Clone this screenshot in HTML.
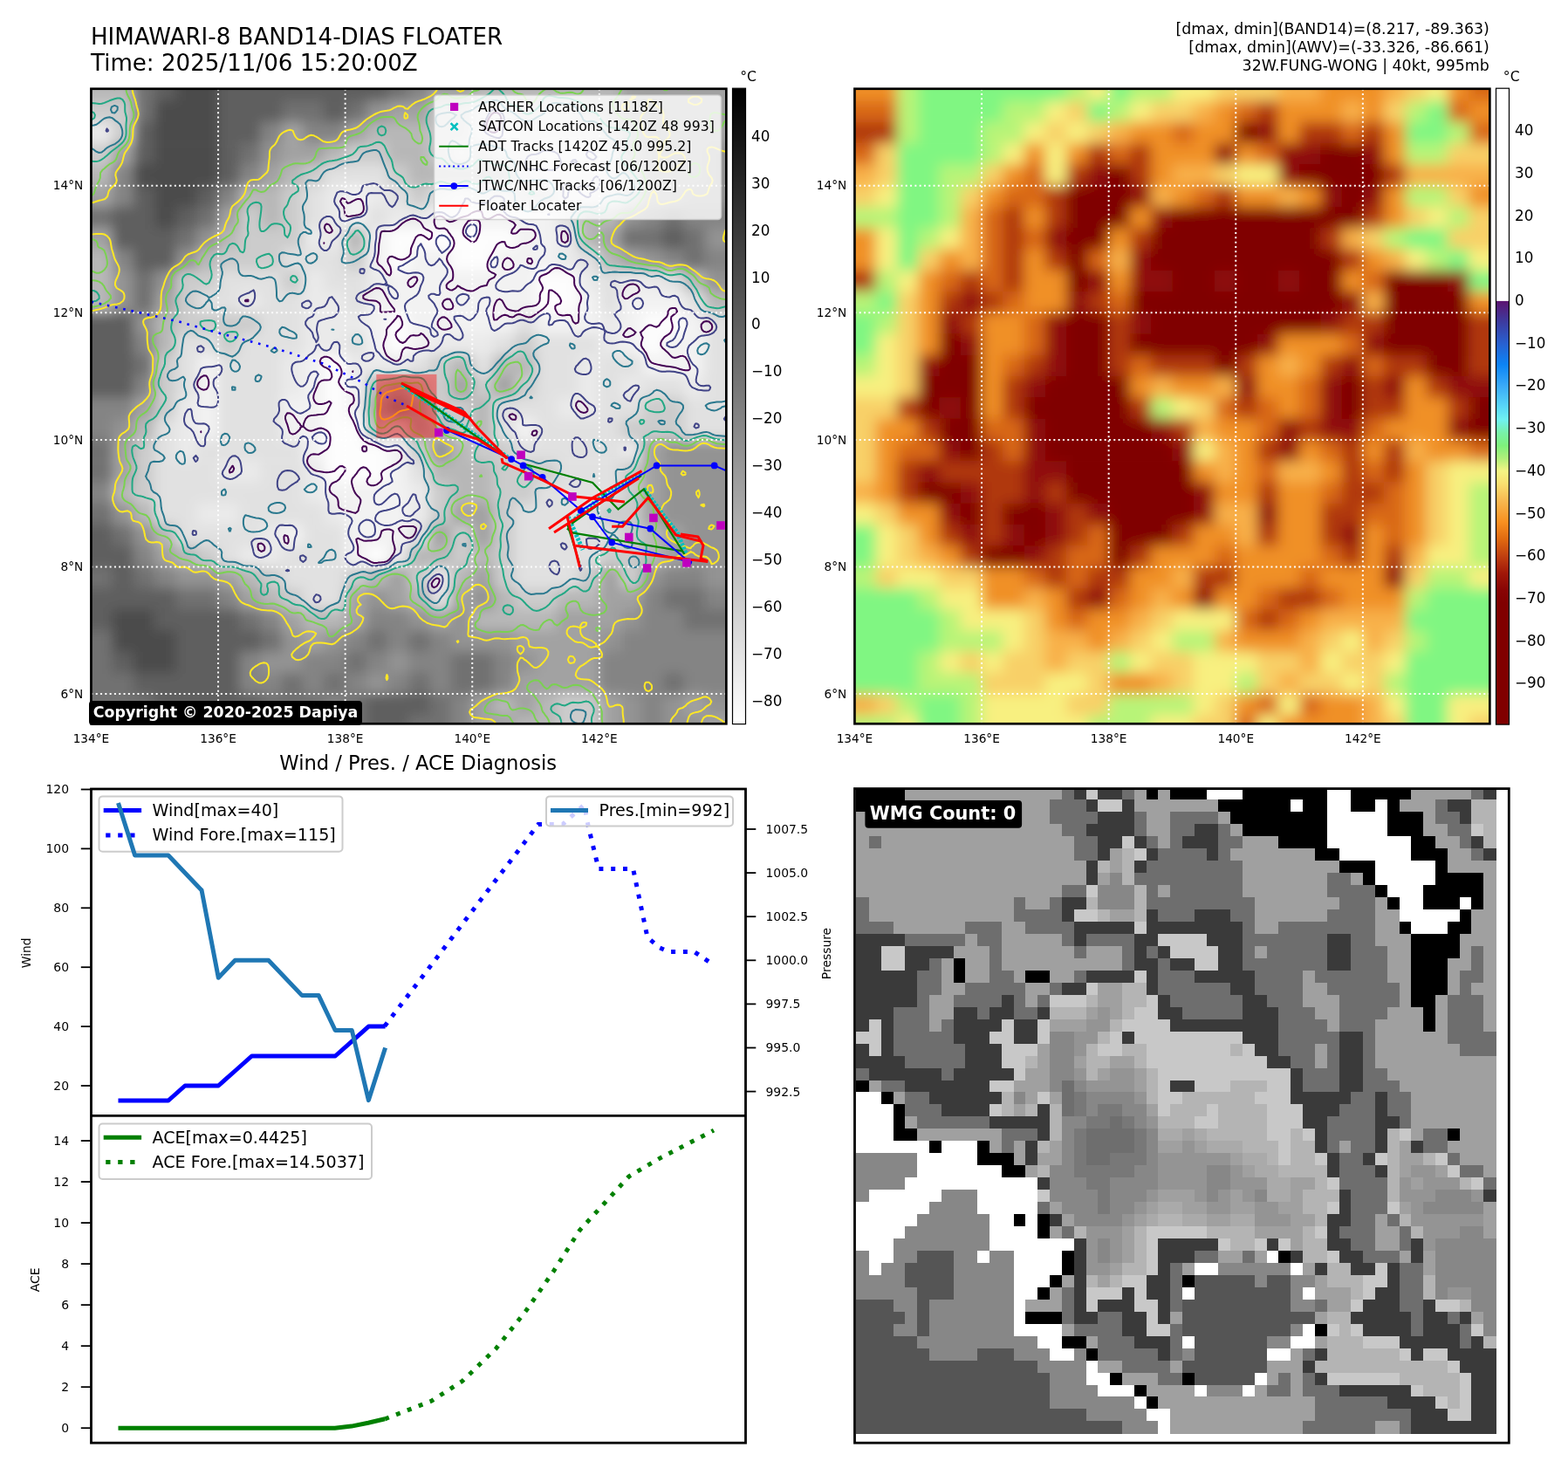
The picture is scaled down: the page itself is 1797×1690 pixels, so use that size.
<!DOCTYPE html><html><head><meta charset="utf-8"><style>html,body{margin:0;padding:0;background:#fff;overflow:hidden}</style></head><body><svg xmlns="http://www.w3.org/2000/svg" width="1797" height="1690" viewBox="0 0 1797 1690" style="font-family:'DejaVu Sans','Liberation Sans',sans-serif;display:block">
<rect width="100%" height="100%" fill="#fff"/>
<defs></defs>
<text x="104.00" y="50.90" font-size="26.1" text-anchor="start" font-weight="normal" fill="#000" >HIMAWARI-8 BAND14-DIAS FLOATER</text>
<text x="104.00" y="81.00" font-size="26.1" text-anchor="start" font-weight="normal" fill="#000" >Time: 2025/11/06 15:20:00Z</text>
<text x="1706.80" y="39.40" font-size="17.4" text-anchor="end" font-weight="normal" fill="#000" >[dmax, dmin](BAND14)=(8.217, -89.363)</text>
<text x="1706.80" y="60.25" font-size="17.4" text-anchor="end" font-weight="normal" fill="#000" >[dmax, dmin](AWV)=(-33.326, -86.661)</text>
<text x="1706.80" y="81.10" font-size="17.4" text-anchor="end" font-weight="normal" fill="#000" >32W.FUNG-WONG | 40kt, 995mb</text>
<clipPath id="cm1"><rect x="104.45" y="101.75" width="727.90" height="727.50"/></clipPath><filter id="bl1" x="-5%" y="-5%" width="110%" height="110%"><feGaussianBlur stdDeviation="7"/></filter><g clip-path="url(#cm1)"><g filter="url(#bl1)"><rect x="80.2" y="67.1" width="73.4" height="24.9" fill="#b7b7b7"/><rect x="153.0" y="67.1" width="24.9" height="24.9" fill="#717171"/><rect x="177.3" y="67.1" width="24.9" height="24.9" fill="#5e5e5e"/><rect x="201.5" y="67.1" width="49.1" height="24.9" fill="#4c4c4c"/><rect x="250.1" y="67.1" width="194.8" height="24.9" fill="#5e5e5e"/><rect x="444.2" y="67.1" width="24.9" height="24.9" fill="#717171"/><rect x="468.5" y="67.1" width="24.9" height="24.9" fill="#848484"/><rect x="492.8" y="67.1" width="49.1" height="24.9" fill="#a2a2a2"/><rect x="541.3" y="67.1" width="170.5" height="24.9" fill="#b7b7b7"/><rect x="711.2" y="67.1" width="146.2" height="24.9" fill="#a2a2a2"/><rect x="80.2" y="91.3" width="73.4" height="24.9" fill="#b7b7b7"/><rect x="153.0" y="91.3" width="24.9" height="24.9" fill="#717171"/><rect x="177.3" y="91.3" width="24.9" height="24.9" fill="#5e5e5e"/><rect x="201.5" y="91.3" width="49.1" height="24.9" fill="#4c4c4c"/><rect x="250.1" y="91.3" width="194.8" height="24.9" fill="#5e5e5e"/><rect x="444.2" y="91.3" width="24.9" height="24.9" fill="#717171"/><rect x="468.5" y="91.3" width="24.9" height="24.9" fill="#848484"/><rect x="492.8" y="91.3" width="49.1" height="24.9" fill="#a2a2a2"/><rect x="541.3" y="91.3" width="170.5" height="24.9" fill="#b7b7b7"/><rect x="711.2" y="91.3" width="146.2" height="24.9" fill="#a2a2a2"/><rect x="80.2" y="115.6" width="73.4" height="24.9" fill="#cccccc"/><rect x="153.0" y="115.6" width="24.9" height="24.9" fill="#717171"/><rect x="177.3" y="115.6" width="73.4" height="24.9" fill="#4c4c4c"/><rect x="250.1" y="115.6" width="73.4" height="24.9" fill="#5e5e5e"/><rect x="322.9" y="115.6" width="49.1" height="24.9" fill="#717171"/><rect x="371.4" y="115.6" width="24.9" height="24.9" fill="#5e5e5e"/><rect x="395.7" y="115.6" width="24.9" height="24.9" fill="#717171"/><rect x="420.0" y="115.6" width="24.9" height="24.9" fill="#939393"/><rect x="444.2" y="115.6" width="49.1" height="24.9" fill="#a2a2a2"/><rect x="492.8" y="115.6" width="49.1" height="24.9" fill="#cccccc"/><rect x="541.3" y="115.6" width="49.1" height="24.9" fill="#e1e1e1"/><rect x="589.9" y="115.6" width="24.9" height="24.9" fill="#cccccc"/><rect x="614.1" y="115.6" width="49.1" height="24.9" fill="#e1e1e1"/><rect x="662.7" y="115.6" width="24.9" height="24.9" fill="#cccccc"/><rect x="686.9" y="115.6" width="24.9" height="24.9" fill="#b7b7b7"/><rect x="711.2" y="115.6" width="24.9" height="24.9" fill="#a2a2a2"/><rect x="735.5" y="115.6" width="24.9" height="24.9" fill="#939393"/><rect x="759.7" y="115.6" width="97.7" height="24.9" fill="#a2a2a2"/><rect x="80.2" y="139.9" width="49.1" height="24.9" fill="#eaeaea"/><rect x="128.7" y="139.9" width="24.9" height="24.9" fill="#cccccc"/><rect x="153.0" y="139.9" width="24.9" height="24.9" fill="#5e5e5e"/><rect x="177.3" y="139.9" width="73.4" height="24.9" fill="#4c4c4c"/><rect x="250.1" y="139.9" width="49.1" height="24.9" fill="#5e5e5e"/><rect x="298.6" y="139.9" width="24.9" height="24.9" fill="#848484"/><rect x="322.9" y="139.9" width="24.9" height="24.9" fill="#a2a2a2"/><rect x="347.1" y="139.9" width="49.1" height="24.9" fill="#848484"/><rect x="395.7" y="139.9" width="24.9" height="24.9" fill="#a2a2a2"/><rect x="420.0" y="139.9" width="73.4" height="24.9" fill="#b7b7b7"/><rect x="492.8" y="139.9" width="49.1" height="24.9" fill="#cccccc"/><rect x="541.3" y="139.9" width="49.1" height="24.9" fill="#eaeaea"/><rect x="589.9" y="139.9" width="97.7" height="24.9" fill="#e1e1e1"/><rect x="686.9" y="139.9" width="24.9" height="24.9" fill="#cccccc"/><rect x="711.2" y="139.9" width="24.9" height="24.9" fill="#b7b7b7"/><rect x="735.5" y="139.9" width="24.9" height="24.9" fill="#939393"/><rect x="759.7" y="139.9" width="97.7" height="24.9" fill="#a2a2a2"/><rect x="80.2" y="164.2" width="49.1" height="24.9" fill="#cccccc"/><rect x="128.7" y="164.2" width="24.9" height="24.9" fill="#a2a2a2"/><rect x="153.0" y="164.2" width="24.9" height="24.9" fill="#5e5e5e"/><rect x="177.3" y="164.2" width="73.4" height="24.9" fill="#4c4c4c"/><rect x="250.1" y="164.2" width="24.9" height="24.9" fill="#5e5e5e"/><rect x="274.3" y="164.2" width="24.9" height="24.9" fill="#717171"/><rect x="298.6" y="164.2" width="24.9" height="24.9" fill="#939393"/><rect x="322.9" y="164.2" width="49.1" height="24.9" fill="#a2a2a2"/><rect x="371.4" y="164.2" width="24.9" height="24.9" fill="#b7b7b7"/><rect x="395.7" y="164.2" width="49.1" height="24.9" fill="#cccccc"/><rect x="444.2" y="164.2" width="49.1" height="24.9" fill="#b7b7b7"/><rect x="492.8" y="164.2" width="24.9" height="24.9" fill="#cccccc"/><rect x="517.0" y="164.2" width="24.9" height="24.9" fill="#e1e1e1"/><rect x="541.3" y="164.2" width="24.9" height="24.9" fill="#cccccc"/><rect x="565.6" y="164.2" width="49.1" height="24.9" fill="#e1e1e1"/><rect x="614.1" y="164.2" width="73.4" height="24.9" fill="#eaeaea"/><rect x="686.9" y="164.2" width="24.9" height="24.9" fill="#e1e1e1"/><rect x="711.2" y="164.2" width="24.9" height="24.9" fill="#b7b7b7"/><rect x="735.5" y="164.2" width="24.9" height="24.9" fill="#a2a2a2"/><rect x="759.7" y="164.2" width="24.9" height="24.9" fill="#939393"/><rect x="784.0" y="164.2" width="24.9" height="24.9" fill="#a2a2a2"/><rect x="808.3" y="164.2" width="49.1" height="24.9" fill="#939393"/><rect x="80.2" y="188.4" width="49.1" height="24.9" fill="#b7b7b7"/><rect x="128.7" y="188.4" width="24.9" height="24.9" fill="#848484"/><rect x="153.0" y="188.4" width="97.7" height="24.9" fill="#4c4c4c"/><rect x="250.1" y="188.4" width="24.9" height="24.9" fill="#5e5e5e"/><rect x="274.3" y="188.4" width="24.9" height="24.9" fill="#848484"/><rect x="298.6" y="188.4" width="24.9" height="24.9" fill="#a2a2a2"/><rect x="322.9" y="188.4" width="24.9" height="24.9" fill="#b7b7b7"/><rect x="347.1" y="188.4" width="24.9" height="24.9" fill="#cccccc"/><rect x="371.4" y="188.4" width="73.4" height="24.9" fill="#e1e1e1"/><rect x="444.2" y="188.4" width="24.9" height="24.9" fill="#cccccc"/><rect x="468.5" y="188.4" width="121.9" height="24.9" fill="#b7b7b7"/><rect x="589.9" y="188.4" width="24.9" height="24.9" fill="#e1e1e1"/><rect x="614.1" y="188.4" width="73.4" height="24.9" fill="#eaeaea"/><rect x="686.9" y="188.4" width="24.9" height="24.9" fill="#e1e1e1"/><rect x="711.2" y="188.4" width="24.9" height="24.9" fill="#cccccc"/><rect x="735.5" y="188.4" width="73.4" height="24.9" fill="#a2a2a2"/><rect x="808.3" y="188.4" width="49.1" height="24.9" fill="#939393"/><rect x="80.2" y="212.7" width="49.1" height="24.9" fill="#a2a2a2"/><rect x="128.7" y="212.7" width="24.9" height="24.9" fill="#848484"/><rect x="153.0" y="212.7" width="24.9" height="24.9" fill="#5e5e5e"/><rect x="177.3" y="212.7" width="49.1" height="24.9" fill="#4c4c4c"/><rect x="225.8" y="212.7" width="24.9" height="24.9" fill="#5e5e5e"/><rect x="250.1" y="212.7" width="24.9" height="24.9" fill="#848484"/><rect x="274.3" y="212.7" width="49.1" height="24.9" fill="#b7b7b7"/><rect x="322.9" y="212.7" width="24.9" height="24.9" fill="#cccccc"/><rect x="347.1" y="212.7" width="24.9" height="24.9" fill="#e1e1e1"/><rect x="371.4" y="212.7" width="24.9" height="24.9" fill="#eaeaea"/><rect x="395.7" y="212.7" width="24.9" height="24.9" fill="#f2f2f2"/><rect x="420.0" y="212.7" width="24.9" height="24.9" fill="#eaeaea"/><rect x="444.2" y="212.7" width="24.9" height="24.9" fill="#e1e1e1"/><rect x="468.5" y="212.7" width="24.9" height="24.9" fill="#cccccc"/><rect x="492.8" y="212.7" width="24.9" height="24.9" fill="#e1e1e1"/><rect x="517.0" y="212.7" width="24.9" height="24.9" fill="#eaeaea"/><rect x="541.3" y="212.7" width="49.1" height="24.9" fill="#e1e1e1"/><rect x="589.9" y="212.7" width="49.1" height="24.9" fill="#cccccc"/><rect x="638.4" y="212.7" width="49.1" height="24.9" fill="#eaeaea"/><rect x="686.9" y="212.7" width="24.9" height="24.9" fill="#e1e1e1"/><rect x="711.2" y="212.7" width="24.9" height="24.9" fill="#cccccc"/><rect x="735.5" y="212.7" width="49.1" height="24.9" fill="#a2a2a2"/><rect x="784.0" y="212.7" width="73.4" height="24.9" fill="#939393"/><rect x="80.2" y="237.0" width="49.1" height="24.9" fill="#717171"/><rect x="128.7" y="237.0" width="49.1" height="24.9" fill="#5e5e5e"/><rect x="177.3" y="237.0" width="24.9" height="24.9" fill="#4c4c4c"/><rect x="201.5" y="237.0" width="24.9" height="24.9" fill="#5e5e5e"/><rect x="225.8" y="237.0" width="24.9" height="24.9" fill="#717171"/><rect x="250.1" y="237.0" width="24.9" height="24.9" fill="#a2a2a2"/><rect x="274.3" y="237.0" width="24.9" height="24.9" fill="#cccccc"/><rect x="298.6" y="237.0" width="24.9" height="24.9" fill="#b7b7b7"/><rect x="322.9" y="237.0" width="24.9" height="24.9" fill="#cccccc"/><rect x="347.1" y="237.0" width="24.9" height="24.9" fill="#e1e1e1"/><rect x="371.4" y="237.0" width="24.9" height="24.9" fill="#eaeaea"/><rect x="395.7" y="237.0" width="24.9" height="24.9" fill="#f2f2f2"/><rect x="420.0" y="237.0" width="24.9" height="24.9" fill="#e1e1e1"/><rect x="444.2" y="237.0" width="49.1" height="24.9" fill="#eaeaea"/><rect x="492.8" y="237.0" width="146.2" height="24.9" fill="#f2f2f2"/><rect x="638.4" y="237.0" width="24.9" height="24.9" fill="#e1e1e1"/><rect x="662.7" y="237.0" width="49.1" height="24.9" fill="#b7b7b7"/><rect x="711.2" y="237.0" width="24.9" height="24.9" fill="#939393"/><rect x="735.5" y="237.0" width="24.9" height="24.9" fill="#848484"/><rect x="759.7" y="237.0" width="24.9" height="24.9" fill="#717171"/><rect x="784.0" y="237.0" width="73.4" height="24.9" fill="#848484"/><rect x="80.2" y="261.2" width="49.1" height="24.9" fill="#a2a2a2"/><rect x="128.7" y="261.2" width="73.4" height="24.9" fill="#5e5e5e"/><rect x="201.5" y="261.2" width="24.9" height="24.9" fill="#717171"/><rect x="225.8" y="261.2" width="24.9" height="24.9" fill="#939393"/><rect x="250.1" y="261.2" width="24.9" height="24.9" fill="#b7b7b7"/><rect x="274.3" y="261.2" width="73.4" height="24.9" fill="#cccccc"/><rect x="347.1" y="261.2" width="49.1" height="24.9" fill="#eaeaea"/><rect x="395.7" y="261.2" width="24.9" height="24.9" fill="#b7b7b7"/><rect x="420.0" y="261.2" width="24.9" height="24.9" fill="#f2f2f2"/><rect x="444.2" y="261.2" width="146.2" height="24.9" fill="#fdfdfd"/><rect x="589.9" y="261.2" width="49.1" height="24.9" fill="#f2f2f2"/><rect x="638.4" y="261.2" width="24.9" height="24.9" fill="#eaeaea"/><rect x="662.7" y="261.2" width="24.9" height="24.9" fill="#b7b7b7"/><rect x="686.9" y="261.2" width="24.9" height="24.9" fill="#a2a2a2"/><rect x="711.2" y="261.2" width="49.1" height="24.9" fill="#717171"/><rect x="759.7" y="261.2" width="24.9" height="24.9" fill="#5e5e5e"/><rect x="784.0" y="261.2" width="24.9" height="24.9" fill="#717171"/><rect x="808.3" y="261.2" width="49.1" height="24.9" fill="#939393"/><rect x="80.2" y="285.5" width="49.1" height="24.9" fill="#b7b7b7"/><rect x="128.7" y="285.5" width="24.9" height="24.9" fill="#848484"/><rect x="153.0" y="285.5" width="49.1" height="24.9" fill="#5e5e5e"/><rect x="201.5" y="285.5" width="24.9" height="24.9" fill="#939393"/><rect x="225.8" y="285.5" width="24.9" height="24.9" fill="#b7b7b7"/><rect x="250.1" y="285.5" width="73.4" height="24.9" fill="#cccccc"/><rect x="322.9" y="285.5" width="73.4" height="24.9" fill="#e1e1e1"/><rect x="395.7" y="285.5" width="24.9" height="24.9" fill="#cccccc"/><rect x="420.0" y="285.5" width="24.9" height="24.9" fill="#f2f2f2"/><rect x="444.2" y="285.5" width="24.9" height="24.9" fill="#fdfdfd"/><rect x="468.5" y="285.5" width="49.1" height="24.9" fill="#f2f2f2"/><rect x="517.0" y="285.5" width="49.1" height="24.9" fill="#fdfdfd"/><rect x="565.6" y="285.5" width="73.4" height="24.9" fill="#f2f2f2"/><rect x="638.4" y="285.5" width="24.9" height="24.9" fill="#eaeaea"/><rect x="662.7" y="285.5" width="24.9" height="24.9" fill="#e1e1e1"/><rect x="686.9" y="285.5" width="24.9" height="24.9" fill="#b7b7b7"/><rect x="711.2" y="285.5" width="24.9" height="24.9" fill="#a2a2a2"/><rect x="735.5" y="285.5" width="24.9" height="24.9" fill="#939393"/><rect x="759.7" y="285.5" width="24.9" height="24.9" fill="#848484"/><rect x="784.0" y="285.5" width="24.9" height="24.9" fill="#717171"/><rect x="808.3" y="285.5" width="49.1" height="24.9" fill="#848484"/><rect x="80.2" y="309.8" width="49.1" height="24.9" fill="#b7b7b7"/><rect x="128.7" y="309.8" width="24.9" height="24.9" fill="#939393"/><rect x="153.0" y="309.8" width="24.9" height="24.9" fill="#717171"/><rect x="177.3" y="309.8" width="24.9" height="24.9" fill="#939393"/><rect x="201.5" y="309.8" width="49.1" height="24.9" fill="#cccccc"/><rect x="250.1" y="309.8" width="73.4" height="24.9" fill="#e1e1e1"/><rect x="322.9" y="309.8" width="24.9" height="24.9" fill="#cccccc"/><rect x="347.1" y="309.8" width="24.9" height="24.9" fill="#eaeaea"/><rect x="371.4" y="309.8" width="49.1" height="24.9" fill="#e1e1e1"/><rect x="420.0" y="309.8" width="24.9" height="24.9" fill="#eaeaea"/><rect x="444.2" y="309.8" width="170.5" height="24.9" fill="#f2f2f2"/><rect x="614.1" y="309.8" width="49.1" height="24.9" fill="#fdfdfd"/><rect x="662.7" y="309.8" width="24.9" height="24.9" fill="#eaeaea"/><rect x="686.9" y="309.8" width="24.9" height="24.9" fill="#e1e1e1"/><rect x="711.2" y="309.8" width="49.1" height="24.9" fill="#eaeaea"/><rect x="759.7" y="309.8" width="24.9" height="24.9" fill="#e1e1e1"/><rect x="784.0" y="309.8" width="24.9" height="24.9" fill="#b7b7b7"/><rect x="808.3" y="309.8" width="49.1" height="24.9" fill="#939393"/><rect x="80.2" y="334.0" width="49.1" height="24.9" fill="#b7b7b7"/><rect x="128.7" y="334.0" width="24.9" height="24.9" fill="#939393"/><rect x="153.0" y="334.0" width="24.9" height="24.9" fill="#717171"/><rect x="177.3" y="334.0" width="24.9" height="24.9" fill="#a2a2a2"/><rect x="201.5" y="334.0" width="24.9" height="24.9" fill="#cccccc"/><rect x="225.8" y="334.0" width="49.1" height="24.9" fill="#e1e1e1"/><rect x="274.3" y="334.0" width="24.9" height="24.9" fill="#eaeaea"/><rect x="298.6" y="334.0" width="49.1" height="24.9" fill="#e1e1e1"/><rect x="347.1" y="334.0" width="49.1" height="24.9" fill="#eaeaea"/><rect x="395.7" y="334.0" width="24.9" height="24.9" fill="#e1e1e1"/><rect x="420.0" y="334.0" width="194.8" height="24.9" fill="#f2f2f2"/><rect x="614.1" y="334.0" width="49.1" height="24.9" fill="#fdfdfd"/><rect x="662.7" y="334.0" width="24.9" height="24.9" fill="#f2f2f2"/><rect x="686.9" y="334.0" width="24.9" height="24.9" fill="#e1e1e1"/><rect x="711.2" y="334.0" width="73.4" height="24.9" fill="#f2f2f2"/><rect x="784.0" y="334.0" width="24.9" height="24.9" fill="#e1e1e1"/><rect x="808.3" y="334.0" width="49.1" height="24.9" fill="#b7b7b7"/><rect x="80.2" y="358.3" width="73.4" height="24.9" fill="#5e5e5e"/><rect x="153.0" y="358.3" width="24.9" height="24.9" fill="#939393"/><rect x="177.3" y="358.3" width="24.9" height="24.9" fill="#b7b7b7"/><rect x="201.5" y="358.3" width="97.7" height="24.9" fill="#cccccc"/><rect x="298.6" y="358.3" width="49.1" height="24.9" fill="#e1e1e1"/><rect x="347.1" y="358.3" width="73.4" height="24.9" fill="#eaeaea"/><rect x="420.0" y="358.3" width="24.9" height="24.9" fill="#f2f2f2"/><rect x="444.2" y="358.3" width="24.9" height="24.9" fill="#fdfdfd"/><rect x="468.5" y="358.3" width="121.9" height="24.9" fill="#f2f2f2"/><rect x="589.9" y="358.3" width="24.9" height="24.9" fill="#e1e1e1"/><rect x="614.1" y="358.3" width="73.4" height="24.9" fill="#f2f2f2"/><rect x="686.9" y="358.3" width="24.9" height="24.9" fill="#eaeaea"/><rect x="711.2" y="358.3" width="24.9" height="24.9" fill="#f2f2f2"/><rect x="735.5" y="358.3" width="49.1" height="24.9" fill="#fdfdfd"/><rect x="784.0" y="358.3" width="24.9" height="24.9" fill="#f2f2f2"/><rect x="808.3" y="358.3" width="49.1" height="24.9" fill="#e1e1e1"/><rect x="80.2" y="382.6" width="73.4" height="24.9" fill="#5e5e5e"/><rect x="153.0" y="382.6" width="24.9" height="24.9" fill="#848484"/><rect x="177.3" y="382.6" width="24.9" height="24.9" fill="#b7b7b7"/><rect x="201.5" y="382.6" width="49.1" height="24.9" fill="#e1e1e1"/><rect x="250.1" y="382.6" width="24.9" height="24.9" fill="#cccccc"/><rect x="274.3" y="382.6" width="73.4" height="24.9" fill="#e1e1e1"/><rect x="347.1" y="382.6" width="49.1" height="24.9" fill="#eaeaea"/><rect x="395.7" y="382.6" width="24.9" height="24.9" fill="#e1e1e1"/><rect x="420.0" y="382.6" width="24.9" height="24.9" fill="#f2f2f2"/><rect x="444.2" y="382.6" width="24.9" height="24.9" fill="#fdfdfd"/><rect x="468.5" y="382.6" width="24.9" height="24.9" fill="#f2f2f2"/><rect x="492.8" y="382.6" width="73.4" height="24.9" fill="#eaeaea"/><rect x="565.6" y="382.6" width="24.9" height="24.9" fill="#e1e1e1"/><rect x="589.9" y="382.6" width="24.9" height="24.9" fill="#cccccc"/><rect x="614.1" y="382.6" width="73.4" height="24.9" fill="#e1e1e1"/><rect x="686.9" y="382.6" width="24.9" height="24.9" fill="#eaeaea"/><rect x="711.2" y="382.6" width="24.9" height="24.9" fill="#f2f2f2"/><rect x="735.5" y="382.6" width="24.9" height="24.9" fill="#fdfdfd"/><rect x="759.7" y="382.6" width="49.1" height="24.9" fill="#f2f2f2"/><rect x="808.3" y="382.6" width="49.1" height="24.9" fill="#e1e1e1"/><rect x="80.2" y="406.9" width="73.4" height="24.9" fill="#5e5e5e"/><rect x="153.0" y="406.9" width="24.9" height="24.9" fill="#717171"/><rect x="177.3" y="406.9" width="24.9" height="24.9" fill="#cccccc"/><rect x="201.5" y="406.9" width="24.9" height="24.9" fill="#e1e1e1"/><rect x="225.8" y="406.9" width="24.9" height="24.9" fill="#f2f2f2"/><rect x="250.1" y="406.9" width="73.4" height="24.9" fill="#e1e1e1"/><rect x="322.9" y="406.9" width="24.9" height="24.9" fill="#eaeaea"/><rect x="347.1" y="406.9" width="24.9" height="24.9" fill="#f2f2f2"/><rect x="371.4" y="406.9" width="24.9" height="24.9" fill="#fdfdfd"/><rect x="395.7" y="406.9" width="73.4" height="24.9" fill="#eaeaea"/><rect x="468.5" y="406.9" width="24.9" height="24.9" fill="#e1e1e1"/><rect x="492.8" y="406.9" width="24.9" height="24.9" fill="#cccccc"/><rect x="517.0" y="406.9" width="24.9" height="24.9" fill="#b7b7b7"/><rect x="541.3" y="406.9" width="24.9" height="24.9" fill="#e1e1e1"/><rect x="565.6" y="406.9" width="49.1" height="24.9" fill="#b7b7b7"/><rect x="614.1" y="406.9" width="49.1" height="24.9" fill="#e1e1e1"/><rect x="662.7" y="406.9" width="24.9" height="24.9" fill="#eaeaea"/><rect x="686.9" y="406.9" width="49.1" height="24.9" fill="#e1e1e1"/><rect x="735.5" y="406.9" width="73.4" height="24.9" fill="#f2f2f2"/><rect x="808.3" y="406.9" width="49.1" height="24.9" fill="#e1e1e1"/><rect x="80.2" y="431.1" width="73.4" height="24.9" fill="#5e5e5e"/><rect x="153.0" y="431.1" width="24.9" height="24.9" fill="#848484"/><rect x="177.3" y="431.1" width="24.9" height="24.9" fill="#cccccc"/><rect x="201.5" y="431.1" width="24.9" height="24.9" fill="#e1e1e1"/><rect x="225.8" y="431.1" width="24.9" height="24.9" fill="#f2f2f2"/><rect x="250.1" y="431.1" width="73.4" height="24.9" fill="#e1e1e1"/><rect x="322.9" y="431.1" width="24.9" height="24.9" fill="#eaeaea"/><rect x="347.1" y="431.1" width="24.9" height="24.9" fill="#f2f2f2"/><rect x="371.4" y="431.1" width="24.9" height="24.9" fill="#fdfdfd"/><rect x="395.7" y="431.1" width="24.9" height="24.9" fill="#f2f2f2"/><rect x="420.0" y="431.1" width="24.9" height="24.9" fill="#b7b7b7"/><rect x="444.2" y="431.1" width="24.9" height="24.9" fill="#a2a2a2"/><rect x="468.5" y="431.1" width="24.9" height="24.9" fill="#b7b7b7"/><rect x="492.8" y="431.1" width="24.9" height="24.9" fill="#cccccc"/><rect x="517.0" y="431.1" width="24.9" height="24.9" fill="#a2a2a2"/><rect x="541.3" y="431.1" width="24.9" height="24.9" fill="#cccccc"/><rect x="565.6" y="431.1" width="24.9" height="24.9" fill="#a2a2a2"/><rect x="589.9" y="431.1" width="24.9" height="24.9" fill="#cccccc"/><rect x="614.1" y="431.1" width="49.1" height="24.9" fill="#e1e1e1"/><rect x="662.7" y="431.1" width="24.9" height="24.9" fill="#eaeaea"/><rect x="686.9" y="431.1" width="24.9" height="24.9" fill="#e1e1e1"/><rect x="711.2" y="431.1" width="24.9" height="24.9" fill="#eaeaea"/><rect x="735.5" y="431.1" width="49.1" height="24.9" fill="#e1e1e1"/><rect x="784.0" y="431.1" width="24.9" height="24.9" fill="#eaeaea"/><rect x="808.3" y="431.1" width="49.1" height="24.9" fill="#e1e1e1"/><rect x="80.2" y="455.4" width="73.4" height="24.9" fill="#848484"/><rect x="153.0" y="455.4" width="24.9" height="24.9" fill="#a2a2a2"/><rect x="177.3" y="455.4" width="24.9" height="24.9" fill="#cccccc"/><rect x="201.5" y="455.4" width="24.9" height="24.9" fill="#eaeaea"/><rect x="225.8" y="455.4" width="24.9" height="24.9" fill="#f2f2f2"/><rect x="250.1" y="455.4" width="73.4" height="24.9" fill="#e1e1e1"/><rect x="322.9" y="455.4" width="49.1" height="24.9" fill="#f2f2f2"/><rect x="371.4" y="455.4" width="24.9" height="24.9" fill="#fdfdfd"/><rect x="395.7" y="455.4" width="24.9" height="24.9" fill="#f2f2f2"/><rect x="420.0" y="455.4" width="24.9" height="24.9" fill="#a2a2a2"/><rect x="444.2" y="455.4" width="24.9" height="24.9" fill="#848484"/><rect x="468.5" y="455.4" width="24.9" height="24.9" fill="#a2a2a2"/><rect x="492.8" y="455.4" width="49.1" height="24.9" fill="#cccccc"/><rect x="541.3" y="455.4" width="24.9" height="24.9" fill="#b7b7b7"/><rect x="565.6" y="455.4" width="73.4" height="24.9" fill="#e1e1e1"/><rect x="638.4" y="455.4" width="49.1" height="24.9" fill="#eaeaea"/><rect x="686.9" y="455.4" width="49.1" height="24.9" fill="#e1e1e1"/><rect x="735.5" y="455.4" width="49.1" height="24.9" fill="#cccccc"/><rect x="784.0" y="455.4" width="73.4" height="24.9" fill="#e1e1e1"/><rect x="80.2" y="479.7" width="49.1" height="24.9" fill="#848484"/><rect x="128.7" y="479.7" width="24.9" height="24.9" fill="#939393"/><rect x="153.0" y="479.7" width="24.9" height="24.9" fill="#b7b7b7"/><rect x="177.3" y="479.7" width="24.9" height="24.9" fill="#e1e1e1"/><rect x="201.5" y="479.7" width="24.9" height="24.9" fill="#eaeaea"/><rect x="225.8" y="479.7" width="24.9" height="24.9" fill="#f2f2f2"/><rect x="250.1" y="479.7" width="73.4" height="24.9" fill="#e1e1e1"/><rect x="322.9" y="479.7" width="49.1" height="24.9" fill="#f2f2f2"/><rect x="371.4" y="479.7" width="49.1" height="24.9" fill="#fdfdfd"/><rect x="420.0" y="479.7" width="24.9" height="24.9" fill="#b7b7b7"/><rect x="444.2" y="479.7" width="24.9" height="24.9" fill="#cccccc"/><rect x="468.5" y="479.7" width="24.9" height="24.9" fill="#a2a2a2"/><rect x="492.8" y="479.7" width="24.9" height="24.9" fill="#b7b7b7"/><rect x="517.0" y="479.7" width="24.9" height="24.9" fill="#cccccc"/><rect x="541.3" y="479.7" width="24.9" height="24.9" fill="#b7b7b7"/><rect x="565.6" y="479.7" width="24.9" height="24.9" fill="#e1e1e1"/><rect x="589.9" y="479.7" width="24.9" height="24.9" fill="#f2f2f2"/><rect x="614.1" y="479.7" width="97.7" height="24.9" fill="#e1e1e1"/><rect x="711.2" y="479.7" width="73.4" height="24.9" fill="#cccccc"/><rect x="784.0" y="479.7" width="73.4" height="24.9" fill="#e1e1e1"/><rect x="80.2" y="503.9" width="49.1" height="24.9" fill="#717171"/><rect x="128.7" y="503.9" width="24.9" height="24.9" fill="#a2a2a2"/><rect x="153.0" y="503.9" width="24.9" height="24.9" fill="#cccccc"/><rect x="177.3" y="503.9" width="24.9" height="24.9" fill="#e1e1e1"/><rect x="201.5" y="503.9" width="24.9" height="24.9" fill="#eaeaea"/><rect x="225.8" y="503.9" width="121.9" height="24.9" fill="#e1e1e1"/><rect x="347.1" y="503.9" width="24.9" height="24.9" fill="#f2f2f2"/><rect x="371.4" y="503.9" width="73.4" height="24.9" fill="#fdfdfd"/><rect x="444.2" y="503.9" width="24.9" height="24.9" fill="#f2f2f2"/><rect x="468.5" y="503.9" width="24.9" height="24.9" fill="#cccccc"/><rect x="492.8" y="503.9" width="24.9" height="24.9" fill="#939393"/><rect x="517.0" y="503.9" width="24.9" height="24.9" fill="#b7b7b7"/><rect x="541.3" y="503.9" width="49.1" height="24.9" fill="#cccccc"/><rect x="589.9" y="503.9" width="121.9" height="24.9" fill="#e1e1e1"/><rect x="711.2" y="503.9" width="24.9" height="24.9" fill="#eaeaea"/><rect x="735.5" y="503.9" width="24.9" height="24.9" fill="#a2a2a2"/><rect x="759.7" y="503.9" width="97.7" height="24.9" fill="#939393"/><rect x="80.2" y="528.2" width="49.1" height="24.9" fill="#717171"/><rect x="128.7" y="528.2" width="24.9" height="24.9" fill="#a2a2a2"/><rect x="153.0" y="528.2" width="24.9" height="24.9" fill="#cccccc"/><rect x="177.3" y="528.2" width="73.4" height="24.9" fill="#e1e1e1"/><rect x="250.1" y="528.2" width="49.1" height="24.9" fill="#eaeaea"/><rect x="298.6" y="528.2" width="49.1" height="24.9" fill="#e1e1e1"/><rect x="347.1" y="528.2" width="24.9" height="24.9" fill="#eaeaea"/><rect x="371.4" y="528.2" width="73.4" height="24.9" fill="#fdfdfd"/><rect x="444.2" y="528.2" width="24.9" height="24.9" fill="#f2f2f2"/><rect x="468.5" y="528.2" width="24.9" height="24.9" fill="#e1e1e1"/><rect x="492.8" y="528.2" width="73.4" height="24.9" fill="#b7b7b7"/><rect x="565.6" y="528.2" width="73.4" height="24.9" fill="#cccccc"/><rect x="638.4" y="528.2" width="73.4" height="24.9" fill="#e1e1e1"/><rect x="711.2" y="528.2" width="24.9" height="24.9" fill="#cccccc"/><rect x="735.5" y="528.2" width="24.9" height="24.9" fill="#a2a2a2"/><rect x="759.7" y="528.2" width="97.7" height="24.9" fill="#939393"/><rect x="80.2" y="552.5" width="49.1" height="24.9" fill="#848484"/><rect x="128.7" y="552.5" width="24.9" height="24.9" fill="#b7b7b7"/><rect x="153.0" y="552.5" width="24.9" height="24.9" fill="#cccccc"/><rect x="177.3" y="552.5" width="170.5" height="24.9" fill="#e1e1e1"/><rect x="347.1" y="552.5" width="24.9" height="24.9" fill="#eaeaea"/><rect x="371.4" y="552.5" width="97.7" height="24.9" fill="#f2f2f2"/><rect x="468.5" y="552.5" width="24.9" height="24.9" fill="#eaeaea"/><rect x="492.8" y="552.5" width="24.9" height="24.9" fill="#cccccc"/><rect x="517.0" y="552.5" width="49.1" height="24.9" fill="#b7b7b7"/><rect x="565.6" y="552.5" width="49.1" height="24.9" fill="#cccccc"/><rect x="614.1" y="552.5" width="97.7" height="24.9" fill="#e1e1e1"/><rect x="711.2" y="552.5" width="24.9" height="24.9" fill="#cccccc"/><rect x="735.5" y="552.5" width="24.9" height="24.9" fill="#a2a2a2"/><rect x="759.7" y="552.5" width="97.7" height="24.9" fill="#939393"/><rect x="80.2" y="576.8" width="49.1" height="24.9" fill="#717171"/><rect x="128.7" y="576.8" width="24.9" height="24.9" fill="#939393"/><rect x="153.0" y="576.8" width="24.9" height="24.9" fill="#b7b7b7"/><rect x="177.3" y="576.8" width="49.1" height="24.9" fill="#e1e1e1"/><rect x="225.8" y="576.8" width="49.1" height="24.9" fill="#eaeaea"/><rect x="274.3" y="576.8" width="97.7" height="24.9" fill="#e1e1e1"/><rect x="371.4" y="576.8" width="24.9" height="24.9" fill="#eaeaea"/><rect x="395.7" y="576.8" width="73.4" height="24.9" fill="#f2f2f2"/><rect x="468.5" y="576.8" width="24.9" height="24.9" fill="#eaeaea"/><rect x="492.8" y="576.8" width="24.9" height="24.9" fill="#cccccc"/><rect x="517.0" y="576.8" width="49.1" height="24.9" fill="#a2a2a2"/><rect x="565.6" y="576.8" width="24.9" height="24.9" fill="#cccccc"/><rect x="589.9" y="576.8" width="97.7" height="24.9" fill="#e1e1e1"/><rect x="686.9" y="576.8" width="49.1" height="24.9" fill="#cccccc"/><rect x="735.5" y="576.8" width="24.9" height="24.9" fill="#a2a2a2"/><rect x="759.7" y="576.8" width="97.7" height="24.9" fill="#939393"/><rect x="80.2" y="601.0" width="49.1" height="24.9" fill="#5e5e5e"/><rect x="128.7" y="601.0" width="24.9" height="24.9" fill="#717171"/><rect x="153.0" y="601.0" width="24.9" height="24.9" fill="#939393"/><rect x="177.3" y="601.0" width="24.9" height="24.9" fill="#b7b7b7"/><rect x="201.5" y="601.0" width="97.7" height="24.9" fill="#e1e1e1"/><rect x="298.6" y="601.0" width="24.9" height="24.9" fill="#eaeaea"/><rect x="322.9" y="601.0" width="24.9" height="24.9" fill="#f2f2f2"/><rect x="347.1" y="601.0" width="49.1" height="24.9" fill="#e1e1e1"/><rect x="395.7" y="601.0" width="73.4" height="24.9" fill="#f2f2f2"/><rect x="468.5" y="601.0" width="24.9" height="24.9" fill="#e1e1e1"/><rect x="492.8" y="601.0" width="24.9" height="24.9" fill="#a2a2a2"/><rect x="517.0" y="601.0" width="24.9" height="24.9" fill="#cccccc"/><rect x="541.3" y="601.0" width="24.9" height="24.9" fill="#a2a2a2"/><rect x="565.6" y="601.0" width="24.9" height="24.9" fill="#cccccc"/><rect x="589.9" y="601.0" width="121.9" height="24.9" fill="#e1e1e1"/><rect x="711.2" y="601.0" width="24.9" height="24.9" fill="#cccccc"/><rect x="735.5" y="601.0" width="24.9" height="24.9" fill="#b7b7b7"/><rect x="759.7" y="601.0" width="24.9" height="24.9" fill="#a2a2a2"/><rect x="784.0" y="601.0" width="73.4" height="24.9" fill="#939393"/><rect x="80.2" y="625.3" width="73.4" height="24.9" fill="#5e5e5e"/><rect x="153.0" y="625.3" width="24.9" height="24.9" fill="#848484"/><rect x="177.3" y="625.3" width="24.9" height="24.9" fill="#a2a2a2"/><rect x="201.5" y="625.3" width="24.9" height="24.9" fill="#b7b7b7"/><rect x="225.8" y="625.3" width="24.9" height="24.9" fill="#cccccc"/><rect x="250.1" y="625.3" width="24.9" height="24.9" fill="#e1e1e1"/><rect x="274.3" y="625.3" width="49.1" height="24.9" fill="#eaeaea"/><rect x="322.9" y="625.3" width="73.4" height="24.9" fill="#e1e1e1"/><rect x="395.7" y="625.3" width="24.9" height="24.9" fill="#f2f2f2"/><rect x="420.0" y="625.3" width="24.9" height="24.9" fill="#fdfdfd"/><rect x="444.2" y="625.3" width="24.9" height="24.9" fill="#eaeaea"/><rect x="468.5" y="625.3" width="49.1" height="24.9" fill="#b7b7b7"/><rect x="517.0" y="625.3" width="24.9" height="24.9" fill="#cccccc"/><rect x="541.3" y="625.3" width="24.9" height="24.9" fill="#b7b7b7"/><rect x="565.6" y="625.3" width="24.9" height="24.9" fill="#cccccc"/><rect x="589.9" y="625.3" width="97.7" height="24.9" fill="#e1e1e1"/><rect x="686.9" y="625.3" width="49.1" height="24.9" fill="#cccccc"/><rect x="735.5" y="625.3" width="24.9" height="24.9" fill="#b7b7b7"/><rect x="759.7" y="625.3" width="24.9" height="24.9" fill="#a2a2a2"/><rect x="784.0" y="625.3" width="73.4" height="24.9" fill="#939393"/><rect x="80.2" y="649.6" width="49.1" height="24.9" fill="#717171"/><rect x="128.7" y="649.6" width="24.9" height="24.9" fill="#5e5e5e"/><rect x="153.0" y="649.6" width="24.9" height="24.9" fill="#717171"/><rect x="177.3" y="649.6" width="24.9" height="24.9" fill="#848484"/><rect x="201.5" y="649.6" width="49.1" height="24.9" fill="#939393"/><rect x="250.1" y="649.6" width="24.9" height="24.9" fill="#a2a2a2"/><rect x="274.3" y="649.6" width="24.9" height="24.9" fill="#b7b7b7"/><rect x="298.6" y="649.6" width="24.9" height="24.9" fill="#cccccc"/><rect x="322.9" y="649.6" width="73.4" height="24.9" fill="#e1e1e1"/><rect x="395.7" y="649.6" width="24.9" height="24.9" fill="#cccccc"/><rect x="420.0" y="649.6" width="24.9" height="24.9" fill="#b7b7b7"/><rect x="444.2" y="649.6" width="24.9" height="24.9" fill="#a2a2a2"/><rect x="468.5" y="649.6" width="24.9" height="24.9" fill="#cccccc"/><rect x="492.8" y="649.6" width="24.9" height="24.9" fill="#eaeaea"/><rect x="517.0" y="649.6" width="24.9" height="24.9" fill="#b7b7b7"/><rect x="541.3" y="649.6" width="24.9" height="24.9" fill="#a2a2a2"/><rect x="565.6" y="649.6" width="24.9" height="24.9" fill="#cccccc"/><rect x="589.9" y="649.6" width="73.4" height="24.9" fill="#e1e1e1"/><rect x="662.7" y="649.6" width="24.9" height="24.9" fill="#cccccc"/><rect x="686.9" y="649.6" width="24.9" height="24.9" fill="#a2a2a2"/><rect x="711.2" y="649.6" width="24.9" height="24.9" fill="#cccccc"/><rect x="735.5" y="649.6" width="24.9" height="24.9" fill="#939393"/><rect x="759.7" y="649.6" width="49.1" height="24.9" fill="#848484"/><rect x="808.3" y="649.6" width="49.1" height="24.9" fill="#939393"/><rect x="80.2" y="673.8" width="121.9" height="24.9" fill="#5e5e5e"/><rect x="201.5" y="673.8" width="49.1" height="24.9" fill="#717171"/><rect x="250.1" y="673.8" width="24.9" height="24.9" fill="#848484"/><rect x="274.3" y="673.8" width="24.9" height="24.9" fill="#a2a2a2"/><rect x="298.6" y="673.8" width="24.9" height="24.9" fill="#b7b7b7"/><rect x="322.9" y="673.8" width="24.9" height="24.9" fill="#cccccc"/><rect x="347.1" y="673.8" width="49.1" height="24.9" fill="#e1e1e1"/><rect x="395.7" y="673.8" width="24.9" height="24.9" fill="#a2a2a2"/><rect x="420.0" y="673.8" width="24.9" height="24.9" fill="#939393"/><rect x="444.2" y="673.8" width="24.9" height="24.9" fill="#a2a2a2"/><rect x="468.5" y="673.8" width="24.9" height="24.9" fill="#b7b7b7"/><rect x="492.8" y="673.8" width="24.9" height="24.9" fill="#e1e1e1"/><rect x="517.0" y="673.8" width="24.9" height="24.9" fill="#a2a2a2"/><rect x="541.3" y="673.8" width="24.9" height="24.9" fill="#939393"/><rect x="565.6" y="673.8" width="24.9" height="24.9" fill="#b7b7b7"/><rect x="589.9" y="673.8" width="49.1" height="24.9" fill="#cccccc"/><rect x="638.4" y="673.8" width="49.1" height="24.9" fill="#b7b7b7"/><rect x="686.9" y="673.8" width="49.1" height="24.9" fill="#a2a2a2"/><rect x="735.5" y="673.8" width="24.9" height="24.9" fill="#848484"/><rect x="759.7" y="673.8" width="49.1" height="24.9" fill="#717171"/><rect x="808.3" y="673.8" width="49.1" height="24.9" fill="#848484"/><rect x="80.2" y="698.1" width="49.1" height="24.9" fill="#5e5e5e"/><rect x="128.7" y="698.1" width="49.1" height="24.9" fill="#4c4c4c"/><rect x="177.3" y="698.1" width="97.7" height="24.9" fill="#5e5e5e"/><rect x="274.3" y="698.1" width="24.9" height="24.9" fill="#717171"/><rect x="298.6" y="698.1" width="24.9" height="24.9" fill="#848484"/><rect x="322.9" y="698.1" width="24.9" height="24.9" fill="#a2a2a2"/><rect x="347.1" y="698.1" width="49.1" height="24.9" fill="#b7b7b7"/><rect x="395.7" y="698.1" width="24.9" height="24.9" fill="#a2a2a2"/><rect x="420.0" y="698.1" width="49.1" height="24.9" fill="#848484"/><rect x="468.5" y="698.1" width="24.9" height="24.9" fill="#939393"/><rect x="492.8" y="698.1" width="24.9" height="24.9" fill="#a2a2a2"/><rect x="517.0" y="698.1" width="24.9" height="24.9" fill="#939393"/><rect x="541.3" y="698.1" width="97.7" height="24.9" fill="#b7b7b7"/><rect x="638.4" y="698.1" width="73.4" height="24.9" fill="#a2a2a2"/><rect x="711.2" y="698.1" width="24.9" height="24.9" fill="#939393"/><rect x="735.5" y="698.1" width="49.1" height="24.9" fill="#848484"/><rect x="784.0" y="698.1" width="73.4" height="24.9" fill="#717171"/><rect x="80.2" y="722.4" width="49.1" height="24.9" fill="#717171"/><rect x="128.7" y="722.4" width="73.4" height="24.9" fill="#4c4c4c"/><rect x="201.5" y="722.4" width="97.7" height="24.9" fill="#5e5e5e"/><rect x="298.6" y="722.4" width="24.9" height="24.9" fill="#717171"/><rect x="322.9" y="722.4" width="24.9" height="24.9" fill="#939393"/><rect x="347.1" y="722.4" width="24.9" height="24.9" fill="#a2a2a2"/><rect x="371.4" y="722.4" width="24.9" height="24.9" fill="#939393"/><rect x="395.7" y="722.4" width="24.9" height="24.9" fill="#848484"/><rect x="420.0" y="722.4" width="24.9" height="24.9" fill="#717171"/><rect x="444.2" y="722.4" width="24.9" height="24.9" fill="#848484"/><rect x="468.5" y="722.4" width="24.9" height="24.9" fill="#717171"/><rect x="492.8" y="722.4" width="24.9" height="24.9" fill="#848484"/><rect x="517.0" y="722.4" width="73.4" height="24.9" fill="#939393"/><rect x="589.9" y="722.4" width="97.7" height="24.9" fill="#a2a2a2"/><rect x="686.9" y="722.4" width="24.9" height="24.9" fill="#939393"/><rect x="711.2" y="722.4" width="146.2" height="24.9" fill="#848484"/><rect x="80.2" y="746.6" width="49.1" height="24.9" fill="#717171"/><rect x="128.7" y="746.6" width="24.9" height="24.9" fill="#5e5e5e"/><rect x="153.0" y="746.6" width="49.1" height="24.9" fill="#4c4c4c"/><rect x="201.5" y="746.6" width="73.4" height="24.9" fill="#5e5e5e"/><rect x="274.3" y="746.6" width="24.9" height="24.9" fill="#848484"/><rect x="298.6" y="746.6" width="49.1" height="24.9" fill="#939393"/><rect x="347.1" y="746.6" width="49.1" height="24.9" fill="#848484"/><rect x="395.7" y="746.6" width="24.9" height="24.9" fill="#717171"/><rect x="420.0" y="746.6" width="24.9" height="24.9" fill="#848484"/><rect x="444.2" y="746.6" width="24.9" height="24.9" fill="#939393"/><rect x="468.5" y="746.6" width="49.1" height="24.9" fill="#848484"/><rect x="517.0" y="746.6" width="49.1" height="24.9" fill="#717171"/><rect x="565.6" y="746.6" width="24.9" height="24.9" fill="#848484"/><rect x="589.9" y="746.6" width="24.9" height="24.9" fill="#939393"/><rect x="614.1" y="746.6" width="73.4" height="24.9" fill="#a2a2a2"/><rect x="686.9" y="746.6" width="170.5" height="24.9" fill="#848484"/><rect x="80.2" y="770.9" width="73.4" height="24.9" fill="#717171"/><rect x="153.0" y="770.9" width="121.9" height="24.9" fill="#5e5e5e"/><rect x="274.3" y="770.9" width="49.1" height="24.9" fill="#848484"/><rect x="322.9" y="770.9" width="24.9" height="24.9" fill="#717171"/><rect x="347.1" y="770.9" width="24.9" height="24.9" fill="#848484"/><rect x="371.4" y="770.9" width="24.9" height="24.9" fill="#717171"/><rect x="395.7" y="770.9" width="24.9" height="24.9" fill="#848484"/><rect x="420.0" y="770.9" width="24.9" height="24.9" fill="#939393"/><rect x="444.2" y="770.9" width="24.9" height="24.9" fill="#848484"/><rect x="468.5" y="770.9" width="24.9" height="24.9" fill="#717171"/><rect x="492.8" y="770.9" width="24.9" height="24.9" fill="#848484"/><rect x="517.0" y="770.9" width="49.1" height="24.9" fill="#717171"/><rect x="565.6" y="770.9" width="24.9" height="24.9" fill="#848484"/><rect x="589.9" y="770.9" width="97.7" height="24.9" fill="#a2a2a2"/><rect x="686.9" y="770.9" width="73.4" height="24.9" fill="#848484"/><rect x="759.7" y="770.9" width="24.9" height="24.9" fill="#717171"/><rect x="784.0" y="770.9" width="73.4" height="24.9" fill="#848484"/><rect x="80.2" y="795.2" width="97.7" height="24.9" fill="#717171"/><rect x="177.3" y="795.2" width="121.9" height="24.9" fill="#5e5e5e"/><rect x="298.6" y="795.2" width="73.4" height="24.9" fill="#717171"/><rect x="371.4" y="795.2" width="24.9" height="24.9" fill="#848484"/><rect x="395.7" y="795.2" width="24.9" height="24.9" fill="#717171"/><rect x="420.0" y="795.2" width="73.4" height="24.9" fill="#5e5e5e"/><rect x="492.8" y="795.2" width="24.9" height="24.9" fill="#717171"/><rect x="517.0" y="795.2" width="24.9" height="24.9" fill="#848484"/><rect x="541.3" y="795.2" width="24.9" height="24.9" fill="#a2a2a2"/><rect x="565.6" y="795.2" width="24.9" height="24.9" fill="#b7b7b7"/><rect x="589.9" y="795.2" width="24.9" height="24.9" fill="#a2a2a2"/><rect x="614.1" y="795.2" width="24.9" height="24.9" fill="#b7b7b7"/><rect x="638.4" y="795.2" width="49.1" height="24.9" fill="#cccccc"/><rect x="686.9" y="795.2" width="24.9" height="24.9" fill="#a2a2a2"/><rect x="711.2" y="795.2" width="24.9" height="24.9" fill="#939393"/><rect x="735.5" y="795.2" width="24.9" height="24.9" fill="#848484"/><rect x="759.7" y="795.2" width="24.9" height="24.9" fill="#939393"/><rect x="784.0" y="795.2" width="24.9" height="24.9" fill="#a2a2a2"/><rect x="808.3" y="795.2" width="49.1" height="24.9" fill="#939393"/><rect x="80.2" y="819.5" width="340.4" height="24.9" fill="#717171"/><rect x="420.0" y="819.5" width="49.1" height="24.9" fill="#5e5e5e"/><rect x="468.5" y="819.5" width="49.1" height="24.9" fill="#717171"/><rect x="517.0" y="819.5" width="24.9" height="24.9" fill="#848484"/><rect x="541.3" y="819.5" width="49.1" height="24.9" fill="#a2a2a2"/><rect x="589.9" y="819.5" width="49.1" height="24.9" fill="#b7b7b7"/><rect x="638.4" y="819.5" width="49.1" height="24.9" fill="#cccccc"/><rect x="686.9" y="819.5" width="24.9" height="24.9" fill="#a2a2a2"/><rect x="711.2" y="819.5" width="24.9" height="24.9" fill="#939393"/><rect x="735.5" y="819.5" width="24.9" height="24.9" fill="#848484"/><rect x="759.7" y="819.5" width="49.1" height="24.9" fill="#939393"/><rect x="808.3" y="819.5" width="49.1" height="24.9" fill="#a2a2a2"/><rect x="80.2" y="843.7" width="340.4" height="24.9" fill="#717171"/><rect x="420.0" y="843.7" width="49.1" height="24.9" fill="#5e5e5e"/><rect x="468.5" y="843.7" width="49.1" height="24.9" fill="#717171"/><rect x="517.0" y="843.7" width="24.9" height="24.9" fill="#848484"/><rect x="541.3" y="843.7" width="49.1" height="24.9" fill="#a2a2a2"/><rect x="589.9" y="843.7" width="49.1" height="24.9" fill="#b7b7b7"/><rect x="638.4" y="843.7" width="49.1" height="24.9" fill="#cccccc"/><rect x="686.9" y="843.7" width="24.9" height="24.9" fill="#a2a2a2"/><rect x="711.2" y="843.7" width="24.9" height="24.9" fill="#939393"/><rect x="735.5" y="843.7" width="24.9" height="24.9" fill="#848484"/><rect x="759.7" y="843.7" width="49.1" height="24.9" fill="#939393"/><rect x="808.3" y="843.7" width="49.1" height="24.9" fill="#a2a2a2"/></g><path d="M104.5,232.6L107.5,231.8L110.4,230.8L110.5,230.7L113.5,229.8L116.5,229.1L119.5,228.3L120.5,227.8L122.5,225.7L123.2,224.8L123.9,221.8L124.7,218.8L125.5,217.7L126.9,215.8L128.4,214.4L130.3,212.8L131.4,211.5L132.9,209.8L133.8,206.8L133.1,203.8L132.3,200.8L132.7,197.8L134.4,194.9L134.5,194.8L136.8,191.8L137.4,190.9L138.7,188.8L140.1,185.8L140.4,184.5L140.9,182.8L141.6,179.8L142.4,176.8L143.4,174.7L143.9,173.8L146.2,170.8L146.4,170.4L148.2,167.8L149.4,165.6L149.9,164.8L151.0,161.8L151.8,158.8L152.2,155.8L152.3,152.8L152.4,149.8L152.4,148.9L152.7,146.8L153.5,143.8L155.0,140.8L155.4,139.9L156.6,137.8L157.9,134.8L158.4,132.5L158.6,131.8L158.6,128.8L158.4,128.2L157.9,125.8L157.0,122.8L156.2,119.8L155.6,116.8L155.4,116.1L154.8,113.8L153.7,110.8L152.7,107.8L152.4,106.9L151.9,104.8L151.5,101.8M501.8,101.8L500.4,103.4L499.6,104.8L497.4,107.1L496.8,107.8L494.4,109.5L492.2,110.8L491.4,111.1L488.4,112.6L485.8,113.8L485.4,113.9L482.4,115.0L479.4,115.9L477.3,116.8L476.4,117.1L473.4,119.2L472.6,119.8L470.4,121.9L469.0,122.8L467.4,124.8L464.4,124.3L463.3,122.8L461.4,122.0L458.4,121.4L455.4,121.8L453.3,122.8L452.4,123.2L449.4,124.9L447.5,125.8L446.4,126.2L443.4,126.8L440.4,127.2L437.4,127.7L434.4,128.6L434.2,128.8L431.4,130.0L428.4,131.5L428.0,131.8L425.4,133.3L423.1,134.8L422.4,135.2L419.4,137.3L419.0,137.8L416.4,139.9L415.5,140.8L413.4,142.7L412.2,143.8L410.4,145.1L407.5,146.8L407.4,146.8L404.4,147.8L401.4,148.5L398.4,149.0L395.4,149.7L395.3,149.8L392.4,151.4L391.1,152.8L389.4,155.5L389.3,155.8L387.6,158.8L386.4,160.1L383.7,161.8L383.4,161.8L380.4,162.6L377.4,162.9L374.4,163.0L371.4,162.3L370.2,161.8L368.4,160.7L365.8,158.8L365.4,158.5L362.4,156.6L360.6,155.8L359.4,155.2L356.4,154.7L353.4,155.7L353.4,155.8L350.4,157.7L349.0,158.8L347.4,159.7L344.4,160.3L341.4,159.5L340.6,158.8L338.4,156.3L338.1,155.8L336.8,152.8L335.6,149.8L335.4,149.6L332.4,148.7L329.4,149.4L328.7,149.8L326.4,150.7L323.4,152.5L323.1,152.8L320.4,155.4L320.2,155.8L318.6,158.8L317.4,161.7L317.4,161.8L315.6,164.8L314.4,166.2L312.5,167.8L311.4,168.9L309.9,170.8L309.0,173.8L308.9,176.8L308.9,179.8L308.6,182.8L308.4,183.6L308.2,185.8L307.8,188.8L307.6,191.8L307.3,194.8L305.8,197.8L305.4,198.0L302.4,200.7L302.4,200.8L299.4,203.6L299.2,203.8L296.4,205.7L293.4,206.1L290.4,205.9L287.4,206.4L286.9,206.8L284.4,208.9L284.0,209.8L282.8,212.8L282.0,215.8L281.4,218.5L281.4,218.8L280.4,221.8L278.6,224.8L278.4,225.0L276.1,227.8L275.4,228.4L273.1,230.8L272.4,231.4L269.4,233.7L269.4,233.8L266.4,236.2L266.0,236.8L264.6,239.8L264.0,242.8L263.5,245.8L263.4,245.9L262.6,248.8L261.0,251.8L260.4,252.6L259.3,254.8L258.2,257.8L257.5,260.8L257.4,261.0L256.5,263.8L254.4,266.2L253.7,266.8L251.4,268.1L248.4,269.5L247.9,269.8L245.4,270.8L242.4,272.3L241.8,272.8L239.4,274.2L237.2,275.8L236.4,276.3L233.5,278.8L233.4,278.8L230.9,281.8L230.4,282.4L228.8,284.8L227.4,286.2L225.4,287.8L224.4,288.2L221.4,289.3L218.4,290.3L217.3,290.8L215.4,291.5L212.4,293.7L212.4,293.8L210.3,296.8L209.4,298.0L208.2,299.8L206.4,301.5L204.8,302.8L203.4,303.6L200.4,305.3L199.7,305.8L197.4,307.5L196.2,308.8L194.4,311.0L193.9,311.8L192.3,314.8L191.4,316.4L190.8,317.8L189.5,320.8L188.5,323.8L188.4,324.0L187.6,326.8L186.6,329.8L185.6,332.8L185.4,333.2L185.0,335.8L184.7,338.8L184.6,341.8L184.6,344.8L184.6,347.8L184.4,350.8L183.9,353.8L182.8,356.8L182.4,357.4L180.7,359.8L179.4,361.1L176.8,362.8L176.4,362.9L173.4,363.7L170.4,364.1L167.4,364.7L165.4,365.8L164.4,367.3L164.1,368.8L164.4,370.4L164.8,371.8L166.4,374.8L167.4,376.8L167.9,377.8L168.8,380.8L168.8,383.8L168.7,386.8L168.8,389.8L169.1,392.8L169.5,395.8L169.9,398.8L170.4,400.1L171.1,401.8L173.0,404.8L173.4,405.4L174.6,407.8L175.3,410.8L175.3,413.8L175.2,416.8L175.1,419.8L175.1,422.8L174.8,425.8L174.1,428.8L173.4,430.6L173.1,431.8L172.1,434.8L171.4,437.8L171.3,440.8L171.6,443.8L172.0,446.8L171.9,449.8L170.9,452.8L170.4,453.5L168.7,455.8L167.4,457.4L166.0,458.8L164.4,460.5L162.9,461.8L161.4,462.8L158.6,464.8L158.4,464.8L155.4,467.1L154.9,467.8L152.4,470.0L151.7,470.8L149.4,473.3L149.1,473.8L147.7,476.8L147.7,479.8L148.0,482.8L148.2,485.8L148.1,488.8L147.0,491.8L146.4,492.3L143.5,494.8L143.4,494.8L140.4,496.6L139.0,497.8L137.4,499.5L136.6,500.8L135.7,503.8L135.6,506.8L135.5,509.8L135.4,512.8L135.4,515.8L135.6,518.8L136.0,521.8L136.4,524.8L137.0,527.8L137.4,529.1L138.1,530.8L139.6,533.8L140.4,536.7L140.5,536.8L140.4,536.8L139.9,539.8L138.3,542.8L137.4,544.3L136.6,545.8L134.8,548.8L134.4,549.5L133.2,551.8L132.2,554.8L131.9,557.8L131.7,560.8L131.4,561.7L131.0,563.8L129.9,566.8L129.1,569.8L129.2,572.8L130.0,575.8L131.2,578.8L131.4,579.4L133.0,581.8L134.4,583.7L135.7,584.8L137.4,585.9L140.4,586.5L143.4,585.8L146.4,585.3L149.4,587.1L149.9,587.8L150.7,590.8L150.8,593.8L152.4,596.5L152.8,596.8L155.4,597.4L158.4,598.0L161.2,599.8L161.4,600.0L163.1,602.8L164.3,605.8L164.4,606.2L165.2,608.8L165.7,611.8L166.3,614.8L167.3,617.8L167.4,618.0L170.4,620.7L170.7,620.8L173.4,621.4L176.4,621.4L179.4,621.1L182.4,621.4L185.4,623.7L185.5,623.8L185.9,626.8L186.0,629.8L186.1,632.8L186.4,635.8L187.0,638.8L188.4,641.1L189.3,641.8L191.4,642.8L194.4,643.6L197.4,644.5L197.9,644.8L200.4,647.2L201.2,647.8L203.4,649.5L206.4,649.9L209.4,649.6L212.4,649.7L215.1,650.8L215.4,650.9L218.4,653.2L219.4,653.8L221.4,655.3L224.4,655.7L227.4,655.3L230.4,654.6L233.4,654.4L236.4,655.1L238.9,656.8L239.4,657.3L241.5,659.8L242.4,660.8L244.9,662.8L245.4,663.1L248.4,664.3L251.4,665.0L254.4,665.5L255.7,665.8L257.4,666.2L260.4,667.2L262.7,668.8L263.4,669.2L265.3,671.8L266.4,673.4L267.0,674.8L268.4,677.8L269.4,679.9L269.9,680.8L271.6,683.8L272.4,685.0L273.8,686.8L275.4,688.7L276.6,689.8L278.4,691.0L281.4,692.3L282.6,692.8L284.4,693.3L287.4,694.5L290.3,695.8L290.4,695.8L293.4,697.1L296.4,698.0L299.4,698.7L300.0,698.8L302.4,699.1L305.4,699.3L308.4,699.4L311.4,699.6L314.4,700.2L317.4,701.4L318.2,701.8L320.4,703.1L322.7,704.8L323.4,705.6L325.2,707.8L326.4,709.9L327.0,710.8L328.6,713.8L329.4,714.9L330.6,716.8L332.4,719.8L332.4,719.9L333.8,722.8L334.7,725.8L335.4,728.0L336.4,728.8L338.4,729.6L341.4,728.8L341.6,728.8L344.4,727.2L346.4,725.8L347.4,725.1L350.4,723.8L353.4,723.3L356.4,723.4L359.4,724.0L362.2,725.8L360.6,728.8L359.4,730.0L357.7,731.8L356.4,733.2L353.5,734.8L353.4,734.8L350.4,736.0L347.4,737.6L347.3,737.8L344.4,739.7L343.1,740.8L341.4,742.1L339.2,743.8L338.4,744.7L336.1,746.8L335.4,748.1L334.1,749.8L334.9,752.8L335.4,753.1L338.4,755.5L339.1,755.8L341.4,756.2L344.4,755.8L344.5,755.8L347.4,754.3L350.1,752.8L350.4,752.5L353.1,749.8L353.4,749.1L354.5,746.8L355.3,743.8L356.2,740.8L356.4,740.2L358.8,737.8L359.4,737.3L362.4,736.6L365.4,736.4L368.4,736.5L371.4,736.7L374.4,737.2L377.1,737.8L377.4,737.8L380.4,738.2L381.7,737.8L383.4,737.3L386.3,734.8L386.4,734.7L389.4,731.8L389.4,731.7L392.4,729.3L393.7,728.8L395.4,727.8L398.4,726.8L401.1,725.8L401.4,725.6L404.4,723.8L405.8,722.8L407.4,721.7L409.9,719.8L410.4,719.2L412.7,716.8L413.4,715.4L414.5,713.8L415.8,710.8L416.4,707.8L413.4,705.4L412.1,704.8L410.4,704.0L408.8,701.8L408.6,698.8L410.2,695.8L410.4,695.1L413.4,693.0L413.6,692.8L413.4,692.7L410.7,689.8L410.4,689.3L410.0,686.8L410.4,685.5L411.3,683.8L413.4,682.2L416.1,680.8L416.4,680.6L419.4,680.2L422.4,680.2L425.4,680.7L425.6,680.8L428.4,681.8L431.4,683.6L431.7,683.8L434.4,686.1L435.2,686.8L437.4,689.1L438.1,689.8L440.4,692.3L440.9,692.8L443.4,695.0L444.6,695.8L446.4,696.7L449.4,697.3L452.4,696.8L455.4,695.8L455.5,695.8L458.4,694.9L461.4,694.6L464.4,694.8L467.4,695.3L469.0,695.8L470.4,696.3L473.4,698.2L474.2,698.8L476.4,701.2L477.0,701.8L479.1,704.8L479.4,705.4L481.3,707.8L482.4,708.8L484.7,710.8L485.4,711.2L488.4,713.0L489.7,713.8L491.4,714.4L494.4,715.4L497.4,716.0L500.4,716.4L502.4,716.8L503.4,717.0L506.4,717.8L509.4,718.5L512.5,716.8L512.5,716.8L514.5,713.8L515.5,712.7L517.2,710.8L518.5,709.8L521.5,708.1L522.1,707.8L524.5,706.7L527.5,705.1L528.0,704.8L530.5,702.2L530.8,701.8L531.7,698.8L531.3,695.8L530.5,692.8L530.5,692.6L529.7,689.8L529.3,686.8L529.6,683.8L530.5,681.7L531.3,680.8L533.5,678.6L535.3,677.8L536.5,676.9L539.5,674.8L539.5,674.8L542.3,671.8L542.5,671.6L545.5,670.0L548.5,669.8L551.5,670.8L552.9,671.8L554.5,672.7L556.3,674.8L557.5,676.3L558.2,677.8L559.2,680.8L559.7,683.8L559.4,686.8L557.6,689.8L557.5,689.9L554.5,691.7L552.3,692.8L551.5,693.1L548.5,694.6L546.9,695.8L545.5,697.5L544.4,698.8L542.8,701.8L542.5,702.5L540.7,704.8L539.5,706.3L538.5,707.8L537.4,710.8L537.0,713.8L536.9,716.8L536.9,719.8L536.7,722.8L536.5,725.2L536.3,725.8L536.5,727.0L536.9,728.8L539.5,729.6L542.5,730.0L545.5,730.4L548.5,731.1L550.3,731.8L551.5,732.1L554.5,733.2L557.5,733.7L560.5,733.3L563.5,732.4L565.7,731.8L566.5,731.5L569.5,731.2L572.5,731.5L573.8,731.8L575.5,732.1L578.5,732.3L581.5,732.0L584.0,731.8L584.5,731.7L587.5,731.7L590.4,731.8L590.5,731.8L590.5,731.8L593.5,731.5L596.5,730.5L599.5,729.9L602.5,730.6L604.1,731.8L605.5,734.0L605.7,734.8L605.9,737.8L607.0,740.8L608.5,741.3L611.5,742.0L614.5,742.2L617.5,742.1L620.5,742.1L623.5,742.4L626.5,743.7L626.5,743.8L628.4,746.8L628.3,749.8L627.1,752.8L626.5,753.8L625.2,755.8L623.5,757.9L622.7,758.8L620.5,761.1L619.9,761.8L617.5,763.7L615.2,764.8L614.5,765.1L612.5,764.8L611.5,764.6L608.5,762.0L608.3,761.8L605.5,759.0L605.1,758.8L602.5,756.5L601.0,755.8L599.5,754.1L596.5,753.5L595.1,755.8L593.5,758.6L593.4,758.8L592.8,761.8L592.8,764.8L593.0,767.8L593.4,770.8L593.5,770.8L594.3,773.8L595.2,776.8L595.3,779.8L594.3,782.8L593.5,784.4L592.8,785.8L591.0,788.8L590.5,789.4L587.5,791.6L587.2,791.8L584.5,792.7L581.5,793.6L578.5,794.3L575.5,794.6L572.5,794.7L572.0,794.8L569.5,795.1L566.5,796.1L563.5,797.3L562.5,797.8L560.5,798.7L557.5,800.1L556.0,800.8L554.5,801.6L551.5,803.4L551.0,803.8L548.5,806.0L547.6,806.8L545.5,808.7L544.0,809.8L542.5,811.0L539.5,812.7L539.4,812.8L538.1,815.8L539.3,818.8L539.5,818.9L542.5,821.6L542.8,821.8L545.5,822.2L548.5,822.6L551.5,823.1L554.5,823.6L557.5,823.8L560.5,824.0L563.5,824.6L563.9,824.8L566.5,826.5L567.5,827.8L569.1,830.8M532.3,101.8L530.5,104.0L528.0,104.8L527.5,104.9L527.0,104.8L524.5,103.6L522.6,101.8M728.5,110.8L725.5,113.3L724.2,110.8L725.5,109.8L728.5,110.6L728.5,110.8L728.5,110.8M797.5,120.0L794.5,119.8L794.5,119.7L791.5,118.4L788.9,116.8L789.0,113.8L791.5,112.1L793.8,110.8L794.5,110.5L797.5,110.3L799.9,110.8L800.5,111.0L803.5,113.1L804.3,113.8L803.9,116.8L803.5,117.1L800.5,119.2L798.6,119.8L797.5,120.0M722.5,114.5L722.2,113.8L722.5,113.3L724.1,113.8L722.5,114.5M770.5,195.1L767.5,196.3L764.5,196.7L761.5,196.5L758.5,195.9L755.5,194.8L755.4,194.8L753.8,191.8L753.9,188.8L754.4,185.8L754.8,182.8L755.1,179.8L755.0,176.8L754.2,173.8L753.6,170.8L753.8,167.8L754.9,164.8L755.5,162.9L756.2,161.8L755.5,159.8L755.2,158.8L752.5,157.1L749.5,156.7L746.5,156.9L743.5,157.2L740.5,156.6L739.7,155.8L737.5,152.9L737.4,152.8L736.5,149.8L735.9,146.8L735.3,143.8L734.5,140.8L734.5,140.3L734.0,137.8L734.2,134.8L734.5,133.9L735.7,131.8L737.5,129.7L738.4,128.8L740.3,125.8L740.5,125.2L741.3,122.8L741.9,119.8L742.5,116.8L743.4,113.8L743.5,113.7L743.7,113.8L746.5,114.1L748.0,116.8L749.5,118.2L750.6,119.8L752.5,121.3L754.2,122.8L755.5,123.5L758.2,125.8L758.5,126.0L760.1,128.8L760.6,131.8L760.3,134.8L760.0,137.8L760.2,140.8L761.3,143.8L761.5,144.0L763.5,146.8L764.5,147.9L766.3,149.8L767.5,152.2L767.7,152.8L767.5,154.7L767.3,155.8L764.9,158.8L764.5,159.2L761.9,161.8L761.5,162.8L760.5,164.8L759.9,167.8L759.1,170.8L758.5,172.8L757.6,173.8L756.2,176.8L757.0,179.8L758.5,180.1L761.5,180.8L764.5,180.2L765.3,179.8L767.5,178.7L770.5,176.9L770.7,176.8L773.5,175.6L776.5,175.2L779.5,175.4L782.5,176.7L782.5,176.8L784.9,179.8L784.9,182.8L783.1,185.8L782.5,186.4L779.5,188.6L779.1,188.8L776.5,190.5L774.9,191.8L773.5,192.9L771.2,194.8L770.5,195.1M716.5,126.2L714.9,125.8L713.5,124.5L712.8,122.8L713.5,120.4L714.0,119.8L716.5,118.1L719.5,116.8L720.8,119.8L720.3,122.8L719.5,124.0L717.7,125.8L716.5,126.2M464.4,136.0L463.5,134.8L463.5,131.8L464.4,129.1L467.2,131.8L467.2,134.8L464.4,136.0M833.5,333.9L830.5,333.6L828.5,332.8L827.5,332.0L825.7,329.8L824.5,327.8L823.9,326.8L821.5,323.8L821.5,323.7L818.5,321.5L816.7,320.8L815.5,320.3L812.5,319.6L809.5,319.2L806.5,318.4L805.2,317.8L803.5,316.7L801.3,314.8L800.5,314.0L797.8,311.8L797.5,311.5L794.5,309.4L793.4,308.8L791.5,307.3L789.3,305.8L788.5,305.2L785.5,303.9L782.5,303.4L779.5,303.3L776.5,303.5L773.5,304.1L770.5,304.7L767.5,304.8L764.5,303.9L762.0,302.8L761.5,302.5L758.5,301.1L755.5,300.3L752.5,300.0L750.3,299.8L749.5,299.7L746.5,299.2L743.5,298.5L740.5,297.6L737.5,296.8L736.9,296.8L734.5,296.2L731.5,295.7L728.5,294.9L725.7,293.8L725.5,293.6L722.5,291.8L720.7,290.8L719.5,290.0L716.5,288.2L715.8,287.8L713.5,286.2L711.0,284.8L710.5,284.4L707.5,283.0L704.5,281.8L704.5,281.7L701.5,279.2L701.1,278.8L700.4,275.8L700.9,272.8L701.5,271.1L701.9,269.8L703.1,266.8L704.5,263.8L704.5,263.8L706.8,260.8L707.5,260.1L710.2,257.8L710.5,257.5L713.0,254.8L713.5,254.3L715.9,251.8L716.5,251.4L719.5,250.1L722.5,249.0L723.0,248.8L725.5,247.7L728.5,246.0L728.9,245.8L731.5,244.0L733.8,242.8L734.5,242.3L737.5,240.7L738.9,239.8L740.5,238.3L741.8,236.8L742.9,233.8L743.5,230.9L743.5,230.8L744.4,227.8L745.5,224.8L746.4,221.8L746.5,221.7L749.3,218.8L749.5,218.6L749.5,218.8L751.7,221.8L752.5,223.4L752.8,224.8L753.2,227.8L753.7,230.8L755.5,233.2L757.0,233.8L758.5,234.0L760.2,233.8L761.5,233.6L764.5,232.7L767.5,231.8L770.5,231.2L773.4,230.8L773.5,230.7L776.5,229.7L779.5,227.8L779.5,227.8L782.0,224.8L782.5,223.9L784.0,221.8L785.5,219.3L786.0,218.8L788.5,217.2L791.5,216.8L793.2,218.8L793.8,221.8L794.5,222.3L797.5,224.0L800.5,224.5L803.5,224.5L806.5,224.0L809.5,222.7L810.6,221.8L811.7,218.8L812.5,215.9L812.5,215.8L813.7,212.8L815.5,210.2L815.8,209.8L816.7,206.8L815.6,203.8L815.5,203.6L813.2,200.8L812.5,199.9L811.5,197.8L810.7,194.8L810.5,191.8L811.2,188.8L812.2,185.8L812.5,184.8L813.0,182.8L813.0,179.8L812.5,177.9L812.0,176.8L810.6,173.8L810.6,170.8L812.5,168.9L815.5,168.4L818.5,169.1L821.5,170.3L822.5,170.8L824.5,171.6L827.5,172.7L830.5,173.6L831.4,173.8L833.5,174.1M833.5,260.3L833.1,260.8L831.4,263.8L830.5,266.1L830.3,266.8L829.4,269.8L828.8,272.8L829.3,275.8L830.5,276.7L833.5,277.4M104.5,355.9L107.5,355.7L110.5,355.1L113.5,354.4L115.8,353.8L116.5,353.6L119.5,352.6L122.5,351.4L124.0,350.8L125.5,350.1L128.4,349.2L131.4,348.8L134.4,348.4L136.9,347.8L137.4,347.5L140.4,345.3L141.0,344.8L142.4,341.8L142.6,338.8L141.8,335.8L140.4,334.1L138.5,332.8L137.4,332.2L134.4,330.5L133.6,329.8L132.0,326.8L132.0,323.8L132.9,320.8L134.4,317.8L134.4,317.7L135.6,314.8L136.5,311.8L136.8,308.8L136.3,305.8L134.9,302.8L134.4,302.0L133.1,299.8L131.6,296.8L131.4,296.3L130.6,293.8L129.8,290.8L128.9,287.8L128.4,286.2L128.0,284.8L127.4,281.8L127.0,278.8L126.4,275.8L125.5,273.6L124.9,272.8L122.5,270.1L121.9,269.8L119.5,268.5L116.5,267.9L113.5,267.9L110.5,268.1L107.5,268.3L104.5,268.4M443.4,480.0L440.4,480.7L437.6,479.8L437.4,479.7L435.8,476.8L435.4,473.8L435.6,470.8L436.2,467.8L436.5,464.8L436.6,461.8L436.9,458.8L437.4,456.6L437.7,455.8L439.5,452.8L440.4,451.6L442.9,449.8L443.4,449.4L446.4,448.5L449.4,447.8L452.4,446.9L452.8,446.8L455.4,445.9L458.4,445.0L461.4,444.4L464.4,444.6L467.4,445.6L470.3,446.8L470.4,446.9L473.2,449.8L473.4,451.2L473.6,452.8L473.4,453.7L473.1,455.8L472.6,458.8L472.1,461.8L471.5,464.8L470.4,466.9L469.7,467.8L467.4,469.0L464.4,469.7L461.4,470.3L459.9,470.8L458.4,471.1L455.4,472.8L454.5,473.8L452.4,475.2L450.5,476.8L449.4,477.3L446.4,478.8L444.0,479.8L443.4,480.0M509.4,521.8L506.4,523.0L503.4,523.4L500.4,521.9L500.3,521.8L498.6,518.8L497.4,516.2L497.3,515.8L496.5,512.8L496.4,509.8L496.9,506.8L497.4,504.6L498.0,503.8L500.4,501.9L503.4,503.2L504.2,503.8L506.4,505.2L508.6,506.8L509.4,507.3L512.5,509.0L514.5,509.8L515.5,510.3L518.5,512.1L519.1,512.8L518.6,515.8L518.5,515.9L515.5,518.3L514.9,518.8L512.5,520.1L509.6,521.8L509.4,521.8M714.6,830.8L714.8,827.8L714.7,824.8L714.2,821.8L713.8,818.8L713.6,815.8L713.7,812.8L713.5,811.4L713.0,809.8L710.5,807.8L707.5,807.5L704.5,808.3L701.5,809.6L699.1,809.8L698.5,809.8L698.4,809.8L696.6,806.8L695.9,803.8L695.5,800.9L695.4,800.8L694.7,797.8L693.5,794.8L692.5,792.6L691.9,791.8L689.5,788.9L689.3,788.8L686.5,786.5L685.6,785.8L683.5,784.2L681.6,782.8L680.5,781.8L677.5,779.8L677.3,779.8L674.5,778.8L671.5,778.5L668.5,778.3L665.5,778.0L662.5,777.1L661.7,776.8L659.7,773.8L660.2,770.8L661.7,767.8L662.5,766.5L664.0,764.8L665.5,763.3L668.2,761.8L668.5,761.6L671.5,759.6L672.5,758.8L674.5,757.2L676.6,755.8L677.5,755.2L680.5,754.1L683.5,753.9L686.5,753.8L689.5,752.9L689.6,752.8L690.0,749.8L689.5,748.0L688.9,746.8L687.0,743.8L686.5,742.2L683.8,740.8L686.5,739.3L688.3,737.8L689.5,737.5L692.5,735.6L693.3,734.8L695.5,732.3L696.0,731.8L698.3,728.8L698.5,728.6L700.8,725.8L701.5,724.0L702.0,722.8L702.5,719.8L703.2,716.8L704.5,714.1L704.7,713.8L707.5,711.8L710.0,710.8L710.5,710.7L713.5,710.0L716.5,709.4L719.5,709.1L722.5,709.2L725.5,709.3L728.5,709.0L731.0,707.8L731.5,707.5L733.9,704.8L734.5,703.7L735.4,701.8L735.7,698.8L735.0,695.8L734.5,694.6L733.5,692.8L731.9,689.8L731.5,688.7L730.6,686.8L731.2,683.8L731.5,683.5L734.5,681.2L735.0,680.8L737.5,679.2L739.0,677.8L740.5,676.1L741.5,674.8L743.5,672.1L743.7,671.8L745.8,668.8L746.5,667.6L747.4,665.8L748.5,662.8L749.5,659.9L749.5,659.8L750.3,656.8L751.3,653.8L752.5,651.0L752.6,650.8L754.4,647.8L755.5,646.4L757.9,644.8L758.5,644.5L761.5,643.7L764.5,643.3L767.5,642.7L770.4,641.8L770.5,641.7L773.5,639.7L775.2,638.8L776.5,637.5L779.5,636.7L782.5,636.5L785.5,636.0L786.2,635.8L788.5,634.1L790.9,632.8L791.5,631.9L792.9,632.8L794.5,633.2L797.2,635.8L797.5,635.9L800.5,637.4L803.5,637.5L806.5,637.5L809.5,638.1L810.5,638.8L812.5,640.6L813.5,641.8L815.0,644.8L815.5,646.2L818.5,645.6L819.2,644.8L821.5,643.2L822.6,641.8L823.8,638.8L823.7,635.8L822.8,632.8L821.5,630.4L820.7,629.8L818.5,628.3L815.5,627.2L814.6,626.8L812.5,625.7L809.5,623.9L809.2,623.8L806.5,622.3L803.5,621.4L800.5,621.2L797.5,622.3L795.4,623.8L794.5,625.2L792.3,626.8L791.5,628.2L788.5,627.5L787.2,626.8L785.5,626.3L782.5,625.3L779.5,623.9L779.2,623.8L776.5,622.7L773.5,621.5L772.2,620.8L770.5,620.1L767.5,618.0L767.3,617.8L764.9,614.8L764.5,613.5L764.0,611.8L764.2,608.8L764.5,608.2L765.9,605.8L767.5,603.6L769.1,602.8L769.3,599.8L767.5,599.0L764.7,596.8L764.5,596.6L761.5,593.8L761.4,593.8L759.3,590.8L758.5,588.9L758.1,587.8L757.8,584.8L758.4,581.8L758.5,581.7L760.2,578.8L761.5,576.9L763.3,575.8L764.5,574.8L766.9,572.8L767.5,572.1L768.4,569.8L769.1,566.8L769.2,563.8L768.2,560.8L767.5,559.5L766.1,557.8L764.6,554.8L764.5,553.9L764.1,551.8L763.7,548.8L762.5,545.8L761.5,544.4L759.7,542.8L758.5,541.2L757.3,539.8L756.6,536.8L756.4,533.8L755.9,530.8L755.5,530.0L754.0,527.8L752.5,526.0L751.7,524.8L750.4,521.8L749.9,518.8L750.0,515.8L750.9,512.8L752.5,510.7L753.8,509.8L755.5,509.0L758.5,509.1L759.7,509.8L761.5,510.8L764.2,512.8L764.5,513.0L767.5,514.6L770.5,515.2L773.5,515.4L776.5,515.5L778.5,515.8L779.5,515.9L782.5,516.3L785.5,516.4L788.5,516.3L791.2,515.8L791.5,515.7L794.5,514.7L797.4,512.8L797.5,512.7L800.5,510.2L801.1,509.8L803.5,508.4L806.5,507.7L809.5,508.2L812.5,509.4L813.1,509.8L815.5,511.3L818.5,512.5L819.7,512.8L821.5,513.2L824.5,513.4L827.5,513.6L830.5,513.7L833.5,513.8M785.9,542.8L785.5,541.6L782.9,539.8L782.5,539.7L782.3,539.8L780.6,542.8L782.5,544.5L785.5,543.7L785.9,542.8M746.5,564.9L743.5,564.0L743.2,563.8L741.8,560.8L742.3,557.8L743.5,556.1L746.5,555.8L747.5,557.8L748.5,560.8L748.3,563.8L746.5,564.9M800.8,569.8L801.7,566.8L801.5,563.8L800.5,561.5L798.0,563.8L798.3,566.8L800.3,569.8L800.5,570.1L800.8,569.8M539.5,590.8L536.5,591.0L535.7,590.8L533.5,589.9L530.9,587.8L530.5,587.1L529.2,584.8L528.9,581.8L530.5,579.2L530.9,578.8L533.5,577.4L536.5,576.6L539.5,576.4L542.5,577.0L545.5,578.5L545.8,578.8L546.2,581.8L545.5,583.3L544.9,584.8L543.3,587.8L542.5,588.9L539.6,590.8L539.5,590.8M807.8,578.8L806.5,577.8L803.5,578.4L803.4,578.8L803.5,578.8L806.5,580.3L807.8,578.8M554.5,606.3L551.6,605.8L551.5,605.6L551.1,602.8L551.5,601.6L554.5,600.1L557.2,602.8L555.1,605.8L554.5,606.3M816.6,605.8L818.5,602.9L818.5,602.8L818.5,602.6L815.5,601.4L813.2,602.8L812.5,604.7L812.2,605.8L812.5,606.0L815.5,606.4L816.6,605.8M671.5,716.9L668.5,718.6L665.5,719.2L665.1,716.8L665.5,716.4L667.1,713.8L668.5,713.2L671.5,713.2L672.2,713.8L671.6,716.8L671.5,716.9M680.5,741.2L677.5,741.7L674.5,741.0L674.2,740.8L671.5,738.7L669.8,737.8L668.5,736.7L665.5,736.0L662.5,735.9L659.5,735.3L658.5,734.8L656.5,733.3L654.5,731.8L653.5,730.8L651.2,728.8L650.5,727.6L649.6,725.8L649.7,722.8L650.5,721.1L651.4,719.8L653.5,718.3L656.5,717.6L659.5,717.8L662.5,718.4L665.4,719.8L665.0,722.8L665.5,725.4L665.5,725.8L667.2,728.8L668.5,730.1L671.5,731.7L671.6,731.8L674.5,732.9L677.5,734.0L679.2,734.8L680.5,735.9L683.3,737.8L683.0,740.8L680.5,741.2M526.0,734.8L524.5,734.3L523.7,734.8L524.5,736.1L526.0,734.8M833.5,736.8L833.0,737.8L833.5,738.0M599.5,746.8L600.5,743.8L599.5,741.8L598.3,740.8L596.5,739.9L593.5,740.7L593.4,740.8L592.7,743.8L593.5,746.5L593.6,746.8L596.5,749.5L599.5,746.8L599.5,746.8M656.5,759.6L653.5,759.9L652.0,758.8L650.9,755.8L652.1,752.8L653.5,751.8L656.5,752.2L657.1,752.8L659.0,755.8L657.9,758.8L656.5,759.6M304.7,779.8L305.4,778.7L306.8,776.8L307.8,773.8L308.1,770.8L308.1,767.8L307.9,764.8L307.1,761.8L305.4,759.9L302.4,759.2L299.4,759.9L296.4,761.2L295.6,761.8L293.4,763.1L291.0,764.8L290.4,765.2L288.0,767.8L287.4,768.8L286.7,770.8L287.1,773.8L287.4,774.2L289.5,776.8L290.4,777.6L292.6,779.8L293.4,780.5L296.4,782.2L299.4,782.6L302.4,781.5L304.7,779.8M444.6,776.8L443.8,773.8L443.4,773.1L443.1,773.8L442.5,776.8L443.4,779.1L444.6,776.8M743.8,791.8L746.5,790.0L747.1,788.8L747.0,785.8L746.5,784.7L744.8,782.8L743.5,781.8L740.5,781.8L739.4,782.8L738.6,785.8L739.1,788.8L740.5,791.1L742.6,791.8L743.5,791.9L743.8,791.8M787.0,830.8L787.6,827.8L788.3,824.8L788.5,824.2L789.2,821.8L791.1,818.8L791.5,818.4L794.5,816.9L797.5,816.1L799.5,815.8L800.5,815.5L803.5,814.5L805.8,812.8L806.5,812.2L809.1,809.8L809.5,809.4L812.5,807.6L813.9,806.8L815.3,803.8L813.4,800.8L812.5,799.9L809.5,798.3L806.5,798.4L803.5,799.7L800.5,800.8L800.5,800.8L797.5,801.7L794.5,802.6L791.5,803.8L791.5,803.8L788.5,805.9L787.2,806.8L785.5,808.9L783.9,809.8L782.5,811.1L779.5,811.7L777.4,812.8L776.5,814.0L776.1,815.8L774.1,818.8L773.5,819.4L771.2,821.8L770.5,822.7L769.2,824.8L768.5,827.8L768.4,830.8M832.0,830.8L830.5,828.5L830.0,827.8L827.5,825.7L826.1,824.8L824.5,823.8L821.5,822.1L820.6,821.8L818.5,820.9L815.5,820.3L812.5,820.1L809.5,820.3L807.1,821.8L806.5,822.2L805.0,824.8L804.0,827.8L803.7,830.8" fill="none" stroke="#fde725" stroke-width="2.0" stroke-linejoin="round"/><path d="M132.2,101.8L131.4,102.3L128.4,101.8L128.4,101.8M104.5,224.8L104.5,224.8L107.5,222.0L107.6,221.8L108.6,218.8L109.5,215.8L110.5,213.2L110.6,212.8L112.1,209.8L113.5,207.4L113.8,206.8L114.8,203.8L114.9,200.8L115.1,197.8L116.5,196.1L117.4,194.8L119.5,193.2L121.1,191.8L122.5,190.6L124.7,188.8L125.5,188.2L128.4,186.6L129.8,185.8L131.4,184.6L132.8,182.8L134.0,179.8L134.4,178.6L135.0,176.8L136.5,173.8L137.4,172.7L139.1,170.8L140.4,169.5L142.2,167.8L143.4,166.5L144.8,164.8L146.4,162.2L146.7,161.8L147.8,158.8L148.4,155.8L148.7,152.8L148.7,149.8L148.9,146.8L149.4,143.8L149.4,143.6L150.4,140.8L151.8,137.8L152.4,136.1L153.0,134.8L153.5,131.8L153.1,128.8L152.4,126.6L152.1,125.8L151.2,122.8L150.6,119.8L150.0,116.8L149.4,115.4L148.8,113.8L147.1,110.8L146.4,109.2L145.7,107.8L144.8,104.8L144.5,101.8M549.7,101.8L548.5,103.0L545.5,104.0L542.5,104.3L542.2,104.8L539.5,107.3L539.2,107.8L536.5,109.4L533.5,110.7L533.3,110.8L530.5,111.5L527.5,112.0L524.5,112.4L521.5,112.5L518.5,111.7L516.8,110.8L515.5,109.8L512.5,108.0L510.1,107.8L509.4,107.7L509.2,107.8L506.4,108.8L503.9,110.8L503.4,111.2L500.8,113.8L500.4,114.1L497.4,115.8L495.1,116.8L494.4,117.0L491.4,118.3L488.9,119.8L488.4,120.1L485.4,122.4L485.0,122.8L482.4,125.5L482.2,125.8L480.1,128.8L479.4,130.3L478.8,131.8L478.6,134.8L479.3,137.8L479.4,138.3L480.2,140.8L480.8,143.8L481.1,146.8L481.4,149.8L482.4,152.2L482.6,152.8L483.6,155.8L484.1,158.8L483.6,161.8L482.4,164.2L479.4,164.4L476.4,162.5L475.6,161.8L473.4,159.3L472.9,158.8L472.0,155.8L471.2,152.8L470.4,152.2L468.6,149.8L467.4,149.0L464.7,146.8L464.4,146.6L461.4,145.1L459.0,143.8L458.4,143.4L455.4,140.8L455.4,140.8L453.6,137.8L452.4,135.7L451.2,134.8L449.4,134.1L446.4,134.0L443.4,133.9L440.4,133.9L437.4,134.2L435.9,134.8L434.4,135.3L431.4,136.8L429.8,137.8L428.4,138.6L425.4,140.7L425.4,140.8L422.4,143.4L422.1,143.8L419.4,146.6L419.3,146.8L416.4,149.6L416.3,149.8L413.4,151.9L411.6,152.8L410.4,153.2L407.4,154.3L404.4,155.1L402.1,155.8L401.4,156.0L398.4,158.2L398.0,158.8L396.7,161.8L396.1,164.8L395.4,166.4L394.5,167.8L392.4,168.8L389.4,169.3L386.4,169.4L383.4,169.4L380.4,169.4L377.4,169.6L374.4,169.8L371.4,169.9L368.4,170.0L365.4,170.6L365.2,170.8L362.9,173.8L362.4,175.3L362.1,176.8L361.1,179.8L359.4,182.4L359.2,182.8L356.4,184.9L354.9,185.8L353.4,186.4L350.4,187.2L347.4,187.6L344.4,187.5L341.4,187.3L338.4,187.2L335.4,187.8L333.1,188.8L332.4,189.0L329.4,190.3L326.4,191.6L326.2,191.8L323.4,194.3L323.2,194.8L322.3,197.8L321.4,200.8L320.4,202.9L320.1,203.8L318.3,206.8L317.4,207.8L314.8,209.8L314.4,210.0L311.4,211.5L309.3,212.8L308.4,213.6L306.9,215.8L305.4,217.4L303.8,218.8L302.4,219.6L299.4,220.1L296.4,219.1L295.8,218.8L293.4,217.4L290.4,217.2L289.4,218.8L287.9,221.8L287.4,222.3L286.2,224.8L284.4,226.8L283.7,227.8L281.4,230.3L281.0,230.8L278.6,233.8L278.4,234.0L276.4,236.8L275.4,238.1L274.1,239.8L272.4,242.7L272.4,242.8L271.9,245.8L272.3,248.8L272.4,249.7L272.9,251.8L272.6,254.8L272.4,255.0L270.4,257.8L269.4,259.1L268.6,260.8L267.4,263.8L266.4,265.6L265.8,266.8L263.4,269.1L262.6,269.8L260.4,271.1L257.9,272.8L257.4,273.1L254.4,275.1L253.5,275.8L251.4,277.2L248.6,278.8L248.4,278.8L245.4,280.1L242.4,281.6L242.2,281.8L239.4,284.0L238.8,284.8L236.8,287.8L236.4,288.3L234.9,290.8L233.4,293.1L232.9,293.8L231.0,296.8L230.4,298.5L229.3,299.8L227.9,302.8L227.4,303.3L226.7,302.8L224.5,299.8L224.4,299.7L221.4,298.1L218.4,298.3L216.4,299.8L215.4,300.5L213.7,302.8L212.4,303.8L210.3,305.8L209.4,306.4L206.4,308.3L205.5,308.8L203.4,310.0L200.8,311.8L200.4,312.1L198.3,314.8L197.4,316.4L196.9,317.8L196.2,320.8L196.2,323.8L196.4,326.8L195.7,329.8L194.4,331.5L193.7,332.8L191.7,335.8L191.4,336.2L190.6,338.8L190.1,341.8L190.2,344.8L190.6,347.8L191.3,350.8L191.4,351.8L191.8,353.8L191.5,356.8L191.4,356.9L190.5,359.8L189.3,362.8L188.4,365.2L188.2,365.8L187.3,368.8L186.8,371.8L186.5,374.8L186.1,377.8L185.4,379.2L183.9,380.8L182.4,381.4L179.4,382.4L177.3,383.8L176.4,384.5L175.3,386.8L175.0,389.8L175.6,392.8L176.4,395.0L176.9,395.8L178.6,398.8L179.4,400.3L180.2,401.8L181.2,404.8L181.5,407.8L181.5,410.8L181.0,413.8L180.4,416.8L179.9,419.8L179.5,422.8L179.4,423.4L179.1,425.8L178.5,428.8L177.5,431.8L176.4,434.7L176.4,434.8L175.7,437.8L175.7,440.8L176.3,443.8L176.4,444.5L177.2,446.8L177.9,449.8L177.9,452.8L177.1,455.8L176.4,457.3L175.8,458.8L174.2,461.8L173.4,463.0L172.5,464.8L170.7,467.8L170.4,468.2L168.5,470.8L167.4,471.9L164.8,473.8L164.4,473.9L161.4,476.0L160.6,476.8L158.4,479.1L158.0,479.8L156.7,482.8L156.2,485.8L156.1,488.8L155.8,491.8L155.4,492.9L154.7,494.8L152.5,497.8L152.4,497.8L149.4,500.3L148.8,500.8L146.4,502.9L145.6,503.8L144.0,506.8L143.4,509.4L143.4,509.8L143.4,512.8L143.4,513.4L143.7,515.8L144.0,518.8L144.2,521.8L144.6,524.8L145.8,527.8L146.4,528.6L147.9,530.8L149.4,533.8L149.4,534.9L149.5,536.8L149.4,537.0L148.5,539.8L146.7,542.8L146.4,543.1L144.8,545.8L143.5,548.8L143.4,549.0L142.8,551.8L142.6,554.8L142.2,557.8L141.4,560.8L140.4,563.6L140.4,563.8L139.9,566.8L140.3,569.8L140.4,570.1L142.2,572.8L143.4,573.8L146.4,575.5L146.9,575.8L149.4,577.1L151.3,578.8L152.4,579.8L153.9,581.8L155.4,583.7L156.3,584.8L158.4,586.9L160.1,587.8L161.4,588.4L164.4,589.2L167.4,590.3L168.0,590.8L170.4,593.4L170.7,593.8L171.9,596.8L172.7,599.8L173.4,602.5L173.5,602.8L174.7,605.8L176.4,608.3L176.8,608.8L179.4,611.0L180.7,611.8L182.4,612.6L185.4,613.6L188.4,614.4L189.6,614.8L191.4,615.6L194.1,617.8L194.4,618.3L195.9,620.8L196.8,623.8L196.0,626.8L194.6,629.8L195.4,632.8L197.4,634.2L199.7,635.8L200.4,636.1L203.4,638.0L204.6,638.8L206.4,639.8L209.4,640.8L212.4,641.4L214.2,641.8L215.4,642.1L218.4,643.3L220.8,644.8L221.4,645.2L224.4,646.7L227.4,647.5L229.9,647.8L230.4,647.8L233.4,648.1L236.4,648.5L239.4,649.4L241.7,650.8L242.4,651.4L244.9,653.8L245.4,654.3L248.4,656.4L250.5,656.8L251.4,656.9L252.4,656.8L254.4,656.4L257.4,655.8L260.4,655.3L263.4,655.2L266.4,655.5L269.4,656.1L271.2,656.8L272.4,657.4L275.4,659.4L275.9,659.8L277.9,662.8L278.4,664.4L279.1,665.8L280.7,668.8L281.4,669.6L283.9,671.8L284.4,672.3L286.1,674.8L287.3,677.8L287.4,678.3L287.8,680.8L288.4,683.8L290.2,686.8L290.4,686.9L293.4,689.1L294.6,689.8L296.4,690.5L299.4,691.3L302.4,691.8L305.4,691.9L308.4,691.7L311.4,691.4L314.4,691.8L317.2,692.8L317.4,692.8L320.4,694.0L323.4,695.1L324.9,695.8L326.4,696.6L329.4,698.8L329.4,698.8L332.4,701.1L334.1,701.8L335.4,702.3L338.4,702.4L341.4,702.0L344.4,702.4L347.4,704.7L347.5,704.8L349.2,707.8L350.4,709.8L351.9,710.8L353.4,711.3L356.4,712.0L359.4,712.9L361.5,713.8L362.4,714.1L365.4,715.3L368.4,716.3L369.7,716.8L371.4,717.8L373.8,719.8L374.4,721.5L374.9,722.8L375.6,725.8L377.3,728.8L377.4,728.9L380.4,729.4L382.0,728.8L383.4,727.8L385.5,725.8L386.4,724.8L388.5,722.8L389.4,721.9L392.4,719.8L392.4,719.7L395.4,717.9L398.4,716.8L398.4,716.7L401.4,714.9L402.6,713.8L403.3,710.8L402.5,707.8L401.5,704.8L401.4,704.3L401.0,701.8L401.0,698.8L401.3,695.8L401.4,692.8L401.4,689.8L401.4,687.7L401.5,686.8L402.4,683.8L404.4,680.9L404.5,680.8L407.4,678.0L407.7,677.8L410.4,675.0L410.8,674.8L413.4,671.8L413.7,671.8L416.4,670.9L419.4,671.5L420.2,671.8L422.4,672.3L425.4,672.7L428.4,672.6L431.0,671.8L431.4,671.5L434.0,668.8L434.4,668.1L435.8,665.8L437.4,663.8L438.4,662.8L440.4,661.5L443.4,659.8L443.4,659.7L446.4,658.6L449.4,657.8L452.4,657.5L455.4,657.7L458.4,658.4L461.4,659.4L462.4,659.8L464.4,660.9L466.4,662.8L467.4,663.9L468.7,665.8L470.3,668.8L470.4,669.3L471.0,671.8L471.1,674.8L470.8,677.8L470.4,679.6L470.3,680.8L470.0,683.8L470.4,685.9L470.7,686.8L473.4,689.8L473.4,689.8L476.4,691.7L478.1,692.8L479.4,693.6L482.4,695.5L482.8,695.8L485.4,698.0L486.2,698.8L488.4,701.1L489.1,701.8L491.4,703.8L493.1,704.8L494.4,705.6L497.4,706.7L500.4,707.3L503.4,707.6L506.4,707.4L509.4,706.4L512.5,704.8L512.5,704.8L515.5,703.1L518.5,701.9L518.9,701.8L521.5,700.8L524.4,698.8L524.5,698.6L525.4,695.8L525.2,692.8L524.5,689.8L524.4,689.8L523.6,686.8L523.6,683.8L524.4,680.8L524.5,680.6L525.8,677.8L527.3,674.8L527.5,674.3L528.6,671.8L530.0,668.8L530.5,667.8L532.0,665.8L533.5,664.0L535.2,662.8L536.5,662.0L539.5,660.2L540.0,659.8L542.5,657.7L543.3,656.8L545.4,653.8L545.5,653.4L546.5,650.8L546.2,647.8L545.5,646.2L544.9,644.8L544.2,641.8L544.5,638.8L545.5,636.4L545.8,635.8L547.8,632.8L548.5,630.8L549.1,629.8L549.0,626.8L548.5,625.5L548.1,623.8L547.2,620.8L546.1,617.8L545.5,616.2L545.0,614.8L544.1,611.8L543.1,608.8L542.5,606.6L542.1,605.8L540.1,602.8L539.5,602.1L536.5,600.4L535.0,599.8L533.5,599.1L530.5,597.5L529.3,596.8L527.5,595.5L524.9,593.8L524.5,593.4L521.5,591.4L520.6,590.8L518.5,588.6L518.0,587.8L517.4,584.8L517.6,581.8L518.5,578.9L518.5,578.8L520.5,575.8L521.5,574.7L524.4,572.8L524.5,572.7L527.5,571.3L530.5,569.9L530.8,569.8L533.5,568.4L536.5,567.5L539.5,567.4L542.5,567.7L545.5,568.1L548.5,568.8L551.5,569.6L551.8,569.8L554.5,570.8L557.3,572.8L557.5,572.9L558.9,575.8L559.4,578.8L559.9,581.8L560.5,584.0L560.6,584.8L561.8,587.8L563.5,590.5L563.6,590.8L565.1,593.8L566.5,596.3L566.7,596.8L567.7,599.8L568.1,602.8L567.8,605.8L566.8,608.8L566.5,609.8L565.5,611.8L564.4,614.8L563.8,617.8L563.5,619.7L563.2,620.8L561.8,623.8L560.5,625.2L558.5,626.8L557.5,628.0L556.1,629.8L556.1,632.8L557.4,635.8L557.5,635.9L558.6,638.8L558.9,641.8L558.2,644.8L557.5,647.0L557.2,647.8L556.9,650.8L557.5,652.4L557.9,653.8L559.3,656.8L560.1,659.8L559.9,662.8L559.7,665.8L560.5,668.7L560.5,668.8L561.8,671.8L563.1,674.8L563.5,675.5L564.5,677.8L566.0,680.8L566.5,682.0L567.3,683.8L567.8,686.8L567.0,689.8L566.5,690.8L565.3,692.8L563.5,694.6L561.1,695.8L560.5,696.0L557.5,696.8L554.5,697.8L552.9,698.8L551.5,700.5L550.7,701.8L550.1,704.8L549.5,707.8L548.5,709.6L547.5,710.8L545.5,713.0L544.9,713.8L544.5,716.8L545.5,719.1L546.0,719.8L548.5,721.2L551.5,722.4L552.4,722.8L554.5,723.4L557.5,724.3L560.5,724.7L563.5,724.6L566.5,724.1L569.5,723.7L572.5,723.7L575.5,723.9L578.5,724.0L581.5,723.9L584.5,723.5L587.5,722.8L587.6,722.8L590.5,720.8L591.8,719.8L593.5,718.2L595.8,716.8L596.5,716.3L599.5,716.0L601.0,716.8L602.5,717.4L605.5,719.5L605.9,719.8L608.5,720.9L611.5,721.7L614.5,722.0L617.5,721.6L618.7,719.8L620.2,716.8L620.5,716.3L622.5,713.8L623.5,712.9L626.5,711.0L627.2,710.8L629.5,709.9L632.3,710.8L632.5,710.8L634.7,713.8L635.5,714.9L638.5,716.7L641.5,714.6L642.1,713.8L644.5,711.6L645.6,710.8L647.5,709.5L650.1,707.8L650.5,706.9L650.9,704.8L650.5,703.5L649.7,701.8L648.5,698.8L648.5,695.8L649.7,692.8L650.5,691.9L653.3,689.8L653.5,689.7L656.5,688.7L659.5,688.7L661.5,689.8L662.5,690.6L663.6,692.8L664.4,695.8L665.5,698.6L665.5,698.8L668.4,701.8L668.5,701.8L671.5,703.1L674.5,703.9L677.5,704.4L680.5,704.7L683.5,704.5L686.5,703.9L689.5,703.0L692.2,701.8L692.5,701.6L694.6,698.8L695.3,695.8L694.4,692.8L692.5,690.6L691.7,689.8L689.5,687.2L689.1,686.8L687.6,683.8L687.2,680.8L687.3,677.8L687.4,674.8L687.5,671.8L687.9,668.8L689.2,665.8L689.5,665.5L691.3,662.8L692.5,661.2L693.4,659.8L695.3,656.8L695.5,656.5L698.0,653.8L698.5,653.3L701.5,652.4L704.5,653.1L705.4,653.8L707.5,655.5L708.3,656.8L710.1,659.8L710.5,660.3L712.0,662.8L713.5,664.7L714.2,665.8L716.1,668.8L716.5,669.8L717.2,671.8L718.1,674.8L719.5,677.5L720.0,677.8L722.5,678.4L724.5,677.8L725.5,677.6L728.5,676.4L731.5,675.0L731.8,674.8L734.5,672.8L735.5,671.8L737.5,669.4L738.0,668.8L740.1,665.8L740.5,665.1L741.6,662.8L742.4,659.8L743.0,656.8L743.5,655.1L743.8,653.8L745.1,650.8L746.5,648.1L746.6,647.8L747.9,644.8L749.0,641.8L749.5,640.1L750.1,638.8L751.4,635.8L752.1,632.8L752.2,629.8L752.2,626.8L752.1,623.8L751.6,620.8L750.6,617.8L749.5,614.8L749.5,614.6L748.4,611.8L749.5,610.5L750.1,608.8L751.5,605.8L752.2,602.8L752.0,599.8L751.4,596.8L750.6,593.8L749.9,590.8L749.5,588.6L749.2,587.8L748.7,584.8L748.6,581.8L748.0,578.8L746.5,576.9L745.3,575.8L743.5,574.6L740.7,572.8L740.5,572.6L737.5,570.4L736.9,569.8L734.6,566.8L734.5,566.4L733.2,563.8L732.2,560.8L731.9,557.8L732.7,554.8L734.5,552.1L734.6,551.8L736.6,548.8L737.5,547.1L738.1,545.8L738.7,542.8L738.9,539.8L739.3,536.8L740.5,534.1L740.6,533.8L741.8,530.8L742.4,527.8L742.8,524.8L743.1,521.8L743.4,518.8L743.5,518.6L743.9,515.8L744.6,512.8L745.7,509.8L746.5,508.6L747.9,506.8L749.5,505.4L752.5,503.8L752.7,503.8L755.5,503.0L758.5,502.9L761.5,503.7L761.6,503.8L764.5,505.1L767.5,506.6L769.5,506.8L770.5,506.8L771.7,506.8L773.5,506.6L773.9,506.8L776.5,507.3L779.5,508.8L781.4,509.8L782.5,510.2L785.5,510.8L788.5,510.7L791.5,509.8L791.6,509.8L794.5,508.3L796.8,506.8L797.5,506.4L800.5,504.8L803.1,503.8L803.5,503.6L806.5,503.3L809.5,503.7L809.7,503.8L812.5,504.7L815.5,506.1L817.2,506.8L818.5,507.3L821.5,508.2L824.5,508.6L827.5,508.9L830.5,509.1L833.5,509.3M625.7,101.8L623.5,103.1L621.5,104.8L620.5,105.5L618.0,107.8L617.5,108.5L615.7,110.8L614.5,113.3L614.1,113.8L611.8,116.8L611.5,117.1L608.5,118.4L605.5,117.9L604.3,116.8L602.5,113.8L602.5,113.5L601.1,110.8L599.5,108.8L596.5,107.8L596.1,107.8L593.5,107.2L590.5,105.9L589.1,104.8L587.5,102.9L586.7,101.8M668.9,101.8L668.5,102.9L667.5,104.8L665.5,106.8L662.8,107.8L662.5,107.8L662.1,107.8L659.5,107.1L656.5,106.1L653.5,105.8L650.5,106.1L647.5,106.5L644.5,106.7L641.5,106.4L638.5,105.3L637.4,104.8L635.5,103.2L633.2,101.8M833.5,342.8L830.5,342.9L827.5,342.6L824.5,341.8L824.5,341.7L821.5,340.3L818.5,338.8L818.4,338.8L815.5,336.5L814.6,335.8L813.6,332.8L812.7,329.8L812.5,329.5L809.5,327.4L808.3,326.8L806.5,326.2L803.5,324.8L802.0,323.8L800.5,322.6L799.0,320.8L797.5,318.9L796.7,317.8L794.5,315.5L793.6,314.8L791.5,313.2L789.4,311.8L788.5,311.1L785.5,309.2L784.5,308.8L782.5,308.0L779.5,307.7L776.5,308.1L774.0,308.8L773.5,308.9L770.5,309.7L767.5,309.9L764.5,309.4L762.9,308.8L761.5,308.1L758.5,306.6L756.4,305.8L755.5,305.4L752.5,304.6L749.5,304.3L746.5,304.1L743.5,303.8L740.5,303.3L737.8,302.8L737.5,302.7L734.5,302.2L731.5,301.7L728.5,301.2L725.5,300.4L723.4,299.8L722.5,299.4L719.5,298.0L717.1,296.8L716.5,296.4L713.5,294.8L711.3,293.8L710.5,293.4L707.5,292.3L704.5,291.3L702.8,290.8L701.5,290.3L698.5,288.4L697.8,287.8L695.5,285.3L695.1,284.8L693.4,281.8L692.5,278.8L692.4,278.8L691.8,275.8L691.8,272.8L691.7,269.8L690.0,266.8L689.5,266.2L687.8,266.8L686.5,267.1L684.5,269.8L683.5,270.7L681.3,272.8L680.5,273.2L677.5,274.1L674.5,273.7L672.7,272.8L671.5,272.0L669.5,269.8L668.5,267.6L668.1,266.8L667.8,263.8L668.0,260.8L668.4,257.8L668.5,257.7L669.9,254.8L671.5,253.1L674.5,253.8L675.9,254.8L677.5,255.6L680.5,257.1L682.3,257.8L683.5,258.4L686.5,258.5L687.3,257.8L689.5,256.6L691.5,254.8L692.5,254.2L695.5,252.9L698.5,252.1L699.4,251.8L701.5,251.2L704.5,249.4L705.1,248.8L707.5,246.5L708.4,245.8L710.5,244.6L713.5,244.0L716.5,244.0L719.5,244.0L722.5,243.3L723.5,242.8L725.5,241.3L727.0,239.8L728.5,237.8L729.3,236.8L731.5,234.0L731.7,233.8L734.0,230.8L734.5,230.2L736.0,227.8L737.5,225.4L737.8,224.8L739.2,221.8L740.1,218.8L740.5,215.8L740.5,215.8L740.5,212.8L740.5,212.0L740.3,209.8L739.8,206.8L738.9,203.8L737.7,200.8L737.5,200.1L736.4,197.8L734.5,195.0L734.3,194.8L731.5,192.1L731.0,191.8L728.5,189.7L727.3,188.8L725.5,186.4L725.0,185.8L724.9,182.8L725.5,181.6L726.6,179.8L727.7,176.8L727.1,173.8L726.1,170.8L725.5,168.4L725.3,167.8L725.5,165.5L725.5,164.8L727.4,161.8L728.5,160.6L730.0,158.8L731.0,155.8L731.0,152.8L730.4,149.8L729.4,146.8L728.5,144.7L727.8,143.8L726.1,140.8L725.5,139.5L723.8,137.8L722.5,136.7L719.5,136.7L716.5,137.0L713.5,136.0L711.9,134.8L710.5,133.7L708.6,131.8L707.5,130.2L706.3,128.8L704.6,125.8L704.5,125.4L702.7,122.8L701.9,119.8L702.6,116.8L704.5,114.3L704.8,113.8L707.4,110.8L707.5,110.7L709.4,107.8L710.5,105.7L711.1,104.8L712.9,101.8M760.4,101.8L761.5,103.3L764.5,103.2L765.1,101.8M786.9,101.8L788.5,102.4L791.5,101.8L791.6,101.8M833.5,131.9L833.3,131.8L830.5,131.3L827.5,130.6L824.5,130.0L821.5,129.3L818.5,129.0L815.5,130.1L814.1,131.8L813.6,134.8L813.6,137.8L813.6,140.8L814.1,143.8L815.4,146.8L815.5,146.8L818.5,149.6L819.2,149.8L821.5,150.1L822.4,149.8L824.5,148.4L826.2,146.8L827.5,144.5L828.0,143.8L829.3,140.8L830.5,139.2L832.0,137.8L833.5,136.5M776.5,137.8L776.5,137.7L776.4,137.8L776.5,137.8L776.5,137.8M488.4,189.0L487.9,188.8L485.4,187.2L484.1,185.8L482.4,183.0L482.3,182.8L482.4,179.9L485.4,179.9L487.4,182.8L488.4,184.0L489.6,185.8L489.1,188.8L488.4,189.0M799.9,200.8L800.5,200.2L801.8,197.8L802.2,194.8L802.0,191.8L800.8,188.8L800.5,188.3L797.5,187.0L794.5,187.2L792.2,188.8L791.5,189.5L790.1,191.8L789.4,194.8L789.4,197.8L790.2,200.8L791.5,202.1L794.5,202.9L797.5,202.3L799.9,200.8M104.5,310.3L107.5,311.5L108.1,311.8L110.5,312.7L113.5,312.8L116.0,311.8L116.5,311.6L119.5,309.3L119.9,308.8L122.0,305.8L122.5,304.3L122.9,302.8L122.9,299.8L122.5,296.8L122.4,296.8L121.8,293.8L121.0,290.8L119.8,287.8L119.5,286.9L116.6,284.8L116.5,284.6L113.5,283.6L112.1,281.8L111.8,278.8L110.5,276.5L110.1,275.8L107.5,274.6L104.5,274.1M104.5,351.6L107.5,351.4L110.5,350.8L110.8,350.8L113.5,350.1L116.5,349.2L119.5,347.9L119.8,347.8L122.5,345.8L124.3,344.8L125.5,343.3L127.1,341.8L126.9,338.8L125.5,337.1L124.4,335.8L122.5,333.6L121.8,332.8L120.1,329.8L119.5,328.3L118.5,326.8L116.5,324.5L115.3,323.8L113.5,322.6L110.5,321.7L107.5,321.3L104.5,321.3M581.5,446.9L578.5,447.8L575.5,448.6L572.5,448.7L569.5,447.4L568.8,446.8L567.2,443.8L567.4,440.8L569.0,437.8L569.5,437.1L571.0,434.8L572.5,432.4L572.8,431.8L574.4,428.8L575.5,426.8L576.0,425.8L577.7,422.8L578.5,421.6L579.9,419.8L581.5,418.2L583.6,416.8L584.5,416.3L587.5,415.4L590.5,414.8L593.5,414.8L596.0,416.8L596.5,417.6L597.2,419.8L597.8,422.8L598.2,425.8L598.3,428.8L597.6,431.8L596.5,433.6L595.8,434.8L593.5,437.8L593.5,437.8L591.2,440.8L590.5,441.7L588.2,443.8L587.5,444.4L584.5,445.8L581.9,446.8L581.5,446.9M530.5,448.6L527.5,448.9L524.5,447.3L523.9,446.8L522.6,443.8L522.3,440.8L522.3,437.8L522.3,434.8L522.3,431.8L522.4,428.8L523.1,425.8L524.5,423.6L526.8,425.8L527.5,426.1L529.1,428.8L530.5,430.2L531.5,431.8L533.5,434.6L533.5,434.8L534.6,437.8L534.8,440.8L534.3,443.8L533.5,445.9L532.9,446.8L530.5,448.6M506.4,534.1L503.4,534.6L500.7,533.8L500.4,533.7L497.4,531.6L496.7,530.8L494.5,527.8L494.4,527.7L493.0,524.8L491.7,521.8L491.4,521.2L490.4,518.8L489.0,515.8L488.4,514.3L487.9,512.8L487.3,509.8L487.1,506.8L486.5,503.8L485.4,501.7L484.8,500.8L482.4,498.9L480.4,497.8L479.4,497.3L476.4,495.9L474.4,494.8L473.4,493.9L471.3,491.8L470.4,488.8L470.4,488.8L470.4,488.6L470.7,485.8L471.3,482.8L470.9,479.8L470.4,479.4L467.4,478.2L464.4,477.9L461.4,478.2L458.4,479.0L456.6,479.8L455.4,480.1L452.4,481.4L449.4,482.6L449.2,482.8L446.4,484.4L444.7,485.8L443.4,487.1L441.5,488.8L440.4,489.6L437.4,490.4L434.4,489.7L433.2,488.8L431.4,486.4L431.1,485.8L430.2,482.8L429.7,479.8L429.2,476.8L429.0,473.8L429.2,470.8L429.8,467.8L430.3,464.8L430.4,461.8L430.3,458.8L430.7,455.8L431.4,453.5L431.7,452.8L433.3,449.8L434.4,447.9L435.2,446.8L437.4,444.0L437.8,443.8L440.4,442.3L443.4,441.4L446.4,441.0L448.1,440.8L449.4,440.6L452.4,440.1L455.4,439.5L458.4,438.9L461.4,438.4L464.4,438.3L467.4,438.7L470.4,439.0L473.4,438.8L476.4,438.4L479.4,438.6L482.4,440.8L482.4,440.8L483.6,443.8L484.3,446.8L484.8,449.8L484.6,452.8L483.6,455.8L482.4,457.8L481.9,458.8L481.0,461.8L481.0,464.8L481.4,467.8L481.8,470.8L482.0,473.8L482.4,475.3L482.9,476.8L485.4,479.0L487.0,479.8L488.4,480.3L491.4,481.1L494.4,482.4L494.9,482.8L497.4,485.5L497.6,485.8L499.6,488.8L500.4,489.6L502.3,491.8L503.4,492.9L505.4,494.8L506.4,495.6L509.3,497.8L509.4,497.9L512.5,499.7L514.9,500.8L515.5,501.0L518.5,501.7L521.5,502.3L524.5,503.3L525.4,503.8L527.5,505.0L529.5,506.8L530.5,509.4L530.6,509.8L530.5,510.5L530.2,512.8L529.2,515.8L527.7,518.8L527.5,519.0L525.4,521.8L524.5,522.8L522.1,524.8L521.5,525.3L518.5,527.1L516.9,527.8L515.5,528.5L512.5,530.1L511.2,530.8L509.4,532.3L507.0,533.8L506.4,534.1M548.5,489.2L547.0,488.8L545.9,485.8L548.4,482.8L548.5,482.7L551.5,482.6L551.6,482.8L551.5,485.2L551.4,485.8L549.2,488.8L548.5,489.2M551.5,546.4L549.9,545.8L551.5,544.2L552.2,545.8L551.5,546.4M503.4,630.3L500.4,631.0L497.4,631.4L494.4,631.5L491.6,629.8L491.4,629.5L490.7,626.8L490.8,623.8L491.4,621.6L491.7,620.8L493.4,617.8L494.4,616.3L495.6,614.8L497.4,612.7L498.6,611.8L500.4,610.4L503.4,609.6L506.4,610.1L509.1,611.8L509.4,612.1L511.3,614.8L512.0,617.8L512.0,620.8L511.1,623.8L509.4,626.5L509.2,626.8L506.4,629.0L504.7,629.8L503.4,630.3M687.0,722.8L688.0,719.8L686.5,718.6L683.5,719.4L683.2,719.8L683.5,722.2L683.9,722.8L686.5,723.1L687.0,722.8M690.6,830.8L690.3,827.8L689.8,824.8L689.7,821.8L689.9,818.8L689.8,815.8L689.5,814.3L689.1,812.8L687.9,809.8L686.5,807.0L686.3,806.8L684.5,803.8L683.5,802.0L682.7,800.8L680.8,797.8L680.5,797.2L678.6,794.8L677.5,793.6L675.0,791.8L674.5,791.4L671.5,789.6L670.3,788.8L668.5,787.5L665.5,785.8L665.5,785.7L662.5,785.0L659.5,784.8L656.5,785.1L654.5,785.8L653.5,786.2L650.5,787.5L647.5,788.0L644.5,787.5L641.5,786.0L641.0,785.8L638.5,784.6L635.5,784.0L632.5,784.6L630.7,785.8L629.5,787.6L627.8,788.8L626.5,789.4L625.7,788.8L623.5,787.0L622.6,785.8L620.5,783.0L620.2,782.8L617.5,780.0L616.8,779.8L614.5,779.2L611.5,779.6L611.2,779.8L608.5,781.0L606.4,782.8L605.5,784.0L604.4,785.8L604.0,788.8L605.5,791.4L605.7,791.8L608.5,793.8L609.6,794.8L611.5,796.4L612.7,797.8L614.5,800.3L614.8,800.8L616.9,803.8L617.5,804.5L619.1,806.8L620.3,809.8L620.5,810.1L621.0,812.8L622.2,815.8L623.5,817.2L624.5,818.8L626.5,821.3L626.8,821.8L628.5,824.8L629.5,827.7L629.5,827.8L630.1,830.8M620.0,830.8L617.5,828.4L616.9,827.8L614.5,824.9L614.3,824.8L612.9,821.8L611.8,818.8L611.5,818.1L609.8,815.8L608.5,814.6L605.5,812.9L604.9,812.8L602.5,812.1L599.5,811.5L596.5,811.5L593.5,812.1L591.3,812.8L590.5,813.0L587.5,813.5L586.2,812.8L584.5,810.8L584.0,809.8L583.0,806.8L581.5,804.6L579.6,803.8L578.5,803.5L575.5,803.0L572.5,802.1L569.5,801.4L566.5,801.6L563.5,802.7L561.7,803.8L560.5,804.7L558.3,806.8L557.5,808.0L556.2,809.8L555.2,812.8L556.0,815.8L557.5,816.7L560.5,817.6L563.5,818.0L566.5,818.4L569.0,818.8L569.5,818.8L572.5,819.4L575.5,819.9L578.5,820.0L581.5,820.0L584.0,821.8L584.5,822.2L585.8,824.8L587.5,827.3L587.8,827.8L589.9,830.8" fill="none" stroke="#7ad151" stroke-width="2.0" stroke-linejoin="round"/><path d="M567.0,101.8L566.5,101.9L563.5,104.8L563.5,104.8L560.5,107.5L560.1,107.8L557.5,109.3L555.2,110.8L554.5,111.1L551.5,112.8L549.9,113.8L548.5,114.5L545.5,115.9L543.2,116.8L542.5,117.0L539.5,117.6L536.5,117.9L533.5,118.1L530.5,118.5L527.5,119.2L525.2,119.8L524.5,120.0L521.5,120.5L518.5,120.5L515.5,120.1L512.5,119.8L509.4,120.6L506.4,122.1L504.8,122.8L503.4,123.1L500.4,123.7L497.4,124.4L494.4,125.6L494.2,125.8L491.4,128.3L491.1,128.8L489.7,131.8L488.8,134.8L488.6,137.8L488.9,140.8L489.8,143.8L490.8,146.8L491.4,148.5L491.9,149.8L492.8,152.8L493.3,155.8L493.6,158.8L493.5,161.8L493.1,164.8L492.4,167.8L492.1,170.8L492.6,173.8L494.2,176.8L494.4,177.1L497.4,179.6L497.9,179.8L500.4,180.9L503.4,181.3L506.4,181.6L508.1,182.8L509.4,183.7L511.0,185.8L512.5,187.0L514.3,188.8L515.5,189.6L518.5,191.3L519.6,191.8L521.5,192.5L524.5,193.3L527.5,193.6L530.5,193.4L533.5,192.8L536.5,191.9L536.8,191.8L539.5,190.7L542.5,188.8L542.5,188.8L545.5,185.8L545.5,185.8L548.5,182.9L551.5,183.2L554.5,184.0L557.5,184.5L560.5,185.1L561.7,185.8L563.5,186.8L565.9,188.8L566.5,189.1L569.5,189.5L572.5,189.0L575.5,188.8L578.5,189.5L581.5,191.7L581.5,191.8L582.5,194.8L582.9,197.8L583.4,200.8L583.9,203.8L583.8,206.8L582.6,209.8L581.5,211.0L578.9,212.8L578.5,212.9L575.5,213.3L572.5,213.0L571.5,212.8L569.5,212.0L566.5,210.2L565.7,209.8L563.8,206.8L563.5,205.5L562.2,203.8L560.5,202.5L557.5,203.2L556.7,203.8L554.5,205.5L553.2,206.8L551.5,208.5L549.8,209.8L548.5,210.5L545.5,210.9L542.5,210.2L541.5,209.8L539.5,208.7L536.5,207.5L533.5,207.3L530.5,208.0L527.5,209.2L526.2,209.8L524.5,210.4L521.5,211.0L518.5,211.1L515.5,210.7L512.5,209.9L511.8,209.8L509.4,208.9L506.4,208.1L503.4,208.3L500.4,209.5L499.9,209.8L497.4,210.6L494.4,211.1L491.4,210.9L488.4,210.5L485.4,210.9L482.4,212.2L481.1,212.8L479.4,213.5L476.4,214.4L473.4,214.6L470.4,214.1L467.4,212.8L467.4,212.8L464.6,209.8L464.4,209.5L463.4,206.8L462.0,203.8L461.4,203.1L458.4,200.9L458.2,200.8L455.4,199.2L453.7,197.8L452.4,196.1L451.7,194.8L450.6,191.8L450.0,188.8L449.5,185.8L449.4,185.6L448.5,182.8L446.7,179.8L446.4,179.3L445.0,176.8L443.5,173.8L443.4,173.5L442.4,170.8L441.0,167.8L440.4,166.8L438.4,164.8L437.4,163.7L434.4,162.7L431.4,163.0L428.4,164.3L427.8,164.8L425.4,165.8L422.4,166.9L419.4,167.6L416.5,167.8L416.4,167.8L413.4,167.9L410.4,169.4L409.5,170.8L407.4,173.6L407.3,173.8L404.4,176.5L404.0,176.8L401.4,178.0L398.4,179.2L396.8,179.8L395.4,180.2L392.4,181.1L389.4,182.2L387.8,182.8L386.4,183.2L383.4,183.8L380.4,184.3L377.4,184.6L374.4,185.3L373.3,185.8L371.4,186.4L368.4,188.0L367.5,188.8L365.4,190.3L363.5,191.8L362.4,192.6L359.4,194.6L359.2,194.8L356.4,196.2L353.4,197.4L352.5,197.8L350.4,198.4L347.4,199.3L344.4,200.3L343.6,200.8L341.4,202.1L339.0,203.8L338.4,204.5L335.4,206.6L335.2,206.8L335.1,209.8L335.4,209.9L338.4,211.3L340.1,212.8L341.4,214.4L342.0,215.8L341.7,218.8L341.4,219.1L338.4,221.1L337.5,221.8L335.4,222.9L333.7,224.8L332.4,226.6L331.8,227.8L330.7,230.8L329.7,233.8L329.4,234.5L328.0,236.8L326.4,238.4L325.7,239.8L325.0,242.8L325.2,245.8L326.0,248.8L326.4,250.2L327.4,251.8L329.4,254.7L329.6,254.8L332.3,257.8L332.4,258.0L333.1,260.8L332.8,263.8L332.4,265.5L332.0,266.8L330.9,269.8L329.4,272.1L326.9,269.8L326.4,268.9L326.1,266.8L326.0,263.8L325.6,260.8L323.4,258.0L323.2,257.8L320.4,256.7L317.4,256.2L314.4,256.2L311.4,257.0L310.4,257.8L308.4,259.6L307.4,260.8L305.4,262.9L304.1,263.8L302.4,264.9L299.4,264.9L298.5,263.8L297.6,260.8L297.4,257.8L297.5,254.8L297.8,251.8L298.3,248.8L298.7,245.8L299.1,242.8L299.4,239.8L299.4,238.9L299.6,236.8L299.4,236.0L298.8,233.8L296.4,232.2L293.4,231.8L290.4,232.4L288.0,233.8L287.4,234.1L285.1,236.8L284.4,238.1L283.7,239.8L283.5,242.8L284.1,245.8L284.4,247.1L284.8,248.8L284.9,251.8L284.5,254.8L284.4,255.3L284.1,257.8L283.8,260.8L283.9,263.8L284.4,266.3L284.6,266.8L284.4,267.9L284.1,269.8L282.0,272.8L281.4,274.5L281.1,275.8L280.8,278.8L280.6,281.8L280.4,284.8L279.7,287.8L278.4,289.3L275.4,288.0L275.2,287.8L273.7,284.8L272.4,282.6L272.0,281.8L269.4,279.4L266.4,278.8L263.4,280.2L262.0,281.8L260.6,284.8L260.4,285.2L259.4,287.8L257.4,290.1L256.1,290.8L254.4,291.2L251.4,291.0L249.0,290.8L248.4,290.7L248.3,290.8L245.4,292.2L244.1,293.8L242.4,295.9L242.0,296.8L240.9,299.8L240.5,302.8L240.8,305.8L241.5,308.8L242.3,311.8L242.4,312.9L242.7,314.8L242.4,316.7L242.3,317.8L241.1,320.8L239.6,323.8L239.4,324.1L236.4,325.7L233.4,324.4L232.8,323.8L230.4,321.9L229.2,320.8L227.4,319.6L224.9,317.8L224.4,317.5L221.4,315.7L219.5,314.8L218.4,314.3L215.4,313.9L212.8,314.8L212.4,314.9L209.7,317.8L209.4,318.6L208.8,320.8L209.2,323.8L209.4,325.3L209.7,326.8L209.4,328.6L209.3,329.8L207.9,332.8L206.4,334.8L205.8,335.8L203.6,338.8L203.4,339.0L201.9,341.8L201.3,344.8L201.8,347.8L202.8,350.8L203.4,353.1L203.7,353.8L203.9,356.8L203.4,358.2L202.9,359.8L200.4,362.6L200.3,362.8L198.2,365.8L197.4,367.3L197.1,368.8L196.5,371.8L196.1,374.8L196.4,377.8L197.4,380.7L197.5,380.8L199.2,383.8L200.4,386.8L200.4,387.1L200.9,389.8L200.8,392.8L200.4,394.5L200.1,395.8L198.4,398.8L197.4,399.7L194.8,401.8L194.4,402.0L191.4,404.4L191.2,404.8L189.6,407.8L189.1,410.8L189.1,413.8L189.0,416.8L188.4,418.4L188.1,419.8L186.6,422.8L185.4,425.1L185.2,425.8L184.2,428.8L183.3,431.8L182.4,434.3L182.3,434.8L181.7,437.8L181.8,440.8L182.4,442.9L182.8,443.8L184.6,446.8L185.4,448.3L186.8,449.8L188.4,452.0L189.3,452.8L190.4,455.8L189.8,458.8L188.4,461.3L188.2,461.8L186.3,464.8L185.4,466.0L184.3,467.8L182.4,470.7L182.4,470.8L180.8,473.8L179.4,476.0L178.9,476.8L176.4,479.1L175.4,479.8L173.4,480.9L170.4,482.4L170.0,482.8L167.4,485.5L167.3,485.8L166.9,488.8L167.3,491.8L167.4,494.1L167.5,494.8L167.4,495.1L166.7,497.8L165.1,500.8L164.6,503.8L164.9,506.8L165.2,509.8L164.7,512.8L164.4,513.3L161.4,514.2L159.2,512.8L158.4,512.0L155.4,510.0L152.4,511.4L151.7,512.8L151.2,515.8L151.4,518.8L152.0,521.8L152.4,523.4L152.8,524.8L154.0,527.8L155.2,530.8L155.4,531.5L156.3,533.8L156.5,536.8L155.6,539.8L155.4,540.1L154.2,542.8L152.8,545.8L152.4,546.9L151.9,548.8L151.6,551.8L151.5,554.8L151.5,557.8L151.5,560.8L151.9,563.8L152.4,564.7L154.9,566.8L155.4,567.1L158.4,568.0L161.4,568.4L164.4,569.2L165.7,569.8L167.4,570.4L170.4,571.2L173.4,572.0L175.0,572.8L176.4,574.2L177.1,575.8L177.4,578.8L177.2,581.8L177.2,584.8L177.8,587.8L178.9,590.8L179.4,591.9L180.2,593.8L181.2,596.8L182.0,599.8L182.4,600.9L183.2,602.8L185.4,605.6L185.6,605.8L188.4,607.3L191.4,608.0L194.4,608.3L196.8,608.8L197.4,608.9L200.4,610.7L201.4,611.8L203.4,614.7L203.5,614.8L205.5,617.8L206.4,619.0L207.5,620.8L208.9,623.8L209.4,626.0L209.6,626.8L210.2,629.8L211.5,632.8L212.4,633.5L215.4,634.8L218.4,635.2L221.4,635.4L223.1,635.8L224.4,636.1L227.4,638.4L227.8,638.8L230.4,640.8L232.6,641.8L233.4,642.0L236.4,642.3L239.4,642.2L242.4,642.3L245.4,643.7L246.5,644.8L248.4,646.5L250.1,647.8L251.4,648.6L254.4,649.4L257.4,649.5L260.4,649.4L263.4,649.3L266.4,649.4L269.4,649.9L271.8,650.8L272.4,650.9L275.4,652.1L278.4,653.2L280.3,653.8L281.4,654.2L284.4,655.0L287.4,655.9L289.1,656.8L290.4,657.7L292.5,659.8L293.4,661.0L294.8,662.8L296.4,665.2L297.1,665.8L299.4,668.8L299.4,671.8L298.8,674.8L298.8,677.8L299.4,679.6L300.4,680.8L302.4,681.8L305.4,680.8L305.5,680.8L307.0,677.8L307.1,674.8L306.1,671.8L306.5,668.8L308.4,667.8L311.4,666.7L314.4,666.5L317.4,667.8L318.4,668.8L319.6,671.8L319.8,674.8L319.7,677.8L319.9,680.8L320.4,682.1L321.3,683.8L323.4,685.4L326.4,686.6L326.9,686.8L329.4,687.7L332.4,689.6L332.7,689.8L335.4,691.6L338.4,692.8L338.4,692.8L341.4,693.2L344.4,693.6L347.4,694.7L349.1,695.8L350.4,696.7L352.8,698.8L353.4,699.4L356.4,701.7L356.5,701.8L359.4,703.8L360.8,704.8L362.4,706.0L364.9,707.8L365.4,708.1L368.4,709.1L371.4,709.0L373.8,707.8L374.4,707.2L376.3,704.8L377.4,703.1L378.5,701.8L380.4,699.9L383.0,698.8L383.4,698.6L386.4,698.6L387.3,698.8L389.4,699.3L392.4,699.4L393.2,698.8L395.1,695.8L395.4,693.9L395.6,692.8L395.7,689.8L395.8,686.8L396.3,683.8L397.5,680.8L398.4,679.2L399.5,677.8L401.4,675.2L401.8,674.8L403.3,671.8L404.2,668.8L404.4,668.1L405.4,665.8L407.4,663.6L408.7,662.8L410.4,662.0L413.4,661.2L416.4,661.4L419.4,662.6L419.8,662.8L422.4,664.0L425.4,664.3L428.4,662.8L428.5,662.8L431.4,660.3L432.2,659.8L434.4,658.4L437.4,657.2L438.6,656.8L440.4,656.2L443.4,655.1L446.4,653.8L446.7,653.8L449.4,652.5L452.4,651.2L453.8,650.8L455.4,650.1L458.4,649.4L461.4,649.0L464.4,648.3L465.9,647.8L467.4,647.2L470.4,645.7L471.8,644.8L473.4,643.1L474.6,641.8L476.1,638.8L476.4,637.8L477.4,635.8L478.9,632.8L479.4,632.0L481.0,629.8L482.4,627.6L482.9,626.8L484.2,623.8L485.4,620.8L485.4,620.6L486.9,617.8L488.4,615.6L489.1,614.8L491.4,612.0L491.6,611.8L494.0,608.8L494.4,608.1L496.5,605.8L497.4,604.7L500.2,602.8L500.4,602.6L503.4,601.4L506.4,600.5L507.9,599.8L509.4,597.4L509.6,596.8L509.7,593.8L509.4,590.9L509.4,590.8L509.3,587.8L509.4,586.2L509.6,584.8L510.4,581.8L511.7,578.8L512.5,577.2L513.1,575.8L514.5,572.8L515.5,571.0L516.4,569.8L518.5,567.6L519.8,566.8L521.5,565.5L523.5,563.8L524.5,561.9L524.9,560.8L524.5,557.8L524.4,557.8L521.5,555.7L518.5,555.7L515.5,556.3L512.5,556.5L509.4,556.3L506.4,555.7L503.4,555.0L502.8,554.8L500.4,553.5L498.7,551.8L497.4,549.5L497.2,548.8L496.6,545.8L495.8,542.8L494.4,540.2L494.2,539.8L492.4,536.8L491.4,535.3L490.7,533.8L489.2,530.8L488.4,529.2L487.9,527.8L486.6,524.8L485.4,522.2L485.3,521.8L483.8,518.8L482.4,516.1L482.2,515.8L480.6,512.8L479.5,509.8L479.4,509.7L478.2,506.8L476.4,504.4L475.8,503.8L473.4,502.3L470.6,500.8L470.4,500.7L467.4,498.8L466.2,497.8L464.4,495.9L463.4,494.8L461.4,492.1L461.1,491.8L458.4,489.0L457.7,488.8L455.4,488.2L452.4,488.7L452.3,488.8L449.4,490.5L448.2,491.8L446.4,493.2L444.5,494.8L443.4,495.4L440.4,496.5L437.4,496.7L434.4,496.2L431.4,494.9L431.2,494.8L428.4,492.8L427.1,491.8L425.4,489.9L424.4,488.8L423.3,485.8L423.1,482.8L423.0,479.8L422.8,476.8L422.6,473.8L422.6,470.8L422.9,467.8L423.3,464.8L423.5,461.8L423.6,458.8L423.8,455.8L424.2,452.8L424.7,449.8L425.2,446.8L425.4,445.5L425.9,443.8L427.1,440.8L428.4,438.7L429.5,437.8L431.4,436.4L434.4,435.6L437.4,435.4L440.4,435.1L443.4,434.8L444.3,434.8L446.4,434.5L449.4,434.1L452.4,433.6L455.4,432.9L458.4,432.0L459.6,431.8L461.4,431.3L464.4,431.2L467.3,431.8L467.4,431.8L470.4,432.3L473.4,432.5L476.4,432.4L479.4,432.4L482.4,433.0L485.4,434.6L485.7,434.8L488.0,437.8L488.4,438.7L489.4,440.8L490.7,443.8L491.4,445.5L492.3,446.8L494.4,449.8L494.4,449.9L497.4,452.6L497.6,452.8L500.1,455.8L500.2,458.8L498.5,461.8L497.4,463.4L496.5,464.8L495.6,467.8L496.4,470.8L497.4,471.9L498.8,473.8L500.4,475.5L501.3,476.8L503.2,479.8L503.4,480.1L504.8,482.8L506.4,485.6L506.6,485.8L509.4,488.6L509.7,488.8L512.5,490.2L515.5,491.1L517.7,491.8L518.5,492.0L521.5,493.0L524.5,494.3L525.3,494.8L527.5,495.6L530.5,496.2L533.0,494.8L533.5,494.1L534.1,491.8L534.8,488.8L535.7,485.8L536.5,484.1L536.9,482.8L538.1,479.8L539.1,476.8L539.5,475.5L540.1,473.8L541.7,470.8L542.5,469.9L545.5,468.6L548.5,467.9L548.8,467.8L551.5,466.3L553.6,464.8L554.5,463.9L556.8,461.8L557.5,461.1L560.0,458.8L560.5,457.9L561.4,455.8L561.3,452.8L560.5,450.3L560.3,449.8L558.7,446.8L557.5,443.9L557.4,443.8L556.9,440.8L557.5,439.7L558.3,437.8L560.5,435.5L561.1,434.8L563.5,432.4L564.0,431.8L566.5,429.0L566.6,428.8L569.1,425.8L569.5,425.3L571.3,422.8L572.5,421.3L573.5,419.8L575.5,417.3L575.9,416.8L578.5,413.9L578.6,413.8L581.5,411.3L582.4,410.8L584.5,409.4L587.1,407.8L587.5,407.5L590.5,405.0L590.9,404.8L593.5,403.0L596.5,402.4L599.5,403.4L600.8,404.8L602.5,407.7L602.5,407.8L603.6,410.8L605.1,413.8L605.5,414.4L607.2,416.8L608.5,418.6L609.2,419.8L610.2,422.8L610.1,425.8L609.1,428.8L608.5,429.9L607.6,431.8L605.9,434.8L605.5,435.4L603.4,437.8L602.5,438.5L599.6,440.8L599.5,440.9L596.6,443.8L596.5,443.9L594.2,446.8L593.5,447.7L591.3,449.8L590.5,450.5L587.5,452.1L585.8,452.8L584.5,453.2L581.5,454.2L578.5,455.1L576.3,455.8L575.5,456.0L572.5,457.0L569.5,458.2L568.4,458.8L566.5,461.0L565.9,461.8L565.2,464.8L565.0,467.8L564.9,470.8L564.8,473.8L564.9,476.8L565.2,479.8L565.7,482.8L566.3,485.8L566.5,486.8L566.7,488.8L566.7,491.8L566.5,494.8L566.6,497.8L567.3,500.8L568.6,503.8L569.5,505.6L570.2,506.8L570.7,509.8L569.8,512.8L569.5,513.1L566.5,515.1L563.5,514.7L560.8,512.8L560.5,512.5L557.5,510.0L557.1,509.8L554.5,508.3L551.5,508.1L549.2,509.8L548.5,510.3L546.8,512.8L545.5,515.5L545.3,515.8L544.4,518.8L544.0,521.8L544.1,524.8L545.5,527.2L546.0,527.8L548.5,529.1L551.5,529.9L554.5,530.0L557.5,529.5L560.5,528.9L563.5,529.5L564.6,530.8L565.8,533.8L565.9,536.8L566.1,539.8L566.5,540.7L567.6,542.8L569.1,545.8L569.5,547.4L569.7,548.8L569.8,551.8L570.0,554.8L571.3,557.8L572.5,559.5L573.1,560.8L573.6,563.8L573.3,566.8L572.6,569.8L572.5,570.2L571.7,572.8L571.0,575.8L570.7,578.8L571.0,581.8L571.6,584.8L571.9,587.8L572.3,590.8L572.5,591.5L573.1,593.8L574.5,596.8L575.5,599.1L575.8,599.8L576.2,602.8L575.5,605.8L575.5,606.0L574.8,608.8L574.1,611.8L573.7,614.8L573.5,617.8L573.7,620.8L573.9,623.8L573.8,626.8L573.3,629.8L572.7,632.8L572.5,635.8L572.7,638.8L573.2,641.8L573.9,644.8L574.9,647.8L575.5,649.5L575.8,650.8L576.4,653.8L576.8,656.8L577.2,659.8L577.9,662.8L578.5,664.8L578.8,665.8L579.7,668.8L580.6,671.8L581.5,673.9L581.8,674.8L583.5,677.8L584.5,679.0L586.1,680.8L587.5,682.0L590.5,683.4L591.7,683.8L593.5,684.4L596.5,685.9L597.6,686.8L599.5,688.5L600.6,689.8L602.5,691.8L603.3,692.8L605.5,694.7L606.5,695.8L608.5,697.3L610.7,698.8L611.5,699.2L614.5,699.9L617.5,699.5L619.2,698.8L620.5,698.3L623.5,696.9L625.4,695.8L626.5,695.0L629.1,692.8L629.5,692.4L631.6,689.8L632.5,688.7L634.3,686.8L635.5,685.8L638.5,683.8L638.5,683.8L641.5,682.2L644.4,680.8L644.5,680.7L647.5,678.8L648.6,677.8L650.5,676.2L652.1,674.8L653.5,673.8L656.5,672.3L659.5,672.0L662.5,673.2L664.3,674.8L665.5,675.7L668.5,677.5L671.5,677.6L674.5,675.8L675.3,674.8L676.9,671.8L677.5,670.3L677.9,668.8L679.0,665.8L680.5,663.0L680.6,662.8L683.5,660.1L683.9,659.8L686.5,657.8L687.4,656.8L689.1,653.8L689.5,651.1L689.5,650.8L689.5,650.6L687.9,647.8L686.5,646.7L683.6,644.8L683.5,644.5L682.8,641.8L683.5,640.0L684.2,638.8L686.5,637.4L689.5,636.1L690.3,635.8L692.5,635.0L695.5,632.9L695.6,632.8L698.5,629.8L698.5,629.8L701.5,627.5L704.5,628.3L705.3,629.8L706.2,632.8L706.6,635.8L707.5,638.5L707.5,638.8L709.3,641.8L710.5,643.0L711.5,644.8L713.5,647.7L713.5,647.8L714.9,650.8L716.0,653.8L716.5,654.8L717.3,656.8L718.7,659.8L719.5,661.0L720.6,662.8L722.5,665.6L722.7,665.8L725.5,667.9L728.5,667.7L730.9,665.8L731.5,665.0L732.6,662.8L733.7,659.8L734.5,658.1L734.9,656.8L736.3,653.8L737.5,651.7L737.9,650.8L739.3,647.8L740.3,644.8L740.5,642.4L740.5,641.8L740.5,641.2L740.2,638.8L739.9,635.8L740.1,632.8L740.5,631.2L740.7,629.8L740.8,626.8L740.5,625.6L739.5,623.8L737.5,622.2L735.1,620.8L734.5,620.4L731.5,617.8L731.4,617.8L730.1,614.8L729.8,611.8L730.0,608.8L730.5,605.8L731.1,602.8L731.5,600.4L731.6,599.8L731.7,596.8L731.5,596.1L730.7,593.8L729.5,590.8L729.0,587.8L729.4,584.8L730.1,581.8L730.6,578.8L730.2,575.8L728.9,572.8L728.5,571.9L727.1,569.8L725.5,567.5L724.6,566.8L722.5,564.2L721.9,563.8L720.5,560.8L720.0,557.8L719.5,555.6L719.2,554.8L717.9,551.8L716.9,548.8L717.4,545.8L719.5,543.8L720.7,542.8L722.5,541.7L724.8,539.8L725.5,539.1L727.1,536.8L728.5,533.8L728.5,533.8L729.7,530.8L730.8,527.8L731.5,526.0L732.1,524.8L733.6,521.8L734.5,520.0L735.2,518.8L736.7,515.8L737.5,513.8L737.8,512.8L738.4,509.8L738.6,506.8L738.1,503.8L737.7,500.8L740.5,498.9L742.7,497.8L743.5,497.3L746.5,495.2L747.7,494.8L749.5,494.2L752.5,494.3L755.5,494.7L756.4,494.8L758.5,494.9L761.5,494.9L764.5,494.8L767.5,494.9L770.5,495.4L773.5,496.8L774.7,497.8L776.5,499.0L778.5,500.8L779.5,501.5L782.4,503.8L782.5,503.8L785.5,505.0L788.5,504.9L791.5,503.9L791.8,503.8L794.5,502.6L797.5,501.4L799.3,500.8L800.5,500.4L803.5,499.6L806.5,499.1L809.5,499.3L812.5,500.2L813.7,500.8L815.5,501.4L818.5,502.5L821.5,503.2L824.5,503.6L825.4,503.8L827.5,504.0L830.5,504.3L833.5,504.5M833.5,350.8L830.5,351.4L827.5,352.2L824.5,353.0L821.5,353.2L818.5,352.8L815.5,352.3L812.5,351.6L810.6,350.8L809.5,350.0L807.4,347.8L806.5,346.5L805.3,344.8L803.5,342.1L803.2,341.8L801.5,338.8L800.5,336.4L800.2,335.8L798.8,332.8L797.5,330.6L796.9,329.8L794.8,326.8L794.5,326.2L792.9,323.8L791.5,321.5L790.9,320.8L788.5,318.4L787.7,317.8L785.5,316.3L782.8,314.8L782.5,314.6L779.5,313.9L776.5,314.2L773.5,314.7L773.3,314.8L770.5,315.2L767.5,315.2L765.1,314.8L764.5,314.6L761.5,313.5L758.5,312.1L757.6,311.8L755.5,310.9L752.5,310.1L749.5,309.9L746.5,309.8L743.5,309.5L740.5,308.8L740.2,308.8L737.5,308.2L734.5,307.8L731.5,307.5L728.5,307.2L725.5,306.7L722.5,306.2L719.5,305.9L716.5,305.8L715.8,305.8L713.5,305.6L710.5,305.3L707.5,304.9L704.5,304.5L701.5,304.3L698.5,303.9L696.1,302.8L695.5,302.3L693.4,299.8L692.5,298.5L691.2,296.8L689.5,294.8L688.3,293.8L686.5,292.2L684.6,290.8L683.5,289.7L681.0,287.8L680.5,287.3L677.5,285.0L677.2,284.8L674.5,282.7L673.4,281.8L671.5,280.2L669.9,278.8L668.5,277.4L667.0,275.8L665.5,273.5L665.0,272.8L663.7,269.8L663.0,266.8L662.6,263.8L662.5,262.4L662.3,260.8L662.1,257.8L661.9,254.8L661.9,251.8L662.5,249.4L662.6,248.8L664.4,245.8L665.5,244.6L668.5,242.8L668.5,242.8L671.5,242.2L674.5,242.4L676.4,242.8L677.5,243.0L680.5,243.9L683.5,244.7L686.5,245.0L689.5,244.6L692.5,243.3L693.3,242.8L695.1,239.8L695.5,238.3L695.7,236.8L696.9,233.8L698.5,232.1L701.5,230.8L702.0,230.8L704.5,230.6L707.5,230.7L707.8,230.8L710.5,231.2L713.5,232.1L716.5,232.6L719.5,231.8L720.5,230.8L722.5,229.8L725.0,227.8L725.5,227.5L728.5,225.0L728.7,224.8L731.4,221.8L731.5,221.7L733.2,218.8L734.1,215.8L734.2,212.8L733.2,209.8L731.5,206.8L731.5,206.7L729.1,203.8L728.5,202.9L726.9,200.8L725.5,198.9L724.7,197.8L722.5,195.1L722.1,194.8L719.5,191.9L719.3,191.8L716.5,188.9L716.3,188.8L713.8,185.8L713.5,184.8L712.5,182.8L712.2,179.8L713.5,176.8L713.5,176.8L715.9,173.8L716.5,173.0L717.3,170.8L717.6,167.8L717.8,164.8L718.4,161.8L719.5,159.3L719.8,158.8L721.6,155.8L722.1,152.8L719.5,150.4L717.9,149.8L716.5,149.4L713.5,148.6L710.5,147.8L707.5,147.1L705.3,146.8L704.5,146.6L701.5,146.3L698.5,145.6L695.5,144.2L694.9,143.8L692.5,141.5L691.8,140.8L689.5,137.8L689.4,137.8L687.3,134.8L686.5,133.2L685.2,131.8L683.5,129.7L681.2,128.8L680.5,128.3L677.5,127.9L674.5,127.2L672.3,125.8L671.5,124.6L670.4,122.8L668.7,119.8L668.5,119.6L665.5,117.5L664.1,116.8L662.5,116.2L659.5,115.2L656.5,114.1L655.5,113.8L653.5,113.1L650.5,112.4L647.5,112.2L644.5,112.1L641.5,112.0L638.5,111.5L635.6,110.8L635.5,110.7L632.5,109.9L629.5,109.6L626.5,110.2L625.5,110.8L623.5,112.4L622.5,113.8L621.0,116.8L620.5,117.7L619.4,119.8L617.5,122.3L617.0,122.8L614.5,125.2L613.7,125.8L611.5,127.7L610.0,128.8L608.5,129.8L605.5,130.8L602.5,130.4L599.6,128.8L599.5,128.7L596.7,125.8L596.5,125.4L593.7,122.8L593.5,122.5L590.5,121.1L587.5,120.5L584.7,119.8L584.5,119.6L581.7,116.8L581.5,116.2L580.7,113.8L579.4,110.8L578.5,109.4L577.1,107.8L575.5,105.9L574.1,104.8L572.5,102.8L570.5,101.8M104.5,184.5L107.5,185.0L110.5,185.1L113.5,184.4L116.5,182.9L116.6,182.8L119.5,180.7L120.6,179.8L122.5,178.2L124.1,176.8L125.5,175.5L127.4,173.8L128.4,173.0L131.4,170.8L131.5,170.8L134.4,168.5L135.4,167.8L137.4,166.1L138.9,164.8L140.4,163.2L141.6,161.8L143.4,158.8L143.4,158.6L144.3,155.8L144.6,152.8L144.6,149.8L144.5,146.8L144.5,143.8L144.7,140.8L145.0,137.8L145.0,134.8L144.3,131.8L143.5,128.8L143.4,128.6L143.2,125.8L143.2,122.8L143.2,119.8L142.3,116.8L140.4,114.1L140.0,113.8L137.4,112.5L134.4,112.5L131.4,113.2L129.8,113.8L128.4,114.2L125.5,115.3L122.5,116.6L121.9,116.8L119.5,117.9L116.5,118.8L113.5,118.9L110.5,118.6L107.5,118.2L104.5,117.9M104.5,127.7L107.0,128.8L107.5,129.1L108.9,131.8L108.3,134.8L107.5,135.7L104.5,137.5M441.7,152.8L442.3,149.8L441.4,146.8L440.4,145.6L437.4,144.5L434.4,145.8L433.5,146.8L432.7,149.8L433.7,152.8L434.4,153.8L437.4,155.3L440.4,154.4L441.7,152.8M611.5,222.5L608.5,222.8L606.4,221.8L608.5,218.9L611.5,220.2L612.3,221.8L611.5,222.5M407.4,291.2L404.4,291.7L402.3,290.8L401.4,290.2L400.1,287.8L398.9,284.8L398.4,283.5L398.0,281.8L397.7,278.8L398.4,275.8L398.4,275.7L400.8,272.8L401.4,272.0L403.8,269.8L404.4,268.8L406.3,266.8L407.4,264.7L410.4,264.0L413.1,266.8L413.4,267.1L415.2,269.8L416.4,272.0L416.7,272.8L417.4,275.8L417.5,278.8L417.2,281.8L416.4,283.9L416.1,284.8L413.4,287.7L413.4,287.8L410.4,289.8L408.3,290.8L407.4,291.2M305.4,306.3L302.4,307.0L299.4,307.2L296.5,305.8L296.4,305.7L294.9,302.8L293.9,299.8L294.3,296.8L296.4,295.0L298.6,293.8L299.4,293.4L302.4,292.3L305.4,291.2L308.4,290.8L311.4,293.4L311.6,293.8L312.6,296.8L312.9,299.8L312.0,302.8L311.4,303.4L308.4,305.2L307.0,305.8L305.4,306.3M338.4,323.8L338.4,323.8L335.4,322.7L333.1,320.8L333.4,317.8L335.4,316.0L338.4,316.6L339.6,317.8L341.0,320.8L338.5,323.8L338.4,323.8M104.5,345.4L107.5,345.3L110.1,344.8L110.5,344.6L113.5,342.2L113.7,341.8L113.5,338.8L113.5,338.6L111.7,335.8L110.5,334.5L107.5,333.0L105.8,332.8L104.5,332.6M242.4,379.1L239.4,378.9L236.4,377.9L236.2,377.8L233.4,376.1L231.7,374.8L230.4,373.1L229.5,371.8L229.7,368.8L230.4,368.3L233.4,367.6L236.4,367.3L239.4,367.1L242.4,367.2L245.4,368.2L246.0,368.8L247.2,371.8L246.9,374.8L245.4,377.5L245.1,377.8L242.4,379.1M266.4,391.1L263.4,391.6L260.4,390.3L259.9,389.8L257.5,386.8L257.4,386.6L257.0,383.8L257.4,383.2L260.4,380.9L260.8,380.8L263.4,380.3L266.4,380.1L269.4,380.3L271.1,380.8L272.4,383.0L272.7,383.8L272.4,384.2L271.1,386.8L269.4,388.7L268.2,389.8L266.4,391.1M533.5,456.3L530.5,457.2L527.5,457.3L524.5,456.8L521.5,455.9L521.1,455.8L518.5,454.6L515.9,452.8L515.5,452.0L514.5,449.8L514.2,446.8L514.1,443.8L513.8,440.8L513.0,437.8L512.5,436.1L511.9,434.8L510.7,431.8L509.8,428.8L509.4,426.1L509.4,425.8L509.2,422.8L509.1,419.8L509.4,417.1L509.5,416.8L511.4,413.8L512.5,413.0L515.5,411.3L516.6,410.8L518.5,410.0L521.5,409.2L524.5,408.8L527.5,409.1L530.5,410.5L530.7,410.8L532.4,413.8L533.2,416.8L533.5,417.5L534.1,419.8L535.1,422.8L536.5,425.4L536.7,425.8L538.9,428.8L539.5,429.4L541.4,431.8L542.5,433.7L543.1,434.8L543.8,437.8L543.4,440.8L542.7,443.8L542.5,444.7L542.0,446.8L540.6,449.8L539.5,451.1L538.1,452.8L536.5,454.3L534.3,455.8L533.5,456.3M758.5,471.8L755.5,472.3L752.5,472.3L749.5,471.9L746.5,471.3L744.4,470.8L743.5,470.4L740.5,468.4L740.0,467.8L739.6,464.8L740.5,462.6L740.9,461.8L743.5,460.1L746.0,458.8L746.5,458.6L749.5,457.6L752.5,456.9L755.5,457.1L757.9,458.8L758.5,459.3L759.9,461.8L761.2,464.8L761.5,466.1L761.9,467.8L761.5,469.1L760.6,470.8L758.5,471.8M734.5,485.9L734.2,485.8L732.9,482.8L734.5,481.0L737.5,481.3L738.3,482.8L737.5,484.9L735.4,485.8L734.5,485.9M578.5,539.0L575.5,537.2L575.4,536.8L575.5,536.7L578.3,533.8L578.5,533.6L581.5,531.3L582.1,533.8L581.5,535.2L580.4,536.8L578.5,539.0M599.5,558.4L598.7,557.8L596.5,556.5L594.6,554.8L593.5,552.9L592.9,551.8L593.3,548.8L593.5,548.5L594.9,545.8L596.5,543.7L597.1,542.8L599.2,539.8L599.5,539.4L601.7,536.8L602.5,536.0L605.5,534.9L608.5,536.2L609.0,536.8L610.7,539.8L611.5,542.4L611.5,542.8L611.5,545.8L611.5,545.8L610.5,548.8L608.5,551.6L608.3,551.8L605.6,554.8L605.5,554.9L602.5,557.7L602.4,557.8L599.5,558.4M698.5,587.6L696.4,584.8L698.5,583.1L699.9,584.8L698.5,587.6M506.5,698.8L509.4,696.9L510.9,695.8L512.5,692.9L512.5,692.8L513.1,689.8L513.7,686.8L515.0,683.8L515.5,683.2L517.0,680.8L518.5,678.4L518.8,677.8L520.0,674.8L520.7,671.8L520.9,668.8L521.1,665.8L521.4,662.8L521.5,662.6L522.0,659.8L522.9,656.8L524.5,654.4L525.0,653.8L527.5,651.9L529.3,650.8L530.5,650.0L533.5,647.9L533.6,647.8L535.0,644.8L535.6,641.8L536.4,638.8L536.5,638.6L537.7,635.8L539.5,633.0L539.6,632.8L541.1,629.8L541.7,626.8L541.5,623.8L540.8,620.8L539.7,617.8L539.5,617.1L538.0,614.8L536.5,612.6L535.1,611.8L533.5,610.8L530.5,610.3L527.5,611.0L526.0,611.8L524.5,612.8L522.7,614.8L521.5,616.9L521.1,617.8L520.2,620.8L519.4,623.8L518.5,626.5L518.4,626.8L517.1,629.8L515.5,632.5L515.3,632.8L513.2,635.8L512.5,636.7L509.5,638.8L509.4,638.8L506.4,639.6L503.4,640.4L500.4,641.5L500.1,641.8L497.4,643.4L496.0,644.8L494.4,646.2L493.0,647.8L491.4,649.4L489.9,650.8L488.4,652.0L485.4,653.4L484.7,653.8L482.4,654.7L479.4,656.7L479.4,656.8L477.8,659.8L477.7,662.8L478.2,665.8L478.8,668.8L479.1,671.8L479.3,674.8L479.4,677.8L479.4,678.3L479.7,680.8L480.9,683.8L482.4,685.5L483.5,686.8L485.4,688.4L487.0,689.8L488.4,691.1L490.2,692.8L491.4,694.1L493.2,695.8L494.4,696.8L497.4,698.4L498.7,698.8L500.4,699.2L503.4,699.3L506.4,698.8L506.5,698.8M587.5,701.8L588.0,698.8L587.5,696.1L587.3,695.8L584.5,693.8L581.5,693.3L578.5,694.3L577.1,695.8L576.4,698.8L578.0,701.8L578.5,702.1L581.5,703.8L584.5,704.3L587.5,701.8L587.5,701.8M678.6,830.8L678.2,827.8L677.9,824.8L678.2,821.8L679.2,818.8L680.4,815.8L680.5,815.2L680.7,812.8L680.5,811.7L679.8,809.8L677.9,806.8L677.5,806.2L674.5,804.0L672.9,803.8L671.5,803.5L670.6,803.8L668.5,804.3L665.5,805.1L662.5,805.2L659.5,804.9L656.5,804.8L653.5,805.5L650.8,806.8L650.5,807.0L647.5,808.4L644.5,808.1L641.5,806.8L641.3,806.8L638.5,806.3L636.4,806.8L635.5,807.0L632.5,809.1L631.9,809.8L631.3,812.8L632.5,814.8L633.3,815.8L635.5,817.2L638.4,818.8L638.5,818.8L641.5,821.3L641.7,821.8L642.8,824.8L643.3,827.8L643.8,830.8" fill="none" stroke="#22a884" stroke-width="2.0" stroke-linejoin="round"/><path d="M833.5,360.5L830.5,362.2L828.8,362.8L827.5,363.1L824.5,362.8L824.4,362.8L821.5,361.5L818.5,359.8L818.3,359.8L815.5,358.5L812.5,357.7L809.5,357.3L806.8,356.8L806.5,356.6L803.5,354.6L802.7,353.8L800.8,350.8L800.5,350.1L799.0,347.8L797.5,345.1L797.3,344.8L796.0,341.8L795.0,338.8L794.5,337.1L793.9,335.8L792.2,332.8L791.5,331.6L789.7,329.8L788.5,328.3L786.4,326.8L785.5,325.9L782.5,324.1L781.5,323.8L779.5,323.0L776.5,322.7L773.5,322.7L770.5,322.6L767.5,322.0L765.0,320.8L764.5,320.6L761.5,319.0L759.5,317.8L758.5,317.2L755.5,316.1L752.5,315.9L749.5,316.5L746.5,316.9L743.5,316.1L741.2,314.8L740.5,314.4L737.5,313.3L734.5,312.9L731.5,312.9L728.5,312.9L725.5,312.6L722.5,312.1L719.5,312.0L716.5,312.0L713.5,312.0L710.5,311.9L708.2,311.8L707.5,311.7L704.5,311.6L701.5,311.7L701.1,311.8L698.5,312.1L695.5,312.6L692.5,312.7L690.7,311.8L689.5,310.0L689.1,308.8L688.4,305.8L687.6,302.8L686.5,300.6L686.0,299.8L683.5,297.2L683.0,296.8L680.5,294.8L679.0,293.8L677.5,292.7L674.6,290.8L674.5,290.6L671.5,288.6L670.1,287.8L668.5,286.5L666.2,284.8L665.5,284.0L663.6,281.8L662.5,279.6L662.1,278.8L661.1,275.8L660.3,272.8L659.6,269.8L659.5,268.9L659.1,266.8L658.6,263.8L658.0,260.8L657.2,257.8L656.5,255.4L656.1,254.8L654.5,251.8L654.6,248.8L656.5,246.5L656.8,245.8L659.2,242.8L659.5,242.4L661.8,239.8L662.5,239.1L665.5,237.6L668.5,237.2L671.5,237.2L674.5,237.3L677.5,237.4L680.5,237.2L682.4,236.8L683.5,236.5L686.5,234.9L687.6,233.8L689.5,231.1L689.7,230.8L691.8,227.8L692.5,227.1L695.5,225.3L697.7,224.8L698.5,224.5L701.5,223.9L704.5,223.1L707.5,222.5L710.5,222.5L713.5,223.2L716.5,223.9L719.5,223.9L722.5,222.8L723.9,221.8L725.5,219.8L726.2,218.8L727.0,215.8L726.6,212.8L725.5,210.7L724.9,209.8L722.6,206.8L722.5,206.5L720.7,203.8L719.5,201.7L718.6,200.8L716.5,198.6L713.5,198.0L710.5,200.1L709.8,200.8L707.5,202.8L705.6,203.8L704.5,204.4L701.5,204.0L701.1,203.8L698.5,201.8L697.6,200.8L695.8,197.8L695.5,196.7L694.9,194.8L695.1,191.8L695.5,191.1L696.8,188.8L698.5,186.5L699.0,185.8L700.6,182.8L701.3,179.8L701.5,178.7L701.7,176.8L702.5,173.8L703.9,170.8L704.5,169.5L705.6,167.8L706.4,164.8L705.2,161.8L704.5,161.1L701.5,159.1L700.6,158.8L698.5,157.4L696.6,155.8L695.5,154.9L694.1,152.8L692.5,151.0L691.8,149.8L689.5,146.8L689.5,146.6L687.1,143.8L686.5,143.0L683.8,140.8L683.5,140.4L680.5,139.0L677.5,138.7L674.5,139.0L671.5,139.2L669.1,137.8L668.5,137.1L667.5,134.8L665.9,131.8L665.5,131.2L663.8,128.8L662.5,126.9L661.6,125.8L659.5,122.8L659.4,122.8L656.5,120.7L654.0,119.8L653.5,119.6L650.5,119.2L647.5,118.9L644.5,118.6L641.5,118.2L638.5,117.9L635.5,117.9L632.5,118.5L630.2,119.8L629.5,120.3L627.5,122.8L626.5,124.7L625.8,125.8L624.3,128.8L623.5,129.9L620.8,131.8L620.5,131.9L617.5,133.2L614.6,134.8L614.5,134.8L611.5,136.8L609.2,137.8L608.5,138.1L605.5,138.7L602.5,138.6L599.7,137.8L599.5,137.7L596.5,136.0L595.0,134.8L593.5,133.5L591.5,131.8L590.5,130.9L587.5,128.8L587.5,128.7L584.5,127.4L581.5,125.8L581.4,125.8L578.5,123.8L577.2,122.8L575.5,120.6L574.6,119.8L572.6,116.8L572.5,116.5L569.5,114.8L566.5,115.0L563.5,115.7L560.5,116.4L558.8,116.8L557.5,117.1L554.5,118.2L551.5,119.4L550.6,119.8L548.5,121.0L545.5,122.7L545.4,122.8L542.5,125.0L540.8,125.8L539.5,126.8L536.5,127.7L533.5,128.5L532.8,128.8L530.5,130.5L528.5,131.8L528.9,134.8L530.5,136.1L531.5,137.8L533.5,139.3L535.2,140.8L536.5,141.6L539.1,143.8L539.5,144.2L540.8,146.8L540.9,149.8L540.2,152.8L539.5,154.8L539.1,155.8L538.2,158.8L537.7,161.8L537.7,164.8L536.5,167.1L533.5,167.7L530.5,167.4L527.5,166.3L525.0,164.8L524.5,164.3L521.5,162.2L519.9,161.8L518.5,161.1L517.2,161.8L515.5,163.6L515.0,164.8L514.2,167.8L513.8,170.8L513.9,173.8L514.4,176.8L515.1,179.8L515.5,180.5L516.4,182.8L518.5,185.2L519.1,185.8L521.5,187.1L524.5,188.0L527.5,188.1L530.5,187.4L533.5,186.3L534.6,185.8L536.5,184.3L537.8,182.8L538.9,179.8L539.3,176.8L539.3,173.8L539.0,170.8L539.4,167.8L539.5,167.7L542.5,166.8L545.5,166.1L548.5,165.6L551.5,165.3L554.5,165.3L557.5,165.6L560.5,166.1L563.5,166.9L565.7,167.8L566.5,168.0L569.5,168.9L572.5,169.6L575.5,170.4L576.4,170.8L578.5,172.2L579.8,173.8L580.6,176.8L581.5,179.6L581.5,179.8L584.5,182.3L585.0,182.8L587.5,184.3L588.8,185.8L590.2,188.8L590.5,191.6L590.5,191.8L590.6,194.8L591.1,197.8L592.4,200.8L593.5,202.5L594.4,203.8L596.5,206.0L598.0,206.8L599.5,207.3L602.5,207.5L605.5,207.2L608.5,206.8L609.7,206.8L611.5,206.6L614.5,206.6L617.5,206.6L620.5,206.4L623.5,206.3L626.5,206.6L626.8,206.8L629.5,208.0L631.2,209.8L632.5,211.2L633.4,212.8L634.8,215.8L635.2,218.8L634.1,221.8L632.5,223.7L631.0,224.8L629.5,225.7L626.5,226.8L623.5,227.8L623.5,227.8L620.5,229.6L619.1,230.8L617.5,232.5L616.1,233.8L614.5,235.8L613.6,236.8L611.5,239.6L611.3,239.8L608.5,241.7L605.5,242.4L602.5,242.0L599.5,240.5L598.5,239.8L596.5,237.4L595.8,236.8L593.5,234.6L592.4,233.8L590.5,231.1L590.3,230.8L590.1,227.8L590.0,224.8L589.5,221.8L587.5,219.1L585.0,218.8L584.5,218.7L583.0,218.8L581.5,218.8L580.0,218.8L578.5,218.7L575.5,218.5L572.5,218.1L569.5,217.6L566.5,217.2L563.5,217.3L560.5,218.3L559.6,218.8L557.5,220.1L554.5,221.6L551.5,221.4L548.5,219.9L546.7,218.8L545.5,218.1L542.5,216.7L540.3,215.8L539.5,215.4L536.5,214.6L533.5,214.5L530.5,215.1L528.1,215.8L527.5,215.9L524.5,216.6L521.5,217.1L518.5,217.3L515.5,217.2L512.5,217.0L509.4,216.6L506.4,216.4L503.4,216.6L500.4,217.4L497.4,218.6L497.0,218.8L494.4,220.6L493.0,221.8L491.9,224.8L491.4,227.1L491.3,227.8L490.5,230.8L489.2,233.8L488.4,235.3L487.6,236.8L485.4,238.9L482.4,239.4L479.4,238.4L476.4,237.1L475.5,236.8L473.4,236.0L470.4,235.3L467.4,234.1L467.2,233.8L466.6,230.8L466.9,227.8L467.0,224.8L466.4,221.8L464.4,219.2L464.1,218.8L461.4,216.7L460.3,215.8L458.4,213.9L457.3,212.8L455.4,210.1L455.1,209.8L452.4,207.3L451.4,206.8L449.4,205.6L446.6,203.8L446.4,203.6L444.8,200.8L444.0,197.8L443.4,196.2L443.0,194.8L441.7,191.8L440.5,188.8L440.4,188.7L439.3,185.8L438.2,182.8L437.4,180.7L437.1,179.8L435.9,176.8L434.4,173.9L434.3,173.8L431.4,172.0L428.4,171.9L425.4,172.5L422.4,173.2L420.2,173.8L419.4,174.0L416.4,175.7L415.3,176.8L413.4,179.6L413.4,179.8L411.7,182.8L410.4,184.2L407.4,185.1L404.4,185.4L401.4,185.7L401.2,185.8L398.4,186.2L395.4,186.9L392.4,187.7L390.0,188.8L389.4,189.0L386.4,190.8L384.6,191.8L383.4,192.5L380.4,193.5L377.4,194.1L375.2,194.8L374.4,195.0L371.4,197.1L370.8,197.8L368.7,200.8L368.4,201.3L367.0,203.8L365.4,206.0L364.1,206.8L362.4,207.4L359.4,207.0L358.3,206.8L356.4,206.4L353.4,206.5L352.8,206.8L350.4,209.4L350.3,209.8L350.4,211.4L350.5,212.8L351.2,215.8L351.7,218.8L352.0,221.8L352.0,224.8L351.5,227.8L350.4,230.1L350.1,230.8L348.1,233.8L347.4,235.2L346.9,236.8L347.0,239.8L347.4,241.4L347.8,242.8L348.5,245.8L348.8,248.8L348.8,251.8L348.6,254.8L348.9,257.8L350.4,260.8L350.4,260.9L353.4,262.4L355.7,263.8L356.4,264.8L356.9,266.8L356.4,267.8L353.4,267.7L351.3,266.8L350.4,265.9L347.4,266.0L346.8,266.8L344.4,268.5L343.7,269.8L342.3,272.8L341.7,275.8L341.8,278.8L342.5,281.8L343.4,284.8L344.3,287.8L344.4,288.8L344.9,290.8L344.4,291.9L341.4,292.5L338.4,291.8L335.4,291.3L332.4,290.9L331.5,290.8L329.4,290.4L326.4,289.6L323.4,289.2L320.8,290.8L320.4,291.3L319.9,293.8L320.0,296.8L320.4,299.3L320.6,299.8L322.1,302.8L323.4,304.4L326.4,305.6L329.4,305.4L332.4,304.2L335.4,303.0L336.2,302.8L338.4,301.9L341.4,301.5L343.9,302.8L344.4,303.2L346.0,305.8L347.1,308.8L347.4,309.4L348.6,311.8L349.7,314.8L350.2,317.8L350.3,320.8L350.1,323.8L349.7,326.8L349.0,329.8L348.0,332.8L347.4,333.7L345.4,335.8L344.4,336.4L341.4,336.9L338.4,336.3L335.8,335.8L335.4,335.7L334.2,335.8L332.4,335.9L329.4,337.4L327.9,338.8L326.4,340.7L325.5,341.8L323.4,344.6L322.8,344.8L320.4,345.4L319.8,344.8L317.6,341.8L317.4,341.4L317.0,338.8L317.0,335.8L316.9,332.8L316.7,329.8L316.4,326.8L316.0,323.8L315.1,320.8L314.4,319.8L311.5,317.8L311.4,317.7L308.4,317.4L307.1,317.8L305.4,318.1L302.4,319.1L299.4,319.7L296.4,319.2L293.4,318.0L292.8,317.8L290.4,316.7L287.4,315.9L284.4,315.9L281.4,316.2L278.4,316.0L276.2,314.8L275.4,314.1L274.0,311.8L273.3,308.8L273.2,305.8L272.9,302.8L272.4,301.6L271.6,299.8L269.4,297.6L267.8,296.8L266.4,296.2L263.4,296.6L263.1,296.8L260.4,297.9L257.4,299.4L256.8,299.8L254.4,301.8L253.5,302.8L253.2,305.8L254.2,308.8L254.4,310.0L254.9,311.8L254.7,314.8L254.4,315.4L253.9,317.8L253.1,320.8L252.6,323.8L252.4,326.8L252.0,329.8L251.4,331.2L250.8,332.8L248.4,335.6L248.3,335.8L245.4,337.8L243.4,338.8L242.4,339.9L239.4,341.0L237.0,338.8L236.4,338.6L233.4,337.1L230.9,335.8L230.4,335.5L227.4,334.3L224.4,333.5L221.4,333.7L218.4,335.3L217.9,335.8L215.4,338.2L215.0,338.8L213.2,341.8L212.9,344.8L214.8,347.8L215.4,348.4L218.4,350.3L219.3,350.8L221.4,351.9L224.4,353.0L227.4,353.3L230.4,352.7L233.2,350.8L233.4,350.5L235.7,347.8L236.4,346.5L238.4,344.8L239.4,342.8L241.0,344.8L242.4,346.9L242.7,347.8L242.9,350.8L243.2,353.8L245.4,355.4L248.4,355.4L251.4,354.1L252.0,353.8L254.4,352.4L257.4,352.2L258.5,353.8L258.0,356.8L257.4,358.6L257.0,359.8L256.3,362.8L256.1,365.8L256.5,368.8L257.4,370.7L258.2,371.8L260.4,373.0L263.4,373.6L266.4,373.4L269.4,372.5L271.0,371.8L272.4,370.5L274.1,368.8L275.4,365.8L275.4,365.7L278.1,362.8L278.4,362.5L281.4,362.6L282.3,362.8L284.4,363.2L287.4,364.3L290.0,365.8L290.4,366.0L293.4,368.2L294.3,368.8L296.4,370.6L297.7,371.8L298.9,374.8L298.0,377.8L296.4,379.8L295.7,380.8L293.4,383.2L292.9,383.8L290.4,386.4L290.1,386.8L287.4,388.6L285.2,389.8L284.4,390.0L281.4,391.2L278.9,392.8L278.4,393.1L276.6,395.8L275.4,398.6L275.4,398.8L274.1,401.8L272.4,404.1L271.7,404.8L269.4,407.0L267.5,407.8L266.4,408.8L263.4,407.8L263.4,407.8L260.4,406.5L257.4,405.3L254.9,404.8L254.4,404.7L251.4,404.1L248.4,402.8L247.4,401.8L245.4,399.4L245.1,398.8L243.6,395.8L242.4,393.8L241.8,392.8L239.4,390.0L239.2,389.8L236.4,387.9L233.5,386.8L233.4,386.7L230.4,385.8L227.4,384.6L226.3,383.8L224.4,382.0L222.9,380.8L221.4,379.4L218.4,378.8L215.4,380.1L214.7,380.8L212.4,382.9L211.8,383.8L210.5,386.8L209.9,389.8L209.5,392.8L209.4,393.1L209.0,395.8L208.6,398.8L208.3,401.8L208.1,404.8L207.3,407.8L206.4,408.9L204.1,410.8L203.4,412.0L202.8,413.8L203.4,416.8L203.4,417.1L203.7,419.8L203.4,420.4L200.4,422.7L200.3,422.8L197.4,423.6L194.4,425.4L194.1,425.8L192.2,428.8L191.9,431.8L193.6,434.8L194.4,435.5L197.4,436.3L200.4,436.1L203.4,435.2L204.6,434.8L206.4,433.5L209.4,431.8L209.4,431.7L210.3,431.8L212.2,434.8L211.2,437.8L210.9,440.8L211.3,443.8L212.3,446.8L212.4,447.2L213.2,449.8L213.4,452.8L212.4,455.2L212.0,455.8L209.4,457.2L206.4,458.2L205.3,458.8L203.4,459.9L201.8,461.8L200.4,464.6L200.4,464.8L198.6,467.8L197.4,468.7L194.4,470.7L194.4,470.8L191.4,473.3L191.1,473.8L189.4,476.8L188.8,479.8L189.3,482.8L191.0,485.8L191.4,486.3L193.3,488.8L194.4,491.4L194.6,491.8L194.4,492.5L193.9,494.8L191.4,496.9L189.4,497.8L188.4,498.1L185.4,499.1L182.7,500.8L182.4,500.9L179.9,503.8L179.4,504.4L177.9,506.8L176.5,509.8L176.4,510.4L176.2,512.8L176.4,513.8L177.5,515.8L179.4,516.7L182.4,518.4L182.9,518.8L185.4,520.5L187.1,521.8L188.4,524.1L188.8,524.8L188.4,525.3L186.5,527.8L185.4,528.3L182.4,529.0L179.4,528.9L176.4,528.7L173.4,529.6L172.3,530.8L171.0,533.8L170.4,536.7L170.4,536.8L169.6,539.8L168.2,542.8L167.4,545.1L166.9,545.8L167.4,546.3L168.5,548.8L170.4,550.9L170.9,551.8L172.2,554.8L172.9,557.8L173.4,560.5L173.5,560.8L176.0,563.8L176.4,564.0L179.4,565.6L180.8,566.8L182.4,568.6L183.1,569.8L183.9,572.8L184.3,575.8L184.5,578.8L184.8,581.8L185.4,584.8L185.4,584.8L186.5,587.8L187.6,590.8L188.4,593.8L188.4,593.8L189.1,596.8L190.4,599.8L191.4,600.7L194.4,601.7L197.4,601.9L200.4,602.2L202.1,602.8L203.4,603.3L206.3,605.8L206.4,605.9L208.3,608.8L209.4,611.1L209.7,611.8L211.1,614.8L212.4,617.8L212.4,617.8L213.6,620.8L214.5,623.8L215.4,626.3L215.8,626.8L218.4,628.4L221.4,628.0L223.8,626.8L224.4,626.4L227.4,624.0L227.8,623.8L230.4,621.9L232.2,620.8L233.4,620.0L236.4,619.0L239.4,619.6L241.0,620.8L242.4,621.8L244.4,623.8L245.4,624.6L248.4,626.8L248.4,626.8L251.4,628.8L253.0,629.8L254.3,632.8L254.0,635.8L254.2,638.8L254.4,639.4L256.0,641.8L257.4,642.7L260.4,643.5L263.4,643.7L266.4,643.7L269.4,644.0L271.7,644.8L272.4,645.0L275.4,646.3L278.4,647.7L278.6,647.8L281.4,648.3L284.4,648.6L287.4,648.6L290.4,649.0L293.4,650.0L294.8,650.8L296.4,652.1L297.9,653.8L299.4,655.9L300.1,656.8L302.4,658.6L305.4,659.6L308.4,659.5L311.4,658.9L314.4,658.9L317.2,659.8L317.4,659.8L320.4,661.0L323.4,662.7L323.5,662.8L326.2,665.8L326.4,666.7L326.9,668.8L327.0,671.8L327.3,674.8L328.8,677.8L329.4,678.4L332.4,680.2L334.3,680.8L335.4,681.2L338.4,681.9L341.4,683.4L341.9,683.8L344.4,685.6L345.6,686.8L347.4,687.8L349.9,689.8L350.4,690.1L353.2,692.8L353.4,692.9L356.4,695.8L356.4,695.8L359.4,697.6L362.3,698.8L362.4,698.8L365.4,699.9L368.4,700.5L371.4,699.1L371.8,698.8L374.4,696.6L375.4,695.8L377.4,694.6L380.4,693.2L381.6,692.8L383.4,692.0L386.4,690.8L388.0,689.8L389.4,687.6L389.7,686.8L390.5,683.8L391.3,680.8L392.4,677.8L392.4,677.6L393.5,674.8L394.6,671.8L395.4,669.5L395.7,668.8L397.0,665.8L398.4,663.1L398.6,662.8L401.4,659.9L401.6,659.8L404.4,658.5L407.4,657.5L409.8,656.8L410.4,656.5L413.4,655.5L416.4,655.1L419.4,655.6L422.4,656.6L424.3,656.8L425.4,656.8L425.6,656.8L428.4,655.8L431.4,654.7L434.4,653.8L434.6,653.8L437.4,653.1L440.4,652.4L443.4,651.4L444.8,650.8L446.4,649.9L449.4,647.9L449.6,647.8L452.4,645.5L454.0,644.8L455.4,644.0L458.4,643.7L461.4,643.6L464.4,643.0L467.0,641.8L467.4,641.4L469.4,638.8L470.2,635.8L470.4,634.1L470.7,632.8L471.9,629.8L473.4,628.3L475.4,626.8L476.4,626.0L478.9,623.8L479.4,623.1L480.8,620.8L482.3,617.8L482.4,617.4L483.9,614.8L485.4,612.7L486.3,611.8L488.4,609.2L488.8,608.8L490.8,605.8L491.4,604.5L492.4,602.8L494.2,599.8L494.4,599.4L497.4,596.8L497.6,596.8L500.4,594.8L501.6,593.8L502.8,590.8L502.4,587.8L500.4,585.4L499.0,584.8L497.4,584.2L494.4,582.4L494.0,581.8L491.9,578.8L491.4,578.0L490.3,575.8L488.9,572.8L488.4,569.8L488.4,569.8L488.4,569.7L489.4,566.8L490.8,563.8L491.4,560.9L491.5,560.8L491.4,560.6L491.0,557.8L489.8,554.8L488.4,552.2L488.2,551.8L486.7,548.8L485.9,545.8L485.9,542.8L485.9,539.8L485.6,536.8L485.4,535.9L485.0,533.8L484.1,530.8L483.1,527.8L482.4,526.1L481.9,524.8L480.3,521.8L479.4,520.3L478.1,518.8L476.4,516.8L475.2,515.8L473.4,514.1L471.6,512.8L470.4,511.6L468.5,509.8L467.4,508.6L466.1,506.8L464.4,504.7L463.7,503.8L461.4,501.1L461.1,500.8L458.4,498.3L457.3,497.8L455.4,497.0L452.4,497.4L451.8,497.8L449.4,498.9L446.4,500.4L445.3,500.8L443.4,501.4L440.4,501.9L437.4,501.8L434.4,501.0L433.8,500.8L431.4,499.8L428.4,498.1L427.8,497.8L425.4,496.3L422.7,494.8L422.4,494.6L419.4,492.3L418.9,491.8L417.3,488.8L416.8,485.8L416.9,482.8L416.9,479.8L416.8,476.8L416.9,473.8L417.3,470.8L417.9,467.8L418.3,464.8L418.5,461.8L418.7,458.8L419.0,455.8L419.3,452.8L419.4,450.6L419.5,449.8L419.6,446.8L419.7,443.8L420.1,440.8L421.2,437.8L422.4,435.4L422.8,434.8L424.5,431.8L425.4,429.8L426.1,428.8L428.0,425.8L428.4,425.2L431.4,424.0L434.4,424.5L437.4,425.5L438.5,425.8L440.4,426.2L443.4,426.4L446.4,426.4L449.4,426.2L452.4,425.8L452.8,425.8L455.4,425.3L458.4,424.6L461.4,424.1L464.4,424.0L467.4,424.7L470.1,425.8L470.4,425.9L473.4,426.8L476.4,427.2L479.4,427.2L482.4,427.0L485.4,426.6L488.4,425.9L488.9,425.8L491.4,424.6L494.4,424.5L497.4,424.6L500.4,422.9L500.5,422.8L502.0,419.8L503.1,416.8L503.4,415.9L504.1,413.8L506.1,410.8L506.4,410.4L509.4,408.5L511.3,407.8L512.5,407.3L515.5,405.9L518.4,404.8L518.5,404.7L521.5,403.7L524.5,403.5L527.5,403.6L530.5,403.8L533.5,404.4L534.4,404.8L536.5,406.3L537.4,407.8L538.0,410.8L538.5,413.8L539.2,416.8L539.5,417.4L540.9,419.8L542.5,421.8L543.6,422.8L545.5,424.3L547.9,425.8L548.5,426.1L551.5,427.5L554.5,428.0L557.5,427.1L559.7,425.8L560.5,425.3L563.5,422.9L563.6,422.8L566.3,419.8L566.5,419.6L568.7,416.8L569.5,416.0L571.6,413.8L572.5,413.0L574.4,410.8L575.5,409.5L576.9,407.8L578.5,406.1L579.9,404.8L581.5,403.4L583.3,401.8L584.5,400.8L586.6,398.8L587.5,398.0L590.5,396.1L591.4,395.8L593.5,394.9L596.5,394.2L599.5,393.7L602.5,393.0L602.9,392.8L605.5,390.4L605.9,389.8L608.5,387.2L609.0,386.8L611.5,385.4L614.5,384.1L616.8,383.8L617.5,383.7L618.0,383.8L620.5,384.2L623.5,385.2L626.5,386.5L626.9,386.8L629.2,389.8L628.2,392.8L626.5,393.7L623.5,394.7L621.2,395.8L620.5,396.1L617.5,398.0L616.3,398.8L614.5,400.3L612.6,401.8L611.5,404.1L611.2,404.8L611.5,407.4L611.5,407.8L613.1,410.8L614.5,412.4L615.4,413.8L617.2,416.8L617.5,417.4L618.2,419.8L618.5,422.8L618.1,425.8L617.5,427.6L617.0,428.8L615.3,431.8L614.5,433.1L613.5,434.8L611.7,437.8L611.5,438.2L609.9,440.8L608.5,442.9L607.6,443.8L605.5,446.3L604.9,446.8L603.1,449.8L602.5,451.0L601.5,452.8L599.5,453.8L596.5,455.7L596.4,455.8L593.5,457.2L590.5,458.1L587.5,458.7L587.3,458.8L584.5,459.3L581.5,459.9L578.5,460.7L575.6,461.8L575.5,461.8L572.5,464.2L572.0,464.8L570.7,467.8L570.0,470.8L569.7,473.8L569.7,476.8L570.2,479.8L571.2,482.8L572.5,485.3L572.7,485.8L574.3,488.8L575.5,491.4L575.6,491.8L576.8,494.8L578.5,497.7L578.5,497.8L580.7,500.8L581.5,501.7L583.4,503.8L584.5,505.3L585.4,506.8L586.4,509.8L586.9,512.8L587.5,514.9L587.7,515.8L590.0,518.8L590.5,519.1L593.5,521.6L593.6,521.8L596.5,523.9L597.8,524.8L599.5,525.6L602.5,526.6L605.5,527.2L607.6,527.8L608.5,528.0L611.5,529.0L614.5,530.3L616.3,530.8L617.5,531.1L619.7,530.8L620.5,530.6L623.5,529.3L626.5,528.3L629.5,527.9L632.5,527.8L632.7,527.8L635.5,527.6L638.1,527.8L638.5,527.8L641.5,529.4L642.3,530.8L643.1,533.8L643.0,536.8L642.2,539.8L641.5,541.2L640.7,542.8L638.8,545.8L638.5,546.3L636.9,548.8L635.5,551.2L635.0,551.8L633.0,554.8L632.5,555.5L629.8,557.8L629.5,558.0L626.5,559.0L623.5,559.2L620.5,559.1L617.5,559.2L614.5,560.5L614.2,560.8L613.4,563.8L613.7,566.8L614.0,569.8L614.2,572.8L614.3,575.8L614.4,578.8L614.3,581.8L612.4,584.8L611.5,585.4L608.5,586.6L605.5,586.8L602.5,586.0L599.9,584.8L599.5,583.3L599.0,581.8L597.5,578.8L596.5,577.7L594.7,575.8L593.5,574.5L591.6,572.8L590.5,571.5L587.5,570.4L585.1,572.8L584.5,573.9L584.0,575.8L583.6,578.8L582.9,581.8L581.7,584.8L581.5,585.9L581.2,587.8L581.5,588.6L582.3,590.8L584.5,592.7L585.8,593.8L587.5,595.5L588.3,596.8L588.3,599.8L587.5,601.5L586.8,602.8L584.5,605.4L584.2,605.8L582.1,608.8L581.5,610.4L581.0,611.8L580.8,614.8L581.1,617.8L581.5,619.6L581.7,620.8L582.4,623.8L582.7,626.8L582.5,629.8L582.0,632.8L581.7,635.8L582.2,638.8L583.6,641.8L584.5,643.1L585.6,644.8L587.3,647.8L587.5,648.2L588.1,650.8L587.7,653.8L587.5,654.4L586.5,656.8L585.9,659.8L586.9,662.8L587.5,663.5L589.9,665.8L590.5,666.1L593.5,668.0L594.4,668.8L596.5,670.8L597.1,671.8L599.3,674.8L599.5,674.9L602.1,677.8L602.5,678.1L605.5,680.0L608.0,680.8L608.5,680.9L611.5,680.8L611.8,680.8L614.5,680.3L617.5,680.2L620.5,680.3L623.5,679.9L626.5,678.6L627.7,677.8L629.5,676.2L631.4,674.8L632.5,674.0L635.5,673.5L638.5,673.1L641.5,672.4L642.7,671.8L644.5,670.9L647.5,668.8L647.5,668.8L650.5,666.2L651.1,665.8L653.5,663.9L656.5,663.1L659.5,663.3L662.5,663.9L665.5,664.9L668.5,665.6L671.5,664.7L673.2,662.8L674.5,660.7L674.9,659.8L675.9,656.8L676.2,653.8L676.0,650.8L675.6,647.8L675.4,644.8L675.5,641.8L676.4,638.8L677.5,637.5L679.1,635.8L680.5,634.8L683.5,632.9L683.8,632.8L686.5,631.4L689.5,629.8L689.6,629.8L692.5,627.5L693.2,626.8L695.2,623.8L695.5,623.1L696.6,620.8L697.8,617.8L698.5,615.8L699.8,614.8L701.5,612.4L704.5,613.3L705.5,614.8L707.5,616.2L708.5,617.8L710.4,620.8L710.5,620.8L712.4,623.8L713.5,624.9L715.9,626.8L716.5,627.1L719.5,628.0L722.5,627.7L723.5,626.8L724.6,623.8L724.2,620.8L723.3,617.8L722.7,614.8L722.9,611.8L723.8,608.8L724.6,605.8L724.7,602.8L723.6,599.8L722.5,598.5L719.5,597.5L716.5,597.5L713.5,597.7L710.5,598.9L709.6,599.8L708.4,602.8L707.5,605.5L707.3,605.8L704.8,608.8L704.5,609.4L701.5,611.1L698.5,610.4L695.5,609.0L695.1,608.8L692.5,606.4L692.1,605.8L691.4,602.8L691.1,599.8L690.3,596.8L689.5,595.1L688.7,593.8L687.0,590.8L686.5,589.6L685.6,587.8L684.7,584.8L684.6,581.8L685.7,578.8L686.5,577.9L688.2,575.8L689.5,574.9L692.5,573.5L695.5,573.0L696.8,572.8L698.5,572.4L701.5,570.7L702.1,569.8L703.7,566.8L704.5,564.5L704.8,563.8L705.7,560.8L706.3,557.8L706.6,554.8L706.4,551.8L706.1,548.8L705.9,545.8L705.7,542.8L705.8,539.8L707.5,537.8L710.5,537.9L713.5,537.9L716.5,537.4L718.3,536.8L719.5,536.3L722.5,534.4L723.0,533.8L725.0,530.8L725.5,529.8L726.2,527.8L727.1,524.8L728.1,521.8L728.5,520.6L729.1,518.8L730.1,515.8L730.9,512.8L731.0,509.8L729.4,506.8L728.5,505.7L726.1,503.8L725.5,503.1L722.7,500.8L722.5,500.4L721.0,497.8L720.4,494.8L720.0,491.8L719.5,489.1L719.3,488.8L717.6,485.8L717.9,482.8L719.5,481.4L721.0,479.8L722.5,479.1L725.5,477.0L725.7,476.8L728.5,474.5L729.2,473.8L730.8,470.8L731.5,468.1L731.5,467.8L731.9,464.8L732.3,461.8L733.3,458.8L734.5,457.1L736.2,455.8L737.5,455.1L740.5,454.1L743.5,453.1L744.3,452.8L746.5,451.2L748.4,449.8L749.5,448.1L752.4,446.8L752.5,446.7L752.5,446.8L755.5,447.4L758.5,448.9L759.6,449.8L761.5,451.1L763.1,452.8L764.5,454.5L765.4,455.8L767.5,458.2L768.2,458.8L770.5,459.9L773.5,460.4L776.5,460.7L779.5,461.5L780.1,461.8L782.5,463.9L782.9,464.8L783.0,467.8L782.5,468.8L781.6,470.8L779.5,473.6L779.3,473.8L777.4,476.8L776.5,478.4L775.7,479.8L774.6,482.8L775.2,485.8L776.5,487.0L778.5,488.8L779.5,490.0L780.4,491.8L782.0,494.8L782.5,495.3L785.3,497.8L785.5,497.9L788.5,498.3L791.5,498.2L794.5,498.0L796.1,497.8L797.5,497.6L800.5,496.9L803.5,496.0L806.5,495.2L809.5,494.9L812.5,495.6L815.5,497.2L816.7,497.8L818.5,498.4L821.5,499.1L824.5,499.3L827.5,499.5L830.5,499.8L833.5,500.1M132.2,128.8L134.4,126.2L134.6,125.8L134.8,122.8L134.4,122.1L131.4,120.9L128.4,122.2L127.8,122.8L127.0,125.8L128.4,128.8L128.4,128.9L131.4,129.5L132.2,128.8M510.1,143.8L512.5,141.7L513.2,140.8L515.5,138.4L516.2,137.8L518.5,135.8L520.5,134.8L521.5,133.1L523.0,131.8L521.5,131.1L518.5,129.6L515.5,128.8L512.5,128.9L509.4,129.4L506.4,130.0L503.4,130.9L501.4,131.8L500.4,132.9L499.4,134.8L499.3,137.8L500.0,140.8L500.4,141.6L502.3,143.8L503.4,144.7L506.4,145.3L509.4,144.4L510.1,143.8M104.5,169.6L106.3,170.8L107.5,171.4L110.3,173.8L110.5,173.8L113.5,175.0L116.5,174.4L117.4,173.8L119.5,172.2L120.9,170.8L122.5,169.4L125.2,167.8L125.5,167.6L128.4,166.4L131.4,165.1L132.0,164.8L134.4,163.0L136.0,161.8L137.4,160.1L138.5,158.8L139.9,155.8L140.4,152.8L140.2,149.8L139.5,146.8L138.3,143.8L137.4,142.3L135.7,140.8L134.4,139.6L131.7,137.8L131.4,137.4L128.4,135.0L127.2,134.8L125.5,134.2L122.7,134.8L122.5,134.8L119.5,135.8L116.7,137.8L116.5,137.9L113.5,140.6L113.2,140.8L110.5,142.7L107.5,143.5L104.5,143.7M404.4,300.2L401.4,300.9L398.4,301.3L395.4,301.4L392.4,300.4L391.8,299.8L391.6,296.8L392.4,294.7L392.7,293.8L393.7,290.8L393.9,287.8L393.4,284.8L392.7,281.8L392.4,280.2L392.2,278.8L392.4,277.2L392.6,275.8L394.2,272.8L395.4,271.0L396.5,269.8L398.4,266.8L398.5,266.8L399.8,263.8L401.0,260.8L401.4,260.1L403.4,257.8L404.4,257.0L407.4,255.6L410.4,255.3L413.4,256.0L416.4,257.7L416.5,257.8L419.3,260.8L419.4,260.9L421.7,263.8L422.4,265.0L423.3,266.8L424.0,269.8L424.0,272.8L423.6,275.8L423.2,278.8L423.0,281.8L422.6,284.8L422.4,285.7L421.9,287.8L420.1,290.8L419.4,291.4L416.4,293.4L415.8,293.8L413.4,295.1L411.0,296.8L410.4,297.1L407.4,298.9L405.4,299.8L404.4,300.2M359.4,300.5L356.4,301.7L353.4,301.2L351.8,299.8L350.5,296.8L351.3,293.8L353.4,292.7L356.4,290.8L356.4,290.7L359.4,290.1L361.1,290.8L362.4,291.8L363.4,293.8L363.1,296.8L362.4,297.8L360.4,299.8L359.4,300.5M647.5,296.9L644.5,297.0L643.6,296.8L641.5,295.5L640.0,293.8L641.3,290.8L641.5,290.7L644.5,290.5L645.0,290.8L647.5,292.5L648.6,293.8L647.8,296.8L647.5,296.9M683.5,321.1L680.7,320.8L680.5,320.6L679.0,317.8L680.5,316.7L683.5,316.8L685.2,317.8L684.3,320.8L683.5,321.1M338.4,387.8L335.4,387.8L332.4,387.1L330.9,386.8L329.4,386.3L326.4,385.7L323.4,384.9L321.8,383.8L320.4,381.2L320.3,380.8L320.4,379.4L320.6,377.8L323.4,374.8L323.4,374.7L323.7,374.8L326.4,375.4L329.4,377.1L330.6,377.8L332.4,378.9L335.4,380.2L336.7,380.8L338.4,382.3L339.8,383.8L339.9,386.8L338.4,387.8M380.4,378.0L380.3,377.8L380.4,377.5L382.4,377.8L380.4,378.0M413.4,394.5L410.4,394.7L407.4,394.3L404.4,392.8L404.4,392.8L403.7,389.8L404.3,386.8L404.4,386.6L406.9,383.8L407.4,383.3L410.4,383.0L411.5,383.8L413.4,385.7L414.0,386.8L415.0,389.8L415.3,392.8L413.4,394.5M833.5,393.3L832.0,392.8L830.5,390.6L830.1,389.8L830.5,389.3L833.5,387.3M656.5,399.8L654.9,398.8L653.5,397.0L652.9,395.8L653.5,393.4L656.5,394.2L658.5,395.8L658.7,398.8L656.5,399.8M806.5,405.7L803.5,406.2L800.5,405.1L800.0,404.8L799.2,401.8L800.1,398.8L800.5,398.4L803.0,395.8L803.5,395.4L806.5,393.8L809.5,393.2L812.5,395.2L812.7,395.8L812.5,396.5L811.8,398.8L810.4,401.8L809.5,403.1L807.9,404.8L806.5,405.7M317.4,402.2L314.4,404.1L311.4,402.6L310.6,401.8L311.4,400.9L313.8,398.8L314.4,398.4L315.6,398.8L317.4,400.7L317.6,401.8L317.4,402.2M719.5,419.8L716.5,420.1L714.2,419.8L713.5,419.6L710.5,417.9L709.0,416.8L707.5,415.5L705.8,413.8L704.5,412.1L703.4,410.8L702.2,407.8L702.5,404.8L704.5,402.9L707.5,401.9L710.5,402.1L713.5,404.0L714.1,404.8L716.4,407.8L716.5,407.8L719.5,410.5L719.8,410.8L722.5,412.4L724.6,413.8L724.4,416.8L722.5,418.3L719.7,419.8L719.5,419.8M269.4,425.9L269.2,425.8L266.4,424.4L265.2,422.8L264.1,419.8L264.3,416.8L265.8,413.8L266.4,412.4L269.4,412.8L270.4,413.8L272.4,415.2L273.8,416.8L275.1,419.8L274.4,422.8L272.4,425.1L270.1,425.8L269.4,425.9M296.4,437.3L293.4,436.8L292.5,434.8L293.1,431.8L293.4,431.2L296.4,429.3L299.4,430.9L299.6,431.8L299.4,432.3L298.5,434.8L296.4,437.3M698.5,442.2L695.5,443.4L692.5,441.8L691.8,440.8L691.9,437.8L692.5,436.4L694.2,434.8L695.5,434.2L696.7,434.8L698.5,436.3L699.3,437.8L699.3,440.8L698.5,442.2M269.4,446.8L266.4,446.8L266.3,446.8L265.9,443.8L266.4,443.2L269.4,443.7L269.5,443.8L269.5,446.8L269.4,446.8M608.5,456.6L607.4,455.8L608.5,454.4L609.8,455.8L608.5,456.6M707.5,468.1L705.9,467.8L704.5,466.9L701.5,465.3L700.5,464.8L701.5,462.8L703.2,461.8L704.5,461.6L704.9,461.8L707.5,462.6L710.5,464.7L710.5,464.8L710.5,466.5L710.2,467.8L707.5,468.1M833.5,465.3L830.5,465.5L827.5,466.3L825.9,467.8L824.5,468.4L821.5,469.9L818.5,470.6L815.5,470.1L812.5,468.9L810.4,467.8L809.5,465.8L808.6,464.8L809.5,463.8L812.5,462.2L814.1,461.8L815.5,461.5L818.5,461.0L821.5,460.6L824.5,460.5L827.5,460.4L830.5,459.7L833.5,458.9M528.6,482.8L530.5,481.1L531.2,479.8L532.0,476.8L531.8,473.8L531.1,470.8L530.5,469.1L529.1,467.8L527.5,466.9L524.5,466.9L521.5,467.6L520.4,467.8L518.5,468.1L515.5,468.1L512.5,467.8L509.4,468.2L507.7,470.8L507.7,473.8L508.6,476.8L509.4,478.7L510.1,479.8L512.5,481.9L514.4,482.8L515.5,483.1L518.5,483.4L521.5,483.6L524.5,483.8L527.5,483.5L528.6,482.8M761.9,485.8L761.7,482.8L761.5,482.6L758.5,481.7L755.5,482.0L754.4,482.8L755.5,484.3L756.9,485.8L758.5,486.2L761.5,485.9L761.9,485.8M257.4,510.3L254.4,509.8L254.4,509.8L253.1,506.8L253.1,503.8L253.7,500.8L254.4,499.0L255.7,497.8L257.4,496.8L260.4,497.3L261.1,497.8L263.2,500.8L262.9,503.8L261.3,506.8L260.4,508.0L258.1,509.8L257.4,510.3M689.5,518.8L689.2,518.8L686.5,518.1L683.5,516.4L682.8,515.8L681.1,512.8L680.5,510.8L680.2,509.8L679.6,506.8L680.4,503.8L680.5,503.7L680.6,503.8L683.5,504.2L686.5,505.3L689.3,506.8L689.5,506.8L692.5,509.2L692.9,509.8L694.6,512.8L694.8,515.8L692.5,518.2L689.7,518.8L689.5,518.8M287.4,519.0L284.8,518.8L284.4,518.7L281.4,516.1L281.2,515.8L280.4,512.8L280.8,509.8L281.4,508.5L284.4,507.4L287.4,508.4L289.5,509.8L290.4,510.6L292.2,512.8L292.6,515.8L290.4,518.0L288.5,518.8L287.4,519.0M209.4,532.0L206.4,530.9L206.3,530.8L203.5,527.8L203.4,527.7L201.8,524.8L201.9,521.8L203.4,519.0L203.7,518.8L206.4,516.8L209.4,517.6L210.2,518.8L211.3,521.8L211.8,524.8L212.1,527.8L211.5,530.8L209.4,532.0M680.5,547.0L679.9,545.8L680.5,543.1L681.3,545.8L680.5,547.0M356.4,564.2L353.4,564.0L352.3,563.8L350.4,562.6L348.8,560.8L350.4,559.1L351.4,557.8L353.4,556.4L356.2,554.8L356.4,554.6L359.4,554.4L360.3,554.8L362.4,556.9L362.9,557.8L362.4,560.5L362.4,560.8L359.4,563.4L358.4,563.8L356.4,564.2M257.4,567.6L254.4,567.2L254.1,566.8L253.9,563.8L254.4,562.5L256.7,560.8L257.4,560.5L257.9,560.8L259.1,563.8L258.3,566.8L257.4,567.6M650.5,576.3L647.5,578.7L644.5,578.0L643.6,575.8L644.0,572.8L644.5,571.8L647.5,570.8L650.5,572.7L650.5,572.8L650.9,575.8L650.5,576.3M317.4,587.9L314.4,587.8L313.7,587.8L311.4,587.3L308.4,585.4L308.0,584.8L307.6,581.8L308.4,580.3L309.6,578.8L311.4,577.7L314.4,576.6L317.4,576.0L320.4,576.0L323.4,576.8L326.2,578.8L326.4,579.3L327.1,581.8L326.4,583.5L325.9,584.8L323.4,586.5L320.4,587.5L318.6,587.8L317.4,587.9M296.4,609.0L293.4,609.3L290.4,609.4L287.4,609.2L285.2,608.8L284.4,608.5L281.4,606.6L280.7,605.8L279.4,602.8L278.9,599.8L278.9,596.8L279.3,593.8L280.8,590.8L281.4,590.2L283.1,590.8L284.4,591.0L287.4,592.0L290.4,592.8L293.4,593.4L296.2,593.8L296.4,593.8L299.4,594.4L302.4,595.7L303.7,596.8L305.4,599.1L305.8,599.8L306.3,602.8L305.4,604.3L304.3,605.8L302.4,606.8L299.4,608.1L297.6,608.8L296.4,609.0M263.4,609.1L263.1,608.8L261.9,605.8L263.4,604.7L264.7,605.8L263.8,608.8L263.4,609.1M356.4,626.9L353.4,627.0L352.9,626.8L353.1,623.8L353.4,623.6L354.9,623.8L356.4,625.4L356.7,626.8L356.4,626.9M533.8,623.8L533.5,622.9L530.5,623.3L530.2,623.8L530.5,625.1L533.5,625.9L533.8,623.8M368.4,644.8L365.4,645.0L365.1,644.8L365.4,644.3L368.1,641.8L368.4,641.6L371.3,638.8L371.4,638.5L372.8,635.8L374.4,632.8L374.4,632.6L377.4,630.2L380.0,629.8L380.4,629.6L380.6,629.8L383.4,631.6L384.0,632.8L384.7,635.8L384.5,638.8L383.4,640.6L380.4,641.6L377.4,641.7L377.0,641.8L374.4,642.0L371.4,642.5L368.5,644.8L368.4,644.8M731.7,647.8L732.6,644.8L732.1,641.8L731.5,640.4L729.7,638.8L728.5,637.8L725.5,637.4L722.5,638.7L722.4,638.8L720.7,641.8L721.0,644.8L722.2,647.8L722.5,648.1L725.5,650.3L728.5,650.1L731.5,648.0L731.7,647.8M502.1,689.8L503.4,688.3L504.2,686.8L506.2,683.8L506.4,683.5L508.8,680.8L509.4,679.9L511.3,677.8L512.5,675.9L513.1,674.8L513.9,671.8L514.2,668.8L514.3,665.8L514.3,662.8L514.2,659.8L513.7,656.8L512.7,653.8L512.5,653.4L510.3,650.8L509.4,650.1L506.4,648.8L503.4,648.6L500.4,649.5L498.5,650.8L497.4,651.5L495.3,653.8L494.4,654.6L492.4,656.8L491.4,657.7L488.7,659.8L488.4,660.0L485.4,662.7L485.4,662.8L484.3,665.8L484.0,668.8L484.0,671.8L484.3,674.8L484.8,677.8L485.4,679.6L485.9,680.8L487.9,683.8L488.4,684.3L491.1,686.8L491.4,687.1L494.4,689.3L495.4,689.8L497.4,690.9L500.4,691.0L502.1,689.8M668.0,827.8L668.5,827.4L669.6,824.8L670.6,821.8L671.4,818.8L671.1,815.8L668.5,814.1L665.5,813.6L662.5,813.2L659.5,813.1L656.5,814.5L655.3,815.8L654.1,818.8L653.9,821.8L654.9,824.8L656.5,826.5L658.7,827.8L659.5,828.2L662.5,829.3L665.5,829.5L668.0,827.8" fill="none" stroke="#2a788e" stroke-width="2.0" stroke-linejoin="round"/><path d="M575.3,155.8L575.5,155.2L575.9,152.8L576.2,149.8L576.6,146.8L577.0,143.8L577.4,140.8L577.7,137.8L577.7,134.8L576.8,131.8L575.5,129.9L574.4,128.8L572.5,127.1L569.7,125.8L569.5,125.6L566.5,125.3L565.1,125.8L563.5,126.4L561.3,128.8L560.5,130.0L559.5,131.8L558.0,134.8L557.5,135.7L556.4,137.8L555.2,140.8L554.5,143.5L554.4,143.8L554.1,146.8L554.5,148.4L554.8,149.8L557.4,152.8L557.5,152.8L560.5,154.6L563.0,155.8L563.5,155.9L566.5,157.1L569.5,158.0L572.5,158.1L575.3,155.8M124.5,149.8L122.5,147.4L121.6,149.8L122.5,150.8L124.5,149.8M633.4,194.8L635.5,194.2L638.5,192.4L639.4,191.8L641.5,189.6L642.5,188.8L643.2,185.8L642.1,182.8L641.5,181.1L641.0,179.8L639.6,176.8L638.5,175.8L635.5,174.0L634.7,173.8L632.5,173.2L629.5,172.6L626.5,172.2L623.5,172.5L620.6,173.8L620.5,173.8L617.5,175.8L614.5,176.8L614.5,176.8L611.5,177.0L608.5,177.3L605.5,178.8L604.6,179.8L603.1,182.8L602.5,184.8L602.2,185.8L601.8,188.8L602.0,191.8L602.5,192.4L605.5,193.5L608.5,193.8L611.5,193.9L614.5,194.0L617.5,194.0L620.5,194.0L623.5,194.1L626.5,194.4L628.7,194.8L629.5,194.8L632.5,195.0L633.4,194.8M681.0,182.8L683.5,179.9L683.5,179.8L683.5,179.7L681.1,176.8L680.5,176.3L677.5,174.0L676.6,173.8L674.5,173.1L673.4,173.8L671.9,176.8L673.2,179.8L674.5,180.9L677.5,182.6L678.2,182.8L680.5,182.9L681.0,182.8M661.4,185.8L659.5,183.0L656.5,183.4L654.4,185.8L656.5,186.3L659.5,186.3L661.4,185.8M676.9,224.8L676.2,221.8L677.5,220.8L680.5,219.6L681.3,218.8L683.5,217.7L685.2,215.8L686.5,213.9L687.0,212.8L687.6,209.8L687.5,206.8L686.5,203.8L686.5,203.7L683.5,202.0L681.0,203.8L680.5,204.4L679.4,206.8L677.6,209.8L677.5,210.0L674.6,212.8L674.5,213.0L671.5,213.7L668.5,213.2L665.5,213.1L662.5,215.0L662.1,215.8L662.5,216.7L663.0,218.8L665.5,221.5L665.8,221.8L668.5,223.7L670.5,224.8L671.5,225.4L674.5,225.9L676.9,224.8M400.4,251.8L401.4,251.4L404.4,250.2L407.4,249.5L410.4,249.1L412.5,248.8L413.4,248.6L416.4,247.2L418.2,245.8L419.4,243.7L420.0,242.8L420.6,239.8L420.5,236.8L420.1,233.8L420.0,230.8L420.0,227.8L420.2,224.8L422.4,221.8L422.4,221.7L425.4,221.1L428.4,221.2L431.4,221.3L434.4,221.2L437.4,221.3L437.9,221.8L440.4,224.2L440.7,224.8L442.1,227.8L443.4,230.8L443.4,230.8L445.4,233.8L446.4,235.1L449.0,236.8L449.4,237.2L450.0,236.8L452.4,234.6L452.7,233.8L454.3,230.8L455.4,228.6L455.8,227.8L455.8,224.8L455.4,224.2L453.5,221.8L452.4,221.0L449.4,218.9L449.1,218.8L446.4,218.0L443.4,217.9L440.4,218.0L437.4,216.0L437.3,215.8L434.4,212.9L434.3,212.8L431.4,210.9L428.4,210.1L425.4,210.5L422.4,211.2L419.4,211.8L416.4,212.6L416.2,212.8L414.7,215.8L414.2,218.8L413.4,219.6L411.3,221.8L410.4,222.1L407.4,223.0L404.4,223.1L401.4,222.1L400.9,221.8L398.4,220.6L395.4,219.7L392.4,219.3L389.4,219.3L386.4,220.7L385.9,221.8L384.6,224.8L383.5,227.8L383.4,228.3L383.1,230.8L383.4,231.6L384.2,233.8L386.4,236.8L386.4,236.9L388.2,239.8L389.1,242.8L389.1,245.8L389.2,248.8L389.4,249.3L390.6,251.8L392.4,253.1L395.4,253.4L398.4,252.6L400.4,251.8M650.8,224.8L651.1,221.8L651.7,218.8L653.2,215.8L653.4,212.8L650.5,211.7L647.5,211.7L645.2,212.8L645.0,215.8L645.7,218.8L645.5,221.8L645.3,224.8L647.5,227.7L650.5,225.7L650.8,224.8M813.1,446.8L814.2,443.8L812.5,441.7L809.5,441.7L806.5,442.2L803.5,442.1L800.6,440.8L800.5,440.7L797.9,437.8L797.7,434.8L798.2,431.8L799.0,428.8L799.5,425.8L799.3,422.8L797.5,420.2L797.0,419.8L794.5,417.8L793.7,416.8L791.6,413.8L791.5,413.4L790.2,410.8L788.9,407.8L788.5,405.9L788.0,404.8L787.8,401.8L788.5,399.1L788.5,398.8L790.0,395.8L791.5,394.6L793.5,392.8L794.5,392.1L797.1,389.8L797.5,389.3L800.0,386.8L800.5,386.2L803.5,384.8L806.5,384.4L809.5,384.1L811.6,383.8L812.5,383.6L815.5,382.4L818.0,380.8L818.5,380.2L820.5,377.8L821.3,374.8L820.5,371.8L818.5,369.0L818.2,368.8L815.5,366.1L814.8,365.8L812.5,364.6L809.5,364.1L806.5,364.4L803.5,364.6L800.5,363.9L798.9,362.8L797.5,361.4L796.0,359.8L794.5,357.6L793.5,356.8L791.5,355.1L788.5,354.4L785.5,354.0L785.1,353.8L782.5,352.1L781.3,350.8L779.5,347.8L779.5,347.7L778.3,344.8L777.4,341.8L776.5,340.4L773.5,338.8L773.5,338.7L773.4,338.8L770.5,339.1L767.5,340.5L764.5,340.3L761.5,339.6L759.4,338.8L758.5,338.2L756.9,335.8L755.8,332.8L755.5,332.1L753.9,329.8L752.5,328.7L749.5,328.6L746.5,329.3L743.5,329.7L740.5,329.1L737.5,326.8L737.5,326.7L734.7,323.8L734.5,323.5L731.5,321.9L728.5,321.3L725.5,321.1L722.5,321.3L719.5,322.0L716.5,322.9L713.5,323.8L713.5,323.8L710.5,324.1L709.8,323.8L707.5,322.9L704.5,321.8L701.5,322.7L700.4,323.8L699.8,326.8L701.5,328.8L704.5,329.4L705.1,329.8L707.1,332.8L707.4,335.8L707.5,336.4L707.6,338.8L708.3,341.8L709.3,344.8L710.5,347.5L710.6,347.8L711.6,350.8L711.5,353.8L710.5,355.1L707.7,356.8L707.5,356.9L704.5,359.4L704.2,359.8L704.5,360.2L705.8,362.8L707.5,364.6L708.2,365.8L710.1,368.8L710.5,369.7L711.3,371.8L711.5,374.8L710.5,377.3L710.2,377.8L707.5,380.4L706.7,380.8L704.5,381.7L701.5,381.9L698.5,381.3L696.5,380.8L695.5,380.3L692.5,377.8L692.5,377.6L691.8,374.8L690.2,371.8L689.5,371.1L686.5,370.3L683.5,370.7L680.5,371.1L677.5,370.9L674.5,370.0L672.7,368.8L671.5,367.6L670.4,365.8L670.1,362.8L671.1,359.8L671.5,359.0L672.7,356.8L673.6,353.8L673.3,350.8L672.9,347.8L673.2,344.8L673.9,341.8L674.4,338.8L673.0,335.8L671.5,334.4L669.7,332.8L668.5,331.5L666.9,329.8L665.5,327.5L665.1,326.8L664.5,323.8L664.5,320.8L664.7,317.8L665.2,314.8L665.5,314.3L666.6,311.8L668.5,309.8L669.5,308.8L671.5,306.7L672.6,305.8L673.7,302.8L671.7,299.8L671.5,299.6L668.5,297.9L665.5,297.5L662.5,298.5L661.1,299.8L659.5,302.0L659.0,302.8L657.6,305.8L656.5,307.6L653.8,308.8L653.5,308.8L653.1,308.8L650.5,308.2L647.5,306.6L646.0,305.8L644.5,305.1L641.5,304.0L638.5,303.4L635.5,303.0L632.5,303.0L629.5,304.3L628.2,305.8L626.5,307.7L625.1,308.8L623.5,309.5L620.5,310.1L617.5,310.7L616.1,311.8L614.5,313.5L613.9,314.8L612.3,317.8L611.5,319.7L610.8,320.8L608.5,323.2L607.6,323.8L605.5,325.0L603.2,326.8L602.5,327.4L600.4,329.8L599.5,331.0L597.2,332.8L596.5,333.3L593.5,333.7L590.5,333.4L587.5,333.3L584.5,333.7L581.5,334.2L578.5,334.3L575.5,333.8L572.5,332.9L572.0,332.8L569.5,331.1L568.5,329.8L568.2,326.8L569.5,323.8L569.5,323.8L572.1,320.8L572.5,320.4L575.5,317.9L575.6,317.8L578.5,316.1L581.5,315.0L582.1,314.8L584.5,313.9L587.5,312.7L589.2,311.8L590.5,310.9L593.0,308.8L593.5,308.0L595.4,305.8L596.5,303.8L599.5,304.5L601.5,305.8L602.5,306.1L605.5,307.2L608.5,307.9L611.5,308.0L614.5,306.6L614.9,305.8L616.3,302.8L617.3,299.8L617.5,299.2L619.0,296.8L620.5,294.9L621.8,293.8L623.5,291.8L623.9,290.8L624.7,287.8L624.6,284.8L623.5,282.4L622.4,281.8L620.5,279.4L620.1,278.8L619.9,275.8L619.5,272.8L619.0,269.8L618.2,266.8L617.5,264.6L617.1,263.8L615.7,260.8L614.5,258.7L612.5,257.8L611.5,257.3L608.5,257.0L605.5,256.8L602.5,255.7L601.0,254.8L599.5,253.8L596.5,251.8L596.4,251.8L593.5,250.3L590.5,249.3L587.5,248.8L587.4,248.8L584.5,248.0L581.5,246.4L580.6,245.8L578.5,243.4L577.8,242.8L576.2,239.8L576.1,236.8L576.9,233.8L577.8,230.8L577.7,227.8L575.5,225.7L572.8,224.8L572.5,224.7L569.5,224.5L566.5,224.8L566.5,224.8L563.5,226.8L562.4,227.8L560.5,230.3L559.9,230.8L557.5,232.4L554.5,232.9L551.5,233.1L548.5,233.1L545.5,232.8L542.5,231.9L539.9,230.8L539.5,230.3L536.7,227.8L536.5,227.6L533.5,227.5L532.9,227.8L532.3,230.8L530.5,233.4L530.4,233.8L528.8,236.8L527.5,239.3L527.3,239.8L526.1,242.8L524.5,245.0L523.9,245.8L521.5,247.7L518.8,248.8L518.5,248.9L517.5,248.8L515.5,248.5L512.5,246.6L511.2,245.8L509.4,244.4L506.4,243.2L503.4,243.0L500.4,243.2L497.4,244.1L495.0,245.8L494.4,246.2L491.4,248.6L491.2,248.8L488.4,250.1L485.4,250.1L482.4,249.5L480.6,248.8L479.4,248.4L476.4,247.2L473.4,246.5L470.4,246.9L467.4,248.1L466.1,248.8L464.4,249.5L461.4,250.9L459.9,251.8L458.4,252.6L455.8,254.8L455.4,255.1L452.4,257.2L450.7,257.8L449.4,258.1L446.4,258.3L443.4,258.3L440.4,258.3L437.4,258.7L434.4,259.8L433.3,260.8L431.7,263.8L431.4,265.4L431.3,266.8L431.3,269.8L431.2,272.8L430.7,275.8L430.2,278.8L429.9,281.8L429.8,284.8L429.8,287.8L429.5,290.8L428.9,293.8L428.4,295.0L427.8,296.8L426.5,299.8L425.4,302.1L425.0,302.8L424.4,305.8L425.4,306.6L428.4,308.3L429.5,308.8L431.4,309.3L434.4,310.7L435.6,311.8L437.4,313.8L438.1,314.8L439.8,317.8L440.4,319.1L441.5,320.8L443.0,323.8L440.4,326.2L437.4,325.7L434.4,325.3L431.4,325.2L428.4,325.9L427.4,326.8L425.4,328.1L423.8,329.8L422.4,330.7L419.4,332.5L418.9,332.8L416.4,333.8L413.4,335.1L412.2,335.8L410.4,337.3L409.1,338.8L408.1,341.8L409.5,344.8L410.4,345.3L413.4,346.5L416.4,347.4L418.4,347.8L419.4,348.0L422.4,348.4L425.4,348.9L428.4,350.6L428.6,350.8L428.8,353.8L428.4,354.8L427.5,356.8L425.4,359.0L424.1,359.8L422.4,360.4L419.4,360.8L416.4,360.9L413.4,361.1L410.8,362.8L411.9,365.8L413.4,367.6L414.4,368.8L416.4,370.3L418.5,371.8L419.4,372.3L422.4,374.4L422.8,374.8L424.8,377.8L425.4,379.9L425.7,380.8L426.3,383.8L427.1,386.8L428.0,389.8L428.4,391.6L428.8,392.8L429.5,395.8L430.1,398.8L431.4,401.8L431.4,401.9L434.4,404.5L434.6,404.8L436.7,407.8L437.4,408.4L439.7,410.8L440.4,411.2L443.4,412.8L445.2,413.8L446.4,414.3L449.4,416.0L451.0,416.8L452.4,417.3L455.4,417.7L458.4,417.2L459.6,416.8L461.4,415.5L464.2,413.8L464.4,413.3L467.4,411.7L470.2,413.8L470.4,413.8L472.3,413.8L473.4,413.1L473.6,410.8L474.0,407.8L476.4,405.5L477.1,404.8L479.4,403.5L482.4,402.4L485.1,401.8L485.4,401.7L488.4,401.4L491.4,401.6L492.4,401.8L494.4,402.3L497.4,401.8L497.5,401.8L500.4,399.3L501.1,398.8L503.4,396.7L504.2,395.8L506.2,392.8L506.4,392.2L507.3,389.8L507.8,386.8L509.4,384.3L510.0,383.8L512.5,382.9L515.5,383.2L516.2,383.8L518.5,385.5L519.7,386.8L521.5,388.0L524.5,389.4L527.5,389.4L530.2,386.8L530.5,384.4L530.5,383.8L530.5,383.6L529.7,380.8L528.3,377.8L527.5,376.3L526.6,374.8L524.6,371.8L524.5,371.5L522.5,368.8L521.5,367.0L520.6,365.8L520.6,362.8L521.5,362.4L524.5,361.9L527.5,361.7L530.5,362.4L531.0,362.8L533.5,364.5L535.3,365.8L536.5,366.5L539.5,366.7L540.5,365.8L542.5,364.3L543.6,362.8L545.5,360.1L545.8,359.8L547.4,356.8L548.0,353.8L548.1,350.8L548.4,347.8L548.5,347.5L549.7,344.8L551.5,342.5L552.9,341.8L554.5,341.3L557.5,340.6L560.5,340.8L561.2,341.8L561.6,344.8L561.0,347.8L560.5,349.7L559.8,350.8L557.8,353.8L557.5,355.2L557.0,356.8L557.5,357.5L558.1,359.8L559.4,362.8L560.2,365.8L560.5,367.0L560.9,368.8L561.7,371.8L562.7,374.8L563.5,376.9L564.7,377.8L566.5,379.0L569.4,377.8L569.5,377.7L572.5,375.8L573.8,374.8L575.5,373.3L577.5,371.8L578.5,371.1L581.5,370.6L584.5,370.6L587.5,370.2L590.5,369.2L591.3,368.8L593.5,367.7L596.5,366.8L599.5,366.8L602.5,367.7L605.0,368.8L605.5,369.0L608.5,369.6L611.4,368.8L611.5,368.7L614.5,366.0L614.7,365.8L617.5,363.1L617.8,362.8L620.5,361.2L623.3,359.8L623.5,359.7L626.5,359.0L629.2,359.8L629.5,360.0L630.5,362.8L630.2,365.8L629.5,367.2L628.9,368.8L628.7,371.8L629.5,372.6L632.5,372.1L632.8,371.8L635.1,368.8L635.5,368.5L638.5,367.4L641.5,367.1L644.5,367.0L647.5,367.3L649.7,368.8L650.5,369.4L652.0,371.8L653.5,374.2L653.8,374.8L655.3,377.8L656.5,380.7L656.5,380.8L658.5,383.8L659.5,384.6L662.5,385.9L665.5,384.7L666.1,383.8L668.0,380.8L668.5,380.1L671.5,377.9L671.9,377.8L674.5,376.6L677.5,375.6L680.5,375.1L683.5,375.2L686.5,375.9L689.5,377.1L692.3,377.8L692.5,378.0L693.5,380.8L692.6,383.8L692.5,385.3L692.3,386.8L692.5,387.9L692.7,389.8L695.5,392.3L696.3,392.8L698.5,393.3L701.5,393.5L704.5,393.2L706.4,392.8L707.5,392.4L710.5,391.8L713.5,391.6L716.5,391.8L719.5,392.2L722.0,392.8L722.5,392.9L725.5,394.5L726.7,395.8L728.5,397.8L729.1,398.8L731.5,400.7L732.6,401.8L734.5,403.0L736.3,404.8L737.5,406.1L738.4,407.8L739.6,410.8L740.3,413.8L740.5,414.7L740.9,416.8L742.5,419.8L743.5,420.6L746.5,421.8L749.3,422.8L749.5,422.8L752.5,424.1L755.5,425.3L758.3,425.8L758.5,425.8L761.5,425.8L761.8,425.8L764.5,425.6L767.5,425.5L770.5,425.7L771.3,425.8L773.5,426.1L776.5,426.7L779.5,427.3L782.5,428.1L784.0,428.8L785.5,429.9L787.0,431.8L788.3,434.8L788.5,435.4L789.4,437.8L790.7,440.8L791.5,441.8L793.3,443.8L794.5,444.4L797.5,445.7L800.3,446.8L800.5,446.8L803.5,447.1L806.5,447.4L809.5,447.6L812.5,447.2L813.1,446.8M563.5,240.6L562.7,239.8L563.5,237.7L565.7,239.8L563.5,240.6M629.9,245.8L629.5,245.3L628.1,245.8L629.5,246.1L629.9,245.8M377.2,284.8L377.4,284.3L378.6,281.8L379.6,278.8L380.4,277.0L381.3,275.8L383.4,274.0L384.8,272.8L386.4,271.3L387.8,269.8L389.4,267.5L389.9,266.8L390.6,263.8L389.6,260.8L389.4,260.4L386.4,257.9L386.3,257.8L384.0,254.8L383.4,253.8L382.6,251.8L380.4,249.2L379.7,248.8L377.4,247.9L374.4,248.0L372.6,248.8L371.4,249.3L368.6,251.8L368.4,251.9L366.8,254.8L366.1,257.8L366.2,260.8L366.9,263.8L367.5,266.8L367.5,269.8L366.8,272.8L365.9,275.8L365.7,278.8L366.6,281.8L368.4,284.7L368.5,284.8L371.4,287.0L374.4,287.1L377.2,284.8M542.5,271.2L539.5,271.6L536.5,270.2L536.0,269.8L534.0,266.8L534.0,263.8L535.4,260.8L536.5,259.4L538.8,257.8L539.5,257.3L542.5,257.0L544.1,257.8L545.5,259.1L546.1,260.8L546.3,263.8L545.6,266.8L545.5,267.2L543.9,269.8L542.5,271.2M651.4,281.8L653.5,279.2L653.6,278.8L654.3,275.8L654.3,272.8L654.0,269.8L653.5,266.8L653.5,266.6L652.3,263.8L650.5,260.9L650.3,260.8L647.5,259.2L644.5,258.6L641.5,258.5L638.5,259.7L637.6,260.8L637.4,263.8L638.0,266.8L638.4,269.8L638.5,271.2L638.5,272.8L638.5,275.8L639.5,278.8L641.5,280.3L644.1,281.8L644.5,281.9L647.5,282.6L650.5,282.4L651.4,281.8M509.4,287.9L506.4,290.0L504.9,287.8L503.4,286.3L502.7,284.8L500.9,281.8L500.4,280.6L499.8,278.8L499.7,275.8L500.4,273.5L500.8,272.8L503.4,270.1L505.2,269.8L506.4,269.5L507.4,269.8L509.4,270.2L512.5,272.2L513.0,272.8L515.3,275.8L515.5,276.2L516.0,278.8L515.5,281.3L515.3,281.8L512.9,284.8L512.5,285.3L509.6,287.8L509.4,287.9M500.4,385.1L497.4,385.9L494.4,383.8L494.4,383.8L493.6,380.8L493.3,377.8L491.4,375.8L489.2,374.8L488.4,374.6L485.4,373.8L482.4,372.9L479.4,372.2L477.6,371.8L476.4,371.5L473.4,370.7L470.4,369.1L470.1,368.8L468.5,365.8L467.4,362.9L467.4,362.8L466.3,359.8L465.2,356.8L464.4,354.1L464.3,353.8L463.9,350.8L464.4,348.9L464.8,347.8L467.4,344.9L467.6,344.8L470.4,342.7L472.3,341.8L473.4,341.0L476.4,338.9L476.8,338.8L479.4,335.8L479.4,335.5L480.8,332.8L481.5,329.8L482.4,326.9L482.5,326.8L483.9,323.8L485.1,320.8L485.4,317.8L484.1,314.8L482.4,313.6L479.4,312.5L476.4,312.2L473.4,312.5L470.4,313.0L467.4,313.2L464.4,312.5L462.3,311.8L461.4,311.2L458.4,310.0L456.4,308.8L456.8,305.8L458.4,305.1L461.4,304.1L463.3,302.8L464.4,302.2L467.4,300.3L468.2,299.8L470.4,298.4L473.4,296.9L473.8,296.8L476.4,294.8L477.7,293.8L478.2,290.8L478.3,287.8L478.9,284.8L479.4,282.5L480.2,281.8L482.4,279.2L483.5,281.8L485.3,284.8L485.4,284.9L486.6,287.8L487.3,290.8L487.4,293.8L487.9,296.8L488.4,297.9L489.2,299.8L491.2,302.8L491.4,303.0L494.4,304.3L497.4,303.2L498.0,302.8L500.4,300.1L500.9,299.8L503.2,296.8L503.4,296.3L504.0,296.8L506.4,299.1L506.6,299.8L508.3,302.8L509.4,304.0L510.8,305.8L512.5,308.5L512.6,308.8L512.9,311.8L512.5,313.3L512.0,314.8L510.2,317.8L509.4,318.6L507.8,320.8L506.4,322.7L505.7,323.8L504.4,326.8L503.9,329.8L504.1,332.8L504.5,335.8L503.4,337.9L500.4,338.0L497.4,336.8L494.4,336.7L491.4,338.5L491.2,338.8L491.4,340.1L491.7,341.8L494.4,344.4L494.8,344.8L497.4,347.6L497.5,347.8L499.0,350.8L500.4,353.4L500.6,353.8L501.5,356.8L500.6,359.8L500.4,360.0L498.7,362.8L497.4,365.0L497.1,365.8L495.8,368.8L494.9,371.8L494.8,374.8L497.4,377.1L498.1,377.8L500.4,380.0L501.2,380.8L501.9,383.8L500.4,385.1M614.5,286.0L611.5,285.7L611.0,284.8L611.5,284.2L614.2,281.8L614.5,281.6L615.7,281.8L615.7,284.8L614.5,286.0M566.5,306.5L563.5,305.9L563.3,305.8L562.3,302.8L563.0,299.8L563.5,298.9L565.4,296.8L566.5,295.3L569.5,294.2L570.5,296.8L570.4,299.8L569.8,302.8L569.5,303.7L567.8,305.8L566.5,306.5M417.6,311.8L417.6,308.8L416.4,308.0L413.4,308.2L412.7,308.8L412.4,311.8L413.4,312.9L416.4,313.3L417.6,311.8M443.4,327.4L442.4,326.8L443.4,325.5L444.7,326.8L443.4,327.4M452.4,342.4L451.6,341.8L449.4,340.1L448.5,338.8L446.4,335.9L446.4,335.8L445.4,332.8L444.7,329.8L446.4,327.4L449.4,329.0L450.2,329.8L452.4,331.6L453.6,332.8L455.4,335.5L455.6,335.8L456.2,338.8L455.4,341.6L455.2,341.8L452.4,342.4M284.8,350.8L287.4,349.6L289.4,347.8L290.4,346.0L291.1,344.8L292.0,341.8L292.2,338.8L292.0,335.8L290.9,332.8L290.4,332.4L290.0,332.8L287.4,334.1L284.9,335.8L284.4,335.8L281.4,336.9L278.4,338.1L277.0,338.8L275.4,339.9L273.8,341.8L274.1,344.8L275.4,346.5L276.2,347.8L278.4,349.5L281.2,350.8L281.4,350.8L284.4,350.9L284.8,350.8M530.5,349.5L527.5,349.5L525.1,347.8L524.5,347.1L523.3,344.8L523.2,341.8L524.5,340.0L525.7,338.8L527.5,337.7L530.5,336.8L533.5,337.2L536.5,338.5L536.9,338.8L537.6,341.8L536.5,343.1L535.4,344.8L533.5,347.1L532.7,347.8L530.5,349.5M364.2,389.8L364.8,386.8L364.3,383.8L363.4,380.8L363.0,377.8L363.2,374.8L363.7,371.8L364.7,368.8L365.4,368.0L368.4,366.8L371.4,365.9L371.9,365.8L374.4,364.9L377.4,364.3L380.4,363.7L382.9,362.8L383.4,362.5L386.1,359.8L386.4,359.3L387.6,356.8L388.2,353.8L387.7,350.8L386.4,348.4L386.0,347.8L383.8,344.8L383.4,344.0L381.6,341.8L380.4,340.1L377.4,341.2L377.1,341.8L375.6,344.8L374.5,347.8L374.4,347.8L372.1,350.8L371.4,351.2L368.4,352.2L365.4,352.8L362.5,353.8L362.4,353.8L360.0,356.8L359.7,359.8L359.4,360.6L357.9,362.8L356.4,363.3L353.4,364.6L352.3,365.8L350.4,368.3L350.2,368.8L350.2,371.8L350.4,372.1L352.2,374.8L353.4,375.9L355.3,377.8L356.4,379.2L357.8,380.8L358.7,383.8L359.4,386.7L359.5,386.8L361.6,389.8L362.4,392.2L364.2,389.8M731.5,354.3L728.7,353.8L728.5,353.7L725.7,350.8L725.5,349.9L724.9,347.8L725.5,345.6L725.7,344.8L728.5,342.1L729.8,341.8L731.5,341.4L733.0,341.8L734.5,342.3L736.4,344.8L737.1,347.8L736.2,350.8L734.5,352.9L732.5,353.8L731.5,354.3M356.3,350.8L356.4,349.8L356.7,347.8L356.4,347.2L354.4,344.8L353.4,344.5L351.6,344.8L350.4,345.0L347.4,346.8L346.1,347.8L346.2,350.8L347.4,351.9L350.4,353.2L353.4,352.9L356.3,350.8M440.4,366.0L440.3,365.8L440.4,365.7L442.3,365.8L440.4,366.0M773.5,397.6L770.5,398.0L767.5,397.5L764.5,395.9L764.3,395.8L764.5,393.2L764.5,392.8L767.5,391.3L770.5,390.1L771.0,389.8L773.5,387.1L773.6,386.8L775.0,383.8L776.3,380.8L776.5,380.3L777.8,377.8L778.4,374.8L778.0,371.8L777.7,368.8L779.1,365.8L779.5,365.4L782.5,364.3L785.5,365.2L786.0,365.8L787.4,368.8L787.5,371.8L786.6,374.8L785.6,377.8L785.5,378.2L784.5,380.8L783.7,383.8L782.9,386.8L782.5,388.0L781.3,389.8L779.5,392.4L779.0,392.8L776.5,395.7L776.4,395.8L773.5,397.6M434.6,647.8L437.4,647.4L440.4,647.0L443.4,646.0L445.4,644.8L446.4,644.0L448.6,641.8L449.4,640.8L451.5,638.8L452.4,637.7L455.4,635.8L455.8,635.8L458.4,633.8L459.2,632.8L459.8,629.8L460.0,626.8L461.1,623.8L461.4,623.4L464.4,622.1L467.4,621.4L470.2,620.8L470.4,620.7L473.4,619.3L475.2,617.8L476.4,616.3L477.3,614.8L479.0,611.8L479.4,611.0L480.7,608.8L482.3,605.8L482.4,604.9L482.9,602.8L482.4,601.2L481.8,599.8L479.4,597.5L477.9,596.8L476.4,595.7L473.4,595.0L470.4,596.5L470.2,596.8L467.4,597.3L464.4,597.0L462.8,596.8L461.4,596.1L458.4,596.7L458.4,596.8L455.4,598.1L452.8,599.8L452.4,599.9L449.4,601.2L446.4,601.8L443.4,602.0L440.4,601.9L437.4,601.1L434.6,599.8L434.4,599.7L431.4,597.4L430.5,596.8L430.0,593.8L431.0,590.8L431.4,590.1L433.4,587.8L434.4,586.9L437.4,585.7L440.4,585.1L442.5,584.8L443.4,584.5L446.4,583.7L449.4,582.8L452.3,581.8L452.4,581.7L455.4,580.2L457.7,578.8L458.2,575.8L458.0,572.8L457.3,569.8L455.6,566.8L455.4,566.5L452.4,565.6L449.7,566.8L449.4,566.9L446.4,569.1L445.8,569.8L443.4,572.1L442.8,572.8L440.4,575.1L439.6,575.8L437.4,577.5L434.4,578.4L431.4,577.8L429.4,575.8L428.7,572.8L428.6,569.8L429.1,566.8L431.4,563.8L431.5,563.8L434.4,561.3L435.1,560.8L437.4,558.9L439.0,557.8L440.4,556.8L443.4,555.4L445.4,554.8L446.4,554.2L449.4,552.0L449.7,551.8L449.4,550.6L449.2,548.8L447.9,545.8L447.8,542.8L449.4,540.6L450.3,539.8L452.4,538.6L455.4,537.1L455.9,536.8L458.4,535.2L459.9,533.8L461.4,532.6L464.3,530.8L464.4,530.6L467.4,529.7L470.2,530.8L470.4,530.8L473.4,531.4L474.3,530.8L473.8,527.8L473.4,527.4L470.4,525.2L470.1,524.8L467.4,522.2L467.2,521.8L464.9,518.8L464.4,518.3L462.3,515.8L461.4,514.8L459.3,512.8L458.4,511.8L455.4,510.2L452.4,510.3L449.4,511.2L446.4,511.9L443.4,512.0L440.4,511.2L437.4,509.8L437.4,509.8L434.4,508.4L431.4,506.9L431.1,506.8L428.4,505.4L425.8,503.8L425.4,503.5L422.4,502.1L419.9,500.8L419.4,500.5L416.4,498.7L415.5,497.8L413.4,495.3L413.1,494.8L411.6,491.8L410.7,488.8L410.4,487.2L410.1,485.8L409.3,482.8L408.4,479.8L407.4,476.9L407.4,476.8L406.8,473.8L407.4,470.8L407.4,470.6L409.2,467.8L410.4,465.9L410.9,464.8L411.4,461.8L411.4,458.8L411.3,455.8L411.2,452.8L411.1,449.8L410.6,446.8L410.4,446.4L407.9,443.8L407.4,443.4L404.4,443.2L401.4,443.6L398.4,442.8L396.4,440.8L395.8,437.8L398.4,435.0L399.9,434.8L401.4,434.6L404.4,434.4L407.4,433.6L410.4,431.9L410.7,431.8L413.4,429.1L413.7,428.8L414.3,425.8L413.7,422.8L413.4,422.2L412.2,419.8L410.4,417.5L408.4,416.8L407.4,416.5L404.4,416.6L403.2,416.8L401.4,417.0L398.4,416.8L398.4,416.8L395.4,414.5L394.8,413.8L392.4,410.9L392.3,410.8L390.0,407.8L389.4,406.0L389.0,404.8L389.0,401.8L389.3,398.8L389.3,395.8L387.8,392.8L386.4,391.8L383.4,391.9L382.1,392.8L380.4,395.1L380.1,395.8L379.0,398.8L377.4,400.6L374.5,401.8L374.4,401.8L374.4,401.8L371.4,401.3L368.4,399.3L367.8,398.8L365.8,395.8L365.4,394.6L363.1,395.8L362.4,396.0L361.7,398.8L360.2,401.8L359.4,402.7L357.3,404.8L356.4,405.3L353.4,407.4L353.1,407.8L350.5,410.8L350.4,410.8L347.4,413.2L346.0,413.8L344.4,414.2L341.4,414.5L338.4,415.1L335.9,416.8L335.4,417.4L334.5,419.8L334.2,422.8L334.6,425.8L335.4,428.5L335.5,428.8L336.6,431.8L337.8,434.8L338.4,436.0L339.4,437.8L341.4,440.5L341.7,440.8L344.4,442.7L347.4,442.6L349.5,440.8L350.4,439.8L351.7,437.8L352.7,434.8L353.4,431.8L353.5,431.8L355.2,428.8L356.4,427.2L359.0,425.8L359.4,425.5L362.4,425.7L362.6,425.8L364.9,428.8L363.4,431.8L362.4,433.3L361.8,434.8L360.9,437.8L360.3,440.8L359.5,443.8L359.4,443.9L357.7,446.8L356.4,448.8L355.4,449.8L353.5,452.8L353.4,453.0L353.2,455.8L353.4,456.5L354.0,458.8L354.9,461.8L355.5,464.8L354.9,467.8L353.4,469.0L350.9,470.8L350.4,471.0L347.4,472.7L344.5,473.8L344.4,473.8L344.3,473.8L341.4,473.1L338.4,471.1L338.0,470.8L335.4,469.0L334.0,467.8L332.4,465.8L331.8,464.8L330.5,461.8L329.4,459.9L328.1,458.8L326.4,457.9L323.4,458.0L321.8,458.8L320.4,460.1L319.6,461.8L319.6,464.8L320.0,467.8L320.0,470.8L319.0,473.8L317.4,476.3L317.0,476.8L314.4,479.6L314.2,479.8L313.5,482.8L314.4,483.6L316.7,485.8L317.4,486.2L320.4,488.4L320.8,488.8L323.2,491.8L323.4,492.6L323.9,494.8L323.7,497.8L323.4,498.7L323.1,500.8L323.2,503.8L323.4,504.6L324.9,506.8L326.4,508.0L329.4,509.1L330.8,509.8L332.4,510.5L335.4,511.7L338.4,511.5L341.0,509.8L341.4,509.1L342.6,506.8L343.4,503.8L344.4,501.5L345.3,500.8L347.4,499.7L350.4,500.6L350.8,500.8L352.9,503.8L352.9,506.8L352.7,509.8L352.2,512.8L351.0,515.8L350.4,516.7L349.4,518.8L348.2,521.8L347.7,524.8L347.6,527.8L348.2,530.8L349.7,533.8L350.4,534.8L351.9,536.8L353.4,539.0L354.1,539.8L356.4,542.6L356.7,542.8L359.4,544.1L362.4,544.9L365.1,545.8L365.4,545.9L368.4,547.2L370.9,548.8L371.4,549.4L372.9,551.8L373.3,554.8L373.2,557.8L373.1,560.8L373.1,563.8L373.5,566.8L374.2,569.8L374.4,570.5L375.3,572.8L376.3,575.8L376.5,578.8L376.4,581.8L376.4,584.8L377.4,587.7L377.5,587.8L380.4,588.8L383.4,588.7L386.4,588.2L389.4,588.0L392.4,588.5L395.4,589.5L398.4,590.7L398.6,590.8L401.4,592.9L402.5,593.8L403.7,596.8L402.9,599.8L401.4,602.0L401.1,602.8L399.9,605.8L399.3,608.8L399.2,611.8L399.9,614.8L401.4,617.8L401.4,617.8L403.0,620.8L404.4,623.6L404.5,623.8L405.4,626.8L405.1,629.8L404.4,630.8L402.4,632.8L401.4,633.3L398.4,634.5L396.7,635.8L395.4,638.6L395.4,638.8L395.4,638.8L396.6,641.8L398.4,644.0L399.4,644.8L401.4,646.3L404.4,647.4L407.4,646.8L410.4,644.8L410.6,644.8L413.4,643.5L416.4,643.6L419.4,644.7L419.6,644.8L422.4,646.4L425.2,647.8L425.4,647.9L428.4,648.4L431.4,648.2L434.4,647.8L434.6,647.8M233.3,401.8L233.4,399.8L233.5,398.8L233.4,398.7L230.4,396.3L227.4,396.9L226.0,398.8L226.6,401.8L227.4,402.8L230.4,403.5L233.3,401.8M420.4,413.8L422.4,413.6L425.4,411.9L426.9,410.8L428.4,407.8L428.5,407.8L428.4,407.7L427.9,404.8L425.4,404.0L422.4,404.3L420.6,404.8L419.4,405.1L416.4,406.7L415.1,407.8L414.7,410.8L416.4,412.7L419.1,413.8L419.4,413.8L420.4,413.8M672.2,428.8L674.5,428.1L676.5,425.8L677.5,422.9L677.5,422.8L677.5,420.9L677.4,419.8L676.7,416.8L675.5,413.8L674.5,412.3L671.7,410.8L671.5,410.6L670.8,410.8L668.5,411.3L665.7,413.8L665.5,414.0L662.9,416.8L662.5,417.5L660.1,419.8L659.5,421.5L658.8,422.8L659.5,424.8L659.8,425.8L662.5,427.5L665.5,428.6L666.7,428.8L668.5,429.0L671.5,429.0L672.2,428.8M833.5,413.9L833.1,416.8L833.0,419.8L833.5,421.5M248.5,464.8L249.6,461.8L250.0,458.8L250.0,455.8L249.8,452.8L249.1,449.8L248.4,448.1L247.6,446.8L245.7,443.8L245.4,443.3L244.7,440.8L244.6,437.8L245.3,434.8L245.4,434.5L248.4,431.9L248.7,431.8L251.4,429.6L252.2,428.8L253.9,425.8L254.4,422.8L253.5,419.8L251.4,418.3L248.4,418.9L245.6,419.8L245.4,419.8L242.4,420.2L239.4,420.2L236.4,420.4L233.4,420.9L230.4,422.3L230.1,422.8L228.9,425.8L227.6,428.8L227.4,429.0L226.1,431.8L224.4,434.4L224.2,434.8L222.8,437.8L222.2,440.8L222.7,443.8L224.2,446.8L224.4,447.3L226.2,449.8L227.4,452.8L227.4,453.7L227.7,455.8L227.4,457.0L227.2,458.8L226.5,461.8L227.4,464.5L227.6,464.8L230.4,465.7L233.4,466.1L236.4,466.3L239.4,466.6L242.4,466.7L245.4,466.5L248.4,464.8L248.5,464.8M723.1,458.8L724.3,455.8L725.5,453.7L725.9,452.8L728.3,449.8L728.5,449.6L731.1,446.8L731.5,446.0L732.4,443.8L731.5,442.0L728.5,441.5L725.5,442.4L723.9,443.8L722.5,444.9L720.6,446.8L719.5,447.7L716.5,449.6L716.3,449.8L714.6,452.8L715.9,455.8L716.5,456.3L719.3,458.8L719.5,458.9L722.5,459.7L723.1,458.8M675.4,476.8L677.5,475.7L680.3,473.8L680.5,473.5L682.1,470.8L681.9,467.8L680.5,465.3L679.9,464.8L677.5,463.3L674.8,461.8L674.5,461.6L671.5,458.9L671.4,458.8L668.6,455.8L668.5,455.6L665.5,452.8L665.5,452.7L662.5,451.0L659.5,451.1L657.5,452.8L656.5,454.5L656.0,455.8L655.1,458.8L654.5,461.8L654.4,464.8L655.4,467.8L656.5,469.2L657.5,470.8L659.5,473.1L660.0,473.8L662.4,476.8L662.5,476.8L665.5,479.5L668.5,479.5L671.5,478.4L674.5,477.2L675.4,476.8M611.9,515.8L612.2,512.8L612.6,509.8L614.0,506.8L614.5,506.3L616.1,503.8L617.5,502.3L618.4,500.8L620.2,497.8L620.5,497.2L621.2,494.8L621.1,491.8L620.5,490.6L618.8,488.8L617.5,487.9L614.5,487.1L611.5,487.0L608.5,487.1L605.5,487.2L602.5,487.4L599.5,486.9L599.1,485.8L599.1,482.8L598.7,479.8L597.8,476.8L596.5,474.1L596.3,473.8L593.6,470.8L593.5,470.7L590.5,468.8L587.5,467.8L586.5,467.8L584.5,467.6L583.3,467.8L581.5,468.0L578.5,469.6L577.5,470.8L576.4,473.8L576.3,476.8L577.3,479.8L578.5,481.8L579.3,482.8L581.5,485.4L581.8,485.8L584.0,488.8L584.5,489.7L586.4,491.8L587.5,493.1L589.8,494.8L590.5,495.6L591.3,497.8L592.3,500.8L593.3,503.8L593.5,504.3L594.4,506.8L595.8,509.8L596.5,510.9L598.2,512.8L599.5,514.0L602.0,515.8L602.5,516.0L605.5,517.3L608.5,517.9L611.5,516.5L611.9,515.8M234.9,509.8L235.2,506.8L235.0,503.8L235.4,500.8L236.4,498.4L236.8,497.8L238.7,494.8L239.4,492.5L239.8,491.8L239.4,489.7L239.3,488.8L236.4,486.2L235.2,485.8L233.4,485.3L230.4,485.4L227.4,485.6L224.4,485.1L222.3,482.8L221.4,481.0L221.0,479.8L220.3,476.8L219.9,473.8L219.6,470.8L218.4,468.6L215.4,469.3L214.3,470.8L212.4,473.7L212.4,473.8L211.6,476.8L211.0,479.8L211.1,482.8L212.0,485.8L212.4,486.5L214.5,488.8L215.4,489.5L218.4,491.5L218.8,491.8L221.3,494.8L221.4,494.9L222.7,497.8L223.8,500.8L224.4,502.4L225.0,503.8L226.4,506.8L227.4,508.6L228.7,509.8L230.4,511.1L233.4,511.2L234.9,509.8M833.5,476.2L832.0,476.8L830.5,478.8L829.8,479.8L830.5,481.0L832.6,482.8L833.5,483.0M701.1,482.8L701.5,481.6L701.6,479.8L701.5,479.6L698.5,479.2L697.4,479.8L697.0,482.8L698.5,483.8L701.1,482.8M801.2,488.8L800.5,486.6L799.5,485.8L797.5,485.2L796.7,485.8L795.4,488.8L797.5,490.6L800.5,489.5L801.2,488.8M371.4,508.2L368.4,508.6L365.4,508.0L363.1,506.8L362.4,506.4L359.4,504.0L358.9,503.8L357.8,500.8L359.4,499.1L360.4,497.8L362.4,496.6L365.4,495.4L368.4,495.3L371.4,496.7L372.5,497.8L374.2,500.8L374.4,503.8L373.1,506.8L371.4,508.2M671.3,521.8L671.5,521.5L672.4,518.8L672.3,515.8L671.6,512.8L671.5,512.4L670.1,509.8L668.5,507.0L668.2,506.8L665.7,503.8L665.5,503.5L662.5,501.3L659.5,501.2L656.9,503.8L656.5,504.7L655.8,506.8L655.6,509.8L655.7,512.8L655.9,515.8L656.5,518.4L656.5,518.8L658.7,521.8L659.5,522.2L662.5,523.5L665.5,524.1L668.5,523.8L671.3,521.8M717.0,515.8L716.9,512.8L716.5,512.5L715.4,512.8L715.6,515.8L716.5,516.0L717.0,515.8M226.1,527.8L226.8,524.8L224.4,521.9L221.7,524.8L223.4,527.8L224.4,529.0L226.1,527.8M265.5,548.8L266.4,548.7L269.4,547.3L271.8,545.8L272.4,545.2L275.4,543.0L275.8,542.8L277.0,539.8L276.8,536.8L276.4,533.8L275.9,530.8L275.4,529.0L275.0,527.8L273.1,524.8L272.4,524.0L269.4,522.2L266.4,522.4L263.5,524.8L263.4,524.8L261.6,527.8L260.4,530.2L260.2,530.8L259.0,533.8L257.4,536.7L257.4,536.8L255.4,539.8L254.7,542.8L256.3,545.8L257.4,546.6L260.4,548.3L262.6,548.8L263.4,548.9L265.5,548.8M327.6,560.8L329.4,559.6L331.5,557.8L332.4,557.0L335.4,554.9L335.6,554.8L338.4,553.0L340.6,551.8L341.4,550.7L343.1,548.8L342.0,545.8L341.4,545.2L339.4,542.8L338.4,541.9L335.4,540.0L334.8,539.8L332.4,539.2L329.4,539.0L326.4,539.4L325.6,539.8L323.4,541.0L321.9,542.8L320.4,544.7L319.8,545.8L318.5,548.8L317.9,551.8L317.8,554.8L318.1,557.8L319.5,560.8L320.4,561.3L323.4,561.8L326.4,561.3L327.6,560.8M661.1,557.8L662.5,557.3L664.5,554.8L665.3,551.8L663.2,548.8L662.5,548.4L660.6,548.8L659.5,549.0L656.5,550.8L654.7,551.8L653.5,553.8L652.7,554.8L653.5,555.3L656.5,557.4L657.4,557.8L659.5,558.1L661.1,557.8M471.4,590.8L473.4,589.4L474.5,587.8L476.4,586.0L478.1,584.8L479.4,583.6L481.0,581.8L480.6,578.8L479.4,576.4L479.0,575.8L477.5,572.8L476.8,569.8L476.4,567.3L475.7,566.8L473.4,566.2L473.0,566.8L471.1,569.8L470.4,570.9L469.7,572.8L467.9,575.8L467.4,576.4L464.7,578.8L464.4,579.0L461.6,581.8L461.4,583.2L461.3,584.8L461.4,585.5L462.0,587.8L464.4,590.6L465.1,590.8L467.4,591.3L470.4,591.5L471.4,590.8M632.2,578.8L632.5,578.2L632.8,575.8L632.5,574.4L630.6,572.8L629.5,572.4L628.5,572.8L626.5,575.6L626.4,575.8L626.5,575.9L627.7,578.8L629.5,580.7L632.2,578.8M425.4,615.1L422.4,615.6L419.4,615.3L418.1,614.8L416.4,614.0L413.8,611.8L413.4,611.3L411.8,608.8L411.2,605.8L411.5,602.8L413.1,599.8L413.4,599.4L416.4,596.9L416.7,596.8L419.4,595.6L422.4,595.8L425.1,596.8L425.4,596.9L428.4,599.8L428.4,599.8L429.5,602.8L429.9,605.8L430.0,608.8L429.4,611.8L428.4,613.1L426.2,614.8L425.4,615.1M336.1,629.8L336.8,626.8L337.0,623.8L337.3,620.8L337.8,617.8L338.4,615.4L338.8,614.8L339.9,611.8L340.2,608.8L339.2,605.8L338.4,604.9L336.2,602.8L335.4,602.3L332.4,601.8L329.4,602.0L326.4,601.9L323.4,601.5L320.4,601.8L319.3,602.8L317.4,604.7L316.9,605.8L315.7,608.8L315.2,611.8L316.3,614.8L317.4,616.2L318.4,617.8L319.9,620.8L320.4,621.8L321.3,623.8L323.3,626.8L323.4,626.9L326.4,629.1L328.0,629.8L329.4,630.3L332.4,630.8L335.4,630.3L336.1,629.8M225.1,611.8L224.6,608.8L224.4,608.6L221.4,608.1L220.9,608.8L220.6,611.8L221.4,613.1L224.4,612.8L225.1,611.8M300.0,638.8L302.4,638.2L305.4,636.8L307.2,635.8L308.4,634.5L309.9,632.8L310.7,629.8L310.5,626.8L309.5,623.8L308.4,621.7L307.9,620.8L305.4,618.6L303.7,617.8L302.4,617.4L299.4,616.9L296.4,616.9L293.4,617.2L291.5,617.8L290.4,618.5L288.3,620.8L288.4,623.8L289.2,626.8L290.0,629.8L290.4,632.0L290.6,632.8L291.7,635.8L293.4,637.3L296.4,638.7L297.1,638.8L299.4,638.9L300.0,638.8M682.7,626.8L683.5,626.2L686.4,623.8L686.5,623.6L687.1,620.8L686.5,619.4L684.6,617.8L683.5,617.2L680.5,616.8L677.5,616.7L674.5,616.6L672.0,617.8L672.2,620.8L672.6,623.8L673.2,626.8L674.5,628.5L677.5,628.9L680.5,627.9L682.7,626.8M647.5,629.8L649.7,626.8L648.2,623.8L647.5,623.2L644.5,622.2L642.7,623.8L643.6,626.8L644.5,627.9L647.4,629.8L647.5,629.8L647.5,629.8M350.3,641.8L350.4,641.3L350.7,638.8L350.4,638.4L347.4,636.2L344.4,637.0L343.8,638.8L344.4,641.8L344.4,641.8L347.4,643.9L350.3,641.8M639.9,656.8L641.0,653.8L641.1,650.8L640.6,647.8L639.4,644.8L638.5,643.6L635.5,642.5L632.5,643.2L630.8,644.8L629.6,647.8L629.9,650.8L631.3,653.8L632.5,655.1L634.6,656.8L635.5,657.4L638.5,658.2L639.9,656.8M665.8,653.8L666.7,650.8L665.5,647.8L663.8,650.8L665.2,653.8L665.5,653.9L665.8,653.8M331.9,653.8L329.4,652.7L327.8,653.8L329.4,654.4L331.9,653.8M501.2,677.8L503.4,675.6L504.1,674.8L505.8,671.8L506.4,670.2L506.9,668.8L507.5,665.8L507.5,662.8L506.6,659.8L506.4,659.6L503.4,657.8L500.4,658.2L497.9,659.8L497.4,660.0L494.4,662.7L494.4,662.8L491.7,665.8L491.4,666.3L490.5,668.8L490.3,671.8L490.9,674.8L491.4,676.4L492.3,677.8L494.4,679.6L497.4,679.8L500.4,678.4L501.2,677.8M365.1,689.8L365.4,689.6L367.6,686.8L367.2,683.8L365.4,682.0L362.4,681.1L360.1,683.8L359.4,686.0L359.3,686.8L359.4,687.1L361.3,689.8L362.4,690.3L365.1,689.8" fill="none" stroke="#414487" stroke-width="2.0" stroke-linejoin="round"/><path d="M570.2,149.8L571.7,146.8L572.5,144.8L572.8,143.8L573.7,140.8L574.3,137.8L574.3,134.8L573.1,131.8L572.5,131.0L569.5,129.0L566.5,128.9L563.5,130.9L562.8,131.8L560.8,134.8L560.5,135.3L559.2,137.8L557.9,140.8L557.5,143.1L557.3,143.8L557.5,144.8L557.8,146.8L560.0,149.8L560.5,150.1L563.5,151.6L566.5,152.0L569.5,150.8L570.2,149.8M412.3,245.8L413.4,245.2L416.0,242.8L416.4,241.5L416.9,239.8L416.8,236.8L416.4,234.9L416.2,233.8L415.3,230.8L413.4,228.3L410.4,227.9L407.4,228.8L404.4,230.3L403.6,230.8L401.4,232.2L398.4,232.9L396.8,230.8L395.4,228.5L394.5,227.8L392.4,227.1L391.5,227.8L389.9,230.8L391.5,233.8L392.4,235.1L394.0,236.8L394.7,239.8L394.9,242.8L395.4,245.8L395.4,245.8L398.4,248.0L401.4,247.8L404.4,247.2L407.4,246.8L410.4,246.3L412.3,245.8M543.2,332.8L545.5,331.6L548.4,329.8L548.5,329.7L551.5,328.2L554.5,327.5L557.5,327.0L557.8,326.8L558.9,323.8L560.5,320.9L560.5,320.8L563.5,319.1L566.3,317.8L566.5,317.6L568.2,314.8L566.5,313.4L563.5,312.3L562.8,311.8L560.5,310.2L559.7,308.8L558.6,305.8L558.5,302.8L559.1,299.8L560.3,296.8L560.5,296.5L562.0,293.8L563.5,291.3L563.8,290.8L565.5,287.8L566.5,285.6L567.0,284.8L568.6,281.8L569.5,280.2L571.4,278.8L572.5,278.1L575.5,277.0L578.5,277.3L578.9,278.8L580.3,281.8L581.5,282.6L584.5,283.7L587.5,283.9L590.5,283.4L593.5,282.3L594.4,281.8L596.5,279.9L599.5,278.9L600.7,278.8L602.5,278.7L605.5,277.9L608.5,276.4L609.3,275.8L611.5,274.1L612.8,272.8L613.9,269.8L613.4,266.8L611.5,264.0L610.9,263.8L608.5,262.9L605.5,262.8L602.5,262.8L599.5,262.7L596.5,262.8L595.0,263.8L593.5,265.5L592.3,266.8L590.5,267.6L587.5,267.7L586.0,266.8L586.7,263.8L587.5,262.4L589.2,260.8L590.5,258.5L590.9,257.8L590.5,257.4L588.5,254.8L587.5,254.3L584.5,252.8L582.9,251.8L581.5,251.0L578.5,249.0L578.0,248.8L575.5,246.9L572.5,245.8L569.5,246.1L566.5,247.6L564.4,248.8L563.5,249.4L560.5,250.8L557.5,250.9L554.5,249.5L553.7,248.8L553.0,245.8L552.1,242.8L551.5,242.1L548.5,241.6L545.5,242.1L543.4,242.8L542.5,243.2L539.5,244.9L538.0,245.8L536.5,246.9L533.5,247.8L530.5,248.4L529.7,248.8L527.5,249.5L524.5,250.9L522.9,251.8L521.5,252.5L518.5,253.8L515.5,254.3L512.5,252.9L511.6,251.8L509.4,249.9L507.9,248.8L506.4,248.0L503.4,247.6L500.4,248.3L499.8,248.8L497.7,251.8L497.6,254.8L498.3,257.8L499.8,260.8L500.4,261.3L503.4,262.0L506.4,261.8L509.4,261.6L512.5,263.6L512.5,263.8L514.4,266.8L515.5,267.9L516.7,269.8L518.5,272.1L518.9,272.8L520.2,275.8L520.6,278.8L520.1,281.8L518.8,284.8L518.5,285.3L516.5,287.8L515.5,289.0L514.0,290.8L512.5,293.8L512.5,294.3L512.0,296.8L512.5,298.7L512.7,299.8L514.5,302.8L515.5,303.9L516.8,305.8L518.3,308.8L518.5,309.2L519.1,311.8L519.3,314.8L519.2,317.8L518.5,320.6L518.4,320.8L515.5,322.6L514.0,323.8L512.5,325.3L511.6,326.8L511.9,329.8L512.5,330.4L515.5,332.2L518.5,332.4L521.5,330.6L522.6,329.8L524.5,327.4L527.5,329.0L528.2,329.8L530.5,330.7L533.5,332.1L535.3,332.8L536.5,333.1L539.5,333.6L542.5,333.2L543.2,332.8M447.6,314.8L448.3,311.8L448.0,308.8L447.3,305.8L446.4,303.9L445.7,302.8L444.3,299.8L444.5,296.8L446.4,294.3L449.4,293.8L449.4,293.7L449.5,293.8L452.4,295.0L455.4,296.5L456.1,296.8L458.4,297.4L461.4,297.4L463.7,296.8L464.4,296.5L467.4,294.7L468.7,293.8L470.4,291.0L470.6,290.8L470.8,287.8L471.0,284.8L472.1,281.8L473.4,278.9L473.5,278.8L474.7,275.8L476.1,272.8L476.4,272.1L479.1,269.8L479.4,269.4L482.4,268.9L484.5,269.8L485.4,270.1L488.4,272.2L489.3,272.8L491.4,274.6L494.2,272.8L494.4,272.4L495.1,269.8L495.1,266.8L494.4,265.9L491.4,264.0L490.9,263.8L488.4,262.8L485.7,260.8L485.4,260.4L484.0,257.8L482.4,255.3L482.1,254.8L479.4,252.8L477.9,251.8L476.4,251.1L473.4,250.5L470.4,251.0L468.5,251.8L467.4,252.2L464.4,253.7L462.8,254.8L461.4,255.6L459.1,257.8L458.4,258.4L456.1,260.8L455.4,261.4L452.4,263.4L451.4,263.8L449.4,264.5L446.4,265.0L443.4,265.1L440.4,264.7L437.4,265.3L436.5,266.8L435.9,269.8L435.5,272.8L435.0,275.8L434.5,278.8L434.4,279.1L434.2,281.8L434.1,284.8L433.9,287.8L433.6,290.8L433.0,293.8L432.4,296.8L432.2,299.8L433.7,302.8L434.4,303.4L437.4,305.7L437.5,305.8L439.8,308.8L440.4,309.6L442.0,311.8L443.4,313.9L445.0,314.8L446.4,315.6L447.6,314.8M542.5,277.8L539.5,276.6L538.6,275.8L536.5,274.3L534.6,272.8L533.5,271.7L531.7,269.8L530.6,266.8L530.7,263.8L531.6,260.8L533.2,257.8L533.5,257.3L535.4,254.8L536.5,253.2L539.5,252.0L542.5,251.8L545.5,251.9L548.5,252.9L549.8,254.8L550.3,257.8L550.2,260.8L549.9,263.8L549.4,266.8L548.5,269.4L548.3,269.8L547.0,272.8L545.5,275.6L545.3,275.8L542.5,277.8M378.3,266.8L380.4,265.4L380.9,263.8L380.4,262.9L379.4,260.8L377.5,257.8L377.4,257.6L374.4,256.4L372.7,257.8L371.8,260.8L373.1,263.8L374.4,265.6L377.1,266.8L377.4,266.9L378.3,266.8M650.6,275.8L651.0,272.8L650.7,269.8L650.5,269.0L649.1,266.8L647.5,264.8L644.5,265.0L643.6,266.8L643.2,269.8L643.2,272.8L643.8,275.8L644.5,276.6L647.5,278.2L650.5,276.2L650.6,275.8M371.6,278.8L371.4,278.3L371.4,278.8L371.4,278.9L371.6,278.8M583.4,308.8L584.5,308.6L587.5,306.7L588.3,305.8L588.7,302.8L587.5,299.8L587.5,299.6L584.8,296.8L584.5,296.4L581.5,295.4L579.1,296.8L578.5,297.2L576.9,299.8L575.9,302.8L576.1,305.8L578.5,308.5L579.4,308.8L581.5,309.0L583.4,308.8M610.4,299.8L609.0,296.8L608.5,296.3L605.5,296.1L604.6,296.8L604.1,299.8L605.5,301.5L608.5,302.4L610.4,299.8M662.8,368.8L663.3,365.8L663.2,362.8L663.2,359.8L663.3,356.8L663.3,353.8L663.6,350.8L664.4,347.8L665.5,345.3L665.6,344.8L666.2,341.8L665.7,338.8L665.5,338.3L664.1,335.8L662.5,333.5L661.9,332.8L659.9,329.8L659.5,328.7L658.5,326.8L658.1,323.8L658.2,320.8L657.7,317.8L656.5,316.4L654.0,314.8L653.5,314.6L650.5,313.1L648.4,311.8L647.5,311.2L644.5,309.1L643.9,308.8L641.5,307.6L638.5,307.0L635.5,307.3L632.8,308.8L632.5,309.0L629.5,311.8L629.5,311.8L626.5,313.7L623.5,314.7L623.2,314.8L620.5,316.0L618.6,317.8L618.0,320.8L619.3,323.8L620.5,325.9L621.1,326.8L622.2,329.8L621.4,332.8L620.5,333.8L619.4,335.8L618.7,338.8L618.8,341.8L618.5,344.8L617.5,346.8L616.9,347.8L614.5,349.7L611.5,350.6L610.1,350.8L608.5,350.9L605.5,351.2L602.5,351.7L599.5,352.6L597.0,353.8L596.5,354.3L593.5,356.3L590.5,356.5L587.5,355.9L584.5,355.3L581.5,353.9L581.3,353.8L578.9,350.8L578.5,350.0L577.3,347.8L575.7,344.8L575.5,344.4L572.5,342.5L569.5,344.2L569.2,344.8L567.5,347.8L566.5,350.6L566.4,350.8L565.9,353.8L565.6,356.8L565.4,359.8L565.5,362.8L566.1,365.8L566.5,366.5L569.5,366.3L569.9,365.8L572.5,363.6L573.6,362.8L575.5,361.6L578.5,360.8L581.5,361.4L583.5,362.8L584.5,363.1L587.5,363.4L589.2,362.8L590.5,361.6L593.5,360.0L596.5,360.3L599.5,361.4L602.5,362.6L602.9,362.8L605.5,363.4L608.5,363.3L609.5,362.8L611.5,361.7L614.2,359.8L614.5,359.5L617.5,357.4L618.6,356.8L620.5,355.3L622.6,353.8L623.5,352.9L625.7,350.8L626.5,349.5L627.8,347.8L628.4,344.8L628.6,341.8L628.7,338.8L628.8,335.8L629.3,332.8L629.5,332.6L632.5,332.4L632.8,332.8L635.5,334.5L636.9,335.8L638.5,336.9L640.1,338.8L641.5,340.7L642.1,341.8L643.2,344.8L642.1,347.8L641.5,348.1L638.5,349.1L636.3,350.8L636.3,353.8L637.5,356.8L638.5,358.3L639.7,359.8L641.5,360.8L644.5,361.4L647.5,361.2L650.5,360.7L653.5,361.1L654.9,362.8L655.8,365.8L656.5,367.7L657.1,368.8L659.5,370.8L662.5,369.5L662.8,368.8M474.3,326.8L476.4,324.4L476.9,323.8L478.4,320.8L477.5,317.8L476.4,317.3L473.4,317.6L473.0,317.8L470.4,319.6L468.8,320.8L467.4,323.5L467.3,323.8L467.4,324.8L467.8,326.8L470.4,329.1L473.4,327.8L474.3,326.8M719.6,341.8L722.5,339.7L723.8,338.8L725.5,337.7L728.5,336.3L730.0,335.8L731.5,334.6L732.9,332.8L732.1,329.8L731.5,328.8L729.5,326.8L728.5,326.2L725.5,325.4L722.5,325.7L719.6,326.8L719.5,326.8L716.5,329.5L716.2,329.8L714.5,332.8L713.5,335.8L713.5,338.8L715.8,341.8L716.5,342.2L719.5,341.9L719.6,341.8M452.6,356.8L452.4,356.5L451.7,353.8L449.4,351.2L449.2,350.8L447.0,347.8L446.4,347.0L445.0,344.8L443.5,341.8L443.4,341.7L441.8,338.8L440.4,336.0L440.3,335.8L438.4,332.8L437.4,331.8L434.4,330.2L431.4,330.0L428.4,331.1L425.8,332.8L425.4,333.0L422.4,334.9L420.6,335.8L419.4,336.6L416.4,338.6L416.3,338.8L416.3,341.8L416.4,341.8L419.4,343.3L422.4,344.0L425.4,344.2L428.4,344.4L430.4,344.8L431.4,345.0L434.4,347.1L435.1,347.8L436.0,350.8L435.8,353.8L435.9,356.8L437.4,357.7L440.4,357.6L443.4,357.4L446.4,357.3L449.4,357.2L452.4,356.9L452.6,356.8M285.0,344.8L284.4,343.6L281.4,343.8L280.9,344.8L281.4,345.3L284.4,345.3L285.0,344.8M518.2,353.8L518.5,353.5L519.4,350.8L518.6,347.8L518.5,347.5L516.8,344.8L515.5,342.8L512.5,342.4L509.4,344.0L508.6,344.8L507.0,347.8L507.7,350.8L509.4,353.0L510.6,353.8L512.5,354.6L515.5,354.6L518.2,353.8M791.0,422.8L790.5,419.8L789.6,416.8L788.5,413.8L788.4,413.8L786.5,410.8L785.5,409.2L782.6,407.8L782.5,407.7L781.9,407.8L779.5,408.1L776.5,409.3L773.5,410.0L770.5,409.3L768.9,407.8L767.5,406.4L766.2,404.8L764.5,403.3L762.8,401.8L761.5,400.6L759.3,398.8L758.5,397.5L757.3,395.8L757.2,392.8L758.5,390.0L758.6,389.8L760.9,386.8L761.5,386.1L764.5,384.1L765.1,383.8L767.5,382.1L768.6,380.8L770.2,377.8L770.5,376.6L770.8,374.8L770.5,371.8L770.5,371.7L769.7,368.8L769.0,365.8L769.4,362.8L770.5,361.9L773.2,359.8L773.5,359.6L776.1,356.8L774.9,353.8L773.5,352.9L770.5,353.0L767.8,353.8L767.5,354.0L765.6,356.8L765.5,359.8L764.5,362.1L764.3,362.8L761.5,365.4L761.1,365.8L758.5,368.4L758.1,368.8L756.0,371.8L755.5,372.8L752.5,374.7L749.5,373.9L746.5,372.6L743.5,372.6L740.5,374.6L740.3,374.8L737.5,377.8L737.5,377.8L734.5,380.6L733.8,380.8L734.5,381.7L734.9,383.8L736.7,386.8L735.8,389.8L734.8,392.8L734.8,395.8L736.3,398.8L737.5,400.1L738.6,401.8L740.5,404.4L740.7,404.8L742.0,407.8L743.2,410.8L743.5,411.4L745.0,413.8L746.5,415.3L749.5,416.6L750.1,416.8L752.5,417.4L755.5,418.1L758.5,418.7L761.5,419.3L764.2,419.8L764.5,419.8L767.5,420.1L770.5,420.4L773.5,421.0L776.5,421.9L778.7,422.8L779.5,423.0L782.5,423.7L785.5,424.2L788.5,424.3L791.0,422.8M455.5,413.8L458.4,411.2L458.7,410.8L459.6,407.8L460.2,404.8L461.2,401.8L461.4,401.1L463.9,398.8L464.4,398.2L467.4,398.2L469.3,398.8L470.4,399.0L473.4,399.7L476.4,400.0L479.4,399.6L482.4,399.1L483.9,398.8L485.4,398.3L488.4,397.1L490.4,395.8L491.4,392.8L490.3,389.8L488.4,387.1L488.0,386.8L485.5,383.8L485.4,383.7L482.4,381.8L480.8,383.8L479.4,384.3L476.4,384.6L473.4,384.1L470.4,384.8L468.5,386.8L467.4,387.7L465.8,389.8L464.4,391.5L461.9,392.8L461.4,393.0L461.1,392.8L458.4,391.7L456.5,389.8L455.4,388.4L454.4,386.8L453.4,383.8L454.2,380.8L455.4,379.5L457.2,377.8L458.4,376.6L460.1,374.8L461.2,371.8L461.0,368.8L459.9,365.8L458.5,362.8L458.4,362.7L455.4,361.7L455.2,362.8L453.0,365.8L452.4,366.1L450.5,368.8L449.4,369.8L447.6,371.8L446.4,373.2L444.7,374.8L443.4,377.1L442.9,377.8L443.0,380.8L442.8,383.8L441.8,386.8L440.7,389.8L440.4,390.5L439.7,392.8L439.3,395.8L439.8,398.8L440.4,400.6L440.8,401.8L441.8,404.8L443.4,407.6L443.6,407.8L446.4,410.0L447.5,410.8L449.4,411.9L452.4,413.4L455.4,413.8L455.4,413.8L455.5,413.8M509.6,377.8L512.5,377.3L515.5,376.3L517.6,374.8L517.3,371.8L515.6,368.8L515.5,368.6L513.0,365.8L512.5,365.2L509.4,363.3L506.4,363.6L503.4,365.7L503.4,365.8L501.7,368.8L501.5,371.8L503.1,374.8L503.4,375.1L506.4,377.3L509.3,377.8L509.4,377.8L509.6,377.8M815.3,377.8L815.5,377.4L816.3,374.8L815.7,371.8L815.5,371.5L812.8,368.8L812.5,368.5L809.5,368.0L806.5,368.8L806.5,368.8L803.7,371.8L803.6,374.8L804.5,377.8L806.5,379.7L809.5,380.6L812.5,379.8L815.3,377.8M726.0,383.8L728.5,380.8L728.7,380.8L728.5,380.7L725.5,378.3L724.9,377.8L722.5,376.1L719.5,376.6L718.6,377.8L716.5,379.8L715.8,380.8L714.1,383.8L716.5,386.1L719.5,386.2L722.5,385.2L725.5,383.9L726.0,383.8M407.9,587.8L410.4,585.3L410.6,584.8L411.2,581.8L412.2,578.8L413.2,575.8L413.4,572.8L411.6,569.8L410.4,568.9L408.6,566.8L407.4,565.4L406.5,563.8L405.2,560.8L404.4,558.4L404.2,557.8L403.4,554.8L402.9,551.8L403.6,548.8L404.4,547.5L405.9,545.8L407.4,543.9L408.5,542.8L410.3,539.8L410.4,539.6L413.1,536.8L413.4,536.5L416.4,535.3L419.4,536.0L420.2,536.8L422.4,539.2L422.9,539.8L424.5,542.8L423.8,545.8L422.4,547.1L421.1,548.8L420.4,551.8L422.0,554.8L422.4,555.1L425.4,556.2L428.4,556.3L431.4,555.4L432.4,554.8L434.4,553.2L436.2,551.8L437.4,549.7L437.9,548.8L437.5,545.8L437.4,545.5L436.7,542.8L437.4,541.6L438.4,539.8L440.4,538.4L443.2,536.8L443.4,536.6L446.4,535.1L449.1,533.8L449.4,533.5L452.4,531.9L454.5,530.8L455.4,530.1L458.3,527.8L458.4,527.6L460.3,524.8L460.5,521.8L459.1,518.8L458.4,518.0L455.4,516.0L452.4,515.8L449.4,516.3L446.4,516.8L443.4,516.7L440.4,515.8L440.4,515.8L437.4,514.3L435.0,512.8L434.4,512.5L431.4,511.1L428.4,509.9L427.7,509.8L425.4,509.0L422.4,508.2L420.2,506.8L419.4,506.5L416.4,504.5L416.0,503.8L413.4,501.0L413.3,500.8L411.4,497.8L410.4,496.0L409.8,494.8L408.5,491.8L407.5,488.8L407.4,488.5L406.3,485.8L405.0,482.8L404.4,481.5L403.3,479.8L401.7,476.8L401.4,476.1L400.5,473.8L399.8,470.8L399.9,467.8L401.2,464.8L401.4,464.5L404.4,462.1L404.8,461.8L405.8,458.8L405.5,455.8L404.5,452.8L404.4,452.7L401.4,450.7L399.1,449.8L398.4,449.6L395.4,447.9L394.2,446.8L392.4,445.0L391.3,443.8L389.4,440.9L389.3,440.8L388.1,437.8L388.7,434.8L389.4,433.5L390.3,431.8L391.4,428.8L391.6,425.8L390.9,422.8L389.5,419.8L389.4,419.7L386.6,416.8L386.4,416.7L383.4,414.7L382.3,413.8L380.4,412.0L379.2,410.8L377.4,409.6L374.4,408.7L371.4,408.8L368.4,410.3L368.0,410.8L366.6,413.8L367.4,416.8L368.4,417.9L370.5,419.8L371.4,420.3L374.4,421.7L376.3,422.8L377.4,423.6L379.1,425.8L380.1,428.8L380.4,431.8L378.6,434.8L377.4,435.2L374.4,435.6L371.4,435.6L368.4,436.2L366.4,437.8L365.4,438.7L364.3,440.8L363.1,443.8L362.4,445.2L361.8,446.8L360.5,449.8L359.5,452.8L359.4,453.5L359.2,455.8L359.4,456.7L360.0,458.8L362.2,461.8L362.4,462.0L365.4,463.1L368.4,463.1L371.4,462.5L373.2,461.8L374.4,461.3L377.4,459.7L379.6,461.8L378.2,464.8L377.4,466.2L376.6,467.8L375.3,470.8L374.4,472.3L372.7,473.8L371.4,474.4L368.4,474.7L365.4,474.9L362.4,475.4L359.4,475.8L356.4,476.1L353.6,476.8L353.4,476.8L350.4,479.7L350.4,479.8L349.0,482.8L347.9,485.8L347.7,488.8L350.4,491.2L350.9,491.8L353.4,493.2L356.4,493.7L359.4,493.0L362.4,491.8L362.8,491.8L365.4,490.8L368.4,490.6L371.4,491.5L371.9,491.8L374.4,493.2L376.2,494.8L377.4,496.8L377.9,497.8L378.6,500.8L378.6,503.8L378.3,506.8L377.8,509.8L377.4,510.9L376.4,512.8L374.4,515.1L373.1,515.8L371.4,516.9L368.5,518.8L368.4,518.8L365.4,520.7L362.4,520.5L359.4,520.2L356.4,520.9L355.4,521.8L353.4,523.5L352.8,524.8L352.0,527.8L352.5,530.8L353.4,532.4L354.4,533.8L356.4,536.0L357.5,536.8L359.4,538.3L362.4,539.5L364.0,539.8L365.4,540.0L368.4,540.4L371.4,541.0L374.4,541.2L377.4,541.0L380.4,540.5L383.3,539.8L383.4,539.7L386.4,536.8L386.5,536.8L389.4,534.3L392.4,534.0L395.4,536.1L395.8,536.8L395.5,539.8L395.4,539.8L393.5,542.8L392.4,544.0L391.0,545.8L389.4,548.1L389.1,548.8L386.4,551.0L385.1,551.8L383.4,552.4L380.4,554.0L379.8,554.8L378.0,557.8L377.6,560.8L378.7,563.8L380.4,565.7L382.0,566.8L383.4,567.7L385.8,569.8L386.4,570.7L387.3,572.8L387.7,575.8L387.7,578.8L388.8,581.8L389.4,582.2L392.4,583.9L395.1,584.8L395.4,584.8L398.4,585.5L401.4,586.2L404.4,587.1L407.0,587.8L407.4,587.9L407.9,587.8M405.0,425.8L404.4,425.3L404.1,425.8L404.4,426.0L405.0,425.8M238.3,443.8L239.2,440.8L239.3,437.8L238.8,434.8L237.4,431.8L236.4,430.6L233.4,430.3L230.9,431.8L230.4,432.0L227.9,434.8L227.4,435.4L226.3,437.8L226.1,440.8L227.4,443.6L227.6,443.8L230.4,445.8L233.4,446.7L236.4,446.1L238.3,443.8M673.7,470.8L673.1,467.8L671.5,465.9L670.7,464.8L668.5,462.3L667.8,461.8L665.5,460.0L662.5,459.6L660.5,461.8L660.0,464.8L661.2,467.8L662.5,469.5L663.9,470.8L665.5,472.0L668.5,472.9L671.5,472.4L673.7,470.8M340.9,494.8L341.4,494.2L343.8,491.8L344.4,489.9L346.6,488.8L344.4,487.4L343.8,485.8L341.4,483.5L340.9,482.8L339.0,479.8L338.4,479.0L336.9,476.8L335.4,475.2L333.0,473.8L332.4,473.4L329.4,473.3L328.9,473.8L327.1,476.8L327.0,479.8L327.9,482.8L329.1,485.8L329.4,486.8L330.0,488.8L330.8,491.8L331.7,494.8L332.4,496.1L335.4,497.6L338.4,496.7L340.9,494.8M591.4,479.8L591.3,476.8L590.5,475.8L587.5,474.3L584.5,475.0L583.4,476.8L584.5,478.3L585.7,479.8L587.5,480.8L590.5,480.7L591.4,479.8M230.6,494.8L230.4,494.4L230.2,494.8L230.4,495.1L230.6,494.8M614.8,497.8L615.6,494.8L614.5,493.3L611.5,493.8L610.3,494.8L609.5,497.8L611.5,499.2L614.5,498.2L614.8,497.8M419.4,517.2L416.4,517.2L415.3,515.8L415.1,512.8L416.4,511.2L419.4,511.6L420.1,512.8L420.2,515.8L419.4,517.2M267.1,539.8L268.2,536.8L266.7,533.8L266.4,533.7L266.4,533.8L264.3,536.8L263.4,537.9L262.8,539.8L263.4,541.6L266.4,540.5L267.1,539.8M473.1,614.8L473.4,614.4L475.3,611.8L476.4,609.2L476.7,608.8L477.0,605.8L476.4,604.6L473.4,602.9L470.4,603.0L467.4,603.1L464.4,603.0L461.4,603.1L458.4,604.4L456.8,605.8L458.2,608.8L458.4,608.9L460.8,611.8L461.4,612.4L463.7,614.8L464.4,615.3L467.4,616.5L470.4,616.2L473.1,614.8M433.0,644.8L434.4,644.5L437.4,644.3L440.4,644.0L443.4,643.1L445.2,641.8L446.4,640.6L448.0,638.8L449.4,636.6L450.2,635.8L451.9,632.8L452.4,630.5L452.7,629.8L452.4,628.3L452.3,626.8L451.4,623.8L450.5,620.8L450.0,617.8L449.9,614.8L450.3,611.8L450.7,608.8L449.4,607.6L446.4,606.5L443.4,606.4L440.4,606.9L437.4,608.5L437.3,608.8L436.5,611.8L435.6,614.8L434.4,616.4L433.0,617.8L431.4,618.6L428.4,619.1L425.4,619.4L422.4,619.6L419.4,619.8L416.4,619.4L413.4,618.1L412.7,617.8L410.4,616.7L408.3,617.8L408.7,620.8L409.6,623.8L410.2,626.8L410.2,629.8L410.1,632.8L410.4,635.1L410.6,635.8L413.4,637.7L415.5,638.8L416.4,639.1L419.4,640.4L421.8,641.8L422.4,642.2L425.4,643.9L427.9,644.8L428.4,644.9L431.4,644.9L433.0,644.8M330.7,620.8L330.6,617.8L329.7,614.8L329.4,614.2L326.4,613.1L325.4,614.8L325.5,617.8L326.1,620.8L326.4,621.3L329.4,623.0L330.7,620.8M303.3,629.8L303.4,626.8L302.4,624.9L301.5,623.8L299.4,622.5L296.4,622.9L295.7,623.8L295.5,626.8L296.4,629.8L296.4,629.9L299.4,632.0L302.4,630.8L303.3,629.8M500.5,671.8L502.5,668.8L503.4,666.7L503.7,665.8L503.4,663.9L502.5,662.8L500.4,662.4L499.8,662.8L497.4,664.5L496.3,665.8L494.6,668.8L495.3,671.8L497.4,673.2L500.4,671.8L500.5,671.8" fill="none" stroke="#440154" stroke-width="2.0" stroke-linejoin="round"/></g>
<clipPath id="cm2"><rect x="979.45" y="101.75" width="727.90" height="727.50"/></clipPath><filter id="bl2" x="-5%" y="-5%" width="110%" height="110%"><feGaussianBlur stdDeviation="8"/></filter><g clip-path="url(#cm2)"><g filter="url(#bl2)"><rect x="955.2" y="67.1" width="73.4" height="24.9" fill="#f09028"/><rect x="1028.0" y="67.1" width="24.9" height="24.9" fill="#b8f478"/><rect x="1052.3" y="67.1" width="170.5" height="24.9" fill="#80f682"/><rect x="1222.2" y="67.1" width="24.9" height="24.9" fill="#b8f478"/><rect x="1246.4" y="67.1" width="24.9" height="24.9" fill="#f8f080"/><rect x="1270.7" y="67.1" width="24.9" height="24.9" fill="#80f682"/><rect x="1295.0" y="67.1" width="49.1" height="24.9" fill="#b8f478"/><rect x="1343.5" y="67.1" width="49.1" height="24.9" fill="#f8f080"/><rect x="1392.0" y="67.1" width="73.4" height="24.9" fill="#f8d068"/><rect x="1464.8" y="67.1" width="49.1" height="24.9" fill="#f8b048"/><rect x="1513.4" y="67.1" width="73.4" height="24.9" fill="#f09028"/><rect x="1586.2" y="67.1" width="24.9" height="24.9" fill="#f8b048"/><rect x="1610.5" y="67.1" width="24.9" height="24.9" fill="#f8d068"/><rect x="1634.7" y="67.1" width="24.9" height="24.9" fill="#f8f080"/><rect x="1659.0" y="67.1" width="24.9" height="24.9" fill="#f09028"/><rect x="1683.3" y="67.1" width="49.1" height="24.9" fill="#d86818"/><rect x="955.2" y="91.3" width="73.4" height="24.9" fill="#f09028"/><rect x="1028.0" y="91.3" width="24.9" height="24.9" fill="#b8f478"/><rect x="1052.3" y="91.3" width="170.5" height="24.9" fill="#80f682"/><rect x="1222.2" y="91.3" width="24.9" height="24.9" fill="#b8f478"/><rect x="1246.4" y="91.3" width="24.9" height="24.9" fill="#f8f080"/><rect x="1270.7" y="91.3" width="24.9" height="24.9" fill="#80f682"/><rect x="1295.0" y="91.3" width="49.1" height="24.9" fill="#b8f478"/><rect x="1343.5" y="91.3" width="49.1" height="24.9" fill="#f8f080"/><rect x="1392.0" y="91.3" width="73.4" height="24.9" fill="#f8d068"/><rect x="1464.8" y="91.3" width="49.1" height="24.9" fill="#f8b048"/><rect x="1513.4" y="91.3" width="73.4" height="24.9" fill="#f09028"/><rect x="1586.2" y="91.3" width="24.9" height="24.9" fill="#f8b048"/><rect x="1610.5" y="91.3" width="24.9" height="24.9" fill="#f8d068"/><rect x="1634.7" y="91.3" width="24.9" height="24.9" fill="#f8f080"/><rect x="1659.0" y="91.3" width="24.9" height="24.9" fill="#f09028"/><rect x="1683.3" y="91.3" width="49.1" height="24.9" fill="#d86818"/><rect x="955.2" y="115.6" width="73.4" height="24.9" fill="#d86818"/><rect x="1028.0" y="115.6" width="24.9" height="24.9" fill="#b8f478"/><rect x="1052.3" y="115.6" width="97.7" height="24.9" fill="#80f682"/><rect x="1149.3" y="115.6" width="49.1" height="24.9" fill="#b8f478"/><rect x="1197.9" y="115.6" width="24.9" height="24.9" fill="#f8f080"/><rect x="1222.2" y="115.6" width="24.9" height="24.9" fill="#f8d068"/><rect x="1246.4" y="115.6" width="24.9" height="24.9" fill="#80f682"/><rect x="1270.7" y="115.6" width="24.9" height="24.9" fill="#b8f478"/><rect x="1295.0" y="115.6" width="24.9" height="24.9" fill="#f8f080"/><rect x="1319.2" y="115.6" width="49.1" height="24.9" fill="#f8d068"/><rect x="1367.8" y="115.6" width="24.9" height="24.9" fill="#f8b048"/><rect x="1392.0" y="115.6" width="24.9" height="24.9" fill="#f09028"/><rect x="1416.3" y="115.6" width="24.9" height="24.9" fill="#d86818"/><rect x="1440.6" y="115.6" width="24.9" height="24.9" fill="#b03810"/><rect x="1464.8" y="115.6" width="73.4" height="24.9" fill="#f09028"/><rect x="1537.7" y="115.6" width="24.9" height="24.9" fill="#f8b048"/><rect x="1561.9" y="115.6" width="24.9" height="24.9" fill="#f09028"/><rect x="1586.2" y="115.6" width="24.9" height="24.9" fill="#f8d068"/><rect x="1610.5" y="115.6" width="24.9" height="24.9" fill="#b8f478"/><rect x="1634.7" y="115.6" width="24.9" height="24.9" fill="#80f682"/><rect x="1659.0" y="115.6" width="24.9" height="24.9" fill="#d86818"/><rect x="1683.3" y="115.6" width="49.1" height="24.9" fill="#f09028"/><rect x="955.2" y="139.9" width="73.4" height="24.9" fill="#b03810"/><rect x="1028.0" y="139.9" width="24.9" height="24.9" fill="#b8f478"/><rect x="1052.3" y="139.9" width="73.4" height="24.9" fill="#80f682"/><rect x="1125.1" y="139.9" width="49.1" height="24.9" fill="#b8f478"/><rect x="1173.6" y="139.9" width="24.9" height="24.9" fill="#f8f080"/><rect x="1197.9" y="139.9" width="24.9" height="24.9" fill="#f8d068"/><rect x="1222.2" y="139.9" width="24.9" height="24.9" fill="#f8f080"/><rect x="1246.4" y="139.9" width="24.9" height="24.9" fill="#f8d068"/><rect x="1270.7" y="139.9" width="24.9" height="24.9" fill="#f8b048"/><rect x="1295.0" y="139.9" width="49.1" height="24.9" fill="#f09028"/><rect x="1343.5" y="139.9" width="24.9" height="24.9" fill="#d86818"/><rect x="1367.8" y="139.9" width="49.1" height="24.9" fill="#f09028"/><rect x="1416.3" y="139.9" width="24.9" height="24.9" fill="#800000"/><rect x="1440.6" y="139.9" width="24.9" height="24.9" fill="#901008"/><rect x="1464.8" y="139.9" width="24.9" height="24.9" fill="#f09028"/><rect x="1489.1" y="139.9" width="49.1" height="24.9" fill="#b03810"/><rect x="1537.7" y="139.9" width="24.9" height="24.9" fill="#d86818"/><rect x="1561.9" y="139.9" width="24.9" height="24.9" fill="#b03810"/><rect x="1586.2" y="139.9" width="24.9" height="24.9" fill="#f09028"/><rect x="1610.5" y="139.9" width="49.1" height="24.9" fill="#80f682"/><rect x="1659.0" y="139.9" width="24.9" height="24.9" fill="#b8f478"/><rect x="1683.3" y="139.9" width="49.1" height="24.9" fill="#d86818"/><rect x="955.2" y="164.2" width="49.1" height="24.9" fill="#d86818"/><rect x="1003.7" y="164.2" width="24.9" height="24.9" fill="#f8d068"/><rect x="1028.0" y="164.2" width="97.7" height="24.9" fill="#80f682"/><rect x="1125.1" y="164.2" width="24.9" height="24.9" fill="#b8f478"/><rect x="1149.3" y="164.2" width="24.9" height="24.9" fill="#f8f080"/><rect x="1173.6" y="164.2" width="24.9" height="24.9" fill="#f09028"/><rect x="1197.9" y="164.2" width="24.9" height="24.9" fill="#f8f080"/><rect x="1222.2" y="164.2" width="24.9" height="24.9" fill="#f09028"/><rect x="1246.4" y="164.2" width="24.9" height="24.9" fill="#b03810"/><rect x="1270.7" y="164.2" width="24.9" height="24.9" fill="#d86818"/><rect x="1295.0" y="164.2" width="24.9" height="24.9" fill="#b03810"/><rect x="1319.2" y="164.2" width="73.4" height="24.9" fill="#f09028"/><rect x="1392.0" y="164.2" width="24.9" height="24.9" fill="#901008"/><rect x="1416.3" y="164.2" width="24.9" height="24.9" fill="#f09028"/><rect x="1440.6" y="164.2" width="24.9" height="24.9" fill="#d86818"/><rect x="1464.8" y="164.2" width="49.1" height="24.9" fill="#901008"/><rect x="1513.4" y="164.2" width="49.1" height="24.9" fill="#800000"/><rect x="1561.9" y="164.2" width="24.9" height="24.9" fill="#901008"/><rect x="1586.2" y="164.2" width="24.9" height="24.9" fill="#f09028"/><rect x="1610.5" y="164.2" width="49.1" height="24.9" fill="#b8f478"/><rect x="1659.0" y="164.2" width="73.4" height="24.9" fill="#f8d068"/><rect x="955.2" y="188.4" width="49.1" height="24.9" fill="#f8b048"/><rect x="1003.7" y="188.4" width="24.9" height="24.9" fill="#f8d068"/><rect x="1028.0" y="188.4" width="49.1" height="24.9" fill="#80f682"/><rect x="1076.5" y="188.4" width="49.1" height="24.9" fill="#b8f478"/><rect x="1125.1" y="188.4" width="24.9" height="24.9" fill="#f8d068"/><rect x="1149.3" y="188.4" width="24.9" height="24.9" fill="#f09028"/><rect x="1173.6" y="188.4" width="24.9" height="24.9" fill="#d86818"/><rect x="1197.9" y="188.4" width="24.9" height="24.9" fill="#f8f080"/><rect x="1222.2" y="188.4" width="24.9" height="24.9" fill="#b03810"/><rect x="1246.4" y="188.4" width="24.9" height="24.9" fill="#901008"/><rect x="1270.7" y="188.4" width="24.9" height="24.9" fill="#800000"/><rect x="1295.0" y="188.4" width="24.9" height="24.9" fill="#b03810"/><rect x="1319.2" y="188.4" width="24.9" height="24.9" fill="#f09028"/><rect x="1343.5" y="188.4" width="49.1" height="24.9" fill="#f8b048"/><rect x="1392.0" y="188.4" width="24.9" height="24.9" fill="#f8d068"/><rect x="1416.3" y="188.4" width="49.1" height="24.9" fill="#f8f080"/><rect x="1464.8" y="188.4" width="24.9" height="24.9" fill="#901008"/><rect x="1489.1" y="188.4" width="97.7" height="24.9" fill="#800000"/><rect x="1586.2" y="188.4" width="24.9" height="24.9" fill="#b03810"/><rect x="1610.5" y="188.4" width="121.9" height="24.9" fill="#f8b048"/><rect x="955.2" y="212.7" width="49.1" height="24.9" fill="#f8d068"/><rect x="1003.7" y="212.7" width="24.9" height="24.9" fill="#f8f080"/><rect x="1028.0" y="212.7" width="49.1" height="24.9" fill="#80f682"/><rect x="1076.5" y="212.7" width="24.9" height="24.9" fill="#b8f478"/><rect x="1100.8" y="212.7" width="24.9" height="24.9" fill="#f8d068"/><rect x="1125.1" y="212.7" width="24.9" height="24.9" fill="#f09028"/><rect x="1149.3" y="212.7" width="49.1" height="24.9" fill="#d86818"/><rect x="1197.9" y="212.7" width="24.9" height="24.9" fill="#b03810"/><rect x="1222.2" y="212.7" width="73.4" height="24.9" fill="#800000"/><rect x="1295.0" y="212.7" width="24.9" height="24.9" fill="#901008"/><rect x="1319.2" y="212.7" width="24.9" height="24.9" fill="#f8b048"/><rect x="1343.5" y="212.7" width="24.9" height="24.9" fill="#f09028"/><rect x="1367.8" y="212.7" width="24.9" height="24.9" fill="#d86818"/><rect x="1392.0" y="212.7" width="24.9" height="24.9" fill="#b03810"/><rect x="1416.3" y="212.7" width="49.1" height="24.9" fill="#f09028"/><rect x="1464.8" y="212.7" width="24.9" height="24.9" fill="#f8b048"/><rect x="1489.1" y="212.7" width="24.9" height="24.9" fill="#f09028"/><rect x="1513.4" y="212.7" width="24.9" height="24.9" fill="#901008"/><rect x="1537.7" y="212.7" width="24.9" height="24.9" fill="#800000"/><rect x="1561.9" y="212.7" width="24.9" height="24.9" fill="#901008"/><rect x="1586.2" y="212.7" width="24.9" height="24.9" fill="#f09028"/><rect x="1610.5" y="212.7" width="49.1" height="24.9" fill="#b8f478"/><rect x="1659.0" y="212.7" width="24.9" height="24.9" fill="#f8d068"/><rect x="1683.3" y="212.7" width="49.1" height="24.9" fill="#f09028"/><rect x="955.2" y="237.0" width="73.4" height="24.9" fill="#b8f478"/><rect x="1028.0" y="237.0" width="49.1" height="24.9" fill="#80f682"/><rect x="1076.5" y="237.0" width="24.9" height="24.9" fill="#b8f478"/><rect x="1100.8" y="237.0" width="24.9" height="24.9" fill="#f8b048"/><rect x="1125.1" y="237.0" width="24.9" height="24.9" fill="#d86818"/><rect x="1149.3" y="237.0" width="24.9" height="24.9" fill="#b03810"/><rect x="1173.6" y="237.0" width="24.9" height="24.9" fill="#f09028"/><rect x="1197.9" y="237.0" width="24.9" height="24.9" fill="#b03810"/><rect x="1222.2" y="237.0" width="73.4" height="24.9" fill="#800000"/><rect x="1295.0" y="237.0" width="24.9" height="24.9" fill="#f09028"/><rect x="1319.2" y="237.0" width="24.9" height="24.9" fill="#901008"/><rect x="1343.5" y="237.0" width="219.0" height="24.9" fill="#800000"/><rect x="1561.9" y="237.0" width="24.9" height="24.9" fill="#b03810"/><rect x="1586.2" y="237.0" width="24.9" height="24.9" fill="#f09028"/><rect x="1610.5" y="237.0" width="24.9" height="24.9" fill="#f8d068"/><rect x="1634.7" y="237.0" width="24.9" height="24.9" fill="#f8f080"/><rect x="1659.0" y="237.0" width="24.9" height="24.9" fill="#b8f478"/><rect x="1683.3" y="237.0" width="49.1" height="24.9" fill="#f8d068"/><rect x="955.2" y="261.2" width="49.1" height="24.9" fill="#f09028"/><rect x="1003.7" y="261.2" width="24.9" height="24.9" fill="#f8f080"/><rect x="1028.0" y="261.2" width="24.9" height="24.9" fill="#80f682"/><rect x="1052.3" y="261.2" width="24.9" height="24.9" fill="#b8f478"/><rect x="1076.5" y="261.2" width="24.9" height="24.9" fill="#f8f080"/><rect x="1100.8" y="261.2" width="24.9" height="24.9" fill="#f8b048"/><rect x="1125.1" y="261.2" width="24.9" height="24.9" fill="#d86818"/><rect x="1149.3" y="261.2" width="24.9" height="24.9" fill="#b03810"/><rect x="1173.6" y="261.2" width="24.9" height="24.9" fill="#d86818"/><rect x="1197.9" y="261.2" width="24.9" height="24.9" fill="#901008"/><rect x="1222.2" y="261.2" width="49.1" height="24.9" fill="#800000"/><rect x="1270.7" y="261.2" width="24.9" height="24.9" fill="#f09028"/><rect x="1295.0" y="261.2" width="24.9" height="24.9" fill="#b03810"/><rect x="1319.2" y="261.2" width="194.8" height="24.9" fill="#800000"/><rect x="1513.4" y="261.2" width="24.9" height="24.9" fill="#b03810"/><rect x="1537.7" y="261.2" width="24.9" height="24.9" fill="#f8b048"/><rect x="1561.9" y="261.2" width="24.9" height="24.9" fill="#f8d068"/><rect x="1586.2" y="261.2" width="24.9" height="24.9" fill="#b8f478"/><rect x="1610.5" y="261.2" width="49.1" height="24.9" fill="#80f682"/><rect x="1659.0" y="261.2" width="73.4" height="24.9" fill="#f8d068"/><rect x="955.2" y="285.5" width="49.1" height="24.9" fill="#f09028"/><rect x="1003.7" y="285.5" width="24.9" height="24.9" fill="#f8f080"/><rect x="1028.0" y="285.5" width="24.9" height="24.9" fill="#80f682"/><rect x="1052.3" y="285.5" width="24.9" height="24.9" fill="#f8d068"/><rect x="1076.5" y="285.5" width="24.9" height="24.9" fill="#f09028"/><rect x="1100.8" y="285.5" width="24.9" height="24.9" fill="#f8b048"/><rect x="1125.1" y="285.5" width="24.9" height="24.9" fill="#d86818"/><rect x="1149.3" y="285.5" width="24.9" height="24.9" fill="#b03810"/><rect x="1173.6" y="285.5" width="24.9" height="24.9" fill="#f09028"/><rect x="1197.9" y="285.5" width="24.9" height="24.9" fill="#b03810"/><rect x="1222.2" y="285.5" width="24.9" height="24.9" fill="#800000"/><rect x="1246.4" y="285.5" width="24.9" height="24.9" fill="#d86818"/><rect x="1270.7" y="285.5" width="24.9" height="24.9" fill="#f8b048"/><rect x="1295.0" y="285.5" width="24.9" height="24.9" fill="#901008"/><rect x="1319.2" y="285.5" width="219.0" height="24.9" fill="#800000"/><rect x="1537.7" y="285.5" width="24.9" height="24.9" fill="#b03810"/><rect x="1561.9" y="285.5" width="24.9" height="24.9" fill="#f09028"/><rect x="1586.2" y="285.5" width="24.9" height="24.9" fill="#f8b048"/><rect x="1610.5" y="285.5" width="24.9" height="24.9" fill="#f8f080"/><rect x="1634.7" y="285.5" width="24.9" height="24.9" fill="#b8f478"/><rect x="1659.0" y="285.5" width="24.9" height="24.9" fill="#80f682"/><rect x="1683.3" y="285.5" width="49.1" height="24.9" fill="#f8f080"/><rect x="955.2" y="309.8" width="49.1" height="24.9" fill="#b03810"/><rect x="1003.7" y="309.8" width="24.9" height="24.9" fill="#b8f478"/><rect x="1028.0" y="309.8" width="24.9" height="24.9" fill="#f8f080"/><rect x="1052.3" y="309.8" width="24.9" height="24.9" fill="#f09028"/><rect x="1076.5" y="309.8" width="24.9" height="24.9" fill="#d86818"/><rect x="1100.8" y="309.8" width="24.9" height="24.9" fill="#b03810"/><rect x="1125.1" y="309.8" width="24.9" height="24.9" fill="#d86818"/><rect x="1149.3" y="309.8" width="24.9" height="24.9" fill="#b03810"/><rect x="1173.6" y="309.8" width="49.1" height="24.9" fill="#f09028"/><rect x="1222.2" y="309.8" width="24.9" height="24.9" fill="#800000"/><rect x="1246.4" y="309.8" width="24.9" height="24.9" fill="#901008"/><rect x="1270.7" y="309.8" width="24.9" height="24.9" fill="#f09028"/><rect x="1295.0" y="309.8" width="49.1" height="24.9" fill="#901008"/><rect x="1343.5" y="309.8" width="49.1" height="24.9" fill="#800000"/><rect x="1392.0" y="309.8" width="24.9" height="24.9" fill="#901008"/><rect x="1416.3" y="309.8" width="49.1" height="24.9" fill="#800000"/><rect x="1464.8" y="309.8" width="24.9" height="24.9" fill="#901008"/><rect x="1489.1" y="309.8" width="49.1" height="24.9" fill="#800000"/><rect x="1537.7" y="309.8" width="24.9" height="24.9" fill="#f09028"/><rect x="1561.9" y="309.8" width="24.9" height="24.9" fill="#d86818"/><rect x="1586.2" y="309.8" width="73.4" height="24.9" fill="#800000"/><rect x="1659.0" y="309.8" width="24.9" height="24.9" fill="#901008"/><rect x="1683.3" y="309.8" width="49.1" height="24.9" fill="#80f682"/><rect x="955.2" y="334.0" width="49.1" height="24.9" fill="#b8f478"/><rect x="1003.7" y="334.0" width="24.9" height="24.9" fill="#80f682"/><rect x="1028.0" y="334.0" width="24.9" height="24.9" fill="#f8d068"/><rect x="1052.3" y="334.0" width="24.9" height="24.9" fill="#f09028"/><rect x="1076.5" y="334.0" width="24.9" height="24.9" fill="#b03810"/><rect x="1100.8" y="334.0" width="24.9" height="24.9" fill="#901008"/><rect x="1125.1" y="334.0" width="24.9" height="24.9" fill="#b03810"/><rect x="1149.3" y="334.0" width="24.9" height="24.9" fill="#d86818"/><rect x="1173.6" y="334.0" width="49.1" height="24.9" fill="#f09028"/><rect x="1222.2" y="334.0" width="24.9" height="24.9" fill="#901008"/><rect x="1246.4" y="334.0" width="24.9" height="24.9" fill="#b03810"/><rect x="1270.7" y="334.0" width="24.9" height="24.9" fill="#d86818"/><rect x="1295.0" y="334.0" width="243.3" height="24.9" fill="#800000"/><rect x="1537.7" y="334.0" width="24.9" height="24.9" fill="#901008"/><rect x="1561.9" y="334.0" width="24.9" height="24.9" fill="#f8b048"/><rect x="1586.2" y="334.0" width="97.7" height="24.9" fill="#800000"/><rect x="1683.3" y="334.0" width="49.1" height="24.9" fill="#f09028"/><rect x="955.2" y="358.3" width="49.1" height="24.9" fill="#80f682"/><rect x="1003.7" y="358.3" width="24.9" height="24.9" fill="#b8f478"/><rect x="1028.0" y="358.3" width="24.9" height="24.9" fill="#f8d068"/><rect x="1052.3" y="358.3" width="24.9" height="24.9" fill="#f09028"/><rect x="1076.5" y="358.3" width="24.9" height="24.9" fill="#901008"/><rect x="1100.8" y="358.3" width="24.9" height="24.9" fill="#b03810"/><rect x="1125.1" y="358.3" width="49.1" height="24.9" fill="#f09028"/><rect x="1173.6" y="358.3" width="24.9" height="24.9" fill="#d86818"/><rect x="1197.9" y="358.3" width="24.9" height="24.9" fill="#901008"/><rect x="1222.2" y="358.3" width="49.1" height="24.9" fill="#800000"/><rect x="1270.7" y="358.3" width="24.9" height="24.9" fill="#b03810"/><rect x="1295.0" y="358.3" width="24.9" height="24.9" fill="#901008"/><rect x="1319.2" y="358.3" width="194.8" height="24.9" fill="#800000"/><rect x="1513.4" y="358.3" width="24.9" height="24.9" fill="#901008"/><rect x="1537.7" y="358.3" width="49.1" height="24.9" fill="#b03810"/><rect x="1586.2" y="358.3" width="97.7" height="24.9" fill="#800000"/><rect x="1683.3" y="358.3" width="49.1" height="24.9" fill="#b03810"/><rect x="955.2" y="382.6" width="49.1" height="24.9" fill="#80f682"/><rect x="1003.7" y="382.6" width="24.9" height="24.9" fill="#f8f080"/><rect x="1028.0" y="382.6" width="24.9" height="24.9" fill="#f8d068"/><rect x="1052.3" y="382.6" width="24.9" height="24.9" fill="#f09028"/><rect x="1076.5" y="382.6" width="24.9" height="24.9" fill="#800000"/><rect x="1100.8" y="382.6" width="24.9" height="24.9" fill="#901008"/><rect x="1125.1" y="382.6" width="49.1" height="24.9" fill="#f09028"/><rect x="1173.6" y="382.6" width="24.9" height="24.9" fill="#d86818"/><rect x="1197.9" y="382.6" width="24.9" height="24.9" fill="#901008"/><rect x="1222.2" y="382.6" width="49.1" height="24.9" fill="#800000"/><rect x="1270.7" y="382.6" width="24.9" height="24.9" fill="#b03810"/><rect x="1295.0" y="382.6" width="146.2" height="24.9" fill="#800000"/><rect x="1440.6" y="382.6" width="24.9" height="24.9" fill="#901008"/><rect x="1464.8" y="382.6" width="73.4" height="24.9" fill="#f09028"/><rect x="1537.7" y="382.6" width="24.9" height="24.9" fill="#d86818"/><rect x="1561.9" y="382.6" width="24.9" height="24.9" fill="#901008"/><rect x="1586.2" y="382.6" width="97.7" height="24.9" fill="#800000"/><rect x="1683.3" y="382.6" width="49.1" height="24.9" fill="#b03810"/><rect x="955.2" y="406.9" width="49.1" height="24.9" fill="#b8f478"/><rect x="1003.7" y="406.9" width="24.9" height="24.9" fill="#f8f080"/><rect x="1028.0" y="406.9" width="24.9" height="24.9" fill="#f8d068"/><rect x="1052.3" y="406.9" width="24.9" height="24.9" fill="#901008"/><rect x="1076.5" y="406.9" width="49.1" height="24.9" fill="#800000"/><rect x="1125.1" y="406.9" width="24.9" height="24.9" fill="#f09028"/><rect x="1149.3" y="406.9" width="24.9" height="24.9" fill="#d86818"/><rect x="1173.6" y="406.9" width="24.9" height="24.9" fill="#b03810"/><rect x="1197.9" y="406.9" width="24.9" height="24.9" fill="#901008"/><rect x="1222.2" y="406.9" width="49.1" height="24.9" fill="#800000"/><rect x="1270.7" y="406.9" width="24.9" height="24.9" fill="#b03810"/><rect x="1295.0" y="406.9" width="24.9" height="24.9" fill="#d86818"/><rect x="1319.2" y="406.9" width="73.4" height="24.9" fill="#b03810"/><rect x="1392.0" y="406.9" width="24.9" height="24.9" fill="#800000"/><rect x="1416.3" y="406.9" width="24.9" height="24.9" fill="#b03810"/><rect x="1440.6" y="406.9" width="24.9" height="24.9" fill="#f09028"/><rect x="1464.8" y="406.9" width="24.9" height="24.9" fill="#f8b048"/><rect x="1489.1" y="406.9" width="24.9" height="24.9" fill="#f09028"/><rect x="1513.4" y="406.9" width="24.9" height="24.9" fill="#b03810"/><rect x="1537.7" y="406.9" width="24.9" height="24.9" fill="#901008"/><rect x="1561.9" y="406.9" width="24.9" height="24.9" fill="#d86818"/><rect x="1586.2" y="406.9" width="49.1" height="24.9" fill="#b03810"/><rect x="1634.7" y="406.9" width="49.1" height="24.9" fill="#800000"/><rect x="1683.3" y="406.9" width="49.1" height="24.9" fill="#b03810"/><rect x="955.2" y="431.1" width="73.4" height="24.9" fill="#f8f080"/><rect x="1028.0" y="431.1" width="24.9" height="24.9" fill="#f8d068"/><rect x="1052.3" y="431.1" width="73.4" height="24.9" fill="#800000"/><rect x="1125.1" y="431.1" width="24.9" height="24.9" fill="#f09028"/><rect x="1149.3" y="431.1" width="24.9" height="24.9" fill="#b03810"/><rect x="1173.6" y="431.1" width="24.9" height="24.9" fill="#901008"/><rect x="1197.9" y="431.1" width="97.7" height="24.9" fill="#800000"/><rect x="1295.0" y="431.1" width="24.9" height="24.9" fill="#f09028"/><rect x="1319.2" y="431.1" width="24.9" height="24.9" fill="#f8b048"/><rect x="1343.5" y="431.1" width="49.1" height="24.9" fill="#f09028"/><rect x="1392.0" y="431.1" width="24.9" height="24.9" fill="#f8b048"/><rect x="1416.3" y="431.1" width="24.9" height="24.9" fill="#901008"/><rect x="1440.6" y="431.1" width="49.1" height="24.9" fill="#f09028"/><rect x="1489.1" y="431.1" width="24.9" height="24.9" fill="#d86818"/><rect x="1513.4" y="431.1" width="24.9" height="24.9" fill="#901008"/><rect x="1537.7" y="431.1" width="24.9" height="24.9" fill="#800000"/><rect x="1561.9" y="431.1" width="24.9" height="24.9" fill="#b03810"/><rect x="1586.2" y="431.1" width="24.9" height="24.9" fill="#901008"/><rect x="1610.5" y="431.1" width="24.9" height="24.9" fill="#f09028"/><rect x="1634.7" y="431.1" width="24.9" height="24.9" fill="#b03810"/><rect x="1659.0" y="431.1" width="73.4" height="24.9" fill="#901008"/><rect x="955.2" y="455.4" width="73.4" height="24.9" fill="#f8d068"/><rect x="1028.0" y="455.4" width="24.9" height="24.9" fill="#b03810"/><rect x="1052.3" y="455.4" width="24.9" height="24.9" fill="#800000"/><rect x="1076.5" y="455.4" width="24.9" height="24.9" fill="#901008"/><rect x="1100.8" y="455.4" width="24.9" height="24.9" fill="#800000"/><rect x="1125.1" y="455.4" width="24.9" height="24.9" fill="#f09028"/><rect x="1149.3" y="455.4" width="24.9" height="24.9" fill="#b03810"/><rect x="1173.6" y="455.4" width="121.9" height="24.9" fill="#800000"/><rect x="1295.0" y="455.4" width="24.9" height="24.9" fill="#b03810"/><rect x="1319.2" y="455.4" width="24.9" height="24.9" fill="#b8f478"/><rect x="1343.5" y="455.4" width="24.9" height="24.9" fill="#f8f080"/><rect x="1367.8" y="455.4" width="24.9" height="24.9" fill="#f8d068"/><rect x="1392.0" y="455.4" width="24.9" height="24.9" fill="#d86818"/><rect x="1416.3" y="455.4" width="24.9" height="24.9" fill="#b03810"/><rect x="1440.6" y="455.4" width="24.9" height="24.9" fill="#d86818"/><rect x="1464.8" y="455.4" width="24.9" height="24.9" fill="#f09028"/><rect x="1489.1" y="455.4" width="24.9" height="24.9" fill="#d86818"/><rect x="1513.4" y="455.4" width="24.9" height="24.9" fill="#901008"/><rect x="1537.7" y="455.4" width="24.9" height="24.9" fill="#800000"/><rect x="1561.9" y="455.4" width="49.1" height="24.9" fill="#b03810"/><rect x="1610.5" y="455.4" width="49.1" height="24.9" fill="#f09028"/><rect x="1659.0" y="455.4" width="24.9" height="24.9" fill="#b03810"/><rect x="1683.3" y="455.4" width="49.1" height="24.9" fill="#800000"/><rect x="955.2" y="479.7" width="49.1" height="24.9" fill="#f8d068"/><rect x="1003.7" y="479.7" width="49.1" height="24.9" fill="#f09028"/><rect x="1052.3" y="479.7" width="24.9" height="24.9" fill="#b03810"/><rect x="1076.5" y="479.7" width="49.1" height="24.9" fill="#800000"/><rect x="1125.1" y="479.7" width="49.1" height="24.9" fill="#d86818"/><rect x="1173.6" y="479.7" width="24.9" height="24.9" fill="#901008"/><rect x="1197.9" y="479.7" width="121.9" height="24.9" fill="#800000"/><rect x="1319.2" y="479.7" width="24.9" height="24.9" fill="#901008"/><rect x="1343.5" y="479.7" width="24.9" height="24.9" fill="#b03810"/><rect x="1367.8" y="479.7" width="24.9" height="24.9" fill="#f8b048"/><rect x="1392.0" y="479.7" width="49.1" height="24.9" fill="#f09028"/><rect x="1440.6" y="479.7" width="24.9" height="24.9" fill="#d86818"/><rect x="1464.8" y="479.7" width="24.9" height="24.9" fill="#901008"/><rect x="1489.1" y="479.7" width="24.9" height="24.9" fill="#b03810"/><rect x="1513.4" y="479.7" width="49.1" height="24.9" fill="#901008"/><rect x="1561.9" y="479.7" width="24.9" height="24.9" fill="#d86818"/><rect x="1586.2" y="479.7" width="73.4" height="24.9" fill="#f09028"/><rect x="1659.0" y="479.7" width="24.9" height="24.9" fill="#901008"/><rect x="1683.3" y="479.7" width="49.1" height="24.9" fill="#800000"/><rect x="955.2" y="503.9" width="49.1" height="24.9" fill="#f8d068"/><rect x="1003.7" y="503.9" width="24.9" height="24.9" fill="#f09028"/><rect x="1028.0" y="503.9" width="49.1" height="24.9" fill="#d86818"/><rect x="1076.5" y="503.9" width="24.9" height="24.9" fill="#901008"/><rect x="1100.8" y="503.9" width="24.9" height="24.9" fill="#800000"/><rect x="1125.1" y="503.9" width="24.9" height="24.9" fill="#b03810"/><rect x="1149.3" y="503.9" width="24.9" height="24.9" fill="#d86818"/><rect x="1173.6" y="503.9" width="24.9" height="24.9" fill="#901008"/><rect x="1197.9" y="503.9" width="146.2" height="24.9" fill="#800000"/><rect x="1343.5" y="503.9" width="24.9" height="24.9" fill="#901008"/><rect x="1367.8" y="503.9" width="24.9" height="24.9" fill="#f8f080"/><rect x="1392.0" y="503.9" width="24.9" height="24.9" fill="#f8b048"/><rect x="1416.3" y="503.9" width="24.9" height="24.9" fill="#f09028"/><rect x="1440.6" y="503.9" width="24.9" height="24.9" fill="#b03810"/><rect x="1464.8" y="503.9" width="24.9" height="24.9" fill="#901008"/><rect x="1489.1" y="503.9" width="24.9" height="24.9" fill="#f09028"/><rect x="1513.4" y="503.9" width="24.9" height="24.9" fill="#d86818"/><rect x="1537.7" y="503.9" width="24.9" height="24.9" fill="#b03810"/><rect x="1561.9" y="503.9" width="24.9" height="24.9" fill="#f09028"/><rect x="1586.2" y="503.9" width="24.9" height="24.9" fill="#b03810"/><rect x="1610.5" y="503.9" width="24.9" height="24.9" fill="#f8b048"/><rect x="1634.7" y="503.9" width="49.1" height="24.9" fill="#f09028"/><rect x="1683.3" y="503.9" width="49.1" height="24.9" fill="#d86818"/><rect x="955.2" y="528.2" width="49.1" height="24.9" fill="#f8d068"/><rect x="1003.7" y="528.2" width="24.9" height="24.9" fill="#f09028"/><rect x="1028.0" y="528.2" width="24.9" height="24.9" fill="#b03810"/><rect x="1052.3" y="528.2" width="24.9" height="24.9" fill="#901008"/><rect x="1076.5" y="528.2" width="97.7" height="24.9" fill="#b03810"/><rect x="1173.6" y="528.2" width="49.1" height="24.9" fill="#901008"/><rect x="1222.2" y="528.2" width="146.2" height="24.9" fill="#800000"/><rect x="1367.8" y="528.2" width="24.9" height="24.9" fill="#f09028"/><rect x="1392.0" y="528.2" width="24.9" height="24.9" fill="#f8b048"/><rect x="1416.3" y="528.2" width="24.9" height="24.9" fill="#f09028"/><rect x="1440.6" y="528.2" width="24.9" height="24.9" fill="#d86818"/><rect x="1464.8" y="528.2" width="49.1" height="24.9" fill="#f8b048"/><rect x="1513.4" y="528.2" width="24.9" height="24.9" fill="#f09028"/><rect x="1537.7" y="528.2" width="24.9" height="24.9" fill="#b03810"/><rect x="1561.9" y="528.2" width="24.9" height="24.9" fill="#d86818"/><rect x="1586.2" y="528.2" width="24.9" height="24.9" fill="#b03810"/><rect x="1610.5" y="528.2" width="24.9" height="24.9" fill="#f09028"/><rect x="1634.7" y="528.2" width="24.9" height="24.9" fill="#f8d068"/><rect x="1659.0" y="528.2" width="73.4" height="24.9" fill="#f8f080"/><rect x="955.2" y="552.5" width="49.1" height="24.9" fill="#f8b048"/><rect x="1003.7" y="552.5" width="24.9" height="24.9" fill="#f09028"/><rect x="1028.0" y="552.5" width="24.9" height="24.9" fill="#b03810"/><rect x="1052.3" y="552.5" width="49.1" height="24.9" fill="#800000"/><rect x="1100.8" y="552.5" width="24.9" height="24.9" fill="#901008"/><rect x="1125.1" y="552.5" width="49.1" height="24.9" fill="#b03810"/><rect x="1173.6" y="552.5" width="24.9" height="24.9" fill="#901008"/><rect x="1197.9" y="552.5" width="24.9" height="24.9" fill="#b03810"/><rect x="1222.2" y="552.5" width="146.2" height="24.9" fill="#800000"/><rect x="1367.8" y="552.5" width="24.9" height="24.9" fill="#901008"/><rect x="1392.0" y="552.5" width="49.1" height="24.9" fill="#f09028"/><rect x="1440.6" y="552.5" width="24.9" height="24.9" fill="#b03810"/><rect x="1464.8" y="552.5" width="49.1" height="24.9" fill="#f09028"/><rect x="1513.4" y="552.5" width="24.9" height="24.9" fill="#d86818"/><rect x="1537.7" y="552.5" width="49.1" height="24.9" fill="#b03810"/><rect x="1586.2" y="552.5" width="24.9" height="24.9" fill="#d86818"/><rect x="1610.5" y="552.5" width="24.9" height="24.9" fill="#f09028"/><rect x="1634.7" y="552.5" width="24.9" height="24.9" fill="#f8d068"/><rect x="1659.0" y="552.5" width="24.9" height="24.9" fill="#f8f080"/><rect x="1683.3" y="552.5" width="49.1" height="24.9" fill="#b8f478"/><rect x="955.2" y="576.8" width="49.1" height="24.9" fill="#f8f080"/><rect x="1003.7" y="576.8" width="24.9" height="24.9" fill="#f8d068"/><rect x="1028.0" y="576.8" width="49.1" height="24.9" fill="#f09028"/><rect x="1076.5" y="576.8" width="24.9" height="24.9" fill="#901008"/><rect x="1100.8" y="576.8" width="24.9" height="24.9" fill="#800000"/><rect x="1125.1" y="576.8" width="24.9" height="24.9" fill="#b03810"/><rect x="1149.3" y="576.8" width="49.1" height="24.9" fill="#800000"/><rect x="1197.9" y="576.8" width="24.9" height="24.9" fill="#901008"/><rect x="1222.2" y="576.8" width="24.9" height="24.9" fill="#b03810"/><rect x="1246.4" y="576.8" width="24.9" height="24.9" fill="#901008"/><rect x="1270.7" y="576.8" width="97.7" height="24.9" fill="#800000"/><rect x="1367.8" y="576.8" width="24.9" height="24.9" fill="#901008"/><rect x="1392.0" y="576.8" width="49.1" height="24.9" fill="#f8b048"/><rect x="1440.6" y="576.8" width="24.9" height="24.9" fill="#901008"/><rect x="1464.8" y="576.8" width="49.1" height="24.9" fill="#f09028"/><rect x="1513.4" y="576.8" width="49.1" height="24.9" fill="#b03810"/><rect x="1561.9" y="576.8" width="49.1" height="24.9" fill="#d86818"/><rect x="1610.5" y="576.8" width="24.9" height="24.9" fill="#f09028"/><rect x="1634.7" y="576.8" width="24.9" height="24.9" fill="#f8d068"/><rect x="1659.0" y="576.8" width="24.9" height="24.9" fill="#f8f080"/><rect x="1683.3" y="576.8" width="49.1" height="24.9" fill="#b8f478"/><rect x="955.2" y="601.0" width="49.1" height="24.9" fill="#80f682"/><rect x="1003.7" y="601.0" width="24.9" height="24.9" fill="#f8f080"/><rect x="1028.0" y="601.0" width="24.9" height="24.9" fill="#f8d068"/><rect x="1052.3" y="601.0" width="24.9" height="24.9" fill="#f09028"/><rect x="1076.5" y="601.0" width="24.9" height="24.9" fill="#b03810"/><rect x="1100.8" y="601.0" width="24.9" height="24.9" fill="#901008"/><rect x="1125.1" y="601.0" width="24.9" height="24.9" fill="#b03810"/><rect x="1149.3" y="601.0" width="24.9" height="24.9" fill="#901008"/><rect x="1173.6" y="601.0" width="24.9" height="24.9" fill="#800000"/><rect x="1197.9" y="601.0" width="24.9" height="24.9" fill="#901008"/><rect x="1222.2" y="601.0" width="24.9" height="24.9" fill="#b03810"/><rect x="1246.4" y="601.0" width="24.9" height="24.9" fill="#d86818"/><rect x="1270.7" y="601.0" width="73.4" height="24.9" fill="#800000"/><rect x="1343.5" y="601.0" width="24.9" height="24.9" fill="#b03810"/><rect x="1367.8" y="601.0" width="49.1" height="24.9" fill="#f09028"/><rect x="1416.3" y="601.0" width="24.9" height="24.9" fill="#f8b048"/><rect x="1440.6" y="601.0" width="24.9" height="24.9" fill="#b03810"/><rect x="1464.8" y="601.0" width="49.1" height="24.9" fill="#f09028"/><rect x="1513.4" y="601.0" width="24.9" height="24.9" fill="#b03810"/><rect x="1537.7" y="601.0" width="24.9" height="24.9" fill="#901008"/><rect x="1561.9" y="601.0" width="24.9" height="24.9" fill="#f09028"/><rect x="1586.2" y="601.0" width="24.9" height="24.9" fill="#d86818"/><rect x="1610.5" y="601.0" width="24.9" height="24.9" fill="#f09028"/><rect x="1634.7" y="601.0" width="24.9" height="24.9" fill="#f8d068"/><rect x="1659.0" y="601.0" width="24.9" height="24.9" fill="#f8f080"/><rect x="1683.3" y="601.0" width="49.1" height="24.9" fill="#b8f478"/><rect x="955.2" y="625.3" width="49.1" height="24.9" fill="#80f682"/><rect x="1003.7" y="625.3" width="24.9" height="24.9" fill="#f8f080"/><rect x="1028.0" y="625.3" width="24.9" height="24.9" fill="#f8d068"/><rect x="1052.3" y="625.3" width="24.9" height="24.9" fill="#f8b048"/><rect x="1076.5" y="625.3" width="24.9" height="24.9" fill="#f09028"/><rect x="1100.8" y="625.3" width="24.9" height="24.9" fill="#b03810"/><rect x="1125.1" y="625.3" width="49.1" height="24.9" fill="#800000"/><rect x="1173.6" y="625.3" width="24.9" height="24.9" fill="#901008"/><rect x="1197.9" y="625.3" width="24.9" height="24.9" fill="#b03810"/><rect x="1222.2" y="625.3" width="49.1" height="24.9" fill="#d86818"/><rect x="1270.7" y="625.3" width="24.9" height="24.9" fill="#800000"/><rect x="1295.0" y="625.3" width="24.9" height="24.9" fill="#b03810"/><rect x="1319.2" y="625.3" width="73.4" height="24.9" fill="#f09028"/><rect x="1392.0" y="625.3" width="24.9" height="24.9" fill="#d86818"/><rect x="1416.3" y="625.3" width="97.7" height="24.9" fill="#f09028"/><rect x="1513.4" y="625.3" width="24.9" height="24.9" fill="#d86818"/><rect x="1537.7" y="625.3" width="24.9" height="24.9" fill="#b03810"/><rect x="1561.9" y="625.3" width="24.9" height="24.9" fill="#f09028"/><rect x="1586.2" y="625.3" width="24.9" height="24.9" fill="#b03810"/><rect x="1610.5" y="625.3" width="24.9" height="24.9" fill="#f8b048"/><rect x="1634.7" y="625.3" width="49.1" height="24.9" fill="#f8f080"/><rect x="1683.3" y="625.3" width="49.1" height="24.9" fill="#b8f478"/><rect x="955.2" y="649.6" width="49.1" height="24.9" fill="#b8f478"/><rect x="1003.7" y="649.6" width="24.9" height="24.9" fill="#f8d068"/><rect x="1028.0" y="649.6" width="49.1" height="24.9" fill="#f8f080"/><rect x="1076.5" y="649.6" width="49.1" height="24.9" fill="#f8d068"/><rect x="1125.1" y="649.6" width="49.1" height="24.9" fill="#f09028"/><rect x="1173.6" y="649.6" width="24.9" height="24.9" fill="#d86818"/><rect x="1197.9" y="649.6" width="24.9" height="24.9" fill="#b03810"/><rect x="1222.2" y="649.6" width="24.9" height="24.9" fill="#d86818"/><rect x="1246.4" y="649.6" width="49.1" height="24.9" fill="#b03810"/><rect x="1295.0" y="649.6" width="49.1" height="24.9" fill="#f09028"/><rect x="1343.5" y="649.6" width="24.9" height="24.9" fill="#f8b048"/><rect x="1367.8" y="649.6" width="49.1" height="24.9" fill="#b03810"/><rect x="1416.3" y="649.6" width="73.4" height="24.9" fill="#f09028"/><rect x="1489.1" y="649.6" width="24.9" height="24.9" fill="#d86818"/><rect x="1513.4" y="649.6" width="73.4" height="24.9" fill="#f09028"/><rect x="1586.2" y="649.6" width="24.9" height="24.9" fill="#901008"/><rect x="1610.5" y="649.6" width="24.9" height="24.9" fill="#f8d068"/><rect x="1634.7" y="649.6" width="49.1" height="24.9" fill="#b8f478"/><rect x="1683.3" y="649.6" width="49.1" height="24.9" fill="#f8f080"/><rect x="955.2" y="673.8" width="97.7" height="24.9" fill="#80f682"/><rect x="1052.3" y="673.8" width="24.9" height="24.9" fill="#b8f478"/><rect x="1076.5" y="673.8" width="49.1" height="24.9" fill="#f8f080"/><rect x="1125.1" y="673.8" width="49.1" height="24.9" fill="#f09028"/><rect x="1173.6" y="673.8" width="24.9" height="24.9" fill="#f8b048"/><rect x="1197.9" y="673.8" width="24.9" height="24.9" fill="#f09028"/><rect x="1222.2" y="673.8" width="24.9" height="24.9" fill="#b03810"/><rect x="1246.4" y="673.8" width="24.9" height="24.9" fill="#901008"/><rect x="1270.7" y="673.8" width="24.9" height="24.9" fill="#d86818"/><rect x="1295.0" y="673.8" width="24.9" height="24.9" fill="#f09028"/><rect x="1319.2" y="673.8" width="24.9" height="24.9" fill="#f8b048"/><rect x="1343.5" y="673.8" width="24.9" height="24.9" fill="#f09028"/><rect x="1367.8" y="673.8" width="24.9" height="24.9" fill="#901008"/><rect x="1392.0" y="673.8" width="49.1" height="24.9" fill="#f09028"/><rect x="1440.6" y="673.8" width="24.9" height="24.9" fill="#d86818"/><rect x="1464.8" y="673.8" width="49.1" height="24.9" fill="#b03810"/><rect x="1513.4" y="673.8" width="24.9" height="24.9" fill="#d86818"/><rect x="1537.7" y="673.8" width="73.4" height="24.9" fill="#f09028"/><rect x="1610.5" y="673.8" width="24.9" height="24.9" fill="#b8f478"/><rect x="1634.7" y="673.8" width="97.7" height="24.9" fill="#80f682"/><rect x="955.2" y="698.1" width="121.9" height="24.9" fill="#80f682"/><rect x="1076.5" y="698.1" width="24.9" height="24.9" fill="#b8f478"/><rect x="1100.8" y="698.1" width="73.4" height="24.9" fill="#f8f080"/><rect x="1173.6" y="698.1" width="24.9" height="24.9" fill="#f8d068"/><rect x="1197.9" y="698.1" width="24.9" height="24.9" fill="#f09028"/><rect x="1222.2" y="698.1" width="24.9" height="24.9" fill="#d86818"/><rect x="1246.4" y="698.1" width="49.1" height="24.9" fill="#f09028"/><rect x="1295.0" y="698.1" width="24.9" height="24.9" fill="#f8b048"/><rect x="1319.2" y="698.1" width="24.9" height="24.9" fill="#f8d068"/><rect x="1343.5" y="698.1" width="73.4" height="24.9" fill="#f8f080"/><rect x="1416.3" y="698.1" width="24.9" height="24.9" fill="#d86818"/><rect x="1440.6" y="698.1" width="24.9" height="24.9" fill="#b03810"/><rect x="1464.8" y="698.1" width="24.9" height="24.9" fill="#d86818"/><rect x="1489.1" y="698.1" width="24.9" height="24.9" fill="#f09028"/><rect x="1513.4" y="698.1" width="97.7" height="24.9" fill="#f8b048"/><rect x="1610.5" y="698.1" width="121.9" height="24.9" fill="#80f682"/><rect x="955.2" y="722.4" width="121.9" height="24.9" fill="#80f682"/><rect x="1076.5" y="722.4" width="73.4" height="24.9" fill="#b8f478"/><rect x="1149.3" y="722.4" width="24.9" height="24.9" fill="#f8f080"/><rect x="1173.6" y="722.4" width="24.9" height="24.9" fill="#f8d068"/><rect x="1197.9" y="722.4" width="49.1" height="24.9" fill="#f8b048"/><rect x="1246.4" y="722.4" width="24.9" height="24.9" fill="#f09028"/><rect x="1270.7" y="722.4" width="24.9" height="24.9" fill="#f8b048"/><rect x="1295.0" y="722.4" width="24.9" height="24.9" fill="#f8d068"/><rect x="1319.2" y="722.4" width="24.9" height="24.9" fill="#f8f080"/><rect x="1343.5" y="722.4" width="49.1" height="24.9" fill="#b8f478"/><rect x="1392.0" y="722.4" width="24.9" height="24.9" fill="#f8b048"/><rect x="1416.3" y="722.4" width="73.4" height="24.9" fill="#f09028"/><rect x="1489.1" y="722.4" width="24.9" height="24.9" fill="#f8b048"/><rect x="1513.4" y="722.4" width="24.9" height="24.9" fill="#f8d068"/><rect x="1537.7" y="722.4" width="24.9" height="24.9" fill="#f8f080"/><rect x="1561.9" y="722.4" width="24.9" height="24.9" fill="#f8b048"/><rect x="1586.2" y="722.4" width="24.9" height="24.9" fill="#f8d068"/><rect x="1610.5" y="722.4" width="24.9" height="24.9" fill="#b8f478"/><rect x="1634.7" y="722.4" width="97.7" height="24.9" fill="#80f682"/><rect x="955.2" y="746.6" width="97.7" height="24.9" fill="#80f682"/><rect x="1052.3" y="746.6" width="24.9" height="24.9" fill="#b8f478"/><rect x="1076.5" y="746.6" width="24.9" height="24.9" fill="#f8f080"/><rect x="1100.8" y="746.6" width="24.9" height="24.9" fill="#f8d068"/><rect x="1125.1" y="746.6" width="24.9" height="24.9" fill="#f8f080"/><rect x="1149.3" y="746.6" width="49.1" height="24.9" fill="#f8d068"/><rect x="1197.9" y="746.6" width="24.9" height="24.9" fill="#f8b048"/><rect x="1222.2" y="746.6" width="49.1" height="24.9" fill="#f8d068"/><rect x="1270.7" y="746.6" width="24.9" height="24.9" fill="#b8f478"/><rect x="1295.0" y="746.6" width="24.9" height="24.9" fill="#f8f080"/><rect x="1319.2" y="746.6" width="49.1" height="24.9" fill="#f8d068"/><rect x="1367.8" y="746.6" width="73.4" height="24.9" fill="#f8f080"/><rect x="1440.6" y="746.6" width="49.1" height="24.9" fill="#f8d068"/><rect x="1489.1" y="746.6" width="24.9" height="24.9" fill="#f8b048"/><rect x="1513.4" y="746.6" width="24.9" height="24.9" fill="#f8f080"/><rect x="1537.7" y="746.6" width="49.1" height="24.9" fill="#f8d068"/><rect x="1586.2" y="746.6" width="24.9" height="24.9" fill="#f8f080"/><rect x="1610.5" y="746.6" width="121.9" height="24.9" fill="#80f682"/><rect x="955.2" y="770.9" width="97.7" height="24.9" fill="#80f682"/><rect x="1052.3" y="770.9" width="73.4" height="24.9" fill="#b8f478"/><rect x="1125.1" y="770.9" width="73.4" height="24.9" fill="#f8d068"/><rect x="1197.9" y="770.9" width="49.1" height="24.9" fill="#f8f080"/><rect x="1246.4" y="770.9" width="24.9" height="24.9" fill="#f8d068"/><rect x="1270.7" y="770.9" width="49.1" height="24.9" fill="#f09028"/><rect x="1319.2" y="770.9" width="24.9" height="24.9" fill="#f8b048"/><rect x="1343.5" y="770.9" width="24.9" height="24.9" fill="#f8d068"/><rect x="1367.8" y="770.9" width="49.1" height="24.9" fill="#f8f080"/><rect x="1416.3" y="770.9" width="24.9" height="24.9" fill="#b8f478"/><rect x="1440.6" y="770.9" width="24.9" height="24.9" fill="#f8d068"/><rect x="1464.8" y="770.9" width="24.9" height="24.9" fill="#f8b048"/><rect x="1489.1" y="770.9" width="49.1" height="24.9" fill="#f8d068"/><rect x="1537.7" y="770.9" width="24.9" height="24.9" fill="#f8f080"/><rect x="1561.9" y="770.9" width="24.9" height="24.9" fill="#f8d068"/><rect x="1586.2" y="770.9" width="24.9" height="24.9" fill="#b8f478"/><rect x="1610.5" y="770.9" width="121.9" height="24.9" fill="#80f682"/><rect x="955.2" y="795.2" width="49.1" height="24.9" fill="#f8b048"/><rect x="1003.7" y="795.2" width="24.9" height="24.9" fill="#f8d068"/><rect x="1028.0" y="795.2" width="24.9" height="24.9" fill="#b8f478"/><rect x="1052.3" y="795.2" width="49.1" height="24.9" fill="#80f682"/><rect x="1100.8" y="795.2" width="24.9" height="24.9" fill="#b8f478"/><rect x="1125.1" y="795.2" width="97.7" height="24.9" fill="#f8f080"/><rect x="1222.2" y="795.2" width="49.1" height="24.9" fill="#f8d068"/><rect x="1270.7" y="795.2" width="97.7" height="24.9" fill="#b8f478"/><rect x="1367.8" y="795.2" width="24.9" height="24.9" fill="#f8f080"/><rect x="1392.0" y="795.2" width="24.9" height="24.9" fill="#f8d068"/><rect x="1416.3" y="795.2" width="24.9" height="24.9" fill="#f09028"/><rect x="1440.6" y="795.2" width="24.9" height="24.9" fill="#d86818"/><rect x="1464.8" y="795.2" width="24.9" height="24.9" fill="#f8f080"/><rect x="1489.1" y="795.2" width="24.9" height="24.9" fill="#d86818"/><rect x="1513.4" y="795.2" width="49.1" height="24.9" fill="#f09028"/><rect x="1561.9" y="795.2" width="24.9" height="24.9" fill="#f8b048"/><rect x="1586.2" y="795.2" width="24.9" height="24.9" fill="#f8f080"/><rect x="1610.5" y="795.2" width="49.1" height="24.9" fill="#80f682"/><rect x="1659.0" y="795.2" width="73.4" height="24.9" fill="#f8f080"/><rect x="955.2" y="819.5" width="73.4" height="24.9" fill="#b8f478"/><rect x="1028.0" y="819.5" width="24.9" height="24.9" fill="#f8f080"/><rect x="1052.3" y="819.5" width="49.1" height="24.9" fill="#80f682"/><rect x="1100.8" y="819.5" width="24.9" height="24.9" fill="#b8f478"/><rect x="1125.1" y="819.5" width="121.9" height="24.9" fill="#f8f080"/><rect x="1246.4" y="819.5" width="73.4" height="24.9" fill="#b8f478"/><rect x="1319.2" y="819.5" width="49.1" height="24.9" fill="#f8f080"/><rect x="1367.8" y="819.5" width="49.1" height="24.9" fill="#f8d068"/><rect x="1416.3" y="819.5" width="24.9" height="24.9" fill="#d86818"/><rect x="1440.6" y="819.5" width="24.9" height="24.9" fill="#f8f080"/><rect x="1464.8" y="819.5" width="97.7" height="24.9" fill="#f09028"/><rect x="1561.9" y="819.5" width="24.9" height="24.9" fill="#f8b048"/><rect x="1586.2" y="819.5" width="24.9" height="24.9" fill="#f8d068"/><rect x="1610.5" y="819.5" width="49.1" height="24.9" fill="#80f682"/><rect x="1659.0" y="819.5" width="24.9" height="24.9" fill="#f8f080"/><rect x="1683.3" y="819.5" width="49.1" height="24.9" fill="#f8d068"/><rect x="955.2" y="843.7" width="73.4" height="24.9" fill="#b8f478"/><rect x="1028.0" y="843.7" width="24.9" height="24.9" fill="#f8f080"/><rect x="1052.3" y="843.7" width="49.1" height="24.9" fill="#80f682"/><rect x="1100.8" y="843.7" width="24.9" height="24.9" fill="#b8f478"/><rect x="1125.1" y="843.7" width="121.9" height="24.9" fill="#f8f080"/><rect x="1246.4" y="843.7" width="73.4" height="24.9" fill="#b8f478"/><rect x="1319.2" y="843.7" width="49.1" height="24.9" fill="#f8f080"/><rect x="1367.8" y="843.7" width="49.1" height="24.9" fill="#f8d068"/><rect x="1416.3" y="843.7" width="24.9" height="24.9" fill="#d86818"/><rect x="1440.6" y="843.7" width="24.9" height="24.9" fill="#f8f080"/><rect x="1464.8" y="843.7" width="97.7" height="24.9" fill="#f09028"/><rect x="1561.9" y="843.7" width="24.9" height="24.9" fill="#f8b048"/><rect x="1586.2" y="843.7" width="24.9" height="24.9" fill="#f8d068"/><rect x="1610.5" y="843.7" width="49.1" height="24.9" fill="#80f682"/><rect x="1659.0" y="843.7" width="24.9" height="24.9" fill="#f8f080"/><rect x="1683.3" y="843.7" width="49.1" height="24.9" fill="#f8d068"/></g></g>
<g shape-rendering="crispEdges"><rect x="981.0" y="905.4" width="56.6" height="11.3" fill="#000000"/><rect x="1037.3" y="905.4" width="179.8" height="11.3" fill="#a0a0a0"/><rect x="1216.9" y="905.4" width="14.1" height="11.3" fill="#6e6e6e"/><rect x="1230.7" y="905.4" width="14.1" height="11.3" fill="#3a3a3a"/><rect x="1244.5" y="905.4" width="14.1" height="11.3" fill="#c8c8c8"/><rect x="1258.3" y="905.4" width="27.9" height="11.3" fill="#3a3a3a"/><rect x="1285.9" y="905.4" width="14.1" height="11.3" fill="#6e6e6e"/><rect x="1299.7" y="905.4" width="14.1" height="11.3" fill="#a0a0a0"/><rect x="1313.5" y="905.4" width="14.1" height="11.3" fill="#000000"/><rect x="1327.3" y="905.4" width="14.1" height="11.3" fill="#a0a0a0"/><rect x="1341.2" y="905.4" width="41.7" height="11.3" fill="#000000"/><rect x="1382.6" y="905.4" width="41.7" height="11.3" fill="#ffffff"/><rect x="1424.0" y="905.4" width="97.0" height="11.3" fill="#000000"/><rect x="1520.7" y="905.4" width="27.9" height="11.3" fill="#ffffff"/><rect x="1548.3" y="905.4" width="69.3" height="11.3" fill="#000000"/><rect x="1617.3" y="905.4" width="69.4" height="11.3" fill="#a0a0a0"/><rect x="1686.4" y="905.4" width="14.1" height="11.3" fill="#6e6e6e"/><rect x="1700.2" y="905.4" width="14.4" height="11.3" fill="#3a3a3a"/><rect x="981.0" y="916.4" width="56.6" height="14.3" fill="#000000"/><rect x="1037.3" y="916.4" width="166.0" height="14.3" fill="#a0a0a0"/><rect x="1203.0" y="916.4" width="41.7" height="14.3" fill="#6e6e6e"/><rect x="1244.5" y="916.4" width="14.1" height="14.3" fill="#3a3a3a"/><rect x="1258.3" y="916.4" width="27.9" height="14.3" fill="#c8c8c8"/><rect x="1285.9" y="916.4" width="14.1" height="14.3" fill="#3a3a3a"/><rect x="1299.7" y="916.4" width="97.0" height="14.3" fill="#a0a0a0"/><rect x="1396.4" y="916.4" width="83.2" height="14.3" fill="#000000"/><rect x="1479.2" y="916.4" width="14.1" height="14.3" fill="#ffffff"/><rect x="1493.1" y="916.4" width="27.9" height="14.3" fill="#000000"/><rect x="1520.7" y="916.4" width="27.9" height="14.3" fill="#ffffff"/><rect x="1548.3" y="916.4" width="27.9" height="14.3" fill="#000000"/><rect x="1575.9" y="916.4" width="14.1" height="14.3" fill="#ffffff"/><rect x="1589.7" y="916.4" width="14.1" height="14.3" fill="#000000"/><rect x="1603.5" y="916.4" width="41.7" height="14.3" fill="#a0a0a0"/><rect x="1645.0" y="916.4" width="14.1" height="14.3" fill="#6e6e6e"/><rect x="1658.8" y="916.4" width="27.9" height="14.3" fill="#3a3a3a"/><rect x="1686.4" y="916.4" width="28.2" height="14.3" fill="#b4b4b4"/><rect x="981.0" y="930.4" width="222.3" height="14.3" fill="#a0a0a0"/><rect x="1203.0" y="930.4" width="55.5" height="14.3" fill="#6e6e6e"/><rect x="1258.3" y="930.4" width="41.7" height="14.3" fill="#3a3a3a"/><rect x="1299.7" y="930.4" width="14.1" height="14.3" fill="#6e6e6e"/><rect x="1313.5" y="930.4" width="27.9" height="14.3" fill="#a0a0a0"/><rect x="1341.2" y="930.4" width="55.5" height="14.3" fill="#6e6e6e"/><rect x="1396.4" y="930.4" width="14.1" height="14.3" fill="#a0a0a0"/><rect x="1410.2" y="930.4" width="110.8" height="14.3" fill="#000000"/><rect x="1520.7" y="930.4" width="69.4" height="14.3" fill="#ffffff"/><rect x="1589.7" y="930.4" width="41.7" height="14.3" fill="#000000"/><rect x="1631.2" y="930.4" width="14.1" height="14.3" fill="#a0a0a0"/><rect x="1645.0" y="930.4" width="27.9" height="14.3" fill="#6e6e6e"/><rect x="1672.6" y="930.4" width="14.1" height="14.3" fill="#3a3a3a"/><rect x="1686.4" y="930.4" width="28.2" height="14.3" fill="#b4b4b4"/><rect x="981.0" y="944.3" width="236.2" height="14.3" fill="#a0a0a0"/><rect x="1216.9" y="944.3" width="27.9" height="14.3" fill="#6e6e6e"/><rect x="1244.5" y="944.3" width="55.5" height="14.3" fill="#3a3a3a"/><rect x="1299.7" y="944.3" width="14.1" height="14.3" fill="#6e6e6e"/><rect x="1313.5" y="944.3" width="27.9" height="14.3" fill="#a0a0a0"/><rect x="1341.2" y="944.3" width="27.9" height="14.3" fill="#6e6e6e"/><rect x="1368.8" y="944.3" width="27.9" height="14.3" fill="#3a3a3a"/><rect x="1396.4" y="944.3" width="14.1" height="14.3" fill="#6e6e6e"/><rect x="1410.2" y="944.3" width="14.1" height="14.3" fill="#a0a0a0"/><rect x="1424.0" y="944.3" width="97.0" height="14.3" fill="#000000"/><rect x="1520.7" y="944.3" width="69.4" height="14.3" fill="#ffffff"/><rect x="1589.7" y="944.3" width="41.7" height="14.3" fill="#000000"/><rect x="1631.2" y="944.3" width="27.9" height="14.3" fill="#a0a0a0"/><rect x="1658.8" y="944.3" width="27.9" height="14.3" fill="#6e6e6e"/><rect x="1686.4" y="944.3" width="14.1" height="14.3" fill="#c8c8c8"/><rect x="1700.2" y="944.3" width="14.4" height="14.3" fill="#b4b4b4"/><rect x="981.0" y="958.3" width="15.2" height="14.3" fill="#a0a0a0"/><rect x="995.9" y="958.3" width="14.1" height="14.3" fill="#6e6e6e"/><rect x="1009.7" y="958.3" width="221.3" height="14.3" fill="#a0a0a0"/><rect x="1230.7" y="958.3" width="27.9" height="14.3" fill="#6e6e6e"/><rect x="1258.3" y="958.3" width="27.9" height="14.3" fill="#3a3a3a"/><rect x="1285.9" y="958.3" width="14.1" height="14.3" fill="#c8c8c8"/><rect x="1299.7" y="958.3" width="14.1" height="14.3" fill="#3a3a3a"/><rect x="1313.5" y="958.3" width="14.1" height="14.3" fill="#6e6e6e"/><rect x="1327.3" y="958.3" width="14.1" height="14.3" fill="#a0a0a0"/><rect x="1341.2" y="958.3" width="14.1" height="14.3" fill="#6e6e6e"/><rect x="1355.0" y="958.3" width="41.7" height="14.3" fill="#3a3a3a"/><rect x="1396.4" y="958.3" width="27.9" height="14.3" fill="#6e6e6e"/><rect x="1424.0" y="958.3" width="41.7" height="14.3" fill="#a0a0a0"/><rect x="1465.4" y="958.3" width="55.5" height="14.3" fill="#000000"/><rect x="1520.7" y="958.3" width="97.0" height="14.3" fill="#ffffff"/><rect x="1617.3" y="958.3" width="27.9" height="14.3" fill="#000000"/><rect x="1645.0" y="958.3" width="27.9" height="14.3" fill="#a0a0a0"/><rect x="1672.6" y="958.3" width="14.1" height="14.3" fill="#6e6e6e"/><rect x="1686.4" y="958.3" width="14.1" height="14.3" fill="#3a3a3a"/><rect x="1700.2" y="958.3" width="14.4" height="14.3" fill="#b4b4b4"/><rect x="981.0" y="972.2" width="250.0" height="14.3" fill="#a0a0a0"/><rect x="1230.7" y="972.2" width="27.9" height="14.3" fill="#6e6e6e"/><rect x="1258.3" y="972.2" width="14.1" height="14.3" fill="#3a3a3a"/><rect x="1272.1" y="972.2" width="14.1" height="14.3" fill="#a0a0a0"/><rect x="1285.9" y="972.2" width="14.1" height="14.3" fill="#b4b4b4"/><rect x="1299.7" y="972.2" width="14.1" height="14.3" fill="#c8c8c8"/><rect x="1313.5" y="972.2" width="14.1" height="14.3" fill="#3a3a3a"/><rect x="1327.3" y="972.2" width="55.5" height="14.3" fill="#6e6e6e"/><rect x="1382.6" y="972.2" width="14.1" height="14.3" fill="#3a3a3a"/><rect x="1396.4" y="972.2" width="14.1" height="14.3" fill="#6e6e6e"/><rect x="1410.2" y="972.2" width="97.0" height="14.3" fill="#a0a0a0"/><rect x="1506.9" y="972.2" width="27.9" height="14.3" fill="#000000"/><rect x="1534.5" y="972.2" width="83.2" height="14.3" fill="#ffffff"/><rect x="1617.3" y="972.2" width="41.7" height="14.3" fill="#000000"/><rect x="1658.8" y="972.2" width="27.9" height="14.3" fill="#a0a0a0"/><rect x="1686.4" y="972.2" width="14.1" height="14.3" fill="#6e6e6e"/><rect x="1700.2" y="972.2" width="14.4" height="14.3" fill="#3a3a3a"/><rect x="981.0" y="986.2" width="263.8" height="14.3" fill="#a0a0a0"/><rect x="1244.5" y="986.2" width="14.1" height="14.3" fill="#3a3a3a"/><rect x="1258.3" y="986.2" width="14.1" height="14.3" fill="#b4b4b4"/><rect x="1272.1" y="986.2" width="14.1" height="14.3" fill="#a0a0a0"/><rect x="1285.9" y="986.2" width="14.1" height="14.3" fill="#b4b4b4"/><rect x="1299.7" y="986.2" width="14.1" height="14.3" fill="#3a3a3a"/><rect x="1313.5" y="986.2" width="110.8" height="14.3" fill="#6e6e6e"/><rect x="1424.0" y="986.2" width="110.8" height="14.3" fill="#a0a0a0"/><rect x="1534.5" y="986.2" width="41.7" height="14.3" fill="#000000"/><rect x="1575.9" y="986.2" width="69.3" height="14.3" fill="#ffffff"/><rect x="1645.0" y="986.2" width="14.1" height="14.3" fill="#000000"/><rect x="1658.8" y="986.2" width="55.8" height="14.3" fill="#a0a0a0"/><rect x="981.0" y="1000.2" width="263.8" height="14.3" fill="#a0a0a0"/><rect x="1244.5" y="1000.2" width="14.1" height="14.3" fill="#3a3a3a"/><rect x="1258.3" y="1000.2" width="14.1" height="14.3" fill="#a0a0a0"/><rect x="1272.1" y="1000.2" width="14.1" height="14.3" fill="#878787"/><rect x="1285.9" y="1000.2" width="14.1" height="14.3" fill="#b4b4b4"/><rect x="1299.7" y="1000.2" width="124.6" height="14.3" fill="#6e6e6e"/><rect x="1424.0" y="1000.2" width="97.0" height="14.3" fill="#a0a0a0"/><rect x="1520.7" y="1000.2" width="27.9" height="14.3" fill="#6e6e6e"/><rect x="1548.3" y="1000.2" width="14.1" height="14.3" fill="#a0a0a0"/><rect x="1562.1" y="1000.2" width="14.1" height="14.3" fill="#000000"/><rect x="1575.9" y="1000.2" width="69.3" height="14.3" fill="#ffffff"/><rect x="1645.0" y="1000.2" width="55.5" height="14.3" fill="#000000"/><rect x="1700.2" y="1000.2" width="14.4" height="14.3" fill="#a0a0a0"/><rect x="981.0" y="1014.1" width="236.2" height="14.3" fill="#a0a0a0"/><rect x="1216.9" y="1014.1" width="27.9" height="14.3" fill="#6e6e6e"/><rect x="1244.5" y="1014.1" width="14.1" height="14.3" fill="#c8c8c8"/><rect x="1258.3" y="1014.1" width="41.7" height="14.3" fill="#878787"/><rect x="1299.7" y="1014.1" width="14.1" height="14.3" fill="#b4b4b4"/><rect x="1313.5" y="1014.1" width="14.1" height="14.3" fill="#6e6e6e"/><rect x="1327.3" y="1014.1" width="14.1" height="14.3" fill="#a0a0a0"/><rect x="1341.2" y="1014.1" width="83.2" height="14.3" fill="#6e6e6e"/><rect x="1424.0" y="1014.1" width="97.0" height="14.3" fill="#a0a0a0"/><rect x="1520.7" y="1014.1" width="55.5" height="14.3" fill="#6e6e6e"/><rect x="1575.9" y="1014.1" width="14.1" height="14.3" fill="#000000"/><rect x="1589.7" y="1014.1" width="41.7" height="14.3" fill="#ffffff"/><rect x="1631.2" y="1014.1" width="69.4" height="14.3" fill="#000000"/><rect x="1700.2" y="1014.1" width="14.4" height="14.3" fill="#a0a0a0"/><rect x="981.0" y="1028.1" width="15.2" height="14.3" fill="#6e6e6e"/><rect x="995.9" y="1028.1" width="166.0" height="14.3" fill="#a0a0a0"/><rect x="1161.6" y="1028.1" width="14.1" height="14.3" fill="#6e6e6e"/><rect x="1175.4" y="1028.1" width="27.9" height="14.3" fill="#a0a0a0"/><rect x="1203.0" y="1028.1" width="14.1" height="14.3" fill="#6e6e6e"/><rect x="1216.9" y="1028.1" width="27.9" height="14.3" fill="#3a3a3a"/><rect x="1244.5" y="1028.1" width="14.1" height="14.3" fill="#b4b4b4"/><rect x="1258.3" y="1028.1" width="41.7" height="14.3" fill="#878787"/><rect x="1299.7" y="1028.1" width="14.1" height="14.3" fill="#b4b4b4"/><rect x="1313.5" y="1028.1" width="124.6" height="14.3" fill="#6e6e6e"/><rect x="1437.8" y="1028.1" width="97.0" height="14.3" fill="#a0a0a0"/><rect x="1534.5" y="1028.1" width="41.7" height="14.3" fill="#6e6e6e"/><rect x="1575.9" y="1028.1" width="14.1" height="14.3" fill="#a0a0a0"/><rect x="1589.7" y="1028.1" width="14.1" height="14.3" fill="#000000"/><rect x="1603.5" y="1028.1" width="27.9" height="14.3" fill="#ffffff"/><rect x="1631.2" y="1028.1" width="41.7" height="14.3" fill="#000000"/><rect x="1672.6" y="1028.1" width="14.1" height="14.3" fill="#ffffff"/><rect x="1686.4" y="1028.1" width="14.1" height="14.3" fill="#000000"/><rect x="1700.2" y="1028.1" width="14.4" height="14.3" fill="#a0a0a0"/><rect x="981.0" y="1042.0" width="15.2" height="14.3" fill="#6e6e6e"/><rect x="995.9" y="1042.0" width="166.0" height="14.3" fill="#a0a0a0"/><rect x="1161.6" y="1042.0" width="55.5" height="14.3" fill="#6e6e6e"/><rect x="1216.9" y="1042.0" width="14.1" height="14.3" fill="#3a3a3a"/><rect x="1230.7" y="1042.0" width="27.9" height="14.3" fill="#c8c8c8"/><rect x="1258.3" y="1042.0" width="14.1" height="14.3" fill="#b4b4b4"/><rect x="1272.1" y="1042.0" width="27.9" height="14.3" fill="#a0a0a0"/><rect x="1299.7" y="1042.0" width="14.1" height="14.3" fill="#b4b4b4"/><rect x="1313.5" y="1042.0" width="14.1" height="14.3" fill="#3a3a3a"/><rect x="1327.3" y="1042.0" width="41.7" height="14.3" fill="#6e6e6e"/><rect x="1368.8" y="1042.0" width="41.7" height="14.3" fill="#3a3a3a"/><rect x="1410.2" y="1042.0" width="27.9" height="14.3" fill="#6e6e6e"/><rect x="1437.8" y="1042.0" width="83.2" height="14.3" fill="#a0a0a0"/><rect x="1520.7" y="1042.0" width="55.5" height="14.3" fill="#6e6e6e"/><rect x="1575.9" y="1042.0" width="27.9" height="14.3" fill="#a0a0a0"/><rect x="1603.5" y="1042.0" width="69.4" height="14.3" fill="#ffffff"/><rect x="1672.6" y="1042.0" width="14.1" height="14.3" fill="#000000"/><rect x="1686.4" y="1042.0" width="28.2" height="14.3" fill="#a0a0a0"/><rect x="981.0" y="1056.0" width="42.8" height="14.3" fill="#6e6e6e"/><rect x="1023.5" y="1056.0" width="83.2" height="14.3" fill="#a0a0a0"/><rect x="1106.4" y="1056.0" width="41.7" height="14.3" fill="#6e6e6e"/><rect x="1147.8" y="1056.0" width="27.9" height="14.3" fill="#a0a0a0"/><rect x="1175.4" y="1056.0" width="55.5" height="14.3" fill="#6e6e6e"/><rect x="1230.7" y="1056.0" width="69.3" height="14.3" fill="#3a3a3a"/><rect x="1299.7" y="1056.0" width="14.1" height="14.3" fill="#c8c8c8"/><rect x="1313.5" y="1056.0" width="110.8" height="14.3" fill="#3a3a3a"/><rect x="1424.0" y="1056.0" width="14.1" height="14.3" fill="#6e6e6e"/><rect x="1437.8" y="1056.0" width="27.9" height="14.3" fill="#a0a0a0"/><rect x="1465.4" y="1056.0" width="110.8" height="14.3" fill="#6e6e6e"/><rect x="1575.9" y="1056.0" width="27.9" height="14.3" fill="#a0a0a0"/><rect x="1603.5" y="1056.0" width="14.1" height="14.3" fill="#000000"/><rect x="1617.3" y="1056.0" width="41.7" height="14.3" fill="#ffffff"/><rect x="1658.8" y="1056.0" width="27.9" height="14.3" fill="#000000"/><rect x="1686.4" y="1056.0" width="28.2" height="14.3" fill="#a0a0a0"/><rect x="981.0" y="1070.0" width="56.6" height="14.3" fill="#3a3a3a"/><rect x="1037.3" y="1070.0" width="69.3" height="14.3" fill="#6e6e6e"/><rect x="1106.4" y="1070.0" width="14.1" height="14.3" fill="#a0a0a0"/><rect x="1120.2" y="1070.0" width="27.9" height="14.3" fill="#6e6e6e"/><rect x="1147.8" y="1070.0" width="69.3" height="14.3" fill="#a0a0a0"/><rect x="1216.9" y="1070.0" width="14.1" height="14.3" fill="#6e6e6e"/><rect x="1230.7" y="1070.0" width="14.1" height="14.3" fill="#3a3a3a"/><rect x="1244.5" y="1070.0" width="55.5" height="14.3" fill="#6e6e6e"/><rect x="1299.7" y="1070.0" width="27.9" height="14.3" fill="#3a3a3a"/><rect x="1327.3" y="1070.0" width="55.5" height="14.3" fill="#c8c8c8"/><rect x="1382.6" y="1070.0" width="41.7" height="14.3" fill="#3a3a3a"/><rect x="1424.0" y="1070.0" width="97.0" height="14.3" fill="#6e6e6e"/><rect x="1520.7" y="1070.0" width="27.9" height="14.3" fill="#3a3a3a"/><rect x="1548.3" y="1070.0" width="27.9" height="14.3" fill="#6e6e6e"/><rect x="1575.9" y="1070.0" width="41.7" height="14.3" fill="#a0a0a0"/><rect x="1617.3" y="1070.0" width="55.5" height="14.3" fill="#000000"/><rect x="1672.6" y="1070.0" width="42.0" height="14.3" fill="#a0a0a0"/><rect x="981.0" y="1083.9" width="29.0" height="14.3" fill="#3a3a3a"/><rect x="1009.7" y="1083.9" width="27.9" height="14.3" fill="#c8c8c8"/><rect x="1037.3" y="1083.9" width="55.5" height="14.3" fill="#3a3a3a"/><rect x="1092.6" y="1083.9" width="41.7" height="14.3" fill="#a0a0a0"/><rect x="1134.0" y="1083.9" width="14.1" height="14.3" fill="#6e6e6e"/><rect x="1147.8" y="1083.9" width="83.2" height="14.3" fill="#a0a0a0"/><rect x="1230.7" y="1083.9" width="14.1" height="14.3" fill="#6e6e6e"/><rect x="1244.5" y="1083.9" width="41.7" height="14.3" fill="#a0a0a0"/><rect x="1285.9" y="1083.9" width="14.1" height="14.3" fill="#6e6e6e"/><rect x="1299.7" y="1083.9" width="14.1" height="14.3" fill="#3a3a3a"/><rect x="1313.5" y="1083.9" width="14.1" height="14.3" fill="#6e6e6e"/><rect x="1327.3" y="1083.9" width="14.1" height="14.3" fill="#3a3a3a"/><rect x="1341.2" y="1083.9" width="55.5" height="14.3" fill="#c8c8c8"/><rect x="1396.4" y="1083.9" width="27.9" height="14.3" fill="#3a3a3a"/><rect x="1424.0" y="1083.9" width="14.1" height="14.3" fill="#6e6e6e"/><rect x="1437.8" y="1083.9" width="14.1" height="14.3" fill="#a0a0a0"/><rect x="1451.6" y="1083.9" width="69.3" height="14.3" fill="#6e6e6e"/><rect x="1520.7" y="1083.9" width="27.9" height="14.3" fill="#3a3a3a"/><rect x="1548.3" y="1083.9" width="41.7" height="14.3" fill="#6e6e6e"/><rect x="1589.7" y="1083.9" width="27.9" height="14.3" fill="#a0a0a0"/><rect x="1617.3" y="1083.9" width="55.5" height="14.3" fill="#000000"/><rect x="1672.6" y="1083.9" width="14.1" height="14.3" fill="#a0a0a0"/><rect x="1686.4" y="1083.9" width="14.1" height="14.3" fill="#6e6e6e"/><rect x="1700.2" y="1083.9" width="14.4" height="14.3" fill="#a0a0a0"/><rect x="981.0" y="1097.9" width="29.0" height="14.3" fill="#3a3a3a"/><rect x="1009.7" y="1097.9" width="27.9" height="14.3" fill="#c8c8c8"/><rect x="1037.3" y="1097.9" width="27.9" height="14.3" fill="#3a3a3a"/><rect x="1065.0" y="1097.9" width="14.1" height="14.3" fill="#6e6e6e"/><rect x="1078.8" y="1097.9" width="14.1" height="14.3" fill="#a0a0a0"/><rect x="1092.6" y="1097.9" width="14.1" height="14.3" fill="#000000"/><rect x="1106.4" y="1097.9" width="27.9" height="14.3" fill="#a0a0a0"/><rect x="1134.0" y="1097.9" width="14.1" height="14.3" fill="#6e6e6e"/><rect x="1147.8" y="1097.9" width="138.4" height="14.3" fill="#a0a0a0"/><rect x="1285.9" y="1097.9" width="14.1" height="14.3" fill="#6e6e6e"/><rect x="1299.7" y="1097.9" width="27.9" height="14.3" fill="#3a3a3a"/><rect x="1327.3" y="1097.9" width="14.1" height="14.3" fill="#6e6e6e"/><rect x="1341.2" y="1097.9" width="27.9" height="14.3" fill="#3a3a3a"/><rect x="1368.8" y="1097.9" width="27.9" height="14.3" fill="#c8c8c8"/><rect x="1396.4" y="1097.9" width="27.9" height="14.3" fill="#3a3a3a"/><rect x="1424.0" y="1097.9" width="97.0" height="14.3" fill="#6e6e6e"/><rect x="1520.7" y="1097.9" width="27.9" height="14.3" fill="#3a3a3a"/><rect x="1548.3" y="1097.9" width="41.7" height="14.3" fill="#6e6e6e"/><rect x="1589.7" y="1097.9" width="27.9" height="14.3" fill="#a0a0a0"/><rect x="1617.3" y="1097.9" width="41.7" height="14.3" fill="#000000"/><rect x="1658.8" y="1097.9" width="27.9" height="14.3" fill="#a0a0a0"/><rect x="1686.4" y="1097.9" width="14.1" height="14.3" fill="#6e6e6e"/><rect x="1700.2" y="1097.9" width="14.4" height="14.3" fill="#a0a0a0"/><rect x="981.0" y="1111.8" width="70.4" height="14.3" fill="#3a3a3a"/><rect x="1051.1" y="1111.8" width="27.9" height="14.3" fill="#6e6e6e"/><rect x="1078.8" y="1111.8" width="14.1" height="14.3" fill="#a0a0a0"/><rect x="1092.6" y="1111.8" width="14.1" height="14.3" fill="#000000"/><rect x="1106.4" y="1111.8" width="27.9" height="14.3" fill="#a0a0a0"/><rect x="1134.0" y="1111.8" width="27.9" height="14.3" fill="#6e6e6e"/><rect x="1161.6" y="1111.8" width="14.1" height="14.3" fill="#a0a0a0"/><rect x="1175.4" y="1111.8" width="27.9" height="14.3" fill="#000000"/><rect x="1203.0" y="1111.8" width="27.9" height="14.3" fill="#a0a0a0"/><rect x="1230.7" y="1111.8" width="14.1" height="14.3" fill="#6e6e6e"/><rect x="1244.5" y="1111.8" width="55.5" height="14.3" fill="#3a3a3a"/><rect x="1299.7" y="1111.8" width="14.1" height="14.3" fill="#c8c8c8"/><rect x="1313.5" y="1111.8" width="14.1" height="14.3" fill="#3a3a3a"/><rect x="1327.3" y="1111.8" width="41.7" height="14.3" fill="#6e6e6e"/><rect x="1368.8" y="1111.8" width="69.3" height="14.3" fill="#3a3a3a"/><rect x="1437.8" y="1111.8" width="55.5" height="14.3" fill="#6e6e6e"/><rect x="1493.1" y="1111.8" width="14.1" height="14.3" fill="#a0a0a0"/><rect x="1506.9" y="1111.8" width="83.2" height="14.3" fill="#6e6e6e"/><rect x="1589.7" y="1111.8" width="27.9" height="14.3" fill="#a0a0a0"/><rect x="1617.3" y="1111.8" width="41.7" height="14.3" fill="#000000"/><rect x="1658.8" y="1111.8" width="14.1" height="14.3" fill="#a0a0a0"/><rect x="1672.6" y="1111.8" width="27.9" height="14.3" fill="#6e6e6e"/><rect x="1700.2" y="1111.8" width="14.4" height="14.3" fill="#a0a0a0"/><rect x="981.0" y="1125.8" width="70.4" height="14.3" fill="#3a3a3a"/><rect x="1051.1" y="1125.8" width="27.9" height="14.3" fill="#6e6e6e"/><rect x="1078.8" y="1125.8" width="27.9" height="14.3" fill="#a0a0a0"/><rect x="1106.4" y="1125.8" width="69.4" height="14.3" fill="#6e6e6e"/><rect x="1175.4" y="1125.8" width="27.9" height="14.3" fill="#a0a0a0"/><rect x="1203.0" y="1125.8" width="14.1" height="14.3" fill="#6e6e6e"/><rect x="1216.9" y="1125.8" width="27.9" height="14.3" fill="#3a3a3a"/><rect x="1244.5" y="1125.8" width="14.1" height="14.3" fill="#c8c8c8"/><rect x="1258.3" y="1125.8" width="27.9" height="14.3" fill="#a0a0a0"/><rect x="1285.9" y="1125.8" width="27.9" height="14.3" fill="#b4b4b4"/><rect x="1313.5" y="1125.8" width="14.1" height="14.3" fill="#3a3a3a"/><rect x="1327.3" y="1125.8" width="83.2" height="14.3" fill="#6e6e6e"/><rect x="1410.2" y="1125.8" width="27.9" height="14.3" fill="#3a3a3a"/><rect x="1437.8" y="1125.8" width="55.5" height="14.3" fill="#6e6e6e"/><rect x="1493.1" y="1125.8" width="27.9" height="14.3" fill="#a0a0a0"/><rect x="1520.7" y="1125.8" width="83.2" height="14.3" fill="#6e6e6e"/><rect x="1603.5" y="1125.8" width="14.1" height="14.3" fill="#a0a0a0"/><rect x="1617.3" y="1125.8" width="41.7" height="14.3" fill="#000000"/><rect x="1658.8" y="1125.8" width="14.1" height="14.3" fill="#a0a0a0"/><rect x="1672.6" y="1125.8" width="14.1" height="14.3" fill="#6e6e6e"/><rect x="1686.4" y="1125.8" width="28.2" height="14.3" fill="#a0a0a0"/><rect x="981.0" y="1139.8" width="70.4" height="14.3" fill="#3a3a3a"/><rect x="1051.1" y="1139.8" width="14.1" height="14.3" fill="#6e6e6e"/><rect x="1065.0" y="1139.8" width="27.9" height="14.3" fill="#a0a0a0"/><rect x="1092.6" y="1139.8" width="55.5" height="14.3" fill="#6e6e6e"/><rect x="1147.8" y="1139.8" width="14.1" height="14.3" fill="#3a3a3a"/><rect x="1161.6" y="1139.8" width="14.1" height="14.3" fill="#6e6e6e"/><rect x="1175.4" y="1139.8" width="14.1" height="14.3" fill="#a0a0a0"/><rect x="1189.2" y="1139.8" width="14.1" height="14.3" fill="#6e6e6e"/><rect x="1203.0" y="1139.8" width="41.7" height="14.3" fill="#c8c8c8"/><rect x="1244.5" y="1139.8" width="14.1" height="14.3" fill="#b4b4b4"/><rect x="1258.3" y="1139.8" width="27.9" height="14.3" fill="#a0a0a0"/><rect x="1285.9" y="1139.8" width="27.9" height="14.3" fill="#b4b4b4"/><rect x="1313.5" y="1139.8" width="14.1" height="14.3" fill="#c8c8c8"/><rect x="1327.3" y="1139.8" width="14.1" height="14.3" fill="#3a3a3a"/><rect x="1341.2" y="1139.8" width="83.2" height="14.3" fill="#6e6e6e"/><rect x="1424.0" y="1139.8" width="27.9" height="14.3" fill="#3a3a3a"/><rect x="1451.6" y="1139.8" width="41.7" height="14.3" fill="#6e6e6e"/><rect x="1493.1" y="1139.8" width="41.7" height="14.3" fill="#a0a0a0"/><rect x="1534.5" y="1139.8" width="69.3" height="14.3" fill="#6e6e6e"/><rect x="1603.5" y="1139.8" width="14.1" height="14.3" fill="#a0a0a0"/><rect x="1617.3" y="1139.8" width="27.9" height="14.3" fill="#000000"/><rect x="1645.0" y="1139.8" width="14.1" height="14.3" fill="#a0a0a0"/><rect x="1658.8" y="1139.8" width="41.7" height="14.3" fill="#6e6e6e"/><rect x="1700.2" y="1139.8" width="14.4" height="14.3" fill="#a0a0a0"/><rect x="981.0" y="1153.7" width="42.8" height="14.3" fill="#3a3a3a"/><rect x="1023.5" y="1153.7" width="41.7" height="14.3" fill="#6e6e6e"/><rect x="1065.0" y="1153.7" width="27.9" height="14.3" fill="#a0a0a0"/><rect x="1092.6" y="1153.7" width="27.9" height="14.3" fill="#3a3a3a"/><rect x="1120.2" y="1153.7" width="14.1" height="14.3" fill="#6e6e6e"/><rect x="1134.0" y="1153.7" width="27.9" height="14.3" fill="#3a3a3a"/><rect x="1161.6" y="1153.7" width="27.9" height="14.3" fill="#6e6e6e"/><rect x="1189.2" y="1153.7" width="14.1" height="14.3" fill="#3a3a3a"/><rect x="1203.0" y="1153.7" width="41.7" height="14.3" fill="#b4b4b4"/><rect x="1244.5" y="1153.7" width="14.1" height="14.3" fill="#a0a0a0"/><rect x="1258.3" y="1153.7" width="14.1" height="14.3" fill="#949494"/><rect x="1272.1" y="1153.7" width="14.1" height="14.3" fill="#a0a0a0"/><rect x="1285.9" y="1153.7" width="14.1" height="14.3" fill="#b4b4b4"/><rect x="1299.7" y="1153.7" width="27.9" height="14.3" fill="#c8c8c8"/><rect x="1327.3" y="1153.7" width="27.9" height="14.3" fill="#3a3a3a"/><rect x="1355.0" y="1153.7" width="69.3" height="14.3" fill="#6e6e6e"/><rect x="1424.0" y="1153.7" width="41.7" height="14.3" fill="#3a3a3a"/><rect x="1465.4" y="1153.7" width="41.7" height="14.3" fill="#6e6e6e"/><rect x="1506.9" y="1153.7" width="27.9" height="14.3" fill="#a0a0a0"/><rect x="1534.5" y="1153.7" width="55.5" height="14.3" fill="#6e6e6e"/><rect x="1589.7" y="1153.7" width="41.7" height="14.3" fill="#a0a0a0"/><rect x="1631.2" y="1153.7" width="14.1" height="14.3" fill="#000000"/><rect x="1645.0" y="1153.7" width="14.1" height="14.3" fill="#a0a0a0"/><rect x="1658.8" y="1153.7" width="41.7" height="14.3" fill="#6e6e6e"/><rect x="1700.2" y="1153.7" width="14.4" height="14.3" fill="#a0a0a0"/><rect x="981.0" y="1167.7" width="15.2" height="14.3" fill="#3a3a3a"/><rect x="995.9" y="1167.7" width="14.1" height="14.3" fill="#c8c8c8"/><rect x="1009.7" y="1167.7" width="14.1" height="14.3" fill="#3a3a3a"/><rect x="1023.5" y="1167.7" width="41.7" height="14.3" fill="#6e6e6e"/><rect x="1065.0" y="1167.7" width="14.1" height="14.3" fill="#a0a0a0"/><rect x="1078.8" y="1167.7" width="14.1" height="14.3" fill="#6e6e6e"/><rect x="1092.6" y="1167.7" width="55.5" height="14.3" fill="#3a3a3a"/><rect x="1147.8" y="1167.7" width="14.1" height="14.3" fill="#c8c8c8"/><rect x="1161.6" y="1167.7" width="27.9" height="14.3" fill="#3a3a3a"/><rect x="1189.2" y="1167.7" width="14.1" height="14.3" fill="#c8c8c8"/><rect x="1203.0" y="1167.7" width="41.7" height="14.3" fill="#a0a0a0"/><rect x="1244.5" y="1167.7" width="27.9" height="14.3" fill="#949494"/><rect x="1272.1" y="1167.7" width="14.1" height="14.3" fill="#b4b4b4"/><rect x="1285.9" y="1167.7" width="55.5" height="14.3" fill="#c8c8c8"/><rect x="1341.2" y="1167.7" width="124.6" height="14.3" fill="#3a3a3a"/><rect x="1465.4" y="1167.7" width="55.5" height="14.3" fill="#6e6e6e"/><rect x="1520.7" y="1167.7" width="14.1" height="14.3" fill="#a0a0a0"/><rect x="1534.5" y="1167.7" width="41.7" height="14.3" fill="#6e6e6e"/><rect x="1575.9" y="1167.7" width="55.5" height="14.3" fill="#a0a0a0"/><rect x="1631.2" y="1167.7" width="14.1" height="14.3" fill="#000000"/><rect x="1645.0" y="1167.7" width="14.1" height="14.3" fill="#a0a0a0"/><rect x="1658.8" y="1167.7" width="41.7" height="14.3" fill="#6e6e6e"/><rect x="1700.2" y="1167.7" width="14.4" height="14.3" fill="#a0a0a0"/><rect x="981.0" y="1181.6" width="29.0" height="14.3" fill="#c8c8c8"/><rect x="1009.7" y="1181.6" width="14.1" height="14.3" fill="#3a3a3a"/><rect x="1023.5" y="1181.6" width="69.3" height="14.3" fill="#6e6e6e"/><rect x="1092.6" y="1181.6" width="41.7" height="14.3" fill="#3a3a3a"/><rect x="1134.0" y="1181.6" width="27.9" height="14.3" fill="#c8c8c8"/><rect x="1161.6" y="1181.6" width="27.9" height="14.3" fill="#3a3a3a"/><rect x="1189.2" y="1181.6" width="14.1" height="14.3" fill="#c8c8c8"/><rect x="1203.0" y="1181.6" width="27.9" height="14.3" fill="#878787"/><rect x="1230.7" y="1181.6" width="27.9" height="14.3" fill="#949494"/><rect x="1258.3" y="1181.6" width="14.1" height="14.3" fill="#b4b4b4"/><rect x="1272.1" y="1181.6" width="14.1" height="14.3" fill="#c8c8c8"/><rect x="1285.9" y="1181.6" width="14.1" height="14.3" fill="#3a3a3a"/><rect x="1299.7" y="1181.6" width="124.6" height="14.3" fill="#c8c8c8"/><rect x="1424.0" y="1181.6" width="41.7" height="14.3" fill="#3a3a3a"/><rect x="1465.4" y="1181.6" width="69.3" height="14.3" fill="#6e6e6e"/><rect x="1534.5" y="1181.6" width="27.9" height="14.3" fill="#3a3a3a"/><rect x="1562.1" y="1181.6" width="14.1" height="14.3" fill="#6e6e6e"/><rect x="1575.9" y="1181.6" width="83.2" height="14.3" fill="#a0a0a0"/><rect x="1658.8" y="1181.6" width="55.8" height="14.3" fill="#6e6e6e"/><rect x="981.0" y="1195.6" width="15.2" height="14.3" fill="#3a3a3a"/><rect x="995.9" y="1195.6" width="14.1" height="14.3" fill="#c8c8c8"/><rect x="1009.7" y="1195.6" width="14.1" height="14.3" fill="#3a3a3a"/><rect x="1023.5" y="1195.6" width="83.2" height="14.3" fill="#6e6e6e"/><rect x="1106.4" y="1195.6" width="41.7" height="14.3" fill="#3a3a3a"/><rect x="1147.8" y="1195.6" width="41.7" height="14.3" fill="#c8c8c8"/><rect x="1189.2" y="1195.6" width="14.1" height="14.3" fill="#a0a0a0"/><rect x="1203.0" y="1195.6" width="27.9" height="14.3" fill="#878787"/><rect x="1230.7" y="1195.6" width="14.1" height="14.3" fill="#949494"/><rect x="1244.5" y="1195.6" width="14.1" height="14.3" fill="#b4b4b4"/><rect x="1258.3" y="1195.6" width="27.9" height="14.3" fill="#c8c8c8"/><rect x="1285.9" y="1195.6" width="27.9" height="14.3" fill="#b4b4b4"/><rect x="1313.5" y="1195.6" width="97.0" height="14.3" fill="#c8c8c8"/><rect x="1410.2" y="1195.6" width="14.1" height="14.3" fill="#b4b4b4"/><rect x="1424.0" y="1195.6" width="14.1" height="14.3" fill="#c8c8c8"/><rect x="1437.8" y="1195.6" width="27.9" height="14.3" fill="#3a3a3a"/><rect x="1465.4" y="1195.6" width="41.7" height="14.3" fill="#6e6e6e"/><rect x="1506.9" y="1195.6" width="14.1" height="14.3" fill="#a0a0a0"/><rect x="1520.7" y="1195.6" width="14.1" height="14.3" fill="#6e6e6e"/><rect x="1534.5" y="1195.6" width="27.9" height="14.3" fill="#3a3a3a"/><rect x="1562.1" y="1195.6" width="14.1" height="14.3" fill="#6e6e6e"/><rect x="1575.9" y="1195.6" width="97.0" height="14.3" fill="#a0a0a0"/><rect x="1672.6" y="1195.6" width="42.0" height="14.3" fill="#6e6e6e"/><rect x="981.0" y="1209.6" width="56.6" height="14.3" fill="#3a3a3a"/><rect x="1037.3" y="1209.6" width="69.3" height="14.3" fill="#6e6e6e"/><rect x="1106.4" y="1209.6" width="41.7" height="14.3" fill="#3a3a3a"/><rect x="1147.8" y="1209.6" width="27.9" height="14.3" fill="#c8c8c8"/><rect x="1175.4" y="1209.6" width="14.1" height="14.3" fill="#b4b4b4"/><rect x="1189.2" y="1209.6" width="14.1" height="14.3" fill="#a0a0a0"/><rect x="1203.0" y="1209.6" width="27.9" height="14.3" fill="#878787"/><rect x="1230.7" y="1209.6" width="14.1" height="14.3" fill="#a0a0a0"/><rect x="1244.5" y="1209.6" width="27.9" height="14.3" fill="#b4b4b4"/><rect x="1272.1" y="1209.6" width="27.9" height="14.3" fill="#a0a0a0"/><rect x="1299.7" y="1209.6" width="14.1" height="14.3" fill="#b4b4b4"/><rect x="1313.5" y="1209.6" width="138.4" height="14.3" fill="#c8c8c8"/><rect x="1451.6" y="1209.6" width="27.9" height="14.3" fill="#3a3a3a"/><rect x="1479.2" y="1209.6" width="27.9" height="14.3" fill="#6e6e6e"/><rect x="1506.9" y="1209.6" width="14.1" height="14.3" fill="#a0a0a0"/><rect x="1520.7" y="1209.6" width="14.1" height="14.3" fill="#6e6e6e"/><rect x="1534.5" y="1209.6" width="27.9" height="14.3" fill="#3a3a3a"/><rect x="1562.1" y="1209.6" width="14.1" height="14.3" fill="#6e6e6e"/><rect x="1575.9" y="1209.6" width="138.7" height="14.3" fill="#a0a0a0"/><rect x="981.0" y="1223.5" width="15.2" height="14.3" fill="#6e6e6e"/><rect x="995.9" y="1223.5" width="83.2" height="14.3" fill="#3a3a3a"/><rect x="1078.8" y="1223.5" width="14.1" height="14.3" fill="#6e6e6e"/><rect x="1092.6" y="1223.5" width="69.3" height="14.3" fill="#3a3a3a"/><rect x="1161.6" y="1223.5" width="14.1" height="14.3" fill="#c8c8c8"/><rect x="1175.4" y="1223.5" width="27.9" height="14.3" fill="#a0a0a0"/><rect x="1203.0" y="1223.5" width="27.9" height="14.3" fill="#878787"/><rect x="1230.7" y="1223.5" width="14.1" height="14.3" fill="#949494"/><rect x="1244.5" y="1223.5" width="14.1" height="14.3" fill="#b4b4b4"/><rect x="1258.3" y="1223.5" width="14.1" height="14.3" fill="#a0a0a0"/><rect x="1272.1" y="1223.5" width="27.9" height="14.3" fill="#949494"/><rect x="1299.7" y="1223.5" width="14.1" height="14.3" fill="#a0a0a0"/><rect x="1313.5" y="1223.5" width="14.1" height="14.3" fill="#b4b4b4"/><rect x="1327.3" y="1223.5" width="152.2" height="14.3" fill="#c8c8c8"/><rect x="1479.2" y="1223.5" width="14.1" height="14.3" fill="#3a3a3a"/><rect x="1493.1" y="1223.5" width="41.7" height="14.3" fill="#6e6e6e"/><rect x="1534.5" y="1223.5" width="27.9" height="14.3" fill="#3a3a3a"/><rect x="1562.1" y="1223.5" width="27.9" height="14.3" fill="#6e6e6e"/><rect x="1589.7" y="1223.5" width="124.9" height="14.3" fill="#a0a0a0"/><rect x="981.0" y="1237.5" width="15.2" height="14.3" fill="#000000"/><rect x="995.9" y="1237.5" width="14.1" height="14.3" fill="#a0a0a0"/><rect x="1009.7" y="1237.5" width="27.9" height="14.3" fill="#6e6e6e"/><rect x="1037.3" y="1237.5" width="97.0" height="14.3" fill="#3a3a3a"/><rect x="1134.0" y="1237.5" width="27.9" height="14.3" fill="#c8c8c8"/><rect x="1161.6" y="1237.5" width="41.7" height="14.3" fill="#a0a0a0"/><rect x="1203.0" y="1237.5" width="14.1" height="14.3" fill="#878787"/><rect x="1216.9" y="1237.5" width="14.1" height="14.3" fill="#6e6e6e"/><rect x="1230.7" y="1237.5" width="14.1" height="14.3" fill="#878787"/><rect x="1244.5" y="1237.5" width="55.5" height="14.3" fill="#949494"/><rect x="1299.7" y="1237.5" width="14.1" height="14.3" fill="#a0a0a0"/><rect x="1313.5" y="1237.5" width="14.1" height="14.3" fill="#b4b4b4"/><rect x="1327.3" y="1237.5" width="14.1" height="14.3" fill="#c8c8c8"/><rect x="1341.2" y="1237.5" width="27.9" height="14.3" fill="#3a3a3a"/><rect x="1368.8" y="1237.5" width="41.7" height="14.3" fill="#c8c8c8"/><rect x="1410.2" y="1237.5" width="41.7" height="14.3" fill="#b4b4b4"/><rect x="1451.6" y="1237.5" width="27.9" height="14.3" fill="#c8c8c8"/><rect x="1479.2" y="1237.5" width="14.1" height="14.3" fill="#3a3a3a"/><rect x="1493.1" y="1237.5" width="41.7" height="14.3" fill="#6e6e6e"/><rect x="1534.5" y="1237.5" width="27.9" height="14.3" fill="#3a3a3a"/><rect x="1562.1" y="1237.5" width="41.7" height="14.3" fill="#6e6e6e"/><rect x="1603.5" y="1237.5" width="111.1" height="14.3" fill="#a0a0a0"/><rect x="981.0" y="1251.4" width="29.0" height="14.3" fill="#ffffff"/><rect x="1009.7" y="1251.4" width="14.1" height="14.3" fill="#000000"/><rect x="1023.5" y="1251.4" width="14.1" height="14.3" fill="#a0a0a0"/><rect x="1037.3" y="1251.4" width="27.9" height="14.3" fill="#6e6e6e"/><rect x="1065.0" y="1251.4" width="83.2" height="14.3" fill="#3a3a3a"/><rect x="1147.8" y="1251.4" width="14.1" height="14.3" fill="#b4b4b4"/><rect x="1161.6" y="1251.4" width="14.1" height="14.3" fill="#878787"/><rect x="1175.4" y="1251.4" width="14.1" height="14.3" fill="#a0a0a0"/><rect x="1189.2" y="1251.4" width="14.1" height="14.3" fill="#c8c8c8"/><rect x="1203.0" y="1251.4" width="14.1" height="14.3" fill="#a0a0a0"/><rect x="1216.9" y="1251.4" width="14.1" height="14.3" fill="#6e6e6e"/><rect x="1230.7" y="1251.4" width="14.1" height="14.3" fill="#787878"/><rect x="1244.5" y="1251.4" width="55.5" height="14.3" fill="#878787"/><rect x="1299.7" y="1251.4" width="14.1" height="14.3" fill="#949494"/><rect x="1313.5" y="1251.4" width="14.1" height="14.3" fill="#b4b4b4"/><rect x="1327.3" y="1251.4" width="27.9" height="14.3" fill="#c8c8c8"/><rect x="1355.0" y="1251.4" width="83.2" height="14.3" fill="#b4b4b4"/><rect x="1437.8" y="1251.4" width="41.7" height="14.3" fill="#c8c8c8"/><rect x="1479.2" y="1251.4" width="69.3" height="14.3" fill="#3a3a3a"/><rect x="1548.3" y="1251.4" width="27.9" height="14.3" fill="#6e6e6e"/><rect x="1575.9" y="1251.4" width="14.1" height="14.3" fill="#3a3a3a"/><rect x="1589.7" y="1251.4" width="27.9" height="14.3" fill="#6e6e6e"/><rect x="1617.3" y="1251.4" width="97.3" height="14.3" fill="#a0a0a0"/><rect x="981.0" y="1265.4" width="42.8" height="14.3" fill="#ffffff"/><rect x="1023.5" y="1265.4" width="14.1" height="14.3" fill="#000000"/><rect x="1037.3" y="1265.4" width="41.7" height="14.3" fill="#6e6e6e"/><rect x="1078.8" y="1265.4" width="55.5" height="14.3" fill="#3a3a3a"/><rect x="1134.0" y="1265.4" width="14.1" height="14.3" fill="#c8c8c8"/><rect x="1147.8" y="1265.4" width="14.1" height="14.3" fill="#b4b4b4"/><rect x="1161.6" y="1265.4" width="14.1" height="14.3" fill="#a0a0a0"/><rect x="1175.4" y="1265.4" width="14.1" height="14.3" fill="#b4b4b4"/><rect x="1189.2" y="1265.4" width="14.1" height="14.3" fill="#3a3a3a"/><rect x="1203.0" y="1265.4" width="14.1" height="14.3" fill="#b4b4b4"/><rect x="1216.9" y="1265.4" width="14.1" height="14.3" fill="#6e6e6e"/><rect x="1230.7" y="1265.4" width="14.1" height="14.3" fill="#787878"/><rect x="1244.5" y="1265.4" width="14.1" height="14.3" fill="#878787"/><rect x="1258.3" y="1265.4" width="27.9" height="14.3" fill="#787878"/><rect x="1285.9" y="1265.4" width="27.9" height="14.3" fill="#878787"/><rect x="1313.5" y="1265.4" width="14.1" height="14.3" fill="#a0a0a0"/><rect x="1327.3" y="1265.4" width="14.1" height="14.3" fill="#c8c8c8"/><rect x="1341.2" y="1265.4" width="41.7" height="14.3" fill="#b4b4b4"/><rect x="1382.6" y="1265.4" width="14.1" height="14.3" fill="#c8c8c8"/><rect x="1396.4" y="1265.4" width="55.5" height="14.3" fill="#b4b4b4"/><rect x="1451.6" y="1265.4" width="41.7" height="14.3" fill="#c8c8c8"/><rect x="1493.1" y="1265.4" width="41.7" height="14.3" fill="#3a3a3a"/><rect x="1534.5" y="1265.4" width="41.7" height="14.3" fill="#6e6e6e"/><rect x="1575.9" y="1265.4" width="14.1" height="14.3" fill="#3a3a3a"/><rect x="1589.7" y="1265.4" width="27.9" height="14.3" fill="#6e6e6e"/><rect x="1617.3" y="1265.4" width="97.3" height="14.3" fill="#a0a0a0"/><rect x="981.0" y="1279.4" width="42.8" height="14.3" fill="#ffffff"/><rect x="1023.5" y="1279.4" width="14.1" height="14.3" fill="#000000"/><rect x="1037.3" y="1279.4" width="14.1" height="14.3" fill="#a0a0a0"/><rect x="1051.1" y="1279.4" width="83.2" height="14.3" fill="#6e6e6e"/><rect x="1134.0" y="1279.4" width="69.3" height="14.3" fill="#3a3a3a"/><rect x="1203.0" y="1279.4" width="14.1" height="14.3" fill="#b4b4b4"/><rect x="1216.9" y="1279.4" width="27.9" height="14.3" fill="#878787"/><rect x="1244.5" y="1279.4" width="27.9" height="14.3" fill="#787878"/><rect x="1272.1" y="1279.4" width="14.1" height="14.3" fill="#6e6e6e"/><rect x="1285.9" y="1279.4" width="14.1" height="14.3" fill="#787878"/><rect x="1299.7" y="1279.4" width="14.1" height="14.3" fill="#878787"/><rect x="1313.5" y="1279.4" width="14.1" height="14.3" fill="#949494"/><rect x="1327.3" y="1279.4" width="41.7" height="14.3" fill="#b4b4b4"/><rect x="1368.8" y="1279.4" width="27.9" height="14.3" fill="#c8c8c8"/><rect x="1396.4" y="1279.4" width="55.5" height="14.3" fill="#b4b4b4"/><rect x="1451.6" y="1279.4" width="41.7" height="14.3" fill="#c8c8c8"/><rect x="1493.1" y="1279.4" width="27.9" height="14.3" fill="#3a3a3a"/><rect x="1520.7" y="1279.4" width="55.5" height="14.3" fill="#6e6e6e"/><rect x="1575.9" y="1279.4" width="27.9" height="14.3" fill="#3a3a3a"/><rect x="1603.5" y="1279.4" width="14.1" height="14.3" fill="#6e6e6e"/><rect x="1617.3" y="1279.4" width="97.3" height="14.3" fill="#a0a0a0"/><rect x="981.0" y="1293.3" width="42.8" height="14.3" fill="#ffffff"/><rect x="1023.5" y="1293.3" width="27.9" height="14.3" fill="#000000"/><rect x="1051.1" y="1293.3" width="97.0" height="14.3" fill="#a0a0a0"/><rect x="1147.8" y="1293.3" width="41.7" height="14.3" fill="#6e6e6e"/><rect x="1189.2" y="1293.3" width="14.1" height="14.3" fill="#3a3a3a"/><rect x="1203.0" y="1293.3" width="14.1" height="14.3" fill="#b4b4b4"/><rect x="1216.9" y="1293.3" width="14.1" height="14.3" fill="#878787"/><rect x="1230.7" y="1293.3" width="14.1" height="14.3" fill="#787878"/><rect x="1244.5" y="1293.3" width="55.5" height="14.3" fill="#6e6e6e"/><rect x="1299.7" y="1293.3" width="14.1" height="14.3" fill="#787878"/><rect x="1313.5" y="1293.3" width="14.1" height="14.3" fill="#878787"/><rect x="1327.3" y="1293.3" width="27.9" height="14.3" fill="#aaaaaa"/><rect x="1355.0" y="1293.3" width="14.1" height="14.3" fill="#a0a0a0"/><rect x="1368.8" y="1293.3" width="14.1" height="14.3" fill="#aaaaaa"/><rect x="1382.6" y="1293.3" width="69.4" height="14.3" fill="#b4b4b4"/><rect x="1451.6" y="1293.3" width="27.9" height="14.3" fill="#c8c8c8"/><rect x="1479.2" y="1293.3" width="14.1" height="14.3" fill="#b4b4b4"/><rect x="1493.1" y="1293.3" width="14.1" height="14.3" fill="#c8c8c8"/><rect x="1506.9" y="1293.3" width="14.1" height="14.3" fill="#3a3a3a"/><rect x="1520.7" y="1293.3" width="55.5" height="14.3" fill="#6e6e6e"/><rect x="1575.9" y="1293.3" width="14.1" height="14.3" fill="#3a3a3a"/><rect x="1589.7" y="1293.3" width="14.1" height="14.3" fill="#b4b4b4"/><rect x="1603.5" y="1293.3" width="14.1" height="14.3" fill="#c8c8c8"/><rect x="1617.3" y="1293.3" width="14.1" height="14.3" fill="#a0a0a0"/><rect x="1631.2" y="1293.3" width="27.9" height="14.3" fill="#6e6e6e"/><rect x="1658.8" y="1293.3" width="14.1" height="14.3" fill="#000000"/><rect x="1672.6" y="1293.3" width="42.0" height="14.3" fill="#a0a0a0"/><rect x="981.0" y="1307.3" width="84.3" height="14.3" fill="#ffffff"/><rect x="1065.0" y="1307.3" width="14.1" height="14.3" fill="#000000"/><rect x="1078.8" y="1307.3" width="41.7" height="14.3" fill="#ffffff"/><rect x="1120.2" y="1307.3" width="14.1" height="14.3" fill="#000000"/><rect x="1134.0" y="1307.3" width="14.1" height="14.3" fill="#a0a0a0"/><rect x="1147.8" y="1307.3" width="14.1" height="14.3" fill="#6e6e6e"/><rect x="1161.6" y="1307.3" width="14.1" height="14.3" fill="#a0a0a0"/><rect x="1175.4" y="1307.3" width="14.1" height="14.3" fill="#3a3a3a"/><rect x="1189.2" y="1307.3" width="14.1" height="14.3" fill="#b4b4b4"/><rect x="1203.0" y="1307.3" width="14.1" height="14.3" fill="#a0a0a0"/><rect x="1216.9" y="1307.3" width="14.1" height="14.3" fill="#878787"/><rect x="1230.7" y="1307.3" width="14.1" height="14.3" fill="#787878"/><rect x="1244.5" y="1307.3" width="55.5" height="14.3" fill="#6e6e6e"/><rect x="1299.7" y="1307.3" width="14.1" height="14.3" fill="#787878"/><rect x="1313.5" y="1307.3" width="14.1" height="14.3" fill="#878787"/><rect x="1327.3" y="1307.3" width="27.9" height="14.3" fill="#a0a0a0"/><rect x="1355.0" y="1307.3" width="14.1" height="14.3" fill="#949494"/><rect x="1368.8" y="1307.3" width="14.1" height="14.3" fill="#a0a0a0"/><rect x="1382.6" y="1307.3" width="41.7" height="14.3" fill="#aaaaaa"/><rect x="1424.0" y="1307.3" width="41.7" height="14.3" fill="#b4b4b4"/><rect x="1465.4" y="1307.3" width="14.1" height="14.3" fill="#c8c8c8"/><rect x="1479.2" y="1307.3" width="27.9" height="14.3" fill="#b4b4b4"/><rect x="1506.9" y="1307.3" width="14.1" height="14.3" fill="#3a3a3a"/><rect x="1520.7" y="1307.3" width="14.1" height="14.3" fill="#6e6e6e"/><rect x="1534.5" y="1307.3" width="14.1" height="14.3" fill="#a0a0a0"/><rect x="1548.3" y="1307.3" width="27.9" height="14.3" fill="#6e6e6e"/><rect x="1575.9" y="1307.3" width="14.1" height="14.3" fill="#3a3a3a"/><rect x="1589.7" y="1307.3" width="14.1" height="14.3" fill="#b4b4b4"/><rect x="1603.5" y="1307.3" width="14.1" height="14.3" fill="#a0a0a0"/><rect x="1617.3" y="1307.3" width="14.1" height="14.3" fill="#3a3a3a"/><rect x="1631.2" y="1307.3" width="27.9" height="14.3" fill="#6e6e6e"/><rect x="1658.8" y="1307.3" width="55.8" height="14.3" fill="#a0a0a0"/><rect x="981.0" y="1321.2" width="70.4" height="14.3" fill="#878787"/><rect x="1051.1" y="1321.2" width="69.4" height="14.3" fill="#ffffff"/><rect x="1120.2" y="1321.2" width="41.7" height="14.3" fill="#000000"/><rect x="1161.6" y="1321.2" width="14.1" height="14.3" fill="#a0a0a0"/><rect x="1175.4" y="1321.2" width="14.1" height="14.3" fill="#3a3a3a"/><rect x="1189.2" y="1321.2" width="27.9" height="14.3" fill="#a0a0a0"/><rect x="1216.9" y="1321.2" width="14.1" height="14.3" fill="#878787"/><rect x="1230.7" y="1321.2" width="14.1" height="14.3" fill="#787878"/><rect x="1244.5" y="1321.2" width="27.9" height="14.3" fill="#6e6e6e"/><rect x="1272.1" y="1321.2" width="41.7" height="14.3" fill="#787878"/><rect x="1313.5" y="1321.2" width="14.1" height="14.3" fill="#878787"/><rect x="1327.3" y="1321.2" width="83.2" height="14.3" fill="#949494"/><rect x="1410.2" y="1321.2" width="14.1" height="14.3" fill="#a0a0a0"/><rect x="1424.0" y="1321.2" width="27.9" height="14.3" fill="#aaaaaa"/><rect x="1451.6" y="1321.2" width="14.1" height="14.3" fill="#b4b4b4"/><rect x="1465.4" y="1321.2" width="14.1" height="14.3" fill="#c8c8c8"/><rect x="1479.2" y="1321.2" width="27.9" height="14.3" fill="#b4b4b4"/><rect x="1506.9" y="1321.2" width="14.1" height="14.3" fill="#c8c8c8"/><rect x="1520.7" y="1321.2" width="14.1" height="14.3" fill="#3a3a3a"/><rect x="1534.5" y="1321.2" width="27.9" height="14.3" fill="#6e6e6e"/><rect x="1562.1" y="1321.2" width="14.1" height="14.3" fill="#3a3a3a"/><rect x="1575.9" y="1321.2" width="14.1" height="14.3" fill="#c8c8c8"/><rect x="1589.7" y="1321.2" width="14.1" height="14.3" fill="#b4b4b4"/><rect x="1603.5" y="1321.2" width="27.9" height="14.3" fill="#a0a0a0"/><rect x="1631.2" y="1321.2" width="14.1" height="14.3" fill="#b4b4b4"/><rect x="1645.0" y="1321.2" width="14.1" height="14.3" fill="#c8c8c8"/><rect x="1658.8" y="1321.2" width="14.1" height="14.3" fill="#6e6e6e"/><rect x="1672.6" y="1321.2" width="42.0" height="14.3" fill="#a0a0a0"/><rect x="981.0" y="1335.2" width="70.4" height="14.3" fill="#878787"/><rect x="1051.1" y="1335.2" width="97.0" height="14.3" fill="#ffffff"/><rect x="1147.8" y="1335.2" width="27.9" height="14.3" fill="#000000"/><rect x="1175.4" y="1335.2" width="14.1" height="14.3" fill="#a0a0a0"/><rect x="1189.2" y="1335.2" width="14.1" height="14.3" fill="#b4b4b4"/><rect x="1203.0" y="1335.2" width="27.9" height="14.3" fill="#878787"/><rect x="1230.7" y="1335.2" width="69.3" height="14.3" fill="#787878"/><rect x="1299.7" y="1335.2" width="27.9" height="14.3" fill="#878787"/><rect x="1327.3" y="1335.2" width="55.5" height="14.3" fill="#949494"/><rect x="1382.6" y="1335.2" width="27.9" height="14.3" fill="#878787"/><rect x="1410.2" y="1335.2" width="14.1" height="14.3" fill="#949494"/><rect x="1424.0" y="1335.2" width="14.1" height="14.3" fill="#a0a0a0"/><rect x="1437.8" y="1335.2" width="27.9" height="14.3" fill="#aaaaaa"/><rect x="1465.4" y="1335.2" width="55.5" height="14.3" fill="#b4b4b4"/><rect x="1520.7" y="1335.2" width="14.1" height="14.3" fill="#3a3a3a"/><rect x="1534.5" y="1335.2" width="41.7" height="14.3" fill="#6e6e6e"/><rect x="1575.9" y="1335.2" width="14.1" height="14.3" fill="#3a3a3a"/><rect x="1589.7" y="1335.2" width="14.1" height="14.3" fill="#b4b4b4"/><rect x="1603.5" y="1335.2" width="14.1" height="14.3" fill="#a0a0a0"/><rect x="1617.3" y="1335.2" width="27.9" height="14.3" fill="#949494"/><rect x="1645.0" y="1335.2" width="14.1" height="14.3" fill="#a0a0a0"/><rect x="1658.8" y="1335.2" width="14.1" height="14.3" fill="#c8c8c8"/><rect x="1672.6" y="1335.2" width="27.9" height="14.3" fill="#6e6e6e"/><rect x="1700.2" y="1335.2" width="14.4" height="14.3" fill="#a0a0a0"/><rect x="981.0" y="1349.2" width="56.6" height="14.3" fill="#878787"/><rect x="1037.3" y="1349.2" width="152.2" height="14.3" fill="#ffffff"/><rect x="1189.2" y="1349.2" width="14.1" height="14.3" fill="#3a3a3a"/><rect x="1203.0" y="1349.2" width="41.7" height="14.3" fill="#878787"/><rect x="1244.5" y="1349.2" width="27.9" height="14.3" fill="#787878"/><rect x="1272.1" y="1349.2" width="55.5" height="14.3" fill="#878787"/><rect x="1327.3" y="1349.2" width="55.5" height="14.3" fill="#949494"/><rect x="1382.6" y="1349.2" width="27.9" height="14.3" fill="#878787"/><rect x="1410.2" y="1349.2" width="41.7" height="14.3" fill="#949494"/><rect x="1451.6" y="1349.2" width="27.9" height="14.3" fill="#aaaaaa"/><rect x="1479.2" y="1349.2" width="27.9" height="14.3" fill="#a0a0a0"/><rect x="1506.9" y="1349.2" width="14.1" height="14.3" fill="#b4b4b4"/><rect x="1520.7" y="1349.2" width="14.1" height="14.3" fill="#c8c8c8"/><rect x="1534.5" y="1349.2" width="55.5" height="14.3" fill="#6e6e6e"/><rect x="1589.7" y="1349.2" width="14.1" height="14.3" fill="#b4b4b4"/><rect x="1603.5" y="1349.2" width="14.1" height="14.3" fill="#949494"/><rect x="1617.3" y="1349.2" width="14.1" height="14.3" fill="#a0a0a0"/><rect x="1631.2" y="1349.2" width="41.7" height="14.3" fill="#949494"/><rect x="1672.6" y="1349.2" width="14.1" height="14.3" fill="#b4b4b4"/><rect x="1686.4" y="1349.2" width="14.1" height="14.3" fill="#c8c8c8"/><rect x="1700.2" y="1349.2" width="14.4" height="14.3" fill="#6e6e6e"/><rect x="981.0" y="1363.1" width="15.2" height="14.3" fill="#878787"/><rect x="995.9" y="1363.1" width="83.2" height="14.3" fill="#ffffff"/><rect x="1078.8" y="1363.1" width="41.7" height="14.3" fill="#878787"/><rect x="1120.2" y="1363.1" width="69.3" height="14.3" fill="#ffffff"/><rect x="1189.2" y="1363.1" width="14.1" height="14.3" fill="#c8c8c8"/><rect x="1203.0" y="1363.1" width="55.5" height="14.3" fill="#878787"/><rect x="1258.3" y="1363.1" width="14.1" height="14.3" fill="#787878"/><rect x="1272.1" y="1363.1" width="41.7" height="14.3" fill="#878787"/><rect x="1313.5" y="1363.1" width="14.1" height="14.3" fill="#949494"/><rect x="1327.3" y="1363.1" width="41.7" height="14.3" fill="#a0a0a0"/><rect x="1368.8" y="1363.1" width="14.1" height="14.3" fill="#949494"/><rect x="1382.6" y="1363.1" width="14.1" height="14.3" fill="#878787"/><rect x="1396.4" y="1363.1" width="14.1" height="14.3" fill="#949494"/><rect x="1410.2" y="1363.1" width="14.1" height="14.3" fill="#a0a0a0"/><rect x="1424.0" y="1363.1" width="14.1" height="14.3" fill="#949494"/><rect x="1437.8" y="1363.1" width="14.1" height="14.3" fill="#878787"/><rect x="1451.6" y="1363.1" width="27.9" height="14.3" fill="#aaaaaa"/><rect x="1479.2" y="1363.1" width="14.1" height="14.3" fill="#a0a0a0"/><rect x="1493.1" y="1363.1" width="41.7" height="14.3" fill="#b4b4b4"/><rect x="1534.5" y="1363.1" width="14.1" height="14.3" fill="#3a3a3a"/><rect x="1548.3" y="1363.1" width="41.7" height="14.3" fill="#6e6e6e"/><rect x="1589.7" y="1363.1" width="14.1" height="14.3" fill="#b4b4b4"/><rect x="1603.5" y="1363.1" width="41.7" height="14.3" fill="#949494"/><rect x="1645.0" y="1363.1" width="41.7" height="14.3" fill="#878787"/><rect x="1686.4" y="1363.1" width="14.1" height="14.3" fill="#949494"/><rect x="1700.2" y="1363.1" width="14.4" height="14.3" fill="#3a3a3a"/><rect x="981.0" y="1377.1" width="84.3" height="14.3" fill="#ffffff"/><rect x="1065.0" y="1377.1" width="55.5" height="14.3" fill="#878787"/><rect x="1120.2" y="1377.1" width="69.3" height="14.3" fill="#ffffff"/><rect x="1189.2" y="1377.1" width="14.1" height="14.3" fill="#6e6e6e"/><rect x="1203.0" y="1377.1" width="14.1" height="14.3" fill="#a0a0a0"/><rect x="1216.9" y="1377.1" width="41.7" height="14.3" fill="#878787"/><rect x="1258.3" y="1377.1" width="14.1" height="14.3" fill="#787878"/><rect x="1272.1" y="1377.1" width="27.9" height="14.3" fill="#878787"/><rect x="1299.7" y="1377.1" width="14.1" height="14.3" fill="#949494"/><rect x="1313.5" y="1377.1" width="14.1" height="14.3" fill="#a0a0a0"/><rect x="1327.3" y="1377.1" width="27.9" height="14.3" fill="#aaaaaa"/><rect x="1355.0" y="1377.1" width="27.9" height="14.3" fill="#a0a0a0"/><rect x="1382.6" y="1377.1" width="27.9" height="14.3" fill="#949494"/><rect x="1410.2" y="1377.1" width="27.9" height="14.3" fill="#a0a0a0"/><rect x="1437.8" y="1377.1" width="27.9" height="14.3" fill="#949494"/><rect x="1465.4" y="1377.1" width="27.9" height="14.3" fill="#a0a0a0"/><rect x="1493.1" y="1377.1" width="27.9" height="14.3" fill="#b4b4b4"/><rect x="1520.7" y="1377.1" width="14.1" height="14.3" fill="#c8c8c8"/><rect x="1534.5" y="1377.1" width="14.1" height="14.3" fill="#3a3a3a"/><rect x="1548.3" y="1377.1" width="41.7" height="14.3" fill="#6e6e6e"/><rect x="1589.7" y="1377.1" width="14.1" height="14.3" fill="#c8c8c8"/><rect x="1603.5" y="1377.1" width="14.1" height="14.3" fill="#a0a0a0"/><rect x="1617.3" y="1377.1" width="14.1" height="14.3" fill="#949494"/><rect x="1631.2" y="1377.1" width="69.4" height="14.3" fill="#878787"/><rect x="1700.2" y="1377.1" width="14.4" height="14.3" fill="#a0a0a0"/><rect x="981.0" y="1391.0" width="70.4" height="14.3" fill="#ffffff"/><rect x="1051.1" y="1391.0" width="83.2" height="14.3" fill="#878787"/><rect x="1134.0" y="1391.0" width="27.9" height="14.3" fill="#ffffff"/><rect x="1161.6" y="1391.0" width="14.1" height="14.3" fill="#000000"/><rect x="1175.4" y="1391.0" width="14.1" height="14.3" fill="#ffffff"/><rect x="1189.2" y="1391.0" width="14.1" height="14.3" fill="#000000"/><rect x="1203.0" y="1391.0" width="14.1" height="14.3" fill="#3a3a3a"/><rect x="1216.9" y="1391.0" width="14.1" height="14.3" fill="#a0a0a0"/><rect x="1230.7" y="1391.0" width="55.5" height="14.3" fill="#878787"/><rect x="1285.9" y="1391.0" width="14.1" height="14.3" fill="#949494"/><rect x="1299.7" y="1391.0" width="14.1" height="14.3" fill="#a0a0a0"/><rect x="1313.5" y="1391.0" width="14.1" height="14.3" fill="#aaaaaa"/><rect x="1327.3" y="1391.0" width="27.9" height="14.3" fill="#b4b4b4"/><rect x="1355.0" y="1391.0" width="27.9" height="14.3" fill="#aaaaaa"/><rect x="1382.6" y="1391.0" width="27.9" height="14.3" fill="#a0a0a0"/><rect x="1410.2" y="1391.0" width="27.9" height="14.3" fill="#aaaaaa"/><rect x="1437.8" y="1391.0" width="41.7" height="14.3" fill="#949494"/><rect x="1479.2" y="1391.0" width="27.9" height="14.3" fill="#a0a0a0"/><rect x="1506.9" y="1391.0" width="14.1" height="14.3" fill="#b4b4b4"/><rect x="1520.7" y="1391.0" width="27.9" height="14.3" fill="#3a3a3a"/><rect x="1548.3" y="1391.0" width="27.9" height="14.3" fill="#6e6e6e"/><rect x="1575.9" y="1391.0" width="14.1" height="14.3" fill="#a0a0a0"/><rect x="1589.7" y="1391.0" width="14.1" height="14.3" fill="#6e6e6e"/><rect x="1603.5" y="1391.0" width="14.1" height="14.3" fill="#b4b4b4"/><rect x="1617.3" y="1391.0" width="83.2" height="14.3" fill="#949494"/><rect x="1700.2" y="1391.0" width="14.4" height="14.3" fill="#a0a0a0"/><rect x="981.0" y="1405.0" width="56.6" height="14.3" fill="#ffffff"/><rect x="1037.3" y="1405.0" width="97.0" height="14.3" fill="#878787"/><rect x="1134.0" y="1405.0" width="55.5" height="14.3" fill="#ffffff"/><rect x="1189.2" y="1405.0" width="14.1" height="14.3" fill="#000000"/><rect x="1203.0" y="1405.0" width="14.1" height="14.3" fill="#a0a0a0"/><rect x="1216.9" y="1405.0" width="14.1" height="14.3" fill="#6e6e6e"/><rect x="1230.7" y="1405.0" width="14.1" height="14.3" fill="#b4b4b4"/><rect x="1244.5" y="1405.0" width="41.7" height="14.3" fill="#949494"/><rect x="1285.9" y="1405.0" width="14.1" height="14.3" fill="#a0a0a0"/><rect x="1299.7" y="1405.0" width="14.1" height="14.3" fill="#b4b4b4"/><rect x="1313.5" y="1405.0" width="69.3" height="14.3" fill="#c8c8c8"/><rect x="1382.6" y="1405.0" width="55.5" height="14.3" fill="#b4b4b4"/><rect x="1437.8" y="1405.0" width="55.5" height="14.3" fill="#a0a0a0"/><rect x="1493.1" y="1405.0" width="14.1" height="14.3" fill="#b4b4b4"/><rect x="1506.9" y="1405.0" width="14.1" height="14.3" fill="#c8c8c8"/><rect x="1520.7" y="1405.0" width="14.1" height="14.3" fill="#3a3a3a"/><rect x="1534.5" y="1405.0" width="41.7" height="14.3" fill="#6e6e6e"/><rect x="1575.9" y="1405.0" width="27.9" height="14.3" fill="#a0a0a0"/><rect x="1603.5" y="1405.0" width="14.1" height="14.3" fill="#6e6e6e"/><rect x="1617.3" y="1405.0" width="14.1" height="14.3" fill="#b4b4b4"/><rect x="1631.2" y="1405.0" width="41.7" height="14.3" fill="#949494"/><rect x="1672.6" y="1405.0" width="27.9" height="14.3" fill="#878787"/><rect x="1700.2" y="1405.0" width="14.4" height="14.3" fill="#a0a0a0"/><rect x="981.0" y="1419.0" width="42.8" height="14.3" fill="#ffffff"/><rect x="1023.5" y="1419.0" width="110.8" height="14.3" fill="#878787"/><rect x="1134.0" y="1419.0" width="97.0" height="14.3" fill="#ffffff"/><rect x="1230.7" y="1419.0" width="14.1" height="14.3" fill="#3a3a3a"/><rect x="1244.5" y="1419.0" width="14.1" height="14.3" fill="#949494"/><rect x="1258.3" y="1419.0" width="14.1" height="14.3" fill="#878787"/><rect x="1272.1" y="1419.0" width="14.1" height="14.3" fill="#949494"/><rect x="1285.9" y="1419.0" width="14.1" height="14.3" fill="#a0a0a0"/><rect x="1299.7" y="1419.0" width="14.1" height="14.3" fill="#b4b4b4"/><rect x="1313.5" y="1419.0" width="14.1" height="14.3" fill="#c8c8c8"/><rect x="1327.3" y="1419.0" width="69.3" height="14.3" fill="#3a3a3a"/><rect x="1396.4" y="1419.0" width="14.1" height="14.3" fill="#c8c8c8"/><rect x="1410.2" y="1419.0" width="27.9" height="14.3" fill="#b4b4b4"/><rect x="1437.8" y="1419.0" width="14.1" height="14.3" fill="#c8c8c8"/><rect x="1451.6" y="1419.0" width="14.1" height="14.3" fill="#3a3a3a"/><rect x="1465.4" y="1419.0" width="14.1" height="14.3" fill="#c8c8c8"/><rect x="1479.2" y="1419.0" width="14.1" height="14.3" fill="#a0a0a0"/><rect x="1493.1" y="1419.0" width="27.9" height="14.3" fill="#b4b4b4"/><rect x="1520.7" y="1419.0" width="27.9" height="14.3" fill="#3a3a3a"/><rect x="1548.3" y="1419.0" width="27.9" height="14.3" fill="#6e6e6e"/><rect x="1575.9" y="1419.0" width="27.9" height="14.3" fill="#a0a0a0"/><rect x="1603.5" y="1419.0" width="14.1" height="14.3" fill="#6e6e6e"/><rect x="1617.3" y="1419.0" width="14.1" height="14.3" fill="#3a3a3a"/><rect x="1631.2" y="1419.0" width="14.1" height="14.3" fill="#949494"/><rect x="1645.0" y="1419.0" width="69.6" height="14.3" fill="#878787"/><rect x="981.0" y="1432.9" width="15.2" height="14.3" fill="#878787"/><rect x="995.9" y="1432.9" width="27.9" height="14.3" fill="#ffffff"/><rect x="1023.5" y="1432.9" width="27.9" height="14.3" fill="#878787"/><rect x="1051.1" y="1432.9" width="41.7" height="14.3" fill="#555555"/><rect x="1092.6" y="1432.9" width="27.9" height="14.3" fill="#878787"/><rect x="1120.2" y="1432.9" width="14.1" height="14.3" fill="#ffffff"/><rect x="1134.0" y="1432.9" width="27.9" height="14.3" fill="#878787"/><rect x="1161.6" y="1432.9" width="55.5" height="14.3" fill="#ffffff"/><rect x="1216.9" y="1432.9" width="14.1" height="14.3" fill="#000000"/><rect x="1230.7" y="1432.9" width="14.1" height="14.3" fill="#3a3a3a"/><rect x="1244.5" y="1432.9" width="14.1" height="14.3" fill="#949494"/><rect x="1258.3" y="1432.9" width="14.1" height="14.3" fill="#878787"/><rect x="1272.1" y="1432.9" width="14.1" height="14.3" fill="#949494"/><rect x="1285.9" y="1432.9" width="14.1" height="14.3" fill="#a0a0a0"/><rect x="1299.7" y="1432.9" width="14.1" height="14.3" fill="#b4b4b4"/><rect x="1313.5" y="1432.9" width="14.1" height="14.3" fill="#c8c8c8"/><rect x="1327.3" y="1432.9" width="41.7" height="14.3" fill="#3a3a3a"/><rect x="1368.8" y="1432.9" width="27.9" height="14.3" fill="#6e6e6e"/><rect x="1396.4" y="1432.9" width="27.9" height="14.3" fill="#a0a0a0"/><rect x="1424.0" y="1432.9" width="14.1" height="14.3" fill="#6e6e6e"/><rect x="1437.8" y="1432.9" width="14.1" height="14.3" fill="#a0a0a0"/><rect x="1451.6" y="1432.9" width="14.1" height="14.3" fill="#ffffff"/><rect x="1465.4" y="1432.9" width="14.1" height="14.3" fill="#000000"/><rect x="1479.2" y="1432.9" width="14.1" height="14.3" fill="#3a3a3a"/><rect x="1493.1" y="1432.9" width="27.9" height="14.3" fill="#b4b4b4"/><rect x="1520.7" y="1432.9" width="14.1" height="14.3" fill="#c8c8c8"/><rect x="1534.5" y="1432.9" width="27.9" height="14.3" fill="#3a3a3a"/><rect x="1562.1" y="1432.9" width="41.7" height="14.3" fill="#6e6e6e"/><rect x="1603.5" y="1432.9" width="14.1" height="14.3" fill="#a0a0a0"/><rect x="1617.3" y="1432.9" width="14.1" height="14.3" fill="#3a3a3a"/><rect x="1631.2" y="1432.9" width="14.1" height="14.3" fill="#a0a0a0"/><rect x="1645.0" y="1432.9" width="69.6" height="14.3" fill="#878787"/><rect x="981.0" y="1446.9" width="15.2" height="14.3" fill="#878787"/><rect x="995.9" y="1446.9" width="14.1" height="14.3" fill="#ffffff"/><rect x="1009.7" y="1446.9" width="27.9" height="14.3" fill="#878787"/><rect x="1037.3" y="1446.9" width="55.5" height="14.3" fill="#555555"/><rect x="1092.6" y="1446.9" width="69.3" height="14.3" fill="#878787"/><rect x="1161.6" y="1446.9" width="55.5" height="14.3" fill="#ffffff"/><rect x="1216.9" y="1446.9" width="14.1" height="14.3" fill="#000000"/><rect x="1230.7" y="1446.9" width="14.1" height="14.3" fill="#3a3a3a"/><rect x="1244.5" y="1446.9" width="27.9" height="14.3" fill="#949494"/><rect x="1272.1" y="1446.9" width="14.1" height="14.3" fill="#a0a0a0"/><rect x="1285.9" y="1446.9" width="27.9" height="14.3" fill="#b4b4b4"/><rect x="1313.5" y="1446.9" width="14.1" height="14.3" fill="#c8c8c8"/><rect x="1327.3" y="1446.9" width="14.1" height="14.3" fill="#3a3a3a"/><rect x="1341.2" y="1446.9" width="14.1" height="14.3" fill="#6e6e6e"/><rect x="1355.0" y="1446.9" width="14.1" height="14.3" fill="#a0a0a0"/><rect x="1368.8" y="1446.9" width="27.9" height="14.3" fill="#ffffff"/><rect x="1396.4" y="1446.9" width="83.2" height="14.3" fill="#878787"/><rect x="1479.2" y="1446.9" width="14.1" height="14.3" fill="#ffffff"/><rect x="1493.1" y="1446.9" width="14.1" height="14.3" fill="#a0a0a0"/><rect x="1506.9" y="1446.9" width="14.1" height="14.3" fill="#3a3a3a"/><rect x="1520.7" y="1446.9" width="27.9" height="14.3" fill="#b4b4b4"/><rect x="1548.3" y="1446.9" width="27.9" height="14.3" fill="#3a3a3a"/><rect x="1575.9" y="1446.9" width="14.1" height="14.3" fill="#c8c8c8"/><rect x="1589.7" y="1446.9" width="14.1" height="14.3" fill="#3a3a3a"/><rect x="1603.5" y="1446.9" width="27.9" height="14.3" fill="#6e6e6e"/><rect x="1631.2" y="1446.9" width="14.1" height="14.3" fill="#a0a0a0"/><rect x="1645.0" y="1446.9" width="69.6" height="14.3" fill="#878787"/><rect x="981.0" y="1460.8" width="56.6" height="14.3" fill="#878787"/><rect x="1037.3" y="1460.8" width="55.5" height="14.3" fill="#555555"/><rect x="1092.6" y="1460.8" width="69.3" height="14.3" fill="#878787"/><rect x="1161.6" y="1460.8" width="41.7" height="14.3" fill="#ffffff"/><rect x="1203.0" y="1460.8" width="14.1" height="14.3" fill="#000000"/><rect x="1216.9" y="1460.8" width="14.1" height="14.3" fill="#a0a0a0"/><rect x="1230.7" y="1460.8" width="14.1" height="14.3" fill="#3a3a3a"/><rect x="1244.5" y="1460.8" width="14.1" height="14.3" fill="#b4b4b4"/><rect x="1258.3" y="1460.8" width="14.1" height="14.3" fill="#a0a0a0"/><rect x="1272.1" y="1460.8" width="14.1" height="14.3" fill="#b4b4b4"/><rect x="1285.9" y="1460.8" width="27.9" height="14.3" fill="#c8c8c8"/><rect x="1313.5" y="1460.8" width="27.9" height="14.3" fill="#3a3a3a"/><rect x="1341.2" y="1460.8" width="14.1" height="14.3" fill="#6e6e6e"/><rect x="1355.0" y="1460.8" width="14.1" height="14.3" fill="#000000"/><rect x="1368.8" y="1460.8" width="69.3" height="14.3" fill="#555555"/><rect x="1437.8" y="1460.8" width="14.1" height="14.3" fill="#878787"/><rect x="1451.6" y="1460.8" width="27.9" height="14.3" fill="#555555"/><rect x="1479.2" y="1460.8" width="27.9" height="14.3" fill="#878787"/><rect x="1506.9" y="1460.8" width="14.1" height="14.3" fill="#a0a0a0"/><rect x="1520.7" y="1460.8" width="41.7" height="14.3" fill="#b4b4b4"/><rect x="1562.1" y="1460.8" width="27.9" height="14.3" fill="#c8c8c8"/><rect x="1589.7" y="1460.8" width="14.1" height="14.3" fill="#3a3a3a"/><rect x="1603.5" y="1460.8" width="27.9" height="14.3" fill="#6e6e6e"/><rect x="1631.2" y="1460.8" width="14.1" height="14.3" fill="#b4b4b4"/><rect x="1645.0" y="1460.8" width="69.6" height="14.3" fill="#878787"/><rect x="981.0" y="1474.8" width="70.4" height="14.3" fill="#878787"/><rect x="1051.1" y="1474.8" width="41.7" height="14.3" fill="#555555"/><rect x="1092.6" y="1474.8" width="69.3" height="14.3" fill="#878787"/><rect x="1161.6" y="1474.8" width="27.9" height="14.3" fill="#ffffff"/><rect x="1189.2" y="1474.8" width="14.1" height="14.3" fill="#000000"/><rect x="1203.0" y="1474.8" width="14.1" height="14.3" fill="#a0a0a0"/><rect x="1216.9" y="1474.8" width="14.1" height="14.3" fill="#6e6e6e"/><rect x="1230.7" y="1474.8" width="14.1" height="14.3" fill="#3a3a3a"/><rect x="1244.5" y="1474.8" width="41.7" height="14.3" fill="#c8c8c8"/><rect x="1285.9" y="1474.8" width="14.1" height="14.3" fill="#3a3a3a"/><rect x="1299.7" y="1474.8" width="14.1" height="14.3" fill="#c8c8c8"/><rect x="1313.5" y="1474.8" width="27.9" height="14.3" fill="#3a3a3a"/><rect x="1341.2" y="1474.8" width="14.1" height="14.3" fill="#6e6e6e"/><rect x="1355.0" y="1474.8" width="14.1" height="14.3" fill="#ffffff"/><rect x="1368.8" y="1474.8" width="110.8" height="14.3" fill="#555555"/><rect x="1479.2" y="1474.8" width="14.1" height="14.3" fill="#878787"/><rect x="1493.1" y="1474.8" width="14.1" height="14.3" fill="#ffffff"/><rect x="1506.9" y="1474.8" width="41.7" height="14.3" fill="#a0a0a0"/><rect x="1548.3" y="1474.8" width="14.1" height="14.3" fill="#b4b4b4"/><rect x="1562.1" y="1474.8" width="14.1" height="14.3" fill="#c8c8c8"/><rect x="1575.9" y="1474.8" width="27.9" height="14.3" fill="#3a3a3a"/><rect x="1603.5" y="1474.8" width="27.9" height="14.3" fill="#6e6e6e"/><rect x="1631.2" y="1474.8" width="14.1" height="14.3" fill="#b4b4b4"/><rect x="1645.0" y="1474.8" width="14.1" height="14.3" fill="#878787"/><rect x="1658.8" y="1474.8" width="27.9" height="14.3" fill="#949494"/><rect x="1686.4" y="1474.8" width="28.2" height="14.3" fill="#878787"/><rect x="981.0" y="1488.8" width="42.8" height="14.3" fill="#555555"/><rect x="1023.5" y="1488.8" width="27.9" height="14.3" fill="#878787"/><rect x="1051.1" y="1488.8" width="14.1" height="14.3" fill="#555555"/><rect x="1065.0" y="1488.8" width="97.0" height="14.3" fill="#878787"/><rect x="1161.6" y="1488.8" width="14.1" height="14.3" fill="#ffffff"/><rect x="1175.4" y="1488.8" width="41.7" height="14.3" fill="#a0a0a0"/><rect x="1216.9" y="1488.8" width="14.1" height="14.3" fill="#6e6e6e"/><rect x="1230.7" y="1488.8" width="14.1" height="14.3" fill="#3a3a3a"/><rect x="1244.5" y="1488.8" width="14.1" height="14.3" fill="#c8c8c8"/><rect x="1258.3" y="1488.8" width="41.7" height="14.3" fill="#3a3a3a"/><rect x="1299.7" y="1488.8" width="27.9" height="14.3" fill="#c8c8c8"/><rect x="1327.3" y="1488.8" width="14.1" height="14.3" fill="#3a3a3a"/><rect x="1341.2" y="1488.8" width="14.1" height="14.3" fill="#6e6e6e"/><rect x="1355.0" y="1488.8" width="124.6" height="14.3" fill="#555555"/><rect x="1479.2" y="1488.8" width="27.9" height="14.3" fill="#878787"/><rect x="1506.9" y="1488.8" width="14.1" height="14.3" fill="#6e6e6e"/><rect x="1520.7" y="1488.8" width="27.9" height="14.3" fill="#a0a0a0"/><rect x="1548.3" y="1488.8" width="14.1" height="14.3" fill="#c8c8c8"/><rect x="1562.1" y="1488.8" width="41.7" height="14.3" fill="#3a3a3a"/><rect x="1603.5" y="1488.8" width="27.9" height="14.3" fill="#6e6e6e"/><rect x="1631.2" y="1488.8" width="14.1" height="14.3" fill="#3a3a3a"/><rect x="1645.0" y="1488.8" width="27.9" height="14.3" fill="#c8c8c8"/><rect x="1672.6" y="1488.8" width="14.1" height="14.3" fill="#b4b4b4"/><rect x="1686.4" y="1488.8" width="28.2" height="14.3" fill="#878787"/><rect x="981.0" y="1502.7" width="56.6" height="14.3" fill="#555555"/><rect x="1037.3" y="1502.7" width="14.1" height="14.3" fill="#878787"/><rect x="1051.1" y="1502.7" width="14.1" height="14.3" fill="#555555"/><rect x="1065.0" y="1502.7" width="97.0" height="14.3" fill="#878787"/><rect x="1161.6" y="1502.7" width="14.1" height="14.3" fill="#ffffff"/><rect x="1175.4" y="1502.7" width="41.7" height="14.3" fill="#000000"/><rect x="1216.9" y="1502.7" width="14.1" height="14.3" fill="#6e6e6e"/><rect x="1230.7" y="1502.7" width="27.9" height="14.3" fill="#3a3a3a"/><rect x="1258.3" y="1502.7" width="27.9" height="14.3" fill="#6e6e6e"/><rect x="1285.9" y="1502.7" width="27.9" height="14.3" fill="#3a3a3a"/><rect x="1313.5" y="1502.7" width="14.1" height="14.3" fill="#c8c8c8"/><rect x="1327.3" y="1502.7" width="14.1" height="14.3" fill="#3a3a3a"/><rect x="1341.2" y="1502.7" width="14.1" height="14.3" fill="#a0a0a0"/><rect x="1355.0" y="1502.7" width="152.2" height="14.3" fill="#555555"/><rect x="1506.9" y="1502.7" width="14.1" height="14.3" fill="#a0a0a0"/><rect x="1520.7" y="1502.7" width="27.9" height="14.3" fill="#b4b4b4"/><rect x="1548.3" y="1502.7" width="69.3" height="14.3" fill="#3a3a3a"/><rect x="1617.3" y="1502.7" width="14.1" height="14.3" fill="#6e6e6e"/><rect x="1631.2" y="1502.7" width="27.9" height="14.3" fill="#3a3a3a"/><rect x="1658.8" y="1502.7" width="14.1" height="14.3" fill="#6e6e6e"/><rect x="1672.6" y="1502.7" width="14.1" height="14.3" fill="#3a3a3a"/><rect x="1686.4" y="1502.7" width="14.1" height="14.3" fill="#a0a0a0"/><rect x="1700.2" y="1502.7" width="14.4" height="14.3" fill="#878787"/><rect x="981.0" y="1516.7" width="42.8" height="14.3" fill="#555555"/><rect x="1023.5" y="1516.7" width="27.9" height="14.3" fill="#878787"/><rect x="1051.1" y="1516.7" width="14.1" height="14.3" fill="#555555"/><rect x="1065.0" y="1516.7" width="97.0" height="14.3" fill="#878787"/><rect x="1161.6" y="1516.7" width="55.5" height="14.3" fill="#ffffff"/><rect x="1216.9" y="1516.7" width="14.1" height="14.3" fill="#a0a0a0"/><rect x="1230.7" y="1516.7" width="55.5" height="14.3" fill="#6e6e6e"/><rect x="1285.9" y="1516.7" width="27.9" height="14.3" fill="#3a3a3a"/><rect x="1313.5" y="1516.7" width="27.9" height="14.3" fill="#c8c8c8"/><rect x="1341.2" y="1516.7" width="14.1" height="14.3" fill="#6e6e6e"/><rect x="1355.0" y="1516.7" width="124.6" height="14.3" fill="#555555"/><rect x="1479.2" y="1516.7" width="14.1" height="14.3" fill="#878787"/><rect x="1493.1" y="1516.7" width="14.1" height="14.3" fill="#ffffff"/><rect x="1506.9" y="1516.7" width="14.1" height="14.3" fill="#000000"/><rect x="1520.7" y="1516.7" width="14.1" height="14.3" fill="#c8c8c8"/><rect x="1534.5" y="1516.7" width="14.1" height="14.3" fill="#b4b4b4"/><rect x="1548.3" y="1516.7" width="14.1" height="14.3" fill="#c8c8c8"/><rect x="1562.1" y="1516.7" width="55.5" height="14.3" fill="#3a3a3a"/><rect x="1617.3" y="1516.7" width="14.1" height="14.3" fill="#6e6e6e"/><rect x="1631.2" y="1516.7" width="41.7" height="14.3" fill="#3a3a3a"/><rect x="1672.6" y="1516.7" width="14.1" height="14.3" fill="#6e6e6e"/><rect x="1686.4" y="1516.7" width="14.1" height="14.3" fill="#c8c8c8"/><rect x="1700.2" y="1516.7" width="14.4" height="14.3" fill="#878787"/><rect x="981.0" y="1530.6" width="70.4" height="14.3" fill="#555555"/><rect x="1051.1" y="1530.6" width="138.4" height="14.3" fill="#878787"/><rect x="1189.2" y="1530.6" width="27.9" height="14.3" fill="#ffffff"/><rect x="1216.9" y="1530.6" width="27.9" height="14.3" fill="#000000"/><rect x="1244.5" y="1530.6" width="14.1" height="14.3" fill="#a0a0a0"/><rect x="1258.3" y="1530.6" width="41.7" height="14.3" fill="#6e6e6e"/><rect x="1299.7" y="1530.6" width="41.7" height="14.3" fill="#3a3a3a"/><rect x="1341.2" y="1530.6" width="14.1" height="14.3" fill="#6e6e6e"/><rect x="1355.0" y="1530.6" width="14.1" height="14.3" fill="#ffffff"/><rect x="1368.8" y="1530.6" width="83.2" height="14.3" fill="#555555"/><rect x="1451.6" y="1530.6" width="27.9" height="14.3" fill="#878787"/><rect x="1479.2" y="1530.6" width="27.9" height="14.3" fill="#ffffff"/><rect x="1506.9" y="1530.6" width="14.1" height="14.3" fill="#a0a0a0"/><rect x="1520.7" y="1530.6" width="41.7" height="14.3" fill="#b4b4b4"/><rect x="1562.1" y="1530.6" width="41.7" height="14.3" fill="#c8c8c8"/><rect x="1603.5" y="1530.6" width="69.4" height="14.3" fill="#3a3a3a"/><rect x="1672.6" y="1530.6" width="14.1" height="14.3" fill="#6e6e6e"/><rect x="1686.4" y="1530.6" width="14.1" height="14.3" fill="#3a3a3a"/><rect x="1700.2" y="1530.6" width="14.4" height="14.3" fill="#b4b4b4"/><rect x="981.0" y="1544.6" width="84.3" height="14.3" fill="#555555"/><rect x="1065.0" y="1544.6" width="55.5" height="14.3" fill="#878787"/><rect x="1120.2" y="1544.6" width="41.7" height="14.3" fill="#555555"/><rect x="1161.6" y="1544.6" width="41.7" height="14.3" fill="#878787"/><rect x="1203.0" y="1544.6" width="27.9" height="14.3" fill="#ffffff"/><rect x="1230.7" y="1544.6" width="14.1" height="14.3" fill="#878787"/><rect x="1244.5" y="1544.6" width="14.1" height="14.3" fill="#000000"/><rect x="1258.3" y="1544.6" width="69.3" height="14.3" fill="#6e6e6e"/><rect x="1327.3" y="1544.6" width="14.1" height="14.3" fill="#3a3a3a"/><rect x="1341.2" y="1544.6" width="14.1" height="14.3" fill="#6e6e6e"/><rect x="1355.0" y="1544.6" width="14.1" height="14.3" fill="#878787"/><rect x="1368.8" y="1544.6" width="83.2" height="14.3" fill="#555555"/><rect x="1451.6" y="1544.6" width="27.9" height="14.3" fill="#ffffff"/><rect x="1479.2" y="1544.6" width="14.1" height="14.3" fill="#a0a0a0"/><rect x="1493.1" y="1544.6" width="14.1" height="14.3" fill="#6e6e6e"/><rect x="1506.9" y="1544.6" width="14.1" height="14.3" fill="#3a3a3a"/><rect x="1520.7" y="1544.6" width="83.2" height="14.3" fill="#b4b4b4"/><rect x="1603.5" y="1544.6" width="14.1" height="14.3" fill="#c8c8c8"/><rect x="1617.3" y="1544.6" width="14.1" height="14.3" fill="#3a3a3a"/><rect x="1631.2" y="1544.6" width="27.9" height="14.3" fill="#c8c8c8"/><rect x="1658.8" y="1544.6" width="55.8" height="14.3" fill="#3a3a3a"/><rect x="981.0" y="1558.6" width="208.5" height="14.3" fill="#555555"/><rect x="1189.2" y="1558.6" width="55.5" height="14.3" fill="#878787"/><rect x="1244.5" y="1558.6" width="14.1" height="14.3" fill="#ffffff"/><rect x="1258.3" y="1558.6" width="27.9" height="14.3" fill="#a0a0a0"/><rect x="1285.9" y="1558.6" width="55.5" height="14.3" fill="#6e6e6e"/><rect x="1341.2" y="1558.6" width="14.1" height="14.3" fill="#a0a0a0"/><rect x="1355.0" y="1558.6" width="97.0" height="14.3" fill="#555555"/><rect x="1451.6" y="1558.6" width="41.7" height="14.3" fill="#a0a0a0"/><rect x="1493.1" y="1558.6" width="14.1" height="14.3" fill="#3a3a3a"/><rect x="1506.9" y="1558.6" width="152.2" height="14.3" fill="#b4b4b4"/><rect x="1658.8" y="1558.6" width="14.1" height="14.3" fill="#c8c8c8"/><rect x="1672.6" y="1558.6" width="42.0" height="14.3" fill="#3a3a3a"/><rect x="981.0" y="1572.5" width="222.3" height="14.3" fill="#555555"/><rect x="1203.0" y="1572.5" width="41.7" height="14.3" fill="#878787"/><rect x="1244.5" y="1572.5" width="27.9" height="14.3" fill="#ffffff"/><rect x="1272.1" y="1572.5" width="14.1" height="14.3" fill="#000000"/><rect x="1285.9" y="1572.5" width="41.7" height="14.3" fill="#a0a0a0"/><rect x="1327.3" y="1572.5" width="27.9" height="14.3" fill="#6e6e6e"/><rect x="1355.0" y="1572.5" width="14.1" height="14.3" fill="#000000"/><rect x="1368.8" y="1572.5" width="69.3" height="14.3" fill="#555555"/><rect x="1437.8" y="1572.5" width="14.1" height="14.3" fill="#ffffff"/><rect x="1451.6" y="1572.5" width="14.1" height="14.3" fill="#a0a0a0"/><rect x="1465.4" y="1572.5" width="14.1" height="14.3" fill="#6e6e6e"/><rect x="1479.2" y="1572.5" width="14.1" height="14.3" fill="#a0a0a0"/><rect x="1493.1" y="1572.5" width="14.1" height="14.3" fill="#6e6e6e"/><rect x="1506.9" y="1572.5" width="14.1" height="14.3" fill="#3a3a3a"/><rect x="1520.7" y="1572.5" width="83.2" height="14.3" fill="#c8c8c8"/><rect x="1603.5" y="1572.5" width="69.4" height="14.3" fill="#b4b4b4"/><rect x="1672.6" y="1572.5" width="14.1" height="14.3" fill="#c8c8c8"/><rect x="1686.4" y="1572.5" width="28.2" height="14.3" fill="#3a3a3a"/><rect x="981.0" y="1586.5" width="222.3" height="14.3" fill="#555555"/><rect x="1203.0" y="1586.5" width="55.5" height="14.3" fill="#878787"/><rect x="1258.3" y="1586.5" width="41.7" height="14.3" fill="#ffffff"/><rect x="1299.7" y="1586.5" width="14.1" height="14.3" fill="#000000"/><rect x="1313.5" y="1586.5" width="55.5" height="14.3" fill="#a0a0a0"/><rect x="1368.8" y="1586.5" width="14.1" height="14.3" fill="#ffffff"/><rect x="1382.6" y="1586.5" width="41.7" height="14.3" fill="#878787"/><rect x="1424.0" y="1586.5" width="14.1" height="14.3" fill="#ffffff"/><rect x="1437.8" y="1586.5" width="14.1" height="14.3" fill="#a0a0a0"/><rect x="1451.6" y="1586.5" width="27.9" height="14.3" fill="#6e6e6e"/><rect x="1479.2" y="1586.5" width="14.1" height="14.3" fill="#a0a0a0"/><rect x="1493.1" y="1586.5" width="41.7" height="14.3" fill="#6e6e6e"/><rect x="1534.5" y="1586.5" width="83.2" height="14.3" fill="#3a3a3a"/><rect x="1617.3" y="1586.5" width="14.1" height="14.3" fill="#c8c8c8"/><rect x="1631.2" y="1586.5" width="41.7" height="14.3" fill="#b4b4b4"/><rect x="1672.6" y="1586.5" width="14.1" height="14.3" fill="#c8c8c8"/><rect x="1686.4" y="1586.5" width="28.2" height="14.3" fill="#3a3a3a"/><rect x="981.0" y="1600.4" width="222.3" height="14.3" fill="#555555"/><rect x="1203.0" y="1600.4" width="97.0" height="14.3" fill="#878787"/><rect x="1299.7" y="1600.4" width="14.1" height="14.3" fill="#ffffff"/><rect x="1313.5" y="1600.4" width="14.1" height="14.3" fill="#000000"/><rect x="1327.3" y="1600.4" width="179.8" height="14.3" fill="#a0a0a0"/><rect x="1506.9" y="1600.4" width="83.2" height="14.3" fill="#6e6e6e"/><rect x="1589.7" y="1600.4" width="55.5" height="14.3" fill="#3a3a3a"/><rect x="1645.0" y="1600.4" width="14.1" height="14.3" fill="#c8c8c8"/><rect x="1658.8" y="1600.4" width="14.1" height="14.3" fill="#b4b4b4"/><rect x="1672.6" y="1600.4" width="14.1" height="14.3" fill="#c8c8c8"/><rect x="1686.4" y="1600.4" width="28.2" height="14.3" fill="#3a3a3a"/><rect x="981.0" y="1614.4" width="263.8" height="14.3" fill="#555555"/><rect x="1244.5" y="1614.4" width="69.3" height="14.3" fill="#878787"/><rect x="1313.5" y="1614.4" width="27.9" height="14.3" fill="#ffffff"/><rect x="1341.2" y="1614.4" width="166.0" height="14.3" fill="#a0a0a0"/><rect x="1506.9" y="1614.4" width="110.8" height="14.3" fill="#6e6e6e"/><rect x="1617.3" y="1614.4" width="41.7" height="14.3" fill="#3a3a3a"/><rect x="1658.8" y="1614.4" width="27.9" height="14.3" fill="#c8c8c8"/><rect x="1686.4" y="1614.4" width="28.2" height="14.3" fill="#3a3a3a"/><rect x="981.0" y="1628.4" width="305.2" height="14.6" fill="#555555"/><rect x="1285.9" y="1628.4" width="41.7" height="14.6" fill="#878787"/><rect x="1327.3" y="1628.4" width="14.1" height="14.6" fill="#ffffff"/><rect x="1341.2" y="1628.4" width="152.2" height="14.6" fill="#a0a0a0"/><rect x="1493.1" y="1628.4" width="83.2" height="14.6" fill="#6e6e6e"/><rect x="1575.9" y="1628.4" width="27.9" height="14.6" fill="#a0a0a0"/><rect x="1603.5" y="1628.4" width="14.1" height="14.6" fill="#6e6e6e"/><rect x="1617.3" y="1628.4" width="97.3" height="14.6" fill="#3a3a3a"/></g>
<line x1="250.05" y1="101.75" x2="250.05" y2="829.25" stroke="#fff" stroke-width="2" stroke-dasharray="2 3.3"/>
<line x1="395.65" y1="101.75" x2="395.65" y2="829.25" stroke="#fff" stroke-width="2" stroke-dasharray="2 3.3"/>
<line x1="541.25" y1="101.75" x2="541.25" y2="829.25" stroke="#fff" stroke-width="2" stroke-dasharray="2 3.3"/>
<line x1="686.85" y1="101.75" x2="686.85" y2="829.25" stroke="#fff" stroke-width="2" stroke-dasharray="2 3.3"/>
<line x1="104.45" y1="795.10" x2="832.35" y2="795.10" stroke="#fff" stroke-width="2" stroke-dasharray="2 3.3"/>
<line x1="104.45" y1="649.50" x2="832.35" y2="649.50" stroke="#fff" stroke-width="2" stroke-dasharray="2 3.3"/>
<line x1="104.45" y1="503.90" x2="832.35" y2="503.90" stroke="#fff" stroke-width="2" stroke-dasharray="2 3.3"/>
<line x1="104.45" y1="358.30" x2="832.35" y2="358.30" stroke="#fff" stroke-width="2" stroke-dasharray="2 3.3"/>
<line x1="104.45" y1="212.70" x2="832.35" y2="212.70" stroke="#fff" stroke-width="2" stroke-dasharray="2 3.3"/>
<line x1="1125.05" y1="101.75" x2="1125.05" y2="829.25" stroke="#fff" stroke-width="2" stroke-dasharray="2 3.3"/>
<line x1="1270.65" y1="101.75" x2="1270.65" y2="829.25" stroke="#fff" stroke-width="2" stroke-dasharray="2 3.3"/>
<line x1="1416.25" y1="101.75" x2="1416.25" y2="829.25" stroke="#fff" stroke-width="2" stroke-dasharray="2 3.3"/>
<line x1="1561.85" y1="101.75" x2="1561.85" y2="829.25" stroke="#fff" stroke-width="2" stroke-dasharray="2 3.3"/>
<line x1="979.45" y1="795.10" x2="1707.35" y2="795.10" stroke="#fff" stroke-width="2" stroke-dasharray="2 3.3"/>
<line x1="979.45" y1="649.50" x2="1707.35" y2="649.50" stroke="#fff" stroke-width="2" stroke-dasharray="2 3.3"/>
<line x1="979.45" y1="503.90" x2="1707.35" y2="503.90" stroke="#fff" stroke-width="2" stroke-dasharray="2 3.3"/>
<line x1="979.45" y1="358.30" x2="1707.35" y2="358.30" stroke="#fff" stroke-width="2" stroke-dasharray="2 3.3"/>
<line x1="979.45" y1="212.70" x2="1707.35" y2="212.70" stroke="#fff" stroke-width="2" stroke-dasharray="2 3.3"/>
<clipPath id="cmo"><rect x="104.45" y="101.75" width="727.90" height="727.50"/></clipPath><g clip-path="url(#cmo)">
<rect x="431.3" y="428.9" width="69.1" height="72.7" fill="#ff0000" fill-opacity="0.4"/>
<path d="M104.5,345.8 L109.5,346.9 L161.3,358.5 L203.6,368.1 L248.0,380.8 L311.5,397.7 L370.7,416.7 L415.0,437.8 L444.0,455.1 L466.1,464.9" fill="none" stroke="#0000ff" stroke-width="2.6" stroke-dasharray="2.6 6.8"/>
<path d="M461,441 L582,524" fill="none" stroke="#00bfbf" stroke-width="5" stroke-dasharray="3 1.5"/>
<path d="M651,592 L660,612 L668,630" fill="none" stroke="#00bfbf" stroke-width="5" stroke-dasharray="3 1.5"/>
<path d="M738,560 L760,590 L776,610 L786,634" fill="none" stroke="#00bfbf" stroke-width="5" stroke-dasharray="3 1.5"/>
<path d="M655,598 L700,560 L735,542" fill="none" stroke="#00bfbf" stroke-width="5" stroke-dasharray="3 1.5"/>
<path d="M460,439 L581,525" fill="none" stroke="#008000" stroke-width="2.2"/>
<path d="M598.3,531 L679.1,553 L708.5,583.6 L737.9,560.4 L784.4,635" fill="none" stroke="#008000" stroke-width="2.2"/>
<path d="M649.8,605.7 L657.1,610.6 L782,631.4" fill="none" stroke="#008000" stroke-width="2.2"/>
<path d="M650,600 L664,645" fill="none" stroke="#008000" stroke-width="2.2"/>
<path d="M655,600 L690,575 L735,545" fill="none" stroke="#008000" stroke-width="2.2"/>
<path d="M513,493 L586.1,526.1 L599.6,533.4 L621.6,546.9 L665.7,584.9 L679.1,592.2 L701.2,621.6 L789.3,643.6" fill="none" stroke="#0000ff" stroke-width="2"/>
<path d="M679.1,592.2 L745.3,605.7 L789.3,643.6" fill="none" stroke="#0000ff" stroke-width="2"/>
<path d="M665.7,584.9 L752.6,533.4 L818.7,533.4 L834,540" fill="none" stroke="#0000ff" stroke-width="2"/>
<circle cx="586.1" cy="526.1" r="3.9" fill="#0000ff"/>
<circle cx="599.6" cy="533.4" r="3.9" fill="#0000ff"/>
<circle cx="621.6" cy="546.9" r="3.9" fill="#0000ff"/>
<circle cx="665.7" cy="584.9" r="3.9" fill="#0000ff"/>
<circle cx="679.1" cy="592.2" r="3.9" fill="#0000ff"/>
<circle cx="701.2" cy="621.6" r="3.9" fill="#0000ff"/>
<circle cx="745.3" cy="605.7" r="3.9" fill="#0000ff"/>
<circle cx="789.3" cy="643.6" r="3.9" fill="#0000ff"/>
<circle cx="752.6" cy="533.4" r="3.9" fill="#0000ff"/>
<circle cx="818.7" cy="533.4" r="3.9" fill="#0000ff"/>
<circle cx="512" cy="493" r="3.9" fill="#0000ff"/>
<path d="M460,439 L500,458 L532,472 L547,490 L581,525" fill="none" stroke="#ff0000" stroke-width="3" stroke-linejoin="round"/>
<path d="M466,465 L515,493 L547,503 L582,525" fill="none" stroke="#ff0000" stroke-width="3" stroke-linejoin="round"/>
<path d="M575,525 L576,530 L620.4,549.4 L659.5,569 L715.9,575" fill="none" stroke="#ff0000" stroke-width="3" stroke-linejoin="round"/>
<path d="M629,605.7 L680,570 L735.5,539.6" fill="none" stroke="#ff0000" stroke-width="3" stroke-linejoin="round"/>
<path d="M635,610 L690,575 L732,548" fill="none" stroke="#ff0000" stroke-width="3" stroke-linejoin="round"/>
<path d="M649.8,591 L664.4,649.8" fill="none" stroke="#ff0000" stroke-width="3" stroke-linejoin="round"/>
<path d="M659.5,625.3 L811.4,643.6" fill="none" stroke="#ff0000" stroke-width="3" stroke-linejoin="round"/>
<path d="M701.2,603.2 L713.4,603.2 L742.8,570.2 L774.6,613 L804,620.4" fill="none" stroke="#ff0000" stroke-width="3" stroke-linejoin="round"/>
<path d="M780,612 L800,615 L806,625 L803,640 L811,643" fill="none" stroke="#ff0000" stroke-width="3" stroke-linejoin="round"/>
<path d="M470,447 L533,475" fill="none" stroke="#ff0000" stroke-width="3" stroke-linejoin="round"/>
<path d="M480,450 L540,480" fill="none" stroke="#ff0000" stroke-width="3" stroke-linejoin="round"/>
<rect x="498.0" y="490.7" width="9.6" height="9.6" fill="#bf00bf"/>
<rect x="592.3" y="516.4" width="9.6" height="9.6" fill="#bf00bf"/>
<rect x="600.9" y="540.9" width="9.6" height="9.6" fill="#bf00bf"/>
<rect x="651.1" y="564.2" width="9.6" height="9.6" fill="#bf00bf"/>
<rect x="716.0" y="610.7" width="9.6" height="9.6" fill="#bf00bf"/>
<rect x="744.1" y="588.6" width="9.6" height="9.6" fill="#bf00bf"/>
<rect x="736.8" y="646.2" width="9.6" height="9.6" fill="#bf00bf"/>
<rect x="821.2" y="597.2" width="9.6" height="9.6" fill="#bf00bf"/>
<rect x="782.1" y="640.1" width="9.6" height="9.6" fill="#bf00bf"/>
</g>
<rect x="104.45" y="101.75" width="727.90" height="727.50" fill="none" stroke="#000" stroke-width="2.7"/>
<rect x="979.45" y="101.75" width="727.90" height="727.50" fill="none" stroke="#000" stroke-width="2.7"/>
<text x="104.45" y="850.80" font-size="13.7" text-anchor="middle" font-weight="normal" fill="#000" >134°E</text>
<text x="250.05" y="850.80" font-size="13.7" text-anchor="middle" font-weight="normal" fill="#000" >136°E</text>
<text x="395.65" y="850.80" font-size="13.7" text-anchor="middle" font-weight="normal" fill="#000" >138°E</text>
<text x="541.25" y="850.80" font-size="13.7" text-anchor="middle" font-weight="normal" fill="#000" >140°E</text>
<text x="686.85" y="850.80" font-size="13.7" text-anchor="middle" font-weight="normal" fill="#000" >142°E</text>
<text x="95.25" y="799.80" font-size="13.7" text-anchor="end" font-weight="normal" fill="#000" >6°N</text>
<text x="95.25" y="654.20" font-size="13.7" text-anchor="end" font-weight="normal" fill="#000" >8°N</text>
<text x="95.25" y="508.60" font-size="13.7" text-anchor="end" font-weight="normal" fill="#000" >10°N</text>
<text x="95.25" y="363.00" font-size="13.7" text-anchor="end" font-weight="normal" fill="#000" >12°N</text>
<text x="95.25" y="217.40" font-size="13.7" text-anchor="end" font-weight="normal" fill="#000" >14°N</text>
<text x="979.45" y="850.80" font-size="13.7" text-anchor="middle" font-weight="normal" fill="#000" >134°E</text>
<text x="1125.05" y="850.80" font-size="13.7" text-anchor="middle" font-weight="normal" fill="#000" >136°E</text>
<text x="1270.65" y="850.80" font-size="13.7" text-anchor="middle" font-weight="normal" fill="#000" >138°E</text>
<text x="1416.25" y="850.80" font-size="13.7" text-anchor="middle" font-weight="normal" fill="#000" >140°E</text>
<text x="1561.85" y="850.80" font-size="13.7" text-anchor="middle" font-weight="normal" fill="#000" >142°E</text>
<text x="970.25" y="799.80" font-size="13.7" text-anchor="end" font-weight="normal" fill="#000" >6°N</text>
<text x="970.25" y="654.20" font-size="13.7" text-anchor="end" font-weight="normal" fill="#000" >8°N</text>
<text x="970.25" y="508.60" font-size="13.7" text-anchor="end" font-weight="normal" fill="#000" >10°N</text>
<text x="970.25" y="363.00" font-size="13.7" text-anchor="end" font-weight="normal" fill="#000" >12°N</text>
<text x="970.25" y="217.40" font-size="13.7" text-anchor="end" font-weight="normal" fill="#000" >14°N</text>
<linearGradient id="cbg" x1="0" y1="0" x2="0" y2="1"><stop offset="0" stop-color="#000"/><stop offset="1" stop-color="#fff"/></linearGradient>
<rect x="839.5" y="101.2" width="15" height="728.4" fill="url(#cbg)" stroke="#000" stroke-width="1.2"/>
<text x="848.20" y="92.50" font-size="15.7" text-anchor="start" font-weight="normal" fill="#000" >°C</text>
<text x="861.00" y="161.80" font-size="16.8" text-anchor="start" font-weight="normal" fill="#000" >40</text>
<text x="861.00" y="215.70" font-size="16.8" text-anchor="start" font-weight="normal" fill="#000" >30</text>
<text x="861.00" y="269.60" font-size="16.8" text-anchor="start" font-weight="normal" fill="#000" >20</text>
<text x="861.00" y="323.50" font-size="16.8" text-anchor="start" font-weight="normal" fill="#000" >10</text>
<text x="861.00" y="377.40" font-size="16.8" text-anchor="start" font-weight="normal" fill="#000" >0</text>
<text x="861.00" y="431.30" font-size="16.8" text-anchor="start" font-weight="normal" fill="#000" >−10</text>
<text x="861.00" y="485.20" font-size="16.8" text-anchor="start" font-weight="normal" fill="#000" >−20</text>
<text x="861.00" y="539.10" font-size="16.8" text-anchor="start" font-weight="normal" fill="#000" >−30</text>
<text x="861.00" y="593.00" font-size="16.8" text-anchor="start" font-weight="normal" fill="#000" >−40</text>
<text x="861.00" y="646.90" font-size="16.8" text-anchor="start" font-weight="normal" fill="#000" >−50</text>
<text x="861.00" y="700.80" font-size="16.8" text-anchor="start" font-weight="normal" fill="#000" >−60</text>
<text x="861.00" y="754.70" font-size="16.8" text-anchor="start" font-weight="normal" fill="#000" >−70</text>
<text x="861.00" y="808.60" font-size="16.8" text-anchor="start" font-weight="normal" fill="#000" >−80</text>
<linearGradient id="cbw" gradientUnits="userSpaceOnUse" x1="0" y1="344.9" x2="0" y2="831.9"><stop offset="0.0000" stop-color="#5c1470"/><stop offset="0.0500" stop-color="#3c3ca0"/><stop offset="0.1000" stop-color="#2860d0"/><stop offset="0.1500" stop-color="#0c84f6"/><stop offset="0.2000" stop-color="#3aaaf8"/><stop offset="0.2500" stop-color="#5ad8f8"/><stop offset="0.2800" stop-color="#70f2f0"/><stop offset="0.3100" stop-color="#78f0a8"/><stop offset="0.3400" stop-color="#7ef07c"/><stop offset="0.3700" stop-color="#b0f07a"/><stop offset="0.4000" stop-color="#f4f484"/><stop offset="0.4300" stop-color="#fae070"/><stop offset="0.4700" stop-color="#f8b850"/><stop offset="0.5200" stop-color="#f89020"/><stop offset="0.5600" stop-color="#e06a10"/><stop offset="0.6000" stop-color="#c04010"/><stop offset="0.6400" stop-color="#a01808"/><stop offset="0.6800" stop-color="#880404"/><stop offset="0.7100" stop-color="#800000"/><stop offset="1.0000" stop-color="#800000"/></linearGradient>
<rect x="1714.5" y="344.9" width="15" height="485.2" fill="url(#cbw)"/>
<rect x="1714.5" y="101.2" width="15" height="728.9" fill="none" stroke="#000" stroke-width="1.2"/>
<text x="1722.80" y="92.50" font-size="15.7" text-anchor="start" font-weight="normal" fill="#000" >°C</text>
<text x="1736.00" y="155.20" font-size="16.8" text-anchor="start" font-weight="normal" fill="#000" >40</text>
<text x="1736.00" y="203.90" font-size="16.8" text-anchor="start" font-weight="normal" fill="#000" >30</text>
<text x="1736.00" y="252.60" font-size="16.8" text-anchor="start" font-weight="normal" fill="#000" >20</text>
<text x="1736.00" y="301.30" font-size="16.8" text-anchor="start" font-weight="normal" fill="#000" >10</text>
<text x="1736.00" y="350.00" font-size="16.8" text-anchor="start" font-weight="normal" fill="#000" >0</text>
<text x="1736.00" y="398.70" font-size="16.8" text-anchor="start" font-weight="normal" fill="#000" >−10</text>
<text x="1736.00" y="447.40" font-size="16.8" text-anchor="start" font-weight="normal" fill="#000" >−20</text>
<text x="1736.00" y="496.10" font-size="16.8" text-anchor="start" font-weight="normal" fill="#000" >−30</text>
<text x="1736.00" y="544.80" font-size="16.8" text-anchor="start" font-weight="normal" fill="#000" >−40</text>
<text x="1736.00" y="593.50" font-size="16.8" text-anchor="start" font-weight="normal" fill="#000" >−50</text>
<text x="1736.00" y="642.20" font-size="16.8" text-anchor="start" font-weight="normal" fill="#000" >−60</text>
<text x="1736.00" y="690.90" font-size="16.8" text-anchor="start" font-weight="normal" fill="#000" >−70</text>
<text x="1736.00" y="739.60" font-size="16.8" text-anchor="start" font-weight="normal" fill="#000" >−80</text>
<text x="1736.00" y="788.30" font-size="16.8" text-anchor="start" font-weight="normal" fill="#000" >−90</text>
<rect x="497.5" y="109" width="329" height="142.5" rx="4" fill="#fff" fill-opacity="0.8" stroke="#ccc" stroke-opacity="0.8" stroke-width="1.6"/>
<text x="548.00" y="127.80" font-size="15.7" text-anchor="start" font-weight="normal" fill="#000" >ARCHER Locations [1118Z]</text>
<text x="548.00" y="150.46" font-size="15.7" text-anchor="start" font-weight="normal" fill="#000" >SATCON Locations [1420Z 48 993]</text>
<text x="548.00" y="173.12" font-size="15.7" text-anchor="start" font-weight="normal" fill="#000" >ADT Tracks [1420Z 45.0 995.2]</text>
<text x="548.00" y="195.78" font-size="15.7" text-anchor="start" font-weight="normal" fill="#000" >JTWC/NHC Forecast [06/1200Z]</text>
<text x="548.00" y="218.44" font-size="15.7" text-anchor="start" font-weight="normal" fill="#000" >JTWC/NHC Tracks [06/1200Z]</text>
<text x="548.00" y="241.10" font-size="15.7" text-anchor="start" font-weight="normal" fill="#000" >Floater Locater</text>
<rect x="516.0" y="117.8" width="9.2" height="9.2" fill="#bf00bf"/>
<path d="M516.6,141.06L524.6,149.06M516.6,149.06L524.6,141.06" stroke="#00bfbf" stroke-width="2.6"/>
<line x1="503.2" x2="536.7" y1="167.72" y2="167.72" stroke="#008000" stroke-width="2"/>
<line x1="503.2" x2="536.7" y1="190.38" y2="190.38" stroke="#0000ff" stroke-width="2" stroke-dasharray="2 3.3"/>
<line x1="503.2" x2="536.7" y1="213.04000000000002" y2="213.04000000000002" stroke="#0000ff" stroke-width="2"/>
<circle cx="520.3" cy="213.04000000000002" r="3.9" fill="#0000ff"/>
<line x1="503.2" x2="536.7" y1="235.7" y2="235.7" stroke="#ff0000" stroke-width="2"/>
<rect x="102" y="803" width="313" height="27.7" rx="4" fill="#000"/>
<text x="106.80" y="821.80" font-size="17.4" text-anchor="start" font-weight="bold" fill="#fff" >Copyright © 2020-2025 Dapiya</text>
<text x="479.20" y="882.00" font-size="22.6" text-anchor="middle" font-weight="normal" fill="#000" >Wind / Pres. / ACE Diagnosis</text>
<line x1="92.8" x2="104.5" y1="1244.00" y2="1244.00" stroke="#000" stroke-width="1.8"/>
<text x="79.00" y="1248.90" font-size="13.9" text-anchor="end" font-weight="normal" fill="#000" >20</text>
<line x1="92.8" x2="104.5" y1="1176.10" y2="1176.10" stroke="#000" stroke-width="1.8"/>
<text x="79.00" y="1181.00" font-size="13.9" text-anchor="end" font-weight="normal" fill="#000" >40</text>
<line x1="92.8" x2="104.5" y1="1108.20" y2="1108.20" stroke="#000" stroke-width="1.8"/>
<text x="79.00" y="1113.10" font-size="13.9" text-anchor="end" font-weight="normal" fill="#000" >60</text>
<line x1="92.8" x2="104.5" y1="1040.30" y2="1040.30" stroke="#000" stroke-width="1.8"/>
<text x="79.00" y="1045.20" font-size="13.9" text-anchor="end" font-weight="normal" fill="#000" >80</text>
<line x1="92.8" x2="104.5" y1="972.40" y2="972.40" stroke="#000" stroke-width="1.8"/>
<text x="79.00" y="977.30" font-size="13.9" text-anchor="end" font-weight="normal" fill="#000" >100</text>
<line x1="92.8" x2="104.5" y1="904.50" y2="904.50" stroke="#000" stroke-width="1.8"/>
<text x="79.00" y="909.40" font-size="13.9" text-anchor="end" font-weight="normal" fill="#000" >120</text>
<line x1="854.5" x2="866.3" y1="1250.60" y2="1250.60" stroke="#000" stroke-width="1.8"/>
<text x="877.50" y="1255.50" font-size="13.9" text-anchor="start" font-weight="normal" fill="#000" >992.5</text>
<line x1="854.5" x2="866.3" y1="1200.50" y2="1200.50" stroke="#000" stroke-width="1.8"/>
<text x="877.50" y="1205.40" font-size="13.9" text-anchor="start" font-weight="normal" fill="#000" >995.0</text>
<line x1="854.5" x2="866.3" y1="1150.40" y2="1150.40" stroke="#000" stroke-width="1.8"/>
<text x="877.50" y="1155.30" font-size="13.9" text-anchor="start" font-weight="normal" fill="#000" >997.5</text>
<line x1="854.5" x2="866.3" y1="1100.30" y2="1100.30" stroke="#000" stroke-width="1.8"/>
<text x="877.50" y="1105.20" font-size="13.9" text-anchor="start" font-weight="normal" fill="#000" >1000.0</text>
<line x1="854.5" x2="866.3" y1="1050.20" y2="1050.20" stroke="#000" stroke-width="1.8"/>
<text x="877.50" y="1055.10" font-size="13.9" text-anchor="start" font-weight="normal" fill="#000" >1002.5</text>
<line x1="854.5" x2="866.3" y1="1000.10" y2="1000.10" stroke="#000" stroke-width="1.8"/>
<text x="877.50" y="1005.00" font-size="13.9" text-anchor="start" font-weight="normal" fill="#000" >1005.0</text>
<line x1="854.5" x2="866.3" y1="950.00" y2="950.00" stroke="#000" stroke-width="1.8"/>
<text x="877.50" y="954.90" font-size="13.9" text-anchor="start" font-weight="normal" fill="#000" >1007.5</text>
<line x1="92.8" x2="104.5" y1="1636.20" y2="1636.20" stroke="#000" stroke-width="1.8"/>
<text x="79.00" y="1641.10" font-size="13.9" text-anchor="end" font-weight="normal" fill="#000" >0</text>
<line x1="92.8" x2="104.5" y1="1589.18" y2="1589.18" stroke="#000" stroke-width="1.8"/>
<text x="79.00" y="1594.08" font-size="13.9" text-anchor="end" font-weight="normal" fill="#000" >2</text>
<line x1="92.8" x2="104.5" y1="1542.16" y2="1542.16" stroke="#000" stroke-width="1.8"/>
<text x="79.00" y="1547.06" font-size="13.9" text-anchor="end" font-weight="normal" fill="#000" >4</text>
<line x1="92.8" x2="104.5" y1="1495.14" y2="1495.14" stroke="#000" stroke-width="1.8"/>
<text x="79.00" y="1500.04" font-size="13.9" text-anchor="end" font-weight="normal" fill="#000" >6</text>
<line x1="92.8" x2="104.5" y1="1448.12" y2="1448.12" stroke="#000" stroke-width="1.8"/>
<text x="79.00" y="1453.02" font-size="13.9" text-anchor="end" font-weight="normal" fill="#000" >8</text>
<line x1="92.8" x2="104.5" y1="1401.10" y2="1401.10" stroke="#000" stroke-width="1.8"/>
<text x="79.00" y="1406.00" font-size="13.9" text-anchor="end" font-weight="normal" fill="#000" >10</text>
<line x1="92.8" x2="104.5" y1="1354.08" y2="1354.08" stroke="#000" stroke-width="1.8"/>
<text x="79.00" y="1358.98" font-size="13.9" text-anchor="end" font-weight="normal" fill="#000" >12</text>
<line x1="92.8" x2="104.5" y1="1307.06" y2="1307.06" stroke="#000" stroke-width="1.8"/>
<text x="79.00" y="1311.96" font-size="13.9" text-anchor="end" font-weight="normal" fill="#000" >14</text>
<text x="0.00" y="0.00" font-size="13.9" text-anchor="middle" font-weight="normal" fill="#000" transform="translate(35.3,1091.8) rotate(-90)">Wind</text>
<text x="0.00" y="0.00" font-size="13.9" text-anchor="middle" font-weight="normal" fill="#000" transform="translate(44.6,1466.4) rotate(-90)">ACE</text>
<text x="0.00" y="0.00" font-size="13.9" text-anchor="middle" font-weight="normal" fill="#000" transform="translate(951.5,1092.5) rotate(-90)">Pressure</text>
<clipPath id="cpw"><rect x="104.5" y="904.0" width="750.0" height="374.29999999999995"/></clipPath>
<clipPath id="cpa"><rect x="104.5" y="1278.3" width="750.0" height="374.9000000000001"/></clipPath>
<g clip-path="url(#cpw)">
<polyline points="135.5,1261.0 154.6,1261.0 173.8,1261.0 192.9,1261.0 212.0,1244.0 231.1,1244.0 250.3,1244.0 269.4,1227.0 288.5,1210.0 307.7,1210.0 326.8,1210.0 345.9,1210.0 365.1,1210.0 384.2,1210.0 403.3,1193.1 422.4,1176.1 441.6,1176.1" fill="none" stroke="#0000ff" stroke-width="5" stroke-linejoin="round"/>
<polyline points="440.8,1175.8 617.0,944.4 645.0,944.4 669.5,922.0 674.2,946.7 686.0,995.5 725.6,995.5 742.0,1074.0 756.0,1085.8 766.5,1090.5 795.7,1090.5 818.0,1105.7" fill="none" stroke="#0000ff" stroke-width="5" stroke-dasharray="5 8.8"/>
<rect x="113.5" y="912.4" width="279" height="63.4" rx="4" fill="#fff" fill-opacity="0.8" stroke="#ccc" stroke-width="2"/>
<line x1="118.7" x2="162.1" y1="928.4" y2="928.4" stroke="#0000ff" stroke-width="5"/>
<line x1="121.2" x2="162.1" y1="957.1" y2="957.1" stroke="#0000ff" stroke-width="5" stroke-dasharray="5.3 8.7"/>
<text x="174.50" y="935.40" font-size="19.1" text-anchor="start" font-weight="normal" fill="#000" >Wind[max=40]</text>
<text x="174.50" y="963.40" font-size="19.1" text-anchor="start" font-weight="normal" fill="#000" >Wind Fore.[max=115]</text>
<polyline points="135.5,919.9 154.6,980.1 192.9,980.1 231.1,1020.1 250.3,1120.3 269.4,1100.3 307.7,1100.3 345.9,1140.4 365.1,1140.4 384.2,1180.5 403.3,1180.5 422.4,1260.6 441.6,1200.5" fill="none" stroke="#1f77b4" stroke-width="5" stroke-linejoin="round"/>
<rect x="626" y="912.4" width="214" height="34" rx="4" fill="#fff" fill-opacity="0.8" stroke="#ccc" stroke-width="2"/>
<line x1="631" x2="674" y1="928.4" y2="928.4" stroke="#1f77b4" stroke-width="5"/>
<text x="686.50" y="935.40" font-size="19.1" text-anchor="start" font-weight="normal" fill="#000" >Pres.[min=992]</text>
</g>
<g clip-path="url(#cpa)">
<polyline points="135.5,1636.2 383.8,1636.2 402.9,1634.1 422,1630.3 441.1,1625.8" fill="none" stroke="#008000" stroke-width="5" stroke-linejoin="round"/>
<path d="M441.1,1625.8 L494.2,1605.3 L530.0,1582.3 L568.5,1545.1 L603.0,1501.6 L635.0,1455.6 L664.4,1409.5 L692.6,1378.8 L720.7,1348.0 L755.3,1327.6 L818.0,1295.1" fill="none" stroke="#008000" stroke-width="5" stroke-dasharray="5 8.8"/>
<rect x="113.5" y="1287.5" width="312.5" height="63.5" rx="4" fill="#fff" fill-opacity="0.8" stroke="#ccc" stroke-width="2"/>
<line x1="118.7" x2="162.1" y1="1303.3" y2="1303.3" stroke="#008000" stroke-width="5"/>
<line x1="121.2" x2="162.1" y1="1331.5" y2="1331.5" stroke="#008000" stroke-width="5" stroke-dasharray="5.3 8.7"/>
<text x="174.50" y="1310.30" font-size="19.1" text-anchor="start" font-weight="normal" fill="#000" >ACE[max=0.4425]</text>
<text x="174.50" y="1338.30" font-size="19.1" text-anchor="start" font-weight="normal" fill="#000" >ACE Fore.[max=14.5037]</text>
</g>
<rect x="104.5" y="904.0" width="750.0" height="749.2" fill="none" stroke="#000" stroke-width="2.8"/>
<line x1="104.5" x2="854.5" y1="1278.3" y2="1278.3" stroke="#000" stroke-width="2.8"/>
<rect x="979.5" y="903.6" width="749.8" height="749.6" fill="none" stroke="#000" stroke-width="2.8"/>
<rect x="991.4" y="917" width="179.7" height="31.8" rx="4" fill="#000"/>
<text x="996.80" y="938.70" font-size="20.85" text-anchor="start" font-weight="bold" fill="#fff" >WMG Count: 0</text>
</svg></body></html>
